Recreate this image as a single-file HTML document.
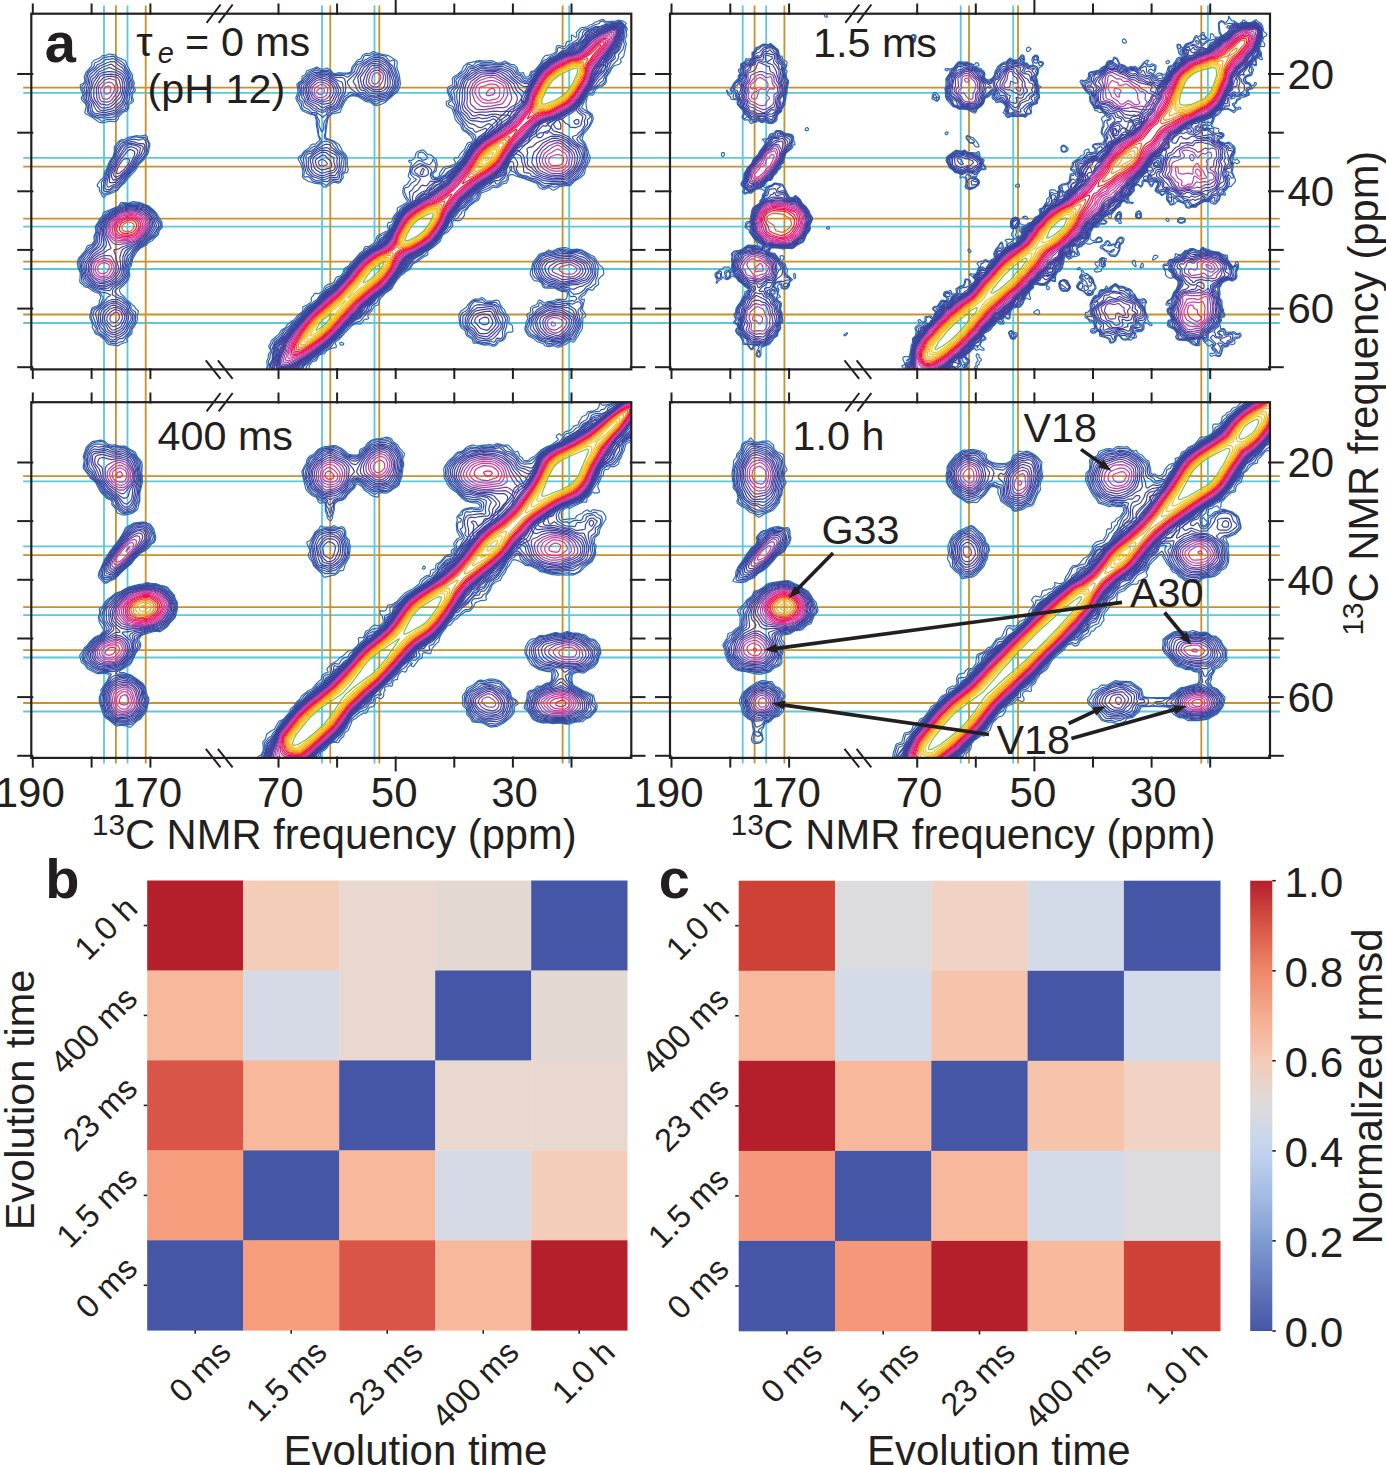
<!DOCTYPE html><html><head><meta charset="utf-8"><style>html,body{margin:0;padding:0;background:#fff}svg{display:block}text{font-family:"Liberation Sans", sans-serif;fill:#231f20}</style></head><body>
<svg width="1386" height="1465" viewBox="0 0 1386 1465">
<rect width="100%" height="100%" fill="#fff"/>
<g fill="none"><path d="M23.2 87.6L1279.8 87.6" stroke="#c8912a" stroke-width="1.8" />
<path d="M23.2 166.6L1279.8 166.6" stroke="#c8912a" stroke-width="1.8" />
<path d="M23.2 218.7L1279.8 218.7" stroke="#c8912a" stroke-width="1.8" />
<path d="M23.2 261.6L1279.8 261.6" stroke="#c8912a" stroke-width="1.8" />
<path d="M23.2 314.5L1279.8 314.5" stroke="#c8912a" stroke-width="1.8" />
<path d="M23.2 92.8L1279.8 92.8" stroke="#5bc8dc" stroke-width="1.8" />
<path d="M23.2 157.8L1279.8 157.8" stroke="#5bc8dc" stroke-width="1.8" />
<path d="M23.2 226.6L1279.8 226.6" stroke="#5bc8dc" stroke-width="1.8" />
<path d="M23.2 269.0L1279.8 269.0" stroke="#5bc8dc" stroke-width="1.8" />
<path d="M23.2 323.0L1279.8 323.0" stroke="#5bc8dc" stroke-width="1.8" />
<path d="M23.2 476.1L1279.8 476.1" stroke="#c8912a" stroke-width="1.8" />
<path d="M23.2 555.1L1279.8 555.1" stroke="#c8912a" stroke-width="1.8" />
<path d="M23.2 607.2L1279.8 607.2" stroke="#c8912a" stroke-width="1.8" />
<path d="M23.2 650.1L1279.8 650.1" stroke="#c8912a" stroke-width="1.8" />
<path d="M23.2 703.0L1279.8 703.0" stroke="#c8912a" stroke-width="1.8" />
<path d="M23.2 481.3L1279.8 481.3" stroke="#5bc8dc" stroke-width="1.8" />
<path d="M23.2 546.3L1279.8 546.3" stroke="#5bc8dc" stroke-width="1.8" />
<path d="M23.2 615.1L1279.8 615.1" stroke="#5bc8dc" stroke-width="1.8" />
<path d="M23.2 657.5L1279.8 657.5" stroke="#5bc8dc" stroke-width="1.8" />
<path d="M23.2 711.5L1279.8 711.5" stroke="#5bc8dc" stroke-width="1.8" />
<path d="M115.9 5.5L115.9 763.5" stroke="#c8912a" stroke-width="1.8" />
<path d="M145.7 5.5L145.7 763.5" stroke="#c8912a" stroke-width="1.8" />
<path d="M330.3 5.5L330.3 763.5" stroke="#c8912a" stroke-width="1.8" />
<path d="M379.3 5.5L379.3 763.5" stroke="#c8912a" stroke-width="1.8" />
<path d="M562.6 5.5L562.6 763.5" stroke="#c8912a" stroke-width="1.8" />
<path d="M104.0 5.5L104.0 763.5" stroke="#5bc8dc" stroke-width="1.8" />
<path d="M127.5 5.5L127.5 763.5" stroke="#5bc8dc" stroke-width="1.8" />
<path d="M322.0 5.5L322.0 763.5" stroke="#5bc8dc" stroke-width="1.8" />
<path d="M374.5 5.5L374.5 763.5" stroke="#5bc8dc" stroke-width="1.8" />
<path d="M569.2 5.5L569.2 763.5" stroke="#5bc8dc" stroke-width="1.8" />
<path d="M754.6 5.5L754.6 763.5" stroke="#c8912a" stroke-width="1.8" />
<path d="M784.4 5.5L784.4 763.5" stroke="#c8912a" stroke-width="1.8" />
<path d="M969.0 5.5L969.0 763.5" stroke="#c8912a" stroke-width="1.8" />
<path d="M1018.0 5.5L1018.0 763.5" stroke="#c8912a" stroke-width="1.8" />
<path d="M1201.3 5.5L1201.3 763.5" stroke="#c8912a" stroke-width="1.8" />
<path d="M742.7 5.5L742.7 763.5" stroke="#5bc8dc" stroke-width="1.8" />
<path d="M766.2 5.5L766.2 763.5" stroke="#5bc8dc" stroke-width="1.8" />
<path d="M960.7 5.5L960.7 763.5" stroke="#5bc8dc" stroke-width="1.8" />
<path d="M1013.2 5.5L1013.2 763.5" stroke="#5bc8dc" stroke-width="1.8" />
<path d="M1207.9 5.5L1207.9 763.5" stroke="#5bc8dc" stroke-width="1.8" /></g>
<defs><clipPath id="cp"><rect x="0" y="0" width="1200" height="711.4"/></clipPath></defs>
<g transform="translate(31.3,13.7) scale(.5)" clip-path="url(#cp)" fill="none" stroke-width="2.4" stroke-linejoin="round">
<path stroke="#2f6db6" d="M683 76l3 0 6 3 8 2 15 3 13 8 4 4-1 12 5 14 2 16 0 4-4 12-3 4-5 3-18 16-8 4-10 3-4-1-8-6-8-1-16-10-10-2-6 1-5 3-7 10-6 12-1 4-1 3-8 2-8 1-6 5-2 3-2 8-4 30 2 3 14 5 12 8 7 14 6 6 2 4 1 6 0 12 2 8-1 2-1 3-2 1-4 1-3 3 1 6-6 9-4 2-8-2-4 1-10 7-4 2-2 0-2-1-4-5-14-2-12-4-10-6-2-3 1-8 0-4-4-14-5-8 0-4 2-2 5-4 5-7 10-7 4-6 2-1 6 0 2-1 2-3 4-3 1-2-3-8-4-22 0-8-2-9-2-2-8-2-16-7-3-4-3-8-4-6-2-4-1-4 4-10 0-8-2-8 1-2 2-2 6-4 1-2 1-7 6-3 3-8 3-1 6-2 8-3 4-1 8 4 4 0 6-2 2 0 6 3 5 6 3 2 2 0 6-2 10 1 8 0 4-1 3-2 1-2 1-6 1-2 5-6 5-7 2-1 4-1 1-1 3-6 2-2 4-2 8 0zM152 82l2-1 2 0 10 1 2 1 5 5 7 2 8 4 1 2 3 8 4 7 2 5 4 6 1 10 3 6-1 8 3 6-1 4-4 4-1 2 0 4 2 6 0 4-2 2-6 3-1 1 0 6-3 6-2 1-6 2-2 2-7 7-2 6-3 3-4 1-8-1-6 1-6 2-4 0-4 0-4-2-11-8-7-4-7-4-1-1-1-1 3-14-2-4-6-6-2-4 1-4 2-4 0-2-4-8-1-8 0-2 6-3 3-3 0-2-1-8 3-8 12-14 0-6 2-2 3-3 12-5 4-4 6 0zM223 244l3-1 2 0 2 1 2 2 1 6 4 8 0 4-3 14-2 4-7 10-11 11-6 11-16 17-5 7-7 6-8 10-14 6-7 2-5 5-2 0-1-1-2-2-1-4-4-6 0-6-4-3 0-3 7-10 5-4 3-12 3-4 6-16 6-8 2-4 2-8 0-8 0-2 4-4 6-8 4-2 6 0 6-4 14-3 4-1 8 1zM179 378l3 0 12 1 8-3 2 0 14 2 16 6 12 10 5 6 10 16 1 10 0 2-6 6-2 8-9 8-3 4-6 3-5 5-13 7-8 9-7 12-3 14-4 6 0 6 1 8-4 10-7 8-7 6-3 4 1 4 2 4 5 4 6 8 6 4 6 6 3 2 4 6 5 4 0 2-2 8 0 8-1 4-5 10-4 5-1 9-7 6-3 4 1 6-14 5-4 3-2 0-16-2-4-2-4-6-4-4-7-6-9-4-1-2-2-6-3-4 0-8-5-12 0-4 2-6 1-6 2-4 2-1 8-3 3-2 1-4 0-4 3-6 0-2-3-6-2-1-6-2-4-2-10-7-8-2-3-4-5-4-1-2 0-2 1-14-1-4-3-6-2-10 1-6 1-4 14-16 3-8 2-2 7-2 2-2 3-4 1-2-1-8 4-10-1-8 1-4 4-6 4-8 5-5 2-7 3-2 27-11 2-2 2-4zM1065 468l5 0 10 4 12-1 10 2 18 10 6 3 10 16 2 2 4 3 2 3 1 10-1 2-6 5-4 5 0 4 1 4-1 2-6 4-4 6-2 1-6-1-2 0-2 2-4 7-2 2-4 2-2 3-1 2 3 2 4-1 0 3-2 8-2 10 6 8 1 4-1 2-4 2-1 2 0 6-1 14-5 8-3 6-3 4-5 8-2 1-6-2-2 1-5 4-15 7-4 0-6-3-10 2-6-1-3-1-3-4-12-4-2-1-5-5-11-6-3-4-3-6-1-4 2-8 0-4 4-8 0-2-2-4 0-2 3-3 3-1 2-2-1-4 1-4 3-3 8-3 2-2 2-6 2-1 4 1 6 5 6-3 10-1 10-4 14 1 2 0 3-4 1-4 0-4 0-2-2-2-8 0-8-3-6-4-12 0-6 0-5-1-2-2-2-6-3-3-4-2-8-1-2-2-6-10 0-6 3-8 2-10 13-17 2-1 10-3 6-4 2 0 6 2 10-5zM896 570l4-2 4 1 2 1 3 4 3 1 10 0 8-2 4 1 2 2 2 6 4 6 4 4 4 9 5 5 1 4-1 8 1 2 4 2 2 2 1 8 0 2-1 2-2 1-6 0-2 1-2 2-2 8-1 2-5 4-8 3-3 5-5 3-4 0-6-3-10 1-14-4-8 0-2-7-2-2-6-4-3-2-2-4-1-6-8-6-2-3-1-3-2-18 1-4 4-6 10-7 3-5 9-9 4-2 8 0zM617 658l3-1 3 1 2 2-1 2-2 1-2 0-2-1-1-2zM470 712l2-8-1-8 0-2 3-6 0-6 4-6 1-2-4-8 0-2 3-4 2-6 2-2 8-7 4-3 2-2 3-6 2-2 7-4 4-6 4-3 4-4 6-3 8-10 8-6 1-2 0-6 0-2 9-4 6-4 2-2 0-2 0-4 0-2 4-4 2-4 2-1 4 1 2 0 2-1 8-5 2-7 2-2 4-3 8-2 6-4 2-6 4-4 6-1 2-2 3-5 3-8 2-2 7-4 4-6 5-4 14-16 6-4 2-6 2-2 6 0 8-5 2-1 3-4 2-4 2-6 3-3 12-6 4-1 3-2 1-2 0-2-2-6 1-4 1-2 6-1 1-1 3-10 8-10 0-6 1-2 17-10 2-2 0-2-5-6-4-10 0-2 1-8 1-2 1-2 6-3 6-9 0-2-4-4 0-2 3-10 1-8 2-6 0-2-4-1-1-1 0-2 1-1 4 1 5-4 2-2 2-8 3-4 2-1 6-2 4 0 2 1 6 7 8 2 6 5 4 4 2 10-2 10 0 2-6 5-1 3 1 3 2 2 4 1 2-1 2-1 2-2 1-6 7-10 4-2 8-1 4-2 6-2 2-1 0-2 0-2-3-4 1-3 2-1 4 0 2-1 4-7 8-8 6-13 2-1 6-1 3-3 0-2-1-2-4-6-4-3-4-4-6-3-2-2-3-8-1-2-6-5-4-5-3-12-3-9-2-2-8-4-2-3 0-2 0-4 2-1 4-2 2-3-6-14 0-4 1-4 3-3 6-3 1-2-1-6 0-4 2-3 2-2 6-3 9-8 3-8 2-2 6-5 10-2 12-3 4 0 8 1 14-1 4 1 6 3 4 1 4 0 8-4 2 0 12 7 6 0 2 2 4 4 2 8 2 2 4 1 4-1 1 2 2 4 1 2 2 1 4-1 2-2 2-6 1-2 7-2 2-2 10-12 4-9 4-5 2-2 6-1 12-4 3-3 1-10 2-2 4 0 8 2 2 0 2-2 2-6 1-2 7-1 2-1 1-2-1-6 0-3 2 0 2 1 4 3 2 0 1-1 0-2-1-4 0-2 8-9 2-1 10-1 3-1 3-3 6-2 6-4 12-5 4 0 6 4 2 0 16-1 8-2 2 1 6 1 2 1 4 4-2 2 0 2 4 6-2 6 0 2 1 4 0 2-3 5-1 3 3 8-5 24-1 2-5 4-1 2 2 4-1 2-3 3-10 3-6 7-3 7-5 6-1 2-1 4 0 6-2 4-6 5-8 3-4 2-2 3-3 7-1 2-2 1-6-1-2 1-2 3-3 14 2 10 1 4 8 6 2 2 1 4 1 4-2 6-5 10-6 8-6 6-3 8 0 4 6 8 5 12 2 8 3 8-2 8-8 14-1 8-2 4-7 6-10 6-10 10-4 0-6 0-12 2-5 4-7 3-3-1-3-3-2-1-4 1-6 2-4 0-6-3-3-6-3-3-24-9-16-5-6-3-6 0-3 2-1 8-4 7-6 1-2 1-4 4-4 2-4 1-6-1-2 1-4 3-8 4-9 3-3 4-1 6-3 5-8 4-10 8-4 6-3 3-2 2-1 8-6 8-4 2-2 0-8 0-2 0-1 2-1 2 1 6-1 2-5 6-3 4-6 3-4 3-2 2-3 8-2 4-13 11-10 7-1 2 0 6-1 1-7 3-13 10-8 4-6 10-2 2-7 4-4 4-5 3-4 5-4 4-8 12-3 6-1 1-12 8-4 5-6 5-1 3-2 8-1 2-8 3-6 10-6 7-1 2 0 2 2 2-1 2-2 1-4 0-2 1-6 8-2 1-8-1-6 2-4 3-4 5-10 10-6 7-6 6-5 3-1 2 0 2 2 4 0 2-1 2-7 1-8 3-3 2-3 4-2 2-8 2-2 1-2 3-4 8-8 2-6 8-1 8"/>
<path stroke="#2e5aab" d="M683 80l25 5 2 1 2 4 4 4 2 1 4-2 2 0 2 1 1 2-1 8 6 18 2 6 1 4 0 8-4 14-7 6-4 4-12 10-10 2-8 5-4-1-8-6-8-1-6-4-10-5-12-2-2 0-10 6-6 8-4 9-5 7-7 4-6 1-6 5-2 2-2 7-2 5-2 14 0 8-2 6 0 4 2 3 12 3 4 2 7 8 4 8 9 8 3 4 2 4 0 4 0 6 0 4-1 10 0 2-2 2-5 4-1 2 0 6-2 5-2 2-2 1-12-2-4 2-6 6-2 1-2 0-3-3-3-1-12-2-5-1-3-2-5-6-3-2-2 0-4 1-2-1-1-2 1-8-2-8-2-10-3-6-1-2 8-12 2-2 9-4 5-5 2-1 8-2 7-8 1-2 0-2-5-8-1-12-2-8 0-10-4-12-2-1-6-1-8-5-8-3-3-4-1-8-7-8-1-4 4-10-1-8-1-6 0-2 1-2 7-6 3-6 5-4 4-7 2-1 12-6 4 0 8 4 14-1 4 2 4 5 4 2 2 0 8-1 16 0 4-1 5-4 3-8 8-10 2-2 6 0 2-2 3-8 2-2 3-1 6 1zM157 86l5-1 4 1 6 5 8 4 7 7 3 8 4 4 5 10 1 8 3 6 0 8 1 6 0 2-4 5-1 3 1 6 1 6-2 2-3 1-3 3 0 2 0 6-3 4-9 4-8 8-5 7-18 1-8 3-3-1-3-3-14-6-9-7-1-4 0-8-1-4-7-12-1-2 3-8-4-8-1-6 1-2 6-6 1-2 0-8 3-10 2-3 11-9 2-8 6-2 5-3 6-5zM201 248l7-2 10 2 8-1 2 1 2 2 4 8 1 4-4 18-10 14-8 8-7 10-6 6-10 12-4 6-6 6-8 10-2 1-6 1-7 4-7 1-4 3-2-1-4-7 0-2 1-6-1-8 1-2 5-6 3-12 3-6 6-16 4-6 3-6 3-8 1-8 5-6 2-4 2-3 2 0 6 0 2 0 6-4zM776 278l4-1 2 0 2 1 8 8 0 2-1 2-3 2-4 1-2 0-4-4-4-1-1-4 1-4zM183 380l11 0 8-1 12 0 18 5 4 3 8 7 6 8 5 10 4 6 1 6-1 4-5 5-2 7-3 4-15 11-4 5-13 8-10 10-6 12-3 12-4 6 0 16-4 10-6 6-8 6-8 7-1 3 1 2 7 6 7 3 6 7 6 4 3 2 2 4 1 6 2 2 6 4 1 4-1 16-2 5-6 9-1 6-2 4-8 8-3 5-2 2-2 1-6 1-6 3-4 0-8-1-3-1-7-8-10-8-8-4-1-2 1-6-4-6-6-15-1-5 3-12 2-2 9-4 3-2 3-4 2-6 3-4 0-2-5-8-3-3-10-4-6-5-12-5-7-7-1-16-4-10-1-14 1-5 8-10 5-5 5-8 8-5 5-7 1-2-1-8 4-10 0-10 0-2 8-12 11-14 16-9 9-3 5-5zM1054 472l10-1 4 0 10 3 14-1 10 2 4 2 14 10 4 2 3 3 7 14 0 2-1 6 0 6-1 6-3 6 0 6 0 2-6 4-3 3-8 3-4 6-8 6-5 6 0 2 1 2 5 4 1 2 0 6-4 10 1 2 4 4 0 2-3 6-1 2 1 8-2 10-12 23-2 2-6-1-4 1-7 5-11 6-3 0-5-3-2 0-8 2-4 0-3-1-5-5-10-3-8-6-12-6-6-8-1-4 7-20 0-6 6-4 1-2 1-2-2-4 1-2 2-2 7-2 2-1 2-6 1-1 2 0 3 4 4 1 8-5 12-1 6-3 4 0 10 2 6-1 4 0 4-1 6 1 2-1 2-2 1-2-1-2-2-2-2-1-6 1-2-1-2-2-2-7-2-2-10 0-6-2-7-4-3-1-10-1-6 1-3-1-7-10-4-3-9-5-4-6-1-8 3-14 7-9 5-7 3-3 14-5 6 1 4-1zM899 572l3 0 4 4 4 2 16-1 4 1 2 2 6 6 3 8 11 14 0 2-1 14-2 6-2 6 0 8-2 4-3 4-2 1-6 0-2 1-3 6-3 2-2 0-2 0-4-3-12 2-19-5-5-8-4-3-5-3-1-2 0-4-2-4-9-8-2-2-1-14 2-6 2-4 6-3 4-3 2-2 2-8 8-8 4-1 6 1zM472 712l2-8 0-4 0-4 3-6 1-8 3-6 0-2-3-6 0-2 4-6 2-6 12-9 4-5 3-6 7-5 8-6 4-6 8-5 4-6 10-10 4-8 14-9 4-4 6-4 6-9 8-6 2-5 2-3 4-2 6-2 8-5 6-9 6-4 4-4 2-4 2-6 2-2 6-4 22-25 7-5 4-6 7-3 10-5 4-4 2-4 2-6 2-3 8-3 10-6 2-4 1-8 5-3 2-3 3-12 8-10 3-6 2-2 14-10 2-2 0-2-5-6-2-6-2-4-1-2 0-4 0-2 2-2 6-1 1-1 5-7 8-5 2-2-1-2-3-1-8-8 0-3 1-8 1-3 2-2 8-8 4-3 2 0 4 1 10 5 6 2 2-1 4-5 1-4 1-1 2 3 3 6 0 4-3 10-5 6 0 4 3 4 4 2 4 0 3-2 4-4 6-8 2-4 1-2 10-3 8-3 3-2 4-6 5-5 4-5 5-10 5-6 3-8 8-4 2-2 1-2 0-4-3-6-3-3-4-2-6-5-5-2-1-2-2-8-2-3-6-6-4-8-6-18-2-2-6-2-1-1-1-2 1-2 5-4 1-4-6-12 0-4 0-2 1-2 10-6 1-2-1-10 1-4 7-4 4-4 6-4 2-2 6-11 2-2 2 0 6 3 2-1 5-5 7-2 10 2 16 0 6 2 4 1 6 0 6-2 4 0 4 1 6 4 8 3 3 3 3 8 2 2 6 2 2 1 3 5 3 2 4 1 5-3 1-2 2-6 1-2 7-3 10-12 6-9 2-1 4-1 8-7 8-3 3-2 3-4 0-6 2-2 4 0 6 2 3 0 7-7 18-11 3-4 0-8 4-6 2-2 3-1 8-1 16-8 6-2 2-1 2-3 4-1 2 0 4 4 2 0 20-2 6-3 2 1 4 3 5 6 2 4 0 2-2 6 0 8-3 8 0 2 2 6 0 2-3 10-9 10 1 4-3 7-8 8-6 9-4 8-5 8-1 8-2 4-5 4-9 4-4 3-3 3-3 6-2 1-4 0-2 0-3 5-8 18-2 4 0 2 1 1 6 4 10 7 2 4 1 4 0 4-5 12-10 11-9 13 0 2 1 2 8 9 3 7 2 6 1 8 2 8-1 4-2 6-5 9-3 9-3 4-6 6-8 5-6 6-4 3-20 1-3 1-5 3-2 0-6-2-4 0-10 3-2 0-2-1-9-9-3-1-32-11-6-3-6-6-6-3 1-4-1-5-2 1-1 2 0 2 1 4-6 10-1 8-2 2-7 3-7 7-5 1-6-2-10 6-12 5-2 1-4 5-3 10-3 2-4 2-10 8-6 8-7 4-2 2-1 4-4 4-2 4-3 2-7 1-3 1-1 4-1 8-5 5-3 5-9 7-7 13-11 11-10 7-4 4-1 4-2 2-7 4-10 8-8 5-6 10-8 5-10 8-8 10-12 18-10 7-6 5-6 4-5 12-7 4-2 2-2 2 0 4-3 4-12 12-5 7-2 2-8 2-13 7-8 10-5 4-5 8-9 6-4 4-3 6-3 4-10 6-6 5-6 3-4 2-4 7-2 2-6 2-2 1-8 10-2 2 0 4-2 2"/>
<path stroke="#3450a6" d="M680 86l4-2 10 1 10 3 4 3 14 13 4 8 6 20 0 10-4 10-8 10-6 5-8 4-10 2-8 3-2 0-8-5-6 0-2-1-6-4-8-3-8-2-6-3-4-1-2 1-3 4-7 4-1 2-6 14-5 6-6 4-9 2-5 5-3 9-5 8-1 4 0 8-1 4-2 4-2-1-4-10-1-3 1-8-4-7-2-7-2-2-6 0-2-1-6-6-6-3-2-1-2-3-1-8-5-3-2-3 0-4 2-4 0-4 0-6-2-8 1-2 7-6 2-4 6-6 4-6 4-3 8-4 2 0 10 3 14 0 2 1 6 5 4 2 4 0 12-1 4 1 4 2 2 1 2-1 12-10 2-6 4-8 2-1 8-3 6-6zM162 90l2 0 4 2 16 12 2 2 2 6 5 6 2 4 5 18 0 10-4 10 0 12-6 8-1 8-1 2-8 3-14 13-4 1-16 2-14-2-8-3-5-4-4-4-1-4 1-6-1-4-7-12 0-2 1-8 0-3-3-7 1-4 5-8 1-12 2-6 2-3 12-9 4-6 9-4 7-6 10-1zM201 252l5-1 10 2 4-2 4-1 3 2 3 6 1 4-1 14-1 4-11 14-6 5-7 11-16 18-5 7-6 5-6 7-2 1-6 1-8 6-4 1-6-1-2-2 0-3 1-14 4-8 1-8 4-8 5-14 6-10 6-16 9-13 8-2 8-4zM585 256l5-1 10 3 2 2 2 4 4 4 4 6 10 8 3 4 1 4-1 6 0 6-2 6 0 4 0 2-5 4-1 2-1 8-2 3-4 1-10-1-2 0-6 5-2 0-20-2-6-3-8-8-5-3-1-2-4-14-1-8-1-6 1-4 3-6 2-2 2-1 8-2 6-5 8-5 8-8zM186 382l10 0 6-1 10 0 20 5 11 10 6 8 4 10 5 6 0 4-1 2-6 8-4 8-13 11-6 6-11 7-12 10-6 14-3 10-4 6-1 4 1 12-6 12-4 4-16 10-3 4-1 8 0 2 10 6 8 2 6 6 7 4 3 4 2 9 7 7 1 4-1 12-7 12-2 8-2 3-12 11-6 0-8 6-6 0-4 0-2-2-6-6-17-12 0-6-4-8-1-5-2-5-3-8 1-6 2-5 4-3 7-4 7-10 5-4 3-5 6-3 0-2-9-4-7 0-14-7-7-5-8-4-7-6-2-4-2-12-3-10-2-14 2-4 7-10 6-6 4-5 6-4 7-9 1-4 0-8 3-10 0-10 2-4 7-10 8-10 4-3 14-9 6-2 8-5zM1056 474l4-1 4 0 12 3 16-1 10 3 6 3 10 8 6 4 2 3 3 12 0 12-1 6-8 12-3 4-7 4-4 6-5 4-7 4-6 1-4 0-9-9-3-1-8 0-4 0-4-1-8-4-12-2-8-3-17-15-4-8-1-6 1-10 11-16 2-2 4-2 8-3 12-1zM884 578l2-2 2 0 6 1 6 0 8 3 14 0 6 2 6 4 1 2 1 6 1 2 7 6 3 6 2 4-2 6-1 8-4 10 1 8-1 3-2 2-2 1-6-1-2 1-2 5-2 2-2 0-4-2-2 0-10 3-6-1-7-1-5-2-8-11-6-5-4-6-8-10-1-2 0-12 1-4 6-5 6-6 1-3 2-6zM1053 578l5 0 8 2 6-1 10 2 10-5 2 0 4 2 1 2 1 4-2 4-4 4-1 4 3 8 0 6 2 8-1 4-4 10-9 16-2 1-6 1-5 2-11 8-4 1-10-3-8 2-4 0-6-4-10-3-8-7-11-6-6-8 0-4 3-6 1-10 2-4 7-8 4-7 10-7 8-2 6-3 14-2zM476 712l1-6-1-4 1-2 4-6 1-4 0-8 2-8-2-6 1-2 4-10 11-8 8-13 6-3 8-8 4-5 7-5 14-16 5-8 6-5 9-5 9-8 6-9 7-5 5-7 10-5 8-6 6-8 6-5 5-5 5-10 7-6 19-22 8-6 6-6 18-10 10-14 4-2 10-8 3-4 4-8 3-3 2-3 3-12 2-4 11-14 16-12 1-2 0-2-2-6 0-4-1-7 1-1 5-4 4-7 6-4 6-9 0-2-4-4-3-2-5-2-5-4 0-4 2-6 11-7 2-1 6 1 6 2 6 3 6 6 1 2-3 8 1 4 2 4 3 2 2 0 4 0 4-1 8-6 6-3 5-6 5-3 4-3 8-5 5-7 5-4 5-6 4-10 7-8 2-6 8-6 2-2 1-6 0-4-2-4-19-14-3-6-3-6-5-6-7-13-2-5-1-8-1-3-3-3 0-10-4-10 0-2 2-4 9-8 1-4-2-6 1-3 10-8 8-5 6-11 2-1 8 1 8-5 6-2 8 1 14 0 12 2 10-1 4 0 18 9 2 3 4 6 2 2 6 2 2 2 4 6 2 1 4 2 2-1 7-4 3-8 6-4 17-20 7-4 8-7 9-3 11-9 8-2 2-1 4-4 10-8 10-4 6-8 2-4 1-6 1-2 2-2 13-4 9-4 8 0 10-4 24-3 8-3 4 3 4 5 0 4-2 8 1 8-3 8-1 8-4 12-4 4-5 4-1 2 1 6-1 2-7 6-8 20-5 8-3 10-6 4-3 4-9 6-6 5-6 3-4 6-8 16-6 8 0 2 4 5 4 3 6 2 4 2 2 2 2 4-1 2-3 2-2 3 1 7-1 2-5 6-7 12-6 6-3 4 1 3 2 3 8 5 4 5 3 8 1 16-1 6-2 6-3 5-4 9-6 8-10 8-6 5-4 2-12 2-22 1-12 3-2 0-16-11-10-3-8-3-8-2-10-4-4-4-4-6-1-4 0-6-1-4-2-2-2 0-2 0-2 3-2 5-2 4-1 2 0 8-3 7-2 4-6 5-4 5-2 2-2 0-3-1-2-4-3 0-6 6-19 10-6 8-2 6-1 2-6 3-4 4-6 4-6 8-8 4-3 3-9 12-6 2-2 2-10 20-8 9-8 13-9 10-14 10-9 9-14 8-9 9-5 8-18 15-20 28-8 5-6 6-8 5-8 11-9 8-1 2-1 6-1 2-6 5-5 3-5 7-8 3-17 12-6 8-5 5-5 7-12 10-8 10-9 6-6 5-8 5-6 7-9 5-5 6-8 6-3 6-1 2"/>
<path stroke="#364ca3" d="M481 712l0-2-3-6 1-4 3-5 1-5 2-14 0-10 2-6 3-4 8-6 10-11 24-24 21-25 21-17 7-9 5-4 6-8 11-6 7-6 6-7 12-11 5-8 11-12 14-17 16-12 16-9 10-12 15-14 11-17 5-13 2-4 11-13 6-6 19-13 6-6 7-6 10-6 9-8 5-7 8-4 8-7 8-6 4-5 16-12 14-15 7-12 5-8 3-6 9-7 6-10 14-10 16-17 6-5 6-7 12-11 8-8 6-4 10-5 3-2 9-16 4-6 4-10 9-14 4-8 9-12 10-11 16-12 8-3 14-10 8-3 6-5 8-6 10-4 10-12 4-8 5-4 15-6 8-1 14-3 9-2 19-5 2 1 2 1 3 5 0 6-6 28-5 14-2 3-5 5-3 8-7 8-5 8-8 10-8 7-6 7-4 6-3 8-3 6-8 9-12 21-6 7-6 8-8 6-10 5-6 5-4 2-6 1-4 2-9 8-3 8-2 3-6 2-6 3-8 1-6 5-7 4-7 8-6 4-12 12-8 6-14 18-6 14-1 8-2 4-3 4-8 7-2 1-6 0-4 1-6 4-8 3-11 8-12 14-8 8-8 6-5 7-12 9-8 10-6 5-9 17-9 11-8 13-9 10-25 21-10 5-4 3-12 14-18 17-20 26-14 12-8 6-11 12-9 8-1 2-3 7-7 7-5 6-11 6-14 12-17 19-12 11-10 10-21 16-7 6-9 6-6 6-5 4-6 7-2 2-4 1"/>
<path stroke="#3949a0" d="M684 88l10 0 6 1 10 7 6 6 4 6 9 22 0 6 0 6-3 8-9 12-3 2-6 3-20 5-2 0-8-3-6-1-8-6-11-2-3-2-11-8-6-10-1-4 1-2 17-16 5-12 2-2 7-4 8-6zM152 98l6-2 8 0 3 2 5 5 8 5 11 16 4 16 0 8-3 8-3 16-6 14-6 4-7 7-8 5-8 1-8 2-14-1-6-1-4-2-3-3-3-4-1-12-5-8-2-4 1-10-1-12 4-10 1-10 3-7 6-5 12-11zM565 118l5-1 10 1 14 1 12 8 4 1 10-1 3 1 3 2 1 2 1 4 1 10-1 10-2 6-5 6-6 14-3 4-4 3-10 2-4 2-2 3-2 6-4 2-2 3-2 0-5-5-5-3-2-4-6-2-8-7-6-3-2-3-2-6-5-6 0-14-1-10 14-16 4-6zM1050 214l-5 6 0 2 0 2 5 6 4 1 2 0 2 0 1-3 0-4-1-5-2-4-2-2-2 0zM192 258l6-2 6 0 4 1 8 3 8 0 2 2 1 4 0 6-1 6-10 13-6 7-4 8-3 4-7 8-23 24-3 2-7 2-7 6-2 0-4 0-2-2-1-2 1-12 3-8 2-8 8-20 5-8 4-11 4-7 6-9 4-4zM586 262l4-1 7 1 4 6 5 3 4 5 8 6 3 4 1 2 0 2-2 8-1 12 0 2-5 6-1 8-3 2-4 0-6-1-2 0-12 5-4 0-4-1-8-3-4-1-4-2-8-9-3-8-1-4 0-8-1-8 1-5 2-2 8-2 8-7zM775 306l3-1 4-1 4 1 4 3 2 2 2 4 0 4 0 2-1 2-5 3-6 1-4-1-10-7-2-3 1-3zM187 384l23-1 18 4 4 1 10 10 5 8 3 9 4 5 1 2-1 4-10 16-12 10-6 6-10 6-12 10-9 16-2 8-4 8 0 4 1 8-1 4-5 10-8 7-12 6-6 8-2 1-18-2-8-3-14-8-8-9-2-4-2-10-3-8-1-8 1-6 2-4 7-10 14-14 8-10 1-4 0-8 2-8 1-12 3-6 7-10 6-7 6-5 12-7zM1059 476l5 0 10 2 16 0 14 4 6 4 12 12 1 2 2 6 1 12 0 4-2 4-9 12-9 4-4 3-6 1-5 2-5 3-4 0-2 0-5-3-3-1-8 2-4-1-4-1-8-4-12-2-10-6-11-9-5-10-1-6 2-8 9-14 4-4 4-1 19-3zM160 572l12 0 4 1 14 9 3 4 2 8 1 2 6 6 1 4-1 8-13 24-9 7-8 3-6 4-4 1-4-2-5-5-15-12-2-6-3-6-1-8-4-14 3-6 7-6 8-9 8-5zM887 584l3-1 6-1 12 1 12-1 4 1 4 2 3 3 3 11 2 2 5 5 2 6 0 12-1 4-2 3-4 5-4 6-8 8-12 4-14-1-4-1-4-3-5-7-9-9-5-7-2-4-1-4 0-10 3-4 13-17zM1035 584l11-2 12 0 10 2 4-2 2 0 12 8 2 2 1 2 6 24-1 4-3 8-9 14-4 3-8 3-10 7-4 1-10-2-10 0-6-2-10-3-13-11-9-10 0-2 2-6 0-8 2-6 10-12 8-6zM482 712l-1-2-2-4 0-2 5-10 2-18 0-8 1-4 4-6 8-6 9-12 6-5 12-14 6-5 6-6 16-20 12-8 8-7 8-11 6-5 4-4 8-5 11-8 6-8 7-6 5-6 5-8 24-28 10-7 10-8 14-7 24-26 6-10 5-6 4-12 3-6 12-14 12-9 4-5 1-2-1-6 2-8 1-2 9-6 6-8 2-1 4 1 4 0 3-2 5-7 6 1 10-2 10-7 8-3 4-5 14-11 16-18 6-12 5-6 3-6 9-8 5-9 2-2 7-3 5-4 2-4 1-4-1-2-2-1-6 3-6 2-6 3-2 0-2-2-3-5-5-1-4-2-14-19-3-6-5-7-1-3 0-8-4-10 0-10-2-6 0-2 0-2 6-6 2-4 1-8 2-4 4-4 11-8 5-9 2-1 8-1 10-5 4-1 32 3 8-1 4 1 16 7 7 9 3 3 6 3 5 6 7 3 4 0 4-1 5-4 4-8 5-5 7-9 9-10 6-3 8-7 8-3 14-9 10-3 14-12 8-3 3-2 9-8 2-4 1-6 4-4 13-5 10-1 14-6 20-3 8-2 2-1 2 2 2 2 0 6-2 8 0 6-3 8-1 6-3 6-2 10-2 2-7 6-4 8-6 6-1 4-2 14-1 4-9 12-5 4-7 10-17 14-12 20-6 8-1 2 0 4 3 4 4 4 7 4 2 2 0 2 0 2-3 6 0 2 1 4 0 2-5 9-2 3-5 4-3 4-2 1-6 2-1 1-1 2 1 2 7 8 12 8 3 4 1 6 1 12 0 6-2 4-7 14-6 9-14 12-6 4-3 1-7 1-10 0-24 1-6-3-10-6-12-2-8-4-8-1-8-4-4-4-2-6 0-2 3-6-1-6-5-8-1-1-2 0-2 1-6 5-2 4-6 12-1 9-2 4-5 3-17 7-5 5-8 3-6 5-6 3-6 7-6 5-6 7-3 5-7 4-5 6-12 10-7 10-8 7-9 19-7 8-8 13-9 11-27 21-12 5-21 24-11 10-20 28-14 11-6 3-14 16-7 6-1 2-1 6-2 2-7 5-6 7-8 4-7 6-9 7-12 13-4 6-13 12-10 10-21 15-6 6-8 5-8 8-7 4-3 6-14 4"/>
<path stroke="#3a48a0" d="M484 712l-2-4 0-2 4-14 2-16 0-8 1-4 3-4 8-7 14-15 8-10 16-16 19-22 17-14 18-20 12-8 8-7 18-19 5-8 23-26 20-16 13-6 14-14 13-15 10-15 6-16 12-14 6-5 18-13 8-7 14-9 11-8 7-6 8-6 5-6 9-6 30-30 6-8 4-8 6-8 3-6 9-8 6-7 15-11 5-6 10-8 12-13 12-8 2-2 3-7 4-4 11-6 9-6 5-8 11-26 7-11 4-9 9-12 9-10 16-12 8-4 16-9 9-3 13-10 11-6 9-8 6-11 6-5 8-3 10-2 12-4 18-5 12-2 2 0 2 1 1 5 0 4-7 24-5 16-9 10-3 6-5 6-8 12-20 23-2 4-3 9-3 6-6 8-13 22-12 14-5 4-14 8-6 4-10 4-15 8-3 2-4 5-6-1-2 1-10 11-6 5-7 5-5 6-8 5-18 18-12 16-2 3-6 14-3 8-3 5-6 4-14 7-6 4-8 4-10 6-12 12-11 12-9 6-14 15-14 17-9 18-7 9-7 11-11 13-26 20-14 7-9 10-12 14-7 7-10 13-7 10-5 6-12 10-11 8-13 14-8 6-5 8-9 11-8 5-4 3-14 13-16 18-22 21-26 20-10 7-8 7-5 3-7 7-6 3-11 2"/>
<path stroke="#3a469f" d="M683 92l7-1 8 2 10 5 6 6 4 6 6 16 3 12-1 4-2 5-5 9-3 4-4 2-4 2-20 4-14-3-4-2-4-4-2-1-6 0-2-1-4-5-2-2-1-6-3-4-2-4 0-2 6-10 6-8 2-6 3-4 13-10zM156 102l4-1 2 1 5 4 15 9 5 5 2 4 5 14 0 6 0 4-3 8-2 12-6 14-7 6-5 6-5 3-4 2-16 3-16-2-5-2-3-4-2-14-5-6-1-4-1-16 3-12 2-12 2-4 6-5 6-7 4-3 6-4zM569 120l19 1 6 1 10 7 10 5 6 2 2 2 1 4 1 10 0 4-1 4-4 6-3 8-4 8-2 2-4 2-8 2-5 2-2 2-3 4-4 1-4 0-6-2-4-4-6-3-4-4-7-4-3-4-6-14 0-14 1-4 3-4 4-6 9-10 5-3zM193 260l5-1 6 1 16 4 2 1 2 3 0 2-4 10-10 14-7 12-9 12-24 22-8 3-8 4-2-1-1-4 1-8 2-6 1-8 8-18 5-8 8-18 6-9 4-4zM590 268l2 0 2 1 4 3 6 2 11 10 2 4-1 8 0 12-1 4-7 11-2 1-8-1-14 5-4 0-14-5-2-1-6-8-3-4-1-4 0-14 1-4 2-2 13-12 8-4zM782 310l2 0 2 2-2 4-1 4-1 2-2 0-2-2 0-2zM187 386l21-1 18 3 5 2 3 3 5 5 6 10 2 8 3 6 0 4-10 16-8 7-7 7-23 16-5 8-5 6-5 22 0 8 0 4-3 6-2 4-8 7-11 5-9 7-14 1-4-1-6-3-12-7-9-11-5-20-1-6 1-4 2-5 5-5 5-8 15-14 3-4 3-8-1-8 3-20 1-4 8-12 8-8 12-8zM1058 480l4-1 12 1 10 0 15 6 5 1 5 3 11 12 1 4 1 8 0 8-9 12-3 2-18 6-8 0-22 4-4-1-10-5-12-2-8-5-7-5-4-6-3-8-1-4 2-8 4-8 5-5 4-3zM160 576l12 0 4 2 10 6 4 4 4 10 5 6 1 4-1 4-3 5-3 7-7 12-9 6-13 5-2 0-12-7-7-8-7-10-2-16 1-8 1-4 6-6 8-7 4-3zM915 586l7 0 3 2 3 4 4 11 7 15 1 4-1 4-1 2-16 16-8 6-4 1-14-3-4-2-10-12-6-5-2-3-2-4-1-4 1-8 2-4 8-11 4-3 4-3 4-1 6 0zM1040 586l6-1 8 1 6 0 8 2 6 0 2 1 5 3 3 3 3 7 4 12 1 4-2 6-3 8-5 8-4 3-10 5-8 6-4 2-18-3-16-4-4-3-4-4-9-12-1-2-1-14 2-4 5-8 4-3 10-7 10-5zM485 712l-3-4 5-12 3-20 0-8 2-5 9-9 7-9 6-5 9-12 17-17 5-7 11-12 10-8 9-8 8-10 11-10 10-6 8-7 8-9 10-10 7-10 23-27 10-7 10-8 13-6 13-12 14-18 3-6 5-7 5-13 4-6 10-12 11-8 9-8 2-2 0-6 5-6 6-5 8-3 2-1 3-5 9-8 4-2 10-2 8-5 6-2 4-3 16-15 16-18 4-5 4-8 9-14 7-6 8-9 14-9 4-8 6-6 1-2-1-2-3-2-3-2-4 1-12 7-2 0-4-1-8-5-8-2-10-8-12-16-2-5 0-7-3-14 0-14 2-4 4-8 3-10 3-4 10-8 7-8 8-2 10-5 4-1 10 2 28 1 14 5 4 2 6 8 16 13 8 3 6 0 4-2 4-4 5-8 9-12 10-11 6-4 8-6 10-4 14-9 9-2 4-2 11-10 10-4 10-9 2-4 3-7 3-3 12-4 8-2 14-6 28-6 2 1 1 4 0 4-6 26-3 6-3 8-8 8-5 8-6 8-1 6-1 10-1 4-3 4-10 10-12 16-11 10-12 20-6 8-3 4 0 4 1 4 3 4 8 6 1 2 0 2-2 6-1 7-2 3-2 1-8 3-10-1-1-1-2-4-7-3-4-5-6-4-4-1-4 1-6 3-11 5-2 2 2 2 7 6 4 6 2 1 14 4 14 7 8 8 6 6 9 6 4 4 2 4 1 6 0 12-1 4-7 14-6 8-14 12-6 4-4 2-4 0-22 0-14-2-4-1-8-5-12-3-2-1-2-4-2-1-10-1-1-2-1-12-3-8-1-9-2-3-8-4-2 1-6 3-4 3-4 5-8 16-2 8-2 2-4 3-16 9-6 4-8 4-6 5-6 3-6 6-6 5-10 11-7 4-3 2-28 34-8 18-6 7-8 13-10 12-4 4-22 15-14 7-10 10-12 16-8 7-21 29-13 11-8 5-16 16-7 6-4 8-5 4-4 6-10 6-8 8-8 6-17 20-25 23-22 17-12 8-6 6-8 4-6 6-6 3-12 3"/>
<path stroke="#3b459e" d="M486 712l-1-2 0-2 3-10 5-30 1-4 22-25 8-9 12-13 22-25 18-16 18-19 10-6 10-9 16-17 8-11 22-26 18-13 16-9 14-12 12-16 8-14 8-16 10-14 6-5 19-13 9-7 14-8 15-11 13-10 10-9 30-32 6-7 7-12 10-14 15-15 14-9 6-7 10-7 8-9 15-9 3-4 6-9 8-6 11-9 3-4 4-7 8-23 13-22 8-12 7-8 18-13 6-3 16-9 12-3 14-10 8-3 10-10 6-11 4-3 10-4 10-3 10-5 6-2 20-4 4 0 1 1 1 6-3 12-4 14-5 12-9 10-13 20-20 24-3 6-4 12-3 6-6 8-12 20-12 14-6 5-20 12-16 6-20 7-6 4-6 8-6 6-23 20-15 15-14 19-11 22-3 4-12 9-12 8-10 5-10 7-13 11-9 9-9 7-3 3-24 29-4 7-7 15-14 20-10 12-9 7-18 12-13 7-9 8-12 16-8 9-20 27-14 12-9 6-15 14-9 8-12 16-11 8-16 16-15 16-23 22-24 19-26 18-8 6-4 2-10 3-5 2"/>
<path stroke="#3c449e" d="M683 96l7-1 8 2 4 2 5 3 6 6 2 4 5 14 3 10 0 4-1 4-7 12-2 2-3 2-16 4-4 1-4 0-12-3-2-2-4-5-2-1-6-1-3-3-3-14-1-8 1-3 6-7 5-10 11-9zM154 108l4 0 4 2 8 3 12 7 3 4 2 4 4 12 0 6-2 6-3 16-4 10-2 2-6 5-6 7-4 2-16 4-10-1-4-1-3-2-5-8-3-8-5-6-1-6-1-8 0-4 3-8 2-12 2-4 5-4 6-8 2-2zM567 124l5-1 6-1 10 1 6 2 16 11 3 4 6 12 0 6-4 6-1 6-5 10-5 4-13 4-5 4-2 1-4 0-4-2-6-5-8-5-6-3-2-2-6-16-1-10 3-8 6-8 8-8zM1089 212l3 0 2 0 1 2 0 4-1 2-2 1-4 0-2-3-1-2 1-2zM191 264l5-2 4 0 10 2 6 3 2 1 0 2-1 6-1 4-9 14-6 12-9 11-24 20-4 1-7 0-1-2 1-14 8-18 7-12 4-8 9-14 3-4zM577 274l7-1 8 1 14 7 4 3 1 2 1 4-1 6 1 8 0 4-2 4-4 5-2 1-10 2-10 4-4 0-4-1-8-4-7-7-1-4 0-6-2-6 0-4 1-2 2-4 4-4 7-5zM187 388l5-1 16 0 18 4 4 1 6 6 6 10 4 14 0 4-8 14-8 7-6 7-12 9-13 7-9 10-3 6 0 10-3 12 0 10-2 6-3 4-7 7-18 9-4 2-8 1-6-1-6-2-10-7-7-9-2-4-2-4-2-14 0-6 2-4 5-6 6-10 6-6 10-8 3-4 1-4 1-4-2-14 1-10 2-6 7-12 7-7 12-9 6-3zM1055 484l9-1 18 0 24 10 9 9 2 4 2 6 0 6-7 12-4 3-8 2-8 4-10 0-20 4-4-1-10-5-10-2-12-7-5-6-4-10 0-6 4-8 3-4 6-4 12-4zM159 580l5-1 6 0 4 2 10 6 3 3 7 14 1 4-4 14-7 10-2 2-8 5-8 3-2 0-4-1-9-5-2-2-3-7-5-5-2-4-1-14 1-6 2-4 3-4 10-8zM918 590l4 1 4 5 2 8 7 16 0 4-9 10-8 7-6 5-4 0-12-2-5-4-7-10-6-4-1-2-2-6 0-6 8-12 5-5 8-2zM1036 590l10-2 12 1 4 1 18 9 4 4 2 5 2 6 0 6-3 8-4 8-5 5-8 4-10 7-4 1-10-1-12-3-6-2-5-3-5-5-6-11-3-12 1-4 3-6 3-4 10-6zM486 712l0-4 3-8 7-36 13-16 7-7 9-11 15-16 17-20 20-18 17-18 8-4 8-7 22-23 7-10 21-25 20-15 14-6 14-12 12-17 10-17 7-14 10-14 25-18 4-8 8-7 2-1 4 2 2 0 2-2 4-9 6-3 4-5 8-2 2-1 4-4 8-2 2-1 16-16 18-21 4-5 6-11 10-14 14-14 14-9 6-7 6-4 4-4 2-6 0-4-2-4-4-3-2-1-2 1-6 3-14 3-10-2-12-1-6-3-6-8-8-7-1-4-3-14 1-24 6-18 4-6 15-12 18-9 4 0 8 2 20 0 10 2 10 4 3 3 5 6 12 10 8 7 6 3 2 0 4 0 6-4 4-4 13-20 11-13 16-11 9-4 13-8 10-2 5-2 11-7 8-4 11-11 3-4 3-6 3-3 10-5 9-2 9-5 6-2 16-4 8 0 2 1 0 4-2 12-4 12-5 12-9 11-10 15-3 6-1 6-5 12-15 18-5 10-9 9-11 19-10 12-5 8-4 3-14 7-4 3-10 2-10 4-22 8-4 3-6 12-1 4 1 4 1 4 2 2 5 0 3-2 2-2 2-6 1-1 2 1 2 1 2 0 2-3 2 0 3 2 7 4 12 1 14 6 12 11 10 7 3 5 3 6 2 6 0 6-3 8-6 12-3 4-16 14-8 4-24 1-16-3-8-4-10-4-6-6-10-6-3-4-2-8-2-12-2-4-5-5-4-3-4 0-2 1-10 9-4 5-14 25-14 11-12 8-7 3-12 8-13 11-8 9-12 8-9 12-17 21-10 21-6 8-6 10-12 14-12 9-14 9-12 6-12 9-12 17-6 7-22 30-12 10-10 7-15 14-9 7-12 16-8 6-4 3-5 6-9 8-22 24-20 18-40 30-8 4-7 6-5 3-10 3-5 2"/>
<path stroke="#3d429e" d="M496 712l-4-1-2-1 0-4 5-28 4-12 1-4 5-6 21-26 34-38 16-14 18-18 10-6 6-6 22-23 8-11 20-23 20-16 15-7 14-12 11-15 10-17 8-16 10-13 10-8 14-9 8-7 14-7 18-12 18-14 34-38 6-8 13-20 4-6 15-14 13-8 7-7 8-5 10-9 11-7 7-6 8-10 18-18 4-6 4-8 3-12 4-10 14-24 5-6 6-7 18-14 22-11 14-4 20-11 10-9 4-6 4-6 4-4 36-15 12-3 8 0 1 4-2 12-4 12-5 10-21 30-12 14-9 12-3 6-2 10-4 8-7 10-10 18-12 13-8 6-20 12-14 6-22 7-6 4-15 16-22 20-9 10-16 21-11 21-5 6-14 11-10 7-9 4-11 8-22 20-8 5-4 4-24 31-4 7-6 13-13 20-11 13-14 10-16 10-10 5-10 7-40 54-12 11-11 8-15 14-8 6-13 16-10 8-31 33-24 23-26 19-26 17-7 6-24 8"/>
<path stroke="#3e419d" d="M1163 28l9-1 3 1 0 2-1 12-4 12-3 6-4 6-18 26-5 10-4 6-3 8-10 14-6 12-9 11-11 19-13 15-6 5-18 10-14 5-26 9-6 4-9 12-3 8-5 6-1 8-2 3-8 6-14 5-6 4-12 14-11 20-5 6-14 12-10 6-8 4-14 10-20 18-9 6-3 3-9 13-15 18-4 7-7 15-11 18-12 14-12 9-16 10-14 7-9 6-3 4-21 30-17 22-12 10-11 8-13 13-10 7-12 16-10 7-7 9-7 6-16 18-24 23-26 19-16 11-9 5-11 8-20 7-10-1-2 0-2-2 0-6 2-14 3-12 6-14 2-4 5-8 8-8 9-12 15-16 17-20 18-16 17-17 11-7 5-4 22-24 9-12 19-22 20-16 16-8 14-11 10-14 17-33 11-14 25-18 7-7 8-3 7-4 5-7 20-13 6-5 6-2 2-2 32-36 4-5 8-14 9-12 15-15 12-7 8-7 9-7 3-3 5-7 2-4 0-2-3-4-9-6-7-1-10 4-10 1-6-2-2 0-8 2-5 0-4-2-5-8-7-6-2-4-2-10 1-10 0-14 3-16 2-4 3-4 19-14 11-5 4 0 8 1 16 0 6 0 8 3 6 3 23 20 5 10 10 7 2 1 2 0 2-2 4-8 10-12 6-10 7-10 7-8 14-11 24-13 16-4 14-6 6-4 8-8 5-6 5-8 2-2 28-13zM682 100l6 0 8 1 4 1 4 3 9 9 4 12 1 14-1 4-4 8-3 4-2 1-10 3-6 1-14-2-2-1-6-6-6-3-2-3-3-10-1-8 1-2 16-22 3-3zM153 116l5 0 10 1 6 3 4 2 4 4 2 4 3 12 0 4-4 20-3 7-2 3-16 14-16 4-4 0-4-1-2-2-7-9-7-10-2-6-1-10 5-18 12-17 4-2zM571 126l5-1 8 0 6 2 4 2 13 9 3 4 4 10 0 6-9 20-3 3-12 4-6 3-4-1-6-5-16-7-3-3-4-14-1-8 1-4 2-4 5-6 6-6 4-3zM1037 246l5-1 14 1 14 6 12 11 8 5 2 2 5 12 1 4-1 6-4 10-4 8-3 4-14 11-6 4-14 1-10 0-16-4-14-6-12-12-6-4-1-2-1-4 1-6-2-6 1-4 1-4-2-6 1-2 2-2 8-2 9-8zM192 268l4-1 4-1 6 2 4 2 3 4 0 2-1 4-13 24-7 10-16 14-8 4-4 1-2-3-2-6 1-4 5-12 12-22 12-16zM578 278l6-1 6 1 6 5 9 5 0 2 0 6 3 10-1 4-3 3-3 1-9 2-10 3-4-1-10-7-2-3-3-10 0-6 1-3 2-3zM187 390l7-1 14 0 14 3 6 2 6 5 6 9 3 14-1 4-6 12-14 15-10 7-12 6-12 8-5 12 0 10-2 20-2 6-3 4-8 8-16 8-10 2-4 0-4-1-5-3-7-5-4-4-3-5-3-6-1-6-1-10 1-4 13-19 4-3 12-9 4-6 1-7-3-16 0-8 3-8 6-12 5-5 14-10 8-4zM1069 486l9-1 4 1 14 6 6 3 7 5 2 4 4 10-1 4-6 10-16 7-10 1-16 4-4 0-4-1-9-5-11-3-6-4-4-3-4-6-3-8 1-6 6-8 4-3 16-5zM160 584l4-1 6 1 8 3 4 3 2 2 5 8 1 4 1 4-1 4-4 10-4 7-6 4-8 4-4 1-4-1-6-4-4-8-7-7-1-4 1-12 2-6 11-10zM1047 592l11 1 6 2 16 10 3 3 1 4 1 4-2 8-3 6-4 6-2 2-6 4-8 6-4 2-4 0-8-1-12-3-4-2-11-10-3-6-3-10 0-4 2-4 2-4 2-2 9-6 8-4 6-1zM906 596l12-1 2 1 2 3 6 13 2 8-2 4-5 6-9 8-4 2-12 0-4-3-6-9-8-8 0-2 0-4 4-8 4-4 3-2 7-2z"/>
<path stroke="#3e3f9c" d="M1159 30l5-1 6-1 2 0 2 2-1 10-6 18-5 8-12 16-20 24-6 9-4 8-2 11-5 10-17 28-10 11-8 6-20 12-14 6-22 7-4 2-5 4-16 16-21 20-6 7-16 21-11 20-5 7-14 12-10 6-9 5-12 8-33 28-24 31-4 6-5 13-2 4-12 18-11 13-14 10-16 10-14 7-8 6-8 10-14 22-17 22-13 11-12 9-23 20-11 13-10 9-9 10-22 24-23 21-28 22-28 17-6 5-20 6-6 0-5-1-1-1-1-3 2-14 3-12 4-8 3-10 6-8 16-20 23-26 12-13 14-13 18-17 12-9 4-3 22-24 9-13 20-22 19-15 18-9 14-12 8-11 17-33 7-10 5-6 9-7 24-16 13-7 15-10 22-16 34-39 19-29 5-6 14-13 12-7 8-7 8-5 8-7 13-9 7-6 28-32 4-7 5-17 4-10 12-20 5-8 6-7 6-5 12-9 18-10 6-2 12-3 6-2 12-6 8-6 8-9 6-9 4-3 10-6 20-8z"/>
<path stroke="#3f3e9c" d="M1162 30l8-1 2 1 1 2-1 8-6 16-4 8-11 16-10 12-4 8-5 6-4 10-7 10-2 8-4 8-7 8-13 22-11 12-6 5-18 10-14 6-26 9-6 4-12 12-4 8-4 4-5 8-6 6-3 3-8 5-4 3-14 16-4 6-8 15-5 6-15 13-10 6-9 5-12 8-20 18-12 10-9 12-14 17-6 11-5 12-13 20-10 12-4 4-10 7-20 11-8 4-10 6-8 10-15 24-17 22-12 11-13 9-13 12-10 8-12 14-8 7-32 35-22 20-30 23-25 15-9 6-18 6-6 0-4-2-1-6 1-10 4-12 4-8 1-6 3-6 4-6 16-20 32-36 36-34 9-6 5-4 22-24 10-14 20-22 20-15 14-7 16-12 8-11 17-33 8-12 5-6 30-21 16-9 8-8 31-20 31-36 14-22 9-12 15-14 13-8 7-6 10-7 6-6 9-7 7-8 2-4 0-2-2-2-4-1-14 0-10-2-6 0-12 3-6-1-6-1-4 0-8 3-4-1-5-6-8-8-4-8 0-2 2-10 0-14 0-8 3-8 4-7 10-6 8-7 8-3 28-1 7 2 5 2 14 11 11 9 2 4 3 9 2 2 7 7 2 4 0 4-1 6 2 1 2-1 4-3 2-2 9-23 9-12 5-10 8-10 9-9 14-10 18-10 6-2 13-3 14-6 8-6 19-21 10-6 20-9zM682 104l8 0 8 1 10 9 3 4 2 10 0 14-1 4-3 4-2 2-3 2-6 2-4 0-6 0-6-1-4-2-4-3-6-4-3-4-1-8 5-14 8-12 3-3zM147 122l13-1 10 2 4 1 4 4 3 4 2 10 0 4-1 10-3 10-13 14-8 6-6 2-8 1-4-1-6-6-3-4-4-6-2-6 0-14 1-6 3-6 9-15 4-2zM570 130l4-1 4-1 10 2 10 5 7 7 4 8 1 6-1 4-6 12-3 5-4 2-10 2-4 0-7-3-13-5-2-1-2-2-4-12 0-6 0-4 2-4 2-4 6-6zM1040 250l6-1 8 1 12 4 8 6 8 8 6 4 3 8 2 6-1 4-1 8-4 10-3 4-12 9-4 3-4 2-12 1-12-1-8-2-16-6-5-4-10-16 2-14 3-8 6-5 12-13zM196 272l2 0 4 1 4 2 1 3-1 6-9 18-7 10-12 11-6 3-4 1-1-1-2-2 0-4 3-10 3-6 9-14 7-8 5-7zM579 284l3-1 4 0 2 1 4 5 6 5 2 4 1 4-1 4-1 2-3 1-14 4-4-2-5-3-2-4-2-4-1-6 3-4zM188 392l6-1 12 0 16 3 6 4 6 5 4 7 2 12-2 6-2 6-3 4-15 15-8 6-24 10-4 3-2 4-3 12 2 18-1 6-3 8-6 8-3 3-4 3-14 5-8 1-6-1-6-3-6-5-6-9-1-4-1-6 0-8 1-4 6-10 5-6 6-4 10-6 4-4 3-4 1-4 0-6-5-14-1-8 2-8 7-12 5-6 12-9 8-4zM1067 490l9-1 4 0 20 9 3 2 3 4 3 10-1 4-4 6-2 2-11 6-27 5-4-1-10-5-10-3-7-6-4-6-2-6 1-6 4-5 2-2 8-2 8-4zM164 588l8 0 4 2 4 2 2 3 3 5 2 4 0 4-1 4-4 8-3 6-5 3-10 4-3-1-3-2-6-8-4-4-1-4-1-4 1-6 3-6 8-8zM1036 598l8-2 14 1 6 2 12 7 4 5 1 3-1 4-1 6-5 8-3 4-13 10-4 1-6 0-16-5-3-2-5-6-5-6-2-10 0-4 1-4 2-3 4-3zM899 602l7-1 8 1 4 3 4 7 1 6-1 4-6 8-4 3-2 0-4-1-8-3-8-9-3-4 0-4 3-5 4-3z"/>
<path stroke="#4c3e9e" d="M1159 32l7-2 4 1 1 1 1 4-1 4-6 16-6 10-10 14-19 22-6 8-4 8-2 6-1 8-5 10-17 28-9 10-8 7-20 12-14 6-10 3-16 6-6 4-10 9-28 29-6 6-16 23-11 19-5 6-16 13-18 11-12 8-32 28-22 28-6 10-5 12-2 4-12 18-9 11-4 4-12 8-18 11-10 4-9 6-9 11-13 21-17 23-12 11-14 10-23 20-10 12-11 10-9 10-20 22-23 21-28 22-20 12-9 5-7 5-16 5-6 0-4-1-1-1-1-4 1-8 4-12 4-8 3-12 5-8 14-18 21-24 15-16 31-29 13-9 4-4 22-24 10-14 19-21 18-14 6-4 12-5 15-12 5-6 4-7 3-7 14-26 7-10 4-5 8-6 24-16 17-9 15-10 18-13 36-42 15-23 7-10 16-14 10-6 8-7 11-7 7-6 17-12 6-6 13-16 8-8 4-6 4-8 3-12 6-14 14-24 9-10 6-6 10-7 18-10 10-4 14-3 13-6 8-6 15-17 4-4 10-6z"/>
<path stroke="#5a3e9f" d="M1162 32l6 0 2 2 0 6-5 14-6 10-10 14-10 12-11 16-9 18-3 10-2 6-8 11-12 19-10 11-8 7-20 11-12 6-24 7-4 2-14 12-20 25-4 5-8 6-6 6-12 15-11 19-5 7-14 12-10 6-9 5-13 9-34 29-7 10-15 19-4 7-7 16-11 18-10 12-4 4-10 7-22 13-10 4-9 6-9 12-13 22-15 20-12 11-13 9-25 21-10 13-10 9-8 9-22 24-18 17-10 8-10 7-14 11-16 10-12 6-6 4-14 5-6 1-4-1-2-2 0-2 0-8 3-10 5-10 2-6 1-6 6-8 13-18 23-26 13-14 32-30 14-10 24-26 10-14 18-20 20-16 17-8 9-6 6-6 8-11 5-11 5-9 5-11 8-12 5-6 6-5 26-17 15-8 7-6 32-22 32-38 16-24 8-10 14-13 11-7 9-7 8-5 24-20 6-8 3-8 5-8 5-4 7-4 6-7 4-8 3-11 6-12 14-22 9-11 14-12 22-12 8-3 10-2 7-2 9-4 8-6 18-20 4-3 10-6 18-8zM682 110l6-2 4 0 4 1 8 6 3 5 2 8-2 14-1 3-2 3-4 3-4 1-4 0-6 0-4-1-9-7-3-4 0-6 3-12 5-8zM913 120l13-1 6 2 20 13 7 8 5 12 7 10 1 4 0 4-4 10-3 10-1 2-4 2-10-1-10 1-14-1-8 1-8 1-12 0-10 1-4-2-6-4-4-4-2-4-1-4 1-10 0-16 1-6 5-10 2-3 18-13 4-1zM150 126l10-1 8 2 4 1 2 2 2 4 3 12-1 10-4 8-12 14-6 3-4 2-12-2-4-3-2-2-3-8-1-16 1-6 4-8 9-10zM570 134l6-2 6 1 6 1 8 4 6 6 3 8 0 6-5 10-4 5-10 3-4 1-6-2-10-4-4-3-4-10-1-4 1-6 2-4 2-3zM1047 254l5 0 4 0 8 4 18 16 3 4 2 6 0 4 0 8-2 8-2 4-3 3-12 9-6 3-10 1-12-1-6-2-16-7-2-2-3-4-2-10-1-6 1-8 2-4 7-10 8-8 4-3 4-2zM188 290l6 0 2 2 0 4-2 5-9 11-9 7-2 1-2 0-1-2 0-4 4-10 7-10 2-2zM579 292l3-1 2 1 2 1 5 5 1 2-1 2-9 3-4-1-2-1-1-3-1-4 2-2zM188 394l8-1 10 0 14 4 8 4 5 5 3 6 1 10-2 8-4 6-10 12-11 8-18 7-10 3-8 5-8 1-1 2 3 8 2 10 5 16-1 4-1 4-9 12-5 4-7 3-8 2-6 0-4-2-10-7-6-8-1-4 0-4 0-6 2-6 5-9 6-5 6-4 8-3 8-6 7-3 0-2-11-28-1-6 2-8 5-10 3-4 5-4 12-9 6-3zM1067 494l7-1 6 0 8 3 10 6 3 4 2 6 0 4-2 4-5 5-8 4-22 3-4 0-12-6-8-3-5-3-2-4-1-4 1-4 3-4 14-9 4 0zM162 594l4-2 4 0 6 2 4 4 2 6 0 6-4 9-4 4-6 2-4 1-4-2-6-6-3-4 0-6 2-4 4-6zM1037 602l7-2 14 1 6 2 8 6 4 3 0 2 0 4-1 4-3 6-5 6-11 9-4 1-4-1-12-4-5-3-6-8-2-8 0-4 1-4 1-2 3-3zM903 608l5-1 4 1 2 2 1 2 0 4-1 3-2 2-4 1-4 0-4-2-3-2-1-4 0-2 3-2z"/>
<path stroke="#7a429f" d="M1163 34l4 0 1 2-1 8-4 10-6 10-10 14-10 12-12 16-5 10-5 16-2 6-19 30-10 11-4 4-6 4-26 14-6 3-10 2-16 6-6 4-10 9-19 23-17 17-14 19-11 18-5 6-14 12-32 20-32 28-22 28-6 11-5 13-12 18-11 14-14 10-22 13-11 5-8 6-9 12-11 20-17 22-12 10-13 10-24 20-10 12-9 8-30 34-20 19-8 6-12 9-12 9-16 10-14 6-6 4-4 2-10 3-6-1-1-3 0-6 3-10 4-8 2-10 2-4 19-26 20-24 15-16 28-26 18-14 22-24 14-18 16-18 18-14 6-3 14-7 14-11 6-9 5-12 12-22 6-10 7-8 16-11 14-9 12-6 6-4 36-26 8-8 26-32 16-24 6-8 14-13 32-21 22-18 4-4 6-7 8-13 8-7 4-5 4-7 2-5 2-10 7-14 12-20 9-11 14-12 22-12 10-4 15-3 9-4 8-6 20-20 6-5 8-5 16-7zM685 114l5-1 6 1 5 4 2 2 1 4 0 6-1 4-6 10-3 2-6 1-5-1-5-4-3-4 0-6 3-10 2-4zM910 124l12-1 7 1 19 12 6 6 1 4 4 14 2 8-1 4-5 10-4 4-7 2-12 0-26 4-10 0-6-1-10-9-2-4 0-2 0-8-1-12 2-6 4-10 5-5 10-8 4-1zM148 132l6-2 4 0 10 3 2 3 3 10 0 4 0 4-2 4-9 13-3 3-3 2-6 1-8-1-2-1-2-2-2-5-2-16 0-4 2-4 10-10zM573 138l3-1 4 0 8 2 6 3 3 4 2 6 0 6-4 8-5 4-6 3-6 0-10-5-4-4-3-8 1-8 4-5zM1045 260l7-2 4 1 4 1 16 14 4 4 2 4 0 8-2 12-1 4-4 4-9 7-4 2-4 1-12 0-6-1-4-2-12-7-4-4-3-8-1-4 1-6 2-6 3-6 4-4 8-7 4-2zM189 396l7-1 8 0 14 4 8 4 4 4 3 5 1 8-1 8-4 8-9 10-6 5-6 4-18 5-16 2-6-1-4-2-4-4-8-11-1-4-1-4 1-8 3-6 3-6 9-9 6-4 6-4zM146 484l10 0 4 1 3 5 6 12 1 4 0 4-3 8-4 6-3 3-8 4-6 2-6 0-4-1-4-2-4-2-4-4-2-4-2-4 0-8 1-6 2-4 5-6 10-6zM1070 498l6-1 4 1 6 2 7 4 3 3 2 3 0 4-2 4-6 5-7 3-5 1-12-1-4-1-18-8-2-2 0-3 2-4 7-6 5-2zM166 598l4-1 3 1 2 2 1 4 0 6-3 4-3 3-4 1-6-2-2-2-1-4 1-4 2-3zM1044 604l10 0 6 2 4 2 5 4 2 4-1 6-4 6-8 7-6 3-4 1-4-1-8-4-6-6-2-6-1-6 2-4 1-2 6-4z"/>
<path stroke="#a548a5" d="M1157 38l5-1 2 0 1 1 0 6-4 10-6 10-9 12-12 14-12 16-4 8-4 16-3 8-18 28-10 12-9 7-30 16-22 7-6 2-6 4-9 8-21 24-16 16-14 19-11 19-5 6-16 14-30 18-28 24-6 6-20 25-6 11-7 16-11 18-12 14-6 5-10 6-18 11-11 4-9 6-8 10-6 10-6 12-16 22-12 10-15 12-23 19-10 12-10 9-30 34-24 22-28 21-14 8-26 12-6 1-4 0-2-2 1-6 2-8 3-6 2-10 3-6 17-26 19-22 19-20 26-23 14-11 4-4 22-24 14-18 14-16 20-15 6-4 12-5 8-6 7-6 7-10 5-12 10-20 5-8 8-9 12-10 18-11 19-10 20-14 17-13 8-8 16-20 10-13 15-24 7-8 14-13 30-19 23-18 7-6 6-8 7-10 9-10 6-11 3-13 7-14 13-22 8-10 13-11 24-14 8-3 16-3 11-5 8-6 17-18 6-5 8-5zM686 120l4-2 4 1 4 3 1 4 0 4-3 4-4 5-4 2-4-1-2-2-1-4 1-8 2-4zM913 128l7-1 6 1 20 11 3 3 2 6 1 8 1 6-2 4-3 6-4 6-4 3-20 4-14 1-4 0-4-2-8-6-3-4-5-14 0-6 4-10 4-6 8-5zM151 138l5-1 4 1 2 1 4 5 1 6-3 8-6 9-6 4-6 0-3-1-1-2-3-12 0-6 4-6 5-5zM574 144l4-2 6 0 4 2 4 4 1 4-1 6-2 5-4 3-4 2-6 0-5-2-4-4-1-4 0-6 2-4zM1049 264l5-1 4 2 16 12 2 3 1 4 0 6-2 10-1 4-6 6-4 3-4 2-14 0-8-2-5-3-5-4-3-4-3-6 0-4 1-4 2-6 3-4 16-12zM191 398l7-1 6 0 12 4 8 4 4 4 3 5 1 6-2 8-3 6-7 9-6 5-6 4-8 3-10 2-14 0-4 0-4-2-6-4-6-7-2-4-1-4 0-4 2-6 2-6 3-4 10-9 10-6zM140 490l6-1 10 2 2 1 3 4 4 8 1 6-3 8-5 7-6 3-10 1-6-1-8-5-4-7 0-8 2-8 4-5zM1067 504l9-2 4 0 4 2 6 4 1 2 0 4-5 5-6 2-10 0-6-2-6-4-2-3-1-2 1-2 3-2zM1037 610l5-2 4 0 8 1 4 2 2 1 3 4 0 2-1 4-3 4-9 6-4 1-6-1-5-4-3-6 0-4 1-4z"/>
<path stroke="#c443a2" d="M1154 42l6-2 2 2-2 8-5 10-10 14-13 16-12 15-4 9-3 16-4 8-18 28-9 11-8 6-28 16-6 2-18 5-9 4-13 10-36 40-16 22-11 18-5 6-16 13-31 19-23 20-10 9-20 27-6 11-5 13-12 18-11 14-8 6-10 7-18 10-12 5-8 5-8 11-12 22-14 20-12 10-17 14-22 18-11 12-10 10-30 34-20 18-30 23-14 8-8 4-10 3-6 3-4 1-4 0-2-2 1-4 3-10 3-12 2-6 16-24 20-24 19-20 24-21 18-15 22-24 15-20 15-16 20-15 18-9 6-4 8-7 6-8 2-4 3-9 12-22 7-10 6-7 16-12 14-9 13-6 10-6 15-10 16-12 8-8 18-22 10-14 15-24 7-8 12-11 33-21 23-18 7-6 21-27 6-13 3-12 6-14 14-22 7-9 14-11 22-13 10-4 10-1 6-2 8-4 12-8 20-20 10-6zM916 134l6 0 6 1 8 3 6 4 3 4 1 4-1 10-1 6-3 4-3 4-3 2-7 2-10 1-12 0-6-3-6-6-6-10-1-4 1-4 3-8 5-4 4-2zM149 146l3-1 2-1 4 2 1 2 0 4-1 4-2 3-4 2-2 0-2-1-2-3-1-3 1-4zM576 150l6-1 3 1 1 2 0 4-1 2-3 3-4 1-4-1-3-3 0-2 1-3zM1049 272l3-1 4 1 12 7 3 5 1 8-2 8-4 5-4 3-4 1-4 1-10 0-6-2-6-5-2-3-2-4 0-6 3-6 3-3 6-3zM192 400l8-1 8 2 8 2 7 5 4 4 2 6 0 6-2 6-4 6-7 8-4 3-8 4-10 3-6 0-12 0-6-2-8-5-3-3-2-4-1-4 0-4 2-8 3-4 4-6 9-7 8-4zM142 494l6-1 6 2 4 3 3 6 0 6-5 10-4 4-4 1-6 1-6-2-5-4-3-6 0-6 2-6 4-4zM1040 618l2-2 2 1 2 1 2 2 0 2-1 2-3 1-3-1-1-2z"/>
<path stroke="#d93a99" d="M1150 46l6-2 2 1-1 5-4 10-10 14-13 15-12 16-3 7-3 16-3 6-18 30-11 12-8 6-30 17-6 2-12 3-11 4-3 2-12 9-12 13-23 26-15 21-11 19-5 5-16 14-31 19-17 14-17 16-17 22-4 6-5 10-5 12-10 16-5 8-9 10-6 5-10 6-18 11-10 3-6 3-5 4-5 6-4 6-10 20-16 21-12 11-18 14-20 17-20 21-32 36-18 16-30 23-14 8-12 5-12 3-4 0-1-1 0-2 3-18 5-10 14-22 16-20 21-22 22-20 22-18 22-24 15-20 13-14 12-10 8-5 6-4 10-4 5-3 13-10 6-9 5-13 10-20 5-8 7-8 5-4 12-9 16-10 11-5 14-8 13-9 16-12 8-9 16-19 12-18 14-21 6-8 12-11 33-21 26-20 7-6 18-24 8-16 3-12 6-14 12-20 9-10 12-10 22-13 10-4 16-3 12-6 8-6 18-18 4-4 8-4zM912 142l6-1 6 0 6 1 5 4 2 4 0 10-1 4-2 4-6 3-14 3-8-2-4-2-2-2-3-4-1-6-1-4 1-4 1-2 3-2 6-1zM1049 282l7 0 5 2 2 2 2 4-1 6-2 4-6 3-6 1-8 0-3-2-3-3-1-3 0-4 2-4 2-2zM195 402l7 0 8 2 8 4 5 4 2 4 1 6-1 6-4 6-5 7-6 5-6 2-8 3-8 1-8-1-8-2-6-3-4-4-3-6 0-6 4-8 6-8 7-6 6-3zM139 500l5-2 6 1 4 2 2 3 0 4-2 4-2 4-4 3-4 1-4 0-4-2-3-4 0-4 0-4 3-4z"/>
<path stroke="#e5238a" d="M1144 50l8-1 2 1-2 8-9 14-15 17-12 15-2 5-2 7-1 10-4 8-16 26-11 14-8 6-30 17-6 3-18 4-8 4-13 10-12 12-23 26-9 14-7 10-10 16-5 6-17 14-32 20-17 14-15 14-20 27-6 11-4 12-9 14-7 10-8 10-8 6-10 7-18 10-13 5-9 6-8 12-8 18-16 21-14 13-16 12-21 18-21 22-30 34-20 18-30 22-12 7-8 4-6 1-6 1-3-1-1-1-1-5 1-8 5-12 14-22 16-20 19-20 46-40 20-22 17-22 13-14 12-9 8-6 4-2 15-7 6-4 7-6 6-8 2-4 3-10 12-22 4-6 7-9 16-12 16-11 12-5 14-7 12-8 18-14 8-9 16-20 24-37 9-10 13-12 33-20 25-19 6-6 18-24 7-15 2-12 6-12 14-24 7-8 12-11 22-12 12-5 10-2 6-1 13-7 8-6 19-19 6-4zM918 150l2-1 2 0 3 1 2 4 0 4-1 2-3 2-7 2-4 0-2-2 0-2 2-4zM188 406l10-2 8 1 10 5 3 2 2 4 2 6-1 4-1 4-7 9-4 4-4 2-6 2-8 2-6 0-6-1-6-1-6-3-2-2-3-4-1-4 1-6 2-4 4-6 3-4 6-4z"/>
<path stroke="#ec0f6c" d="M1147 52l1 0 2 2-3 8-5 8-16 18-12 16-3 8-2 14-4 8-16 26-11 14-8 6-24 13-10 5-10 2-13 4-7 4-10 8-13 12-23 28-7 12-7 9-10 17-6 7-16 13-35 22-17 14-14 13-18 24-7 15-4 10-8 14-8 12-9 10-12 9-20 12-4 1-11 4-10 6-7 10-10 22-9 12-6 8-13 12-16 12-23 20-21 22-30 34-18 16-32 23-10 6-12 5-6 0-2-1-1-1-1-4 1-6 4-12 14-22 14-18 21-22 44-38 22-24 19-24 11-11 10-9 10-7 20-9 6-4 6-5 6-10 4-13 11-20 6-8 7-8 14-12 18-11 13-5 15-8 12-8 15-12 9-9 14-18 25-39 4-6 8-8 11-9 31-19 27-20 4-4 20-26 6-15 3-13 6-12 12-20 4-6 5-6 8-7 6-4 22-12 10-4 8-1 8-2 8-4 11-8 21-20 8-5zM190 408l6-1 6 0 6 2 6 3 3 4 2 4 0 4-2 6-4 6-3 4-4 2-6 2-8 2-6 0-6-1-6-2-5-3-2-4-1-6 2-6 4-6 6-5 6-3z"/>
<path stroke="#ee1250" d="M1138 58l6-2 2 2-2 4-4 6-16 18-11 16-3 8-2 14-3 8-16 26-12 14-9 7-30 17-4 1-15 3-13 5-9 7-12 10-5 5-21 27-24 38-5 7-18 15-31 18-15 11-9 7-9 9-16 22-4 6-6 13-4 12-9 14-8 12-7 8-12 9-22 13-13 4-11 6-4 5-4 7-9 20-15 20-10 10-20 16-22 19-20 20-31 35-19 18-18 13-18 12-8 4-6 2-4 0-4-1-1-4 0-4 2-6 3-6 13-22 14-18 19-20 20-17 18-15 10-10 20-22 19-24 9-9 10-9 12-8 18-8 6-4 7-6 5-7 2-5 3-10 10-18 6-10 7-8 10-9 12-8 14-8 9-3 13-6 12-8 19-14 9-9 14-19 25-40 11-13 10-8 34-21 26-18 4-4 18-24 6-14 3-14 4-8 6-12 8-14 4-6 6-6 13-11 22-12 10-5 10-1 6-1 4-2 11-6 8-6 15-16zM194 410l6 0 4 0 4 2 5 4 2 4 0 4 0 4-2 4-4 4-3 3-4 2-6 2-10 0-5-1-5-2-4-4-1-4 0-4 2-6 4-4 5-4 6-3z"/>
<path stroke="#ee1c25" d="M1135 64l3-2 1 2-3 5-12 13-14 21-2 9-1 10-4 10-16 26-11 13-6 5-6 4-28 15-6 1-11 2-13 4-14 8 7-14 6-16 2-12 4-8 6-12 8-14 8-10 13-11 22-12 12-6 10-1 8-2 12-6 10-7zM968 232l2-1 1 1-7 12-7 8-6 12-7 10-9 16-7 8-10 9-8 6-14 8-16 9-12 7-6 3 2-4 8-13 7-13 12-20 5-8 9-10 9-7 22-14 14-7zM837 362l3-1 1 1-15 24-6 14-2 6-2 6-11 18-12 14-13 11-22 12-10 3-10 4-4 3-3 3-3 6-5 10-4 12-13 18-12 12-21 16-23 20-18 19-34 38-20 18-28 19-8 5-6 2-4 1-4 0-1-2-1-4 1-4 2-6 13-22 14-18 19-20 39-34 10-10 20-22 21-26 7-7 10-8 12-9 12-4 7-4 7-4 5-4 5-9 2-5 2-8 2-4 11-20 9-12 14-12 20-12 25-10 11-6zM190 414l6-1 6 0 4 2 3 3 2 4-1 6-2 4-4 4-8 3-8 1-7-2-4-4-1-2 0-4 2-6 4-4z"/>
<path stroke="#f15a22" d="M1110 90l2-1 1 1-6 14-1 8 0 8-3 6-4 8-12 20-11 14-6 6-6 4-30 16-6 1-8 1-12 3-4 0-1-1 0-4 3-14 1-6 4-10 8-16 6-10 5-8 6-6 8-7 6-5 26-13 6-3 10 0 6-1zM954 246l2-1 1 1-7 16-7 10-10 18-5 6-16 13-16 10-8 4-12 5-2-2 1-2 6-14 15-24 10-12 8-7 22-13zM822 376l4-1 1 1-8 22-4 12-11 18-11 14-13 11-22 13-4 1-12 3-10 5-3 3-3 6-4 10-3 10-2 4-10 14-9 10-27 22-21 18-18 18-33 38-19 17-18 13-16 10-10 4-5 0-1-1 0-3 1-6 12-22 13-18 18-19 38-33 10-10 24-26 19-24 9-9 8-6 12-9 20-8 8-4 5-4 3-5 2-6 4-15 13-22 9-11 14-12 20-13zM190 418l4-1 4 0 3 1 3 2 1 2 1 4-2 4-2 2-4 3-6 1-6-1-4-3-1-4 1-4 4-4z"/>
<path stroke="#f6861f" d="M1083 98l21-1 1 1-1 12 1 6-2 6-6 12-10 18-5 6-8 9-6 6-10 6-18 10-10 4-10 1-8 1-4 0-1-1 0-4 3-20 11-22 10-16 9-10 10-7 20-11zM941 254l7-2 2 2-1 4-3 6-4 6-9 16-5 7-12 11-8 5-16 9-6 3-4 0-1-1 0-2 3-8 11-20 10-12 9-9zM814 382l4-1 3 1-1 4-5 20-10 18-12 16-13 11-24 14-20 4-2 0-1-1 4-22 13-22 8-11 14-12 20-13 4-1zM716 480l6-2 2 2-6 22-3 6-9 12-8 9-8 7-22 18-21 18-17 18-32 37-18 16-22 16-16 8-4 1-4 0 0-4 1-4 10-20 14-18 15-17 48-42 24-26 22-27 8-8 8-7 12-8 4-2z"/>
<path stroke="#faa21b" d="M1082 100l6-1 12 1 2 2 1 12 0 4-6 12-10 18-6 8-7 9-6 5-10 7-12 6-16 8-6 1-12 0-2-2 0-2 0-10 1-6 12-24 9-14 8-9 10-8 14-8zM941 258l3 0 0 4-11 20-7 10-8 7-10 8-16 8-4 1-2 0 0-2 1-4 9-16 5-8 6-8 5-4 6-5zM810 386l4 0 2 0 0 2-1 12-2 6-10 18-11 14-12 11-24 14-6 2-12 0-1-1-1-2 1-10 1-4 11-20 9-12 14-13 20-12 8-4zM712 484l4-1 3 1 0 4-3 14-2 4-7 10-11 12-8 7-21 17-23 20-16 17-30 35-12 11-10 8-16 12-14 7-6 1-1-1 0-4 8-16 12-18 17-18 35-30 13-12 24-26 19-24 9-10 10-8 12-8 6-2z"/>
<path stroke="#fdb515" d="M1083 102l3-1 4 0 8 2 2 5 1 6-1 4-5 12-10 18-6 8-7 8-8 7-10 6-12 6-14 6-8 1-6-2-1-2-1-4 0-6 1-4 12-24 9-14 8-8 8-7 14-8zM933 266l2 0 1 1-1 5-4 10-6 8-7 6-10 8-8 3-6 2-1-1 1-4 3-8 5-8 6-8 5-4 5-4 8-4zM798 390l8-1 6 1 1 8-2 8-8 14-8 12-7 8-8 6-10 7-14 8-4 2-4 0-4 0-4-1-1-2 0-4 0-4 1-4 11-20 6-8 7-8 10-8 18-11zM703 488l5-1 6 1 1 2 0 6-2 8-16 20-7 7-24 19-27 24-13 14-29 34-9 9-12 10-16 11-8 4-4 1-2-1-1-2 1-4 5-10 10-14 15-18 36-30 13-12 25-28 18-22 7-8 13-11 10-7z"/>
<path stroke="#ffc20e" d="M1084 104l6-1 6 2 2 3 1 6-3 10-5 10-9 14-5 8-7 7-6 5-8 6-10 5-18 8-6 0-5-1-2-4-1-4 3-8 10-22 10-14 8-8 9-7 14-8zM925 272l5-1 1 1 0 2-2 6-5 7-6 6-8 6-6 3-4 0 0-2 1-4 7-12 8-7zM799 392l5-1 4 1 2 2 0 2 0 6-1 4-8 14-10 14-6 6-7 6-18 11-10 4-4 0-4-1-1-4 0-6 10-18 9-12 7-8 9-7 14-8zM704 490l4-1 4 2 1 3-1 6-2 4-4 6-12 14-8 8-24 18-25 22-11 12-30 36-6 6-14 12-12 8-6 4-6 2-1-2 0-2 4-10 9-12 13-16 36-30 14-12 25-28 17-22 9-10 14-11 8-6z"/>
<path stroke="#ffc20e" d="M1086 106l4-1 4 1 2 2 1 2 0 4-4 10-4 8-8 14-7 10-10 10-14 9-22 9-4 1-5-1-1-2-1-4 4-12 10-20 9-12 8-8 10-7 16-8zM921 278l3 0-1 4-3 4-6 6-6 2 0-2 4-7 4-4zM797 396l5-2 4 1 1 1 1 2-1 4-8 16-9 14-10 9-14 10-16 8-4 0-2-1-1-4 2-6 10-18 7-10 6-6 8-6 8-5zM701 494l3-1 4-1 2 2 0 4-2 4-3 4-11 15-10 9-22 16-28 23-1-1 23-28 13-18 6-8 11-10zM627 574l1-1 1 1-37 47-8 7-12 9-8 5-4 2-2 0 1-4 5-10 16-19z"/>
<path stroke="#7ac143" d="M1084 110l6-1 2 0 1 1 0 2-1 6-3 8-6 12-6 10-6 8-9 8-12 8-18 7-6 2-4 0-1-1 0-4 1-6 4-8 6-14 9-12 7-7 8-6 16-8zM802 398l2 2-3 10-7 12-8 11-8 7-10 7-12 6-8 2-1-1 0-2 4-10 8-14 7-9 8-7 8-5 12-6zM702 498l2-1 1 1-1 4-7 10-7 8-6 6-6 5-8 5-6 2 0-2 5-8 9-12 11-10zM598 602l2-1 1 1-6 10-5 7-6 5-8 6-6 3-1-1 6-10 7-9 6-5z"/>
</g>
<g transform="translate(670.0,13.7) scale(.5)" clip-path="url(#cp)" fill="none" stroke-width="2.4" stroke-linejoin="round">
<path stroke="#2f6db6" d="M313 0l0 2 2 4-1 1-2 0-2-1-2-6M483 44l1-1 4-1 2 1 2 3-2 10-4 2-2 0-3-4 0-6 0-2zM908 50l3 2 2 4-1 2-2 1-4-1-1-2 0-4zM184 62l4-1 8 1 4-2 2 0 14 12 1 2 1 7 2 4 2 0 2 0 1 5 1 2 5 2 3 3 0 1-1 8-2 4 0 2 3 2 0 2-1 2-1 2 1 6 0 2 4 6 0 4-3 14 0 8-2 4 0 4-2 8 0 6-1 2-5 6-1 6-5 3-2 3-2 4 0 6-1 2-7 5-4 1-6-1-6-3-6 2-8-4-4 3-6 1-4 2-2-2-4-6-6 1-4-3-2-2 0-2 3-6 0-4-1-2-11-12-1-4 1-4-2-2-5 0-6-1-1-5-5-4-2-6-1-2 1-1 1 1 2 4 3 3 2 0 2-1 0-2-4-6 1-2 3-4 3-6 3-4 6-6 1-6 3-4-1-2-2-2 0-4 5-4-1-6 1-2 7-4 2-2 1-4 6 1 4-1 2-2 0-10 5-4 1-4 2-2 4-1zM714 68l2-1 2 0 4 3-1 2-3 3-2 1-2-1-1-3 0-2zM702 84l0-1 2-1 4 2 1 8-1 4 2 2 4 1 4 4 2 1 6-2 0-2-2-6 0-4 2-4 4-3 4 0 3 3 0 6 1 3 2 1 4 0 3 2 0 2-2 4-2 2-5 2-2 12-3 6 0 2 2 6 1 8 2 2 4 2-4 4 0 2 0 8 1 6 0 2-3 4-1 2 0 4-1 2-7 2-3 2-2 6 1 6-1 4-6 2-4 4-2 1-6-2-10 1-10-1-8 3-2-1-3-3-1-4-4-2 2-2 1-4 2-4 0-2-3-6-6-3-2-1-6 2-2-1-2-4-4-2-2-3 1-8-1 0-6 6-6 2-2 2-3 10-5 5-7 5-1 2-2 5-2 2-3-1-12-6-9-1-6 0-4-1-4-3-6-1-12-13-3-7 0-8-1-8 2-6 0-14 7-10 1-4 0-4 1-2 6-2 9-11 4-1 8 1 8 0 12 5 1 0 3-4 4 1 2 3-1 2-3 1-2 0-1 1 3 2 8 2 6 6 2 4-1 6 1 3 4 3 4 1 6-4 3-3 2-4 1-6 5-10 9-7 4-2 4 0 4-5 4-3 2 0 4 4 2 0 7-1 5-5zM995 94l3 0 1 2-1 2-2 2-2 0-2-2 0-2zM551 110l3 0 4 0-1 2-3 2-2 0-2-2zM527 158l5 0 6 6 1 4 0 2-3 4-2 1-2 0-1-1-1-2-4 0-2-2 1-6zM1068 223l-2 3 1 2 3 1 3-1 1-2-1-2-3-1zM273 228l2 0 2 2 0 2-3 2-2 0-2-2 1-2zM212 234l4 0 6 0 10 6 8 1 4 1 2 2 1 2 1 10 2 4 0 2-4 1-1 5-2 2-9 7-3 3-3 10-1 8-5 4-1 2 1 4-2 2-4 3-4 7-4 3-4 8-2 2-6 1-3 2-2 2-4 8 1 1 2 1 2 0 6-4 6-2 4-3 2 0 14 2 2 2 2 3 6 12 6 10 4 0 4-2 2-2 2 0 8 7 5 9 7 6 7 10 1 4 5 8 0 2-1 4-4 8 0 4 1 2 0 2-3 6-5 6-5 12-2 3-12 6-8 6-4 1-8-1-8 2-6-2-16-1-2 1-3 5 0 2 2 2 9 2 10 13 1-1-1-6 2-2 3 0 3 2 0 2-2 4-2 2 0 2 2 2 4 2 1 2 1 6 3 4 0 2-1 2 0 6 11 10-6 6 0 6-3 4-4 3-4 0-4-1-2-2 0-4-1-2-1-1-3 1-2 2 0 2 3 6-2 6 0 2 5 6-5 2-2 2 1 2 2 2 3 2 2 2 1 2-2 12 3 6 0 6 2 12-1 2-3 2-1 2-1 2 2 4-1 2-5 8-1 6-6 4-4 6-7 8-8 2-7 4-1 2 0 8 0 4-2 4-2 1-4-1-2-4 3-10 3-4 0-2-3-2-5 0-2 2-1 4-3 2-2 0-2-2-4-6-2-2-2 0-6-1-1-7-1-2-5-8-5-4-3-6 1-3 3-3 0-2 0-2-3-3-5-3 1-2 3-4 0-2-3-8 0-2 3-2 1-8 2-4 6-8 5-10 3-4 1-2 1-6 5-2 2-2-1-2-4-3-4-3-6-6-6-4-4-6-6-3-2 0-5 5-5 2-5-2-2-2-1-2-1 2-1 2-7 4-3 5-2-1 2-4 0-2-4-8 0-4 2-2 8-6 4 0 3-4 1-1 8 0 2 0 3 3 3 8 1-2-2-10 1-8-1-6 1-6-1-4 0-2 3-3 2-2 8-1 10-4 6-5 4-2 4 0 12 1 2-1 2-1-5-8-3-4-7-10-2-2-1-6-6-3-1-1-1-2 2-9 2-1 4 0 2-1 0-1 2-12 2-10 2-4 2-2 10-6 2-2 0-4 4-4 1-8 4-4 0-2-1-3-4-2-8-1-5 2-9 7-2 0-4-1-2 1-4 2-2-1-3-4 3-4 0-2-2-3-3-3-1-2 0-2 1-2 4-6 1-12 4-6 3-6 8-8 4-10 9-8 3-6 6-8 5-8 0-2-1-2-4-4 1-1 8-1 2-1 3-7 3-2 6-1zM554 236l2 1 0 3-2 2-2 0-2-2 1-2zM592 246l2-2 2 0 10 4 9 10 3 6 0 2-4 1-4-2-3-5-8-2-6-8-1-2zM784 264l4-1 2 1 6 5 0 4-4 3-4 1-4-1-2-3 0-3 0-3zM570 274l2-1 8 2 4 0 4-2 2 0 6 5 2 0 8 0 4 1 4-2 4-1 1 2 1 8 1 2 7 4 0 2-2 6 4 4 1 2 1 4-2 2-2 0-4 0-2 0-8 10 0 3-2 2-1-1-3-1-2 0-2 1 4 2 4 0 5 4 2 4 0 2-2 4-9 7-8 3-4-1-4-2-2-3 2-6 0-6-1-4-3-3-2-1-2 1-2 1-2 0 0-2 1-2-1-2-1-2-3-1-6-1-4-5-7-5-1-2-2-5-2-3-2-4 1-6 1-2zM104 278l4 0 1 2-1 4-2 2-2-1-1-1 0-4zM692 342l2-1 4 0 1 3 0 2-3 1-5-1 0-2zM934 396l4-2 2 1 2 3 1 4 0 4-1 2-4 2-4-1-3-3 0-4 1-4zM895 398l3-2 2 0 2 2 1 2 0 6-2 8 1 2 1 2-3 2-2-1 0-3-6-2-2-4 0-4zM706 406l6-1 2 1 2 4-2 1-4-2-5-1zM992 410l2-1 2 1 2 2 0 2-2 2-2-1-1-1-1-2zM1016 410l4-2 8 1 3 3-1 4 0 1-6 2-4 0-5-3 0-2zM698 424l-5 6-1 2 1 4-2 8 1 1 2 1 6-2 2-1 1-1 0-2-1-2-3-4 1-5-1-3zM316 426l2 0 1 2-1 3-2 0-3-1 0-2zM898 448l4-1 4 1 2 2 0 2-2 6-4 3-2 3 0 6-1 4-5 9-4 3-8-1-2-1-4-4 0-2-2-2-5-2-3-3-4-1-2-2 2-4 6-3 3-5 3-2 4 1 4 7 4-1 4 0 4-8zM1064 468l2-1 6 4 6 1 6 3 8 2 6 0 4 3 6 2 2 1 4 0 1 1 0 6 5 9 4 5 2 1 3-1 1-2 2-6 2 0 2 2 1 4 0 4-1 4-3 6 1 10-2 4-6 4-2 1-6-3-6 2-8 5-2 5-3 4 0 2 1 10-1 8 1 2 4 4 0 6 0 6 3 6 0 4 3 6-2 5-4 0-2 1 1 6-3 4-1 2 2 6 0 4 7 0 2 2 3 6 5-1 6 0 4-1 2 1 2 2 2 1 6-1 2 3 0 2-1 2-2 2-7 2-2 1-1 3 1 4-1 2-5 2-4-2-2 2-1 2-3 2-6 1-2 1-3 12-2 4-3 2-10-3-4 2-2 0-1-1-1-2 0-2 2-1 4 1 2-1 1-1 0-2-6-6 0-2 3-6-2-1-2 1-2 3-4-1-8-8-2-4-2-2-2 0-2 2-1 2 1 8-2 2-6 0-6-2-3-2-5-4-4-2-14-1-5-1-2-2-2-4 3-5-1-3-5-7-2-1-5-2-4-2-2-2 0-2 1-8 2-1 4-1 1-2-1-3-2-3-4-4-2-6 1-4 5-4 0-2 0-1-2 0-4 0-2-1 0-2 3-6 7-4 2-3 3-9 5-6 4-10 0-4-1-4-4-4-3-2-2 0-4 1-2 0-2-1-4-2-3-4 0-6-4-6-1-4 0-3 2-2 6 0 1-1 2-6 2-2 7-1 2-1 2-4 1-6 1 0 6 2 4 0 8-8 6-1 4-3 2 0 6 0 8 4 2 0 2-1zM596 472l2-2 2 2 2 2 0 2-2 2-2-1-1-1-1-2zM968 484l4-1 3 1 1 2-2 2-6 4-2 1-1-1 1-4zM863 488l7 1 3 1-3 8 1 6-3 3-3 1-2 2 0 4-1 1-8 2-4-1-1-2 0-2 3-3 4-1 0-2-5-4-1-2 0-2 2-1 4 0 4-7zM925 494l3-1 2 1 1 2 0 4 1 4 0 2-2 0-5-6-1-4zM943 500l1-1 2 1 1 4-1 3-6 1zM817 508l3 0 1 2-3 2-4 0 1-2zM822 514l2-1 2 1 2 4 2 2 4 0 4 3 6 5 3 6 2 6 3 6 0 4-4 4-2 6-1 2-3 1-4 1-4-1-8-8-8-3-4-4-1-2 1-3 4-6 2-2 3-1-1-2-2-2-1-2 0-2 4-6 1-2zM248 520l2 0 1 2 0 6-1 2-1 0-1-2-1-6zM781 534l3-1 4-1 4 1 3 1 5 10 1 4-3 5-4 2-4 0-6 0-3-3-3-6 0-4 1-6zM890 540l2 0 5 4 3 1 8 1 6 3 4 1 2 1 4 3 2 5 4 3 3 6 3 3 4 1 8-2 3 2 2 4 0 2-3 4 0 10 3 10 3 4 0 2-1 4 4 6 5 3 0 1 0 1-2 1-2-1-6-4-4-1-2 2 0 10-2 3-2 2-4 1-6 0-2 1-1 3 2 6-1 2-7 2-3 3-4-1-8 1-4-1-3-2-3-4-2-2-2 0-3 2-1 6-1 2-5 4-4 1-2-1-2-6-2-2-4-2-12-3-1-3 0-4-1-2-2-1-2 0-4 4-2 0-4 0-2-2-1-1 1-5 2-1 4 0 1-2-1-7-2-4-2-1-4 1-4-6-5-3-1-2 1-6 0-2 5-1 4-5 1-2-1-8 1-4 7-13 2-1 4-1 2-1 3-8 3-2 6 0 2-2 2-5 2 0 1 3 3 1 3-3zM753 546l1-2 2 1 3 3 0 2-3 2-2-1-1-3zM731 594l3-2 2 0 2 2 1 2 0 4-1 1-2 1-9-4 1-2zM681 634l3 0 4 3 2 1 2 0 2 2 1 2-1 2-4 6-2 1-2 0-4-1-2-4-3-8 1-2zM351 640l3-2 1 2-4 4-3 0 0-2zM473 712l-1-2-2-2-2 1-2-1-2-2 0-2 4-1 1-1 0-4-3-6 0-4 2-2 10 0 0 2 0 2-2 2-2 0-1 2 1 0 4-1 2-2 1-1-2-6 2-10 1-6 0-4 3-6 0-6 0-2 6-6 1-6 0-2-2-6 0-2 4-4 6-4 1-2-3-1-2-3 2-2 2 0 4 5 2 0 4-3 0-8 4 0 6-2 6 4 5-12-5-4-1-2 1-2 2-2 6-1 2-2 6-9 2-1 6 1 4-2 0-2-1-2-6-4 0-4 1-2 2-2 8-1 2-2 2 1 2 6 2 1 5-1 2-2 0-2-1-4 0-2 8-5 6-1 2-3 1-5 1-4 2-2 6 2 2 1 2 6 2 1 4-3 2-3 0-2-6-7-5-3 1-2 4 1 4 0 3-1 3-2 1-6 3-6-1-2-3-4 2-2 3-2 7-1 4-3 2 0 4 2 2 1 2-1 4-3 4-2 1-3-2-6 1-2 4-8 4-4 4-7 2-2 2 0 1 1 2 10 1 1 2-1 3-2 1-8 0-2-4-2 2-2 6-1 6 1 2-2 1-2 0-2-3-2-1-2 1-4 3-4 0-2-5-4-1-2 0-10 2-4 3-3 4-2 2 0 4 2 2 1 0 2 2 8 8 3 4 0 4-4 4-1 4-2 3-4 3-5 6-3 3-2 1-4-2-6 2-2 4-1 2-2 6-9 1-2 0-4 1-2 4-3 1-1 0-8 1-5 2-1 8 1 2 2 2 1 3-2 1-2-1-4 0-2 2-2 5-3 8-1 6-4 1-4 1-10 2-2 4 0 2-2-1-2-6-4 0-2 3-6 1-6 2-2 9-6 6-6 5-2 2-2-1-4 1-2 3-2 4-1 2 0 0 3 0 2 2 1 2 1 6-1 2-1 0-4 0-2-5-4 0-2 1-2 4-2 14-1 2-1 1-2 2-4-1-4-6-10 2-10 2-4 0-8-3-4 0-2 1-2 5-4 1-2-1-2-3-2-2-1-4 1-4-2-2-2-4 0-3-8-7-10-1-10 1-4-4-2-7-8-8-14-1-2 1-2 1-1 6 1 5-2 3-4 1-2 0-6 1-2 4-2 4 0 12-3 6-6 6-3 2-2 1-4 3-3 2-1 6 0 2-2 1-4 1-1 4 1 3 2 2 4 2 6 9 3 2 1 4 4 2 0 6-3 4 2 4-2 2 1 2 2 2 2 6-6 7-8 5-3 2 0 2 1-4 4 0 2 2 2 4 1 4-3 6 2 2 2 0 4-1 6-4 6 1 2 2 1 2-1 4-3 2 0 6 1 4 3 2-2 3-3 3-10 2-3 6-2 2-1 6-8 1-4 3-2 6-1 2-1 0-2-4-2-3-4 0-4-3-8 0-4 2-1 4 1 4 6 2 0 2-2 2-4 2-2 6-2 6-2 2-2 4-9 2-1 2 0 4 2 2-2 4-6 2-1 2 1 1 6 5 4-1 2-3 2-8-1-2 1 1 4 3 4 2 0 2-1 4-4 8-5 1-2 0-6 1-2 2 0 3 2 1 4 2 1 8 0 2-1 1-2 0-2-3-4 0-2-1-12 0-4 0-2 3-3 2-1 2 0 2 1 4 3 2 0 3-4 2-4 0-4 1-1 1 3 5 7 2-1 2 0 8 6 2 0 6-4 2-3 2 0 8 5 4 0 5-2 3-2 4-2 4 4 6 3 3 5 2 10 1 2 4 3 2 3-2 3-4 1-3 8 1 2 2 2 2 4-1 2-1 2-6-1-3 3 1 6 3 4 0 8 2 4-1 2-2 0-4-3-2-1-3 2-1 2 1 10-1 2-2 0-4-2-2 1-1 1 1 2 2 3 1 3-3 10-3 2-7 2-2 2-1 2 1 4 1 2 5 2 6 6 2 0 2-2 1-4 1 0 2 0 1 2-1 2-7 8-7 2-2 2 3 6-1 3-10 4-4 0-2 1-2 3-6 3-1 4-5 4 2 4 4 3 4-2 2 0 1 1 1 2-2 1-4 0-2 1-6 6-8-5-2-1-8-1-6 2-1 1-2 4-3 3-8 5-1 2-2 6-4 10 0 2 3 0 6 3 5 1 1 2-1 4 3 2 4 0 2 1 2 3 0 2-2 3-2 2-4 1-2 2 1 2 1 1 2 1 8 3 6-2 4 1 9 8 1 4 0 8-4 8 0 2 2 4 2 1 2-1 2-1 5 5-1 2-4 2-6-3-2 7 0 6-2 6 3 6 2 6 2 4 0 2-2 4-4 4-3 4-4 0-2 2-3 4-3 2-1 2 2 6-1 1-6-1-2 1-1 1-2 8-7 8-2 1-2 0-6-2-3-3-9 0-2 0-11 6-5 5-2 0-6 0-6 2-2 0-4-2-2-5-2-2-12-5-3 1-3 4-4 2-4 1-2-1-2-4-5-6 0-4 1-4-2-6-2 1-4 4-2 1-2-1-2-3-6-2-4-4 1-4 5-10-2-2-2-1-2 0-2 1-4 8-2 0-2-2-3-6-3-2-4-1-3 1-2 8-2 2-1 1-2-1-4-4-5 2-2 2-1 2 1 6-3 3-4 5-5 4 0 2 1 7 2 3 4-1 3 1-1 1-2 1-4-2-4 1-2 0-4-3-2-1-2 0-3 3-3 7-6 4-10 11-1 2 0 4-1 2-2 1-2-1-2-4-2 0-7 4 0 2 1 2 4 2 2 2-1 2-2 2-3 1-6 0-2 0-1 1-3 5-8 0-2 2-4 7-2 10 0 4 2 2 6 3 6-6 2-2 4 0 2 1 2 4 1 2-1 2-4 1-8 1-4-1-8 4-4 0-4-2-2 0-8 7-6 2-1 2 0 2 4 8 0 2-3 2-6 2-3 0 3-6-1-2-1-1-2 0-2 1-1 2 1 5 1 1-1 2-3 2-3 1-2-1-4-4-2 0-2 4 0 6-2 6-1 6-5 7-4 2-3 3-2 6 0 8-1 2-2 0-4-2-2 0-2 1-6 7-2 1-12 0-8-2-4 1-1 2 0 4-7 6-1 2 0 8 2 4 0 2-1 2-2-1-4-2-2 0-4 5-2 6-6 7-4 0-10 2-2 2-2 3-2 8 0 6-1 2-3 1-2-1-4-2-2 0-2 2 0 2 2 4 0 4-2 1-6 0-2-1 0-2-2-2-2 1-2 1-2 4-5 4-2 4-7 6-6 2-2 2-1 2 1 2 3 4 1 2-1 2-7 3-3 5 0 4 1 2 6 4 0 3-2 0-2 0-4-2-2 0-4 2-2 0-2-3-2 0-4 2-4 5-6 4-2 3 0 3 6 4 1 3 0 2-5 8-5 0 0 2 5 0 2 2 2 2 0 2M608 712l1-4 3-4 0-5 4-5-1-4-3-6 1-2 1-2 4 2 0 4 1 2 3 2 1 2-1 2-3 2-1 5-3 3-1 2 2 6"/>
<path stroke="#2e5aab" d="M483 44l3-1 2 0 2 0 2 3-3 6 0 4-3 1-2 0-2-3-1-2 1-6zM1063 44l1-2 2 0 5 6-1 2-2 1-4-1-2-2 0-2zM200 62l2 0 13 10 1 2 2 10 3 4 3 6 3 2 5 8 0 2-3 4 0 2 2 12 0 4 4 6 0 4-2 16 0 4-3 6 1 6-4 14-4 6-2 6-5 4-3 6-1 6-3 4-5 2-4 1-4-2-4-3-2 0-6 3-2-1-6-4-2 1-4 3-6-1-3-1-3-6-2-1-2-1-4 4-2 0-2-2 0-2 3-6-1-4-2-4-4-3-6-8 0-3 1-4-1-2-2-1-6-2-1-1-1-2 2-6 0-2-4-4-1-2 4-10 11-12 1-6 3-4 0-2-2-4 2-3 1-3 0-6 1-2 6-3 4-3 4 0 6-4 2-4-1-6 1-2 4-2 3-6 13-8 4 0 6 1zM1016 62l2 0 3 2 0 4-1 2-2 0-2-2-1-4zM731 84l1 0 3 2 1 2-1 6 1 3 1 1-7 1-2-2-1-3-1-4 1-2 1-2zM703 86l1-1 2 0 1 1 0 6-1 4 1 2 1 1 6 2 4 5 10-2 2 0 4 2 1 2 0 2 0 10-4 6-1 2 3 4 1 8 3 6-1 10 2 10 0 2-4 4-1 6-3 2-6 2-2 2-3 4-1 2 1 2 2 2 0 2 0 2-1 1-4 1-4 4-2 2-6-2-8 1-10-1-10 2-2-2-3-8 0-4 2-4-1-5-4-5-8-3-6 0-2-3-5-4-1-2 2-8-2-2-2 1-7 7-6 4-2 2-2 8-1 2-4 4-8 6-4 6-2 0-15-6-7-1-4 1-4 0-6-4-4 0-2-2-6-9-6-5-2-6 0-6-1-6 0-2 3-6 0-8-1-4 0-2 9-12 1-6 6-4 2-4 5-5 2-1 10 1 8-1 10 5 5 5 11 5 6 5 1 2-1 6 1 4 3 3 6 2 2 0 2-3 6-6 2-4 2-6 3-4 2-4 1-2 6-5 4-2 4 0 4-5 4-3 6 3 10 0 2-1 1-3zM739 98l3-1 2 1 1 2-1 2-2 2-3 0-1-2-1-2zM529 162l1-1 1 1 3 6 4-2 0 4-2 3-2 1-2-6-4 1-1-1 0-4zM1126 165l-4 3-1 2 1 1 8-3 0-2-2-2zM211 236l3-1 6 0 12 6 8 1 4 2 1 2 1 8-4 14-11 12-5 16-6 7 0 5-4 3-4 7-4 4-2 2-2 6-2 2-2 1-5 1-3 2-4 7-6 5-10 2-10 7-8 0-4 2-1-1-1-2 2-4-1-2-5-8 0-2 0-2 4-6 1-10 1-4 6-10 8-8 4-9 8-8 4-7 8-10 4-8 0-2-1-2 5-3 6-8 8-3zM594 246l2-1 3 1 2 4 3 1 3 3 2 2-1 2-8 0-2-2-4-6-1-2zM784 266l2-1 2 0 2 1 2 2 1 2 0 2-4 4-3 0-2-2-1-4zM588 274l2 0 6 4 8 1 6 2 6-1 2 2 1 6 6 4 1 2-1 6 0 2 4 4 1 2 0 2-2 1-6-1-2 2-4 6-4 4-2 0-3-2-9-2-8 1-6 3-2-1-5-3-5-1-2-1-4-4-7-6-5-10 0-4 0-4 4-4 12-8 2-1 10 1zM972 298l-3 2 0 2 3 2 2 0 2-2-1-4-1-1zM596 322l4 1 2 1-1 2 1 2 10 2 4 3 2 3 0 2-2 5-6 4-4 2-8 1-5-2-1-2 1-10 1-6-2-2-1-2 1-2 2-2zM209 340l3-1 9 3 4 2 3 4 3 8 6 10 3 3 4 0 6-3 2 0 6 4 3 4 3 6 7 6 6 10 3 6 4 6 0 4-5 10 0 8-1 4-2 3-4 4-2 7-3 6-2 2-7 3-6 4-5 5-3 1-8-1-12 1-20-2-2 1-5 6 0 2 2 2 10 4 6 6 3 5 6 6 4 3 2 8 0 6 1 6 2 2 6 4 2 2 1 2-5 6 0 4 0 2-3 4-2 1-4 0-3-1-1-2-1-6-1-1-2-1-8 1-2 3-1 2 1 3 4 3 2 2 0 2-2 6 1 4-2 4 0 4 1 2 6 4 1 2 0 6-1 6 3 8 1 14 0 2-4 6 0 8-5 8-2 6-7 4-6 10-3 2-13 5-2 0-4-2-2 0-8 0-2 1-1 4-1 2-2 0-2-2-2-4-2-2-8-4-1-6-3-2-3-6-5-4-3-6 0-2 3-3 1-3-1-2-2-4-3-2-1-2 4-4 0-2-4-4 0-2 0-2 2-2 1-2 0-6 3-6 6-8 4-10 5-4 2-6 3-3 2-3 0-2-2-2-8-5-5-5-5-4-6-8-4-2-2-2 1-6-2-12 0-12 1-4-1-6 0-2 3-3 6-1 12-5 6-5 4-2 4 0 14 1 4 0 2 0 3 3 2 0 0-2-1-3-3-3-5-3-2-3-6-5-2-3-5-8-1-11-2-2-4 2-1-1 1-6 6-3 2-3 1-10 3-14 4-4 9-6 3-6 3-4 1-6 0-2 4-4 1-2-1-4 7-6 7-2zM935 396l3-1 1 1 2 2 1 4 0 4-2 3-4 0-3-1-1-2 2-8zM897 398l1 0 2 0 1 2 1 6-2 5-2 1-2 1-2-1-2-2-1-2 2-4zM689 408l3 0 4 2 2 2 1 6-2 6-5 5-2 1-4-1-3-3-2-8 2-6 3-3zM1017 412l1-1 6 0 4 0 1 1 1 2-8 4-2-1-2-1-1-2zM855 450l3-2 2 1 2 1 1 2 0 2-3 2-4 1-4-1 0-2zM899 450l3-1 3 1-1 6-1 2-4 6 0 6-5 10-2 2-2 1-6 0-4-1-1-2 1-2 2-1 2 0 2-1 3-4-1-1-3 1-5 4-10-4-6-5 0-1 8-4 0-4 2-2 3 0 2 2-1 3-3 3 1 0 6 0 4-2 4 0 4-7 2-1zM1064 470l2-1 2 1 6 3 10 3 14 2 14 8 2 6 2 2 4 6 4 6 2 0 2 0 6-5 1 3 0 6-3 6 0 10-1 4-5 3-2 0-6-1-3 0-6 2-6 4-3 6-2 4 0 20 3 6 1 6 3 12 0 4 3 6 0 2-2 1-4 0-1 1-1 2 1 6-3 4 0 7-8 6-2 5 1 2 2 2 0 4 1 1 4 2 4-1 0-2-4-4-1-2 1-2 4-3 6-1 2 0 2 2 1 6 1 1 2 0 4-2 8 0 2 0 4 3 6 0 2 2-1 2-3 1-6 0-2 2-3 7-1 1-4 1-2 1-4 6-4 0-6-1-2 0 2 4 0 4-3 10-3 2-3 0-3-2 0-6-2-3-5-3 0-2 3-6 0-2-10-8-2 0-2 1-1 1-1 2-2-1-4-6-2 0-2 0-4 3-1 8-1 2-2 0-3 0-4-2-8-6-3-1-4-1-14 0-3-2-1-2 0-2 2-4-1-4-7-8-8-4-3-4-1-2 1-4 1-1 4-1 1-2 0-2-1-5-2-3-4-4-1-4 1-3 5-3 1-2 1-2-1-3-2-2-4 1-1-2 1-2 6-5 3-3 3-10 4-4 2-3 3-9 1-4-1-4-2-2-11-8 0-4-6-6-2-2-4 0-3-2-1-2 0-4 2-1 6 1 1-2 1-6 1-2 1-1 8-2 8-7 6-1 2-1 6-6 7-2 3-2 4-1 4 1 8 3 2 0 2 0zM861 490l3-1 2 0 2 1 1 2 0 12-3 2-4-1-3-1-1-2 2-4 0-6zM115 514l3-1 2 2 2 7-3 6-3 2-2 0-2-1-1-1-2-10 1-3zM99 516l1-1 3 1 0 2 0 6-1 4-2 2-4 1-3-3-1-4 1-4 2-2zM824 522l2 0 6 2 2-2 2 1 6 4 5 7 0 6 3 5 0 3 0 2-4 2-1 6-1 2-2 2-2 0-4 0-4-3-4-4-4-2-6-2-3-3 0-2 0-2 4-6 3-1 4-1 0-2-1-2-4-4 0-2 1-2zM782 534l6-1 5 1 7 11 0 3-2 4-4 3-2 0-7-1-3-2-2-4-2-8 1-4zM888 542l2-1 2 0 8 6 6-1 2 1 4 4 2 1 4-1 2 1 2 2 0 2-1 4 1 1 6 2 2 2 3 5 5 3 4 2 2 0 0-1 2-1 2-1 2 1 1 3-1 2-6 0 0 4 1 2 3 1 1 3 1 6 1 4 2 8-2 8-4 4-1 2 0 8 0 3-2 2-4 2-8-2-2 1-1 6 0 6-3 2-4-2-5 4-9 1-3-1-5-6-4-2-2 1-2 2-1 1 0 4-1 3-4 3-2 1-2 0-1-1 0-4-1-2-6-3-12-4-1-1-1-4-2-3-2-1-4 0-4 3-2 0-2-1 0-2 2-1 3-1 1-2 0-4-2-9-2-3-2-1-2 0-2 0-7-7 1-1 9 1 0-2-3-8 3-6-1-6 0-4 2-6 4-6 2-2 4-1 3-1 1-2 2-6 2-2 6-1 4-3 2 0 4 1 5-5zM830 543l-2 3 0 4 2 3 2 1 2-1 3-3 0-2-5-4zM202 556l0 2 4 3 2 0 2-1 0-2-1-2-3-2-2 0zM679 636l3-1 2 1 6 5 2 1 0 2-4 6-4 0-2-2-4-10zM177 674l1-1 1 1 0 2 1 6 0 2-2 1-2 0-1-1-1-2 0-2 3-4zM474 712l-3-6 0-6 1-2 2-1 6-2 2-4 0-3-1-6 1-6 2-8 0-4 3-6-1-6 1-2 5-6 3-8-3-6 1-2 3-2 8-4 4-4 3-2 2-2-1-4 1-2 5-2 2 1 4 3 2 0 2-1 1-3 0-4 4-6-1-2-4-2-1-2 1-2 8-3 8-10 8-1 5-2 0-2-8-6 0-2 1-4 2-1 2 0 6 1 4 5 4 0 5-3 2-2 0-2-1-4 1-2 5-3 8-2 1-1 3-12 3 0 3 2 1 2-1 4 2 2 4 0 3-2 3-4 1-4-4-6 0-2 5-3 3-3 3-8 4-8 0-2 4-1 4-4 2-1 4 3 2 0 6-4 4-1 2-2 1-4-2-6 1-2 2-6 4-4 4-7 2-2 2 1 0 2 0 6 1 2 1 1 2 0 6-4 1-1 0-4 1-2 4-2 2-2 4-2 4-5 6-2 6-1 2-3 0-3-2-6 2-8 10-2 4-4 6-3 6-8 10-7 1-4 0-6 5-3 6-9 7-4-1-4 2-2 1-2 0-8 1-3 8 3 2 0 2-1 4-5 1-2 0-4 1-3 4-2 8-1 6-4 1-2 2-4 1-9 2 0 2 1 2-2 2-4 0-5-6-1-1-2 4-6 0-4 1-2 8-6 8-3 8-6 2-5 2-1 6 2 8 1 2-4 0-4-1-2-4-4 0-2 1-2 4 0 4 1 4-2 2 0 4 2 1-1 3-10 0-4-1-4-5-6 0-2 2-7 2-3 0-8 2-4 9-4 0-2-6-2-2-6-2-2-6-4-4-4-3 0-4 0-2-1-8-13-1-2 0-8 2-4 0-2-7-2-6-6-3-6-3-8 0-2 8-2 5-2 2-6-1-6 2-2 2 0 4 0 6-3 8-1 5-6 7-4 3-6 1-1 4-2 4 1 2-1 2-4 2-1 2 0 2 2 2 4 1 4 1 2 10 2 6 6 2 0 6-3 4 1 4 0 2 1 4 3 2-1 2-3 5-4 3-4 2-2 4 6 2 2 6 0 4-3 2 1 2 2 0 2-2 6-2 0-2-2-2-1-2 0-3 3 1 2 6 3 2 4 2 2 6 0 8-3 2 1 1 5 3 0 2-2 2-4 5-6-1-6 2-3 2-1 4 0 2-1 2-5 5-4 3-5 8-3 3-4-1-2-4-1-2-2 0-3 2-4 6-4 4-5 2-2 6-3 6-1 6-10 2 0 2 1 5 10 1 5 2 1 2-1 8-7 4-2 8-2 6-3 6 0 2-1 3-4 0-2-3-6-2-14 2-4 2-2 2 0 2 1 4 4 2 0 6-2 4 1 6-2 4 1 4 3 2 0 6-4 8-1 6 2 6-1 6-3 4 3 6 3 2 1 0 4 3 4-1 6 1 6 0 6-3 8 0 4-4 8 0 5 3 7 0 4-1 3-6 0-3 3 0 4 1 6-1 2-1 0-4-2-4 2-1 2 0 2 3 6-2 10-2 1-6 2-2 1-2 4 0 4 1 2 1 1 7 3 4 6 0 2-8 4-1 2 3 6-1 2-8 3-4-2-2 1-2 2-2 4-4 1-1 1-1 4-2 2-5 2 0 2 6 8-1 2-2 2-2 0-6-3-8-3-4 2-6 3-7 7-7 5-3 11-3 5-2 2-2 1-2-1-2-2-2 0-4 0-2 1-1 2-1 2 1 2 3 2 2 0 6-1 4 1 6-1 1 1 1 2-1 4 1 2 2 1 14 1 2 2 1 2-3 3-6 2-1 3 0 2 5 3 8 3 8 0 3 4 5 2 2 2 1 2 0 8-5 8 0 2 1 12-1 8-2 8 0 2 4 5 1 3-1 2-2 1-2-1-2-4-2-1-2 1-1 2 4 4-1 6 1 6-7 8-5 4 0 4-1 2-4 1-2 1-2 8-2 4-4 4-2 1-2 0-4-4-2 0-14 0-4 1-14 10-8 0-6 1-2-1-3-6-3-2-6-1-4-3-4-1-4-4-2 1-1 0-1 2 2 4 0 2-3 2-3 1-2-1-6-8 0-2 0-2 3-4-4-8-1-1-4 5-2 2-2 0-3-4-7-2-2-2 0-4 5-10-1-2-2-2-4-1-2 0-4 8-2 0-3-5-3-3-4-1-6-1-1 1-1 2 0 7-2 2-6-4-6 2-2 3-1 6-5 8-6 6-1 2 1 8-2 1-4-3-4 1-4 3-3 6-5 3-4 5-10 10-6 0-6 4-2 2-1 2 1 2 6 4 0 2-2 2-2 0-6-1-2 0-3 1-2 4-1 1-6 1-2 1-6 9-2 12-2 5-2 2-4 2-8 7-9 4 0 2 3 10-1 2-2 0-1-4-4-3-2 0-4 3-1 2 1 6-2 3-2 0-2-1-4-4-2 0-2 1-1 9-4 14-5 6-4 2-2 3-3 7 1 6-1 2-1 1-4-2-2 0-3 1-5 6-2 1-8 2-4-1-6-2-6 0-2 2-1 6-6 6-3 6-2 2-8 12-2 6-2 3-2 2-14 2-2 2-3 5-2 6-1 2 1 4 0 2-1 1-2 0-2-1-2-2-2-1-6 5-1 2 2 4-1 2-2 0-1-2-3-1-4 0-2 1-4 6-3 2-5 6-13 10-1 2 0 2 3 4 0 2-5 3-6 10-2 1 0 3-2 1 0-2 0-1 1-1-3-1-4 5-4 2-5 6-7 5-2 3 0 2 1 2 5 4 2 2 0 2-4 5-2 1-4-1-2 1-1 4 3 2 6 1 2 1 0 2M571 712l-3-3-4-1-10 4"/>
<path stroke="#3450a6" d="M484 44l4-1 2 1 0 2-3 6-1 3-2 0-2-3 0-4zM1052 54l2 0 2 1 2 3 0 2-2 1-2-1-3-4zM186 64l10 1 6-1 7 4 6 6 2 12 3 4 2 5 3 3 4 6-1 2-1 4 2 14 0 4 1 2 2 4 1 4 0 6-2 14-3 6 1 6-3 12-4 8-1 4-5 4-2 4-2 4-2 6-4 4-4 1-4-1-6-4-2 0-6 3-2 0-6-5-2 1-4 2-4 0-4-2-4-5-6-3-4-10-5-5-5-8 0-6-1-2-6-6 1-8-1-2-3-2-1-2 1-8 10-12 3-8 3-4 0-6 1-12 3-2 4-1 4-1 2-1 9-9 0-8 5-4 2-4 5-2 3-4zM730 86l2 0 2 2 0 2-2 3-2 0-2-3 0-2zM702 90l2-2 1 2-1 4-1 2 4 4 5 2 4 6 2 0 6-2 4 0 4 2 1 2-2 6 2 2 0 2-1 2-4 4-1 2 4 4 1 2 1 8 3 6-1 10 1 6 0 3-4 5 0 4-2 2-9 4-6 8-2 4 1 4-1 2-1 2-2 2-6-1-6 0-10-1-10 1-2-1-3-6 0-2 2-6-3-7-4-5-6-3-6-1-6-5-1-1 0-10-1-2-2-1-2 1-8 8-6 5-2 3-2 8-2 3-10 7-4 4-2 1-6-1-6-2-7-2-3 0-6 1-2 0-6-4-4-1-3-4-3-6-5-4-2-2-3-16 1-2 3-6 0-8-1-6 1-3 6-7 2-6 2-2 4-3 3-5 3-3 2-1 10 0 6-1 3 1 12 8 11 6 5 4 2 2 0 6 2 6 3 2 8 4 2-2 2-4 7-8 3-8 4-4 3-6 4-4 3-1 4 0 6-7 2 0 8 2 10 1 3-1 0-4zM1054 227l-2 3 0 2 2 2 3-2 3-4-2-2zM214 236l4 0 14 7 6 0 4 2 2 3 0 6-3 12-11 14-5 14-6 8-2 6-3 4-2 4-6 6-4 9-2 1-7 2-2 2-5 7-6 5-10 2-8 5-4 1-4-2-6-8-2-6 0-2 3-6 2-12 4-10 2-2 7-8 4-8 10-10 3-6 7-8 8-12 4-8 4-3 7-3 1-4zM586 276l2-1 2 1 6 4 8 0 6 3 5 1 3 4 6 6-1 8 1 4-6 5-4 6-2 1-2 1-16-3-10 4-2-1-6-2-4-1-12-10-5-10 0-2 0-4 2-4 7-5 8-4 8 0zM974 294l-6 4-1 2 0 2 0 2 3 2 6 0 2-2 0-8-1-2-1-1zM956 307l-1 3 1 4 4 1 2-1 2-1 1-3-3-3-4-1zM597 332l3-2 2 0 10 2 4 2 1 4 0 2-3 3-6 4-6 1-4 0-3-2 0-2 1-4-1-4 0-2zM208 342l2-1 2 0 8 3 1 2-6 4 1 5 2 1 8-2 2 1 4 5 3 6 3 4 4 1 8-3 2 0 6 4 2 2 4 7 6 5 1 2 11 20 1 4-5 10-1 12-5 6-2 6-2 3-4 5-6 3-12 10-2 1-8-1-12 1-14-1-6-1-4 2-4 6 0 2 2 3 8 3 8 6 4 7 8 9 2 6 0 6 1 8 1 2 2 1 4 1 2 1 1 1 0 2-3 1-4 0-6 3-4-1-10 2-2 1-2 4-1 4 1 2 2 2 3 2 1 2-2 2-4-4-4 0-4 2-1 2 0 2 10 8 1 2 1 6 1 1 5 3 1 2 1 6-1 6 4 8 0 14-4 8 0 8-6 12-2 2-7 4-6 10-7 3-6 2-6-2-18 1-2-1-4-3 0-2 0-2-2-4-8-4-7-8-1-4 2-6-2-10 0-2 1-4 0-2-3-4-1-2 2-4-1-6 1-4 4-6 5-6 2-8 2-2 4-2 2-2 1-4 5-8 0-2-6-5-6-4-10-8-4-7-5-4-1-8-2-6 0-6 1-8 2-6-1-6 2-2 17-8 5-4 4-3 4 0 18 2 4 3 2 0 2 0 1-2 0-2-2-4-11-10-6-5-5-7-1-4 0-8-2-6 0-2 2-3 2-11 4-16 3-4 7-4 2-2 2-4 5-6 0-6 1-2 2-2 2 0 2-2 0-4 4-6 2-2 4 0zM997 368l1-1 2 0 3 1 0 8-1 1-6-5 0-2zM936 400l2-1 2 4 1 3-1 2-4 0-2-2 0-2zM896 402l2-1 2 1 0 2 0 4-2 2-2 0-2-1-1-1 0-2zM686 410l4-2 4 1 3 3 1 2-1 8-3 5-4 2-4-1-3-4-1-2 0-4 1-4zM894 458l4-2 2 2-3 6 1 4-2 1-6-3-1-2 3-2zM1065 472l1-1 2 1 6 3 24 5 12 8 2 4 4 4 3 4 5 7 2 1 6-3 1 3 0 2-3 6 1 10-1 2-2 2-4 2-6-1-8 1-2 1-6 4-4 7-3 4 1 6 2 14 2 6 0 6 4 20-1 2-3 2-1 2 0 2 0 6-3 4-1 6-8 6-3 6-4 1-3 3-1 2 0 6-2 2-2 1-2 0-4-3-4 0-7 4 0 2 0 4-1 2-2 0-4-5-4 0-6-3-6-1-14-1-1-2 1-4 0-2-2-5-8-8-4-3-4-4-1-2 1-2 4-3 1-3-3-9-5-7 0-2 1-2 4-3 2-3 0-4-1-8 4-8 2-8 5-6 5-10 1-4-1-4-2-2-10-8-2-6-5-4-3-6 3-4 0-8 2-2 6-1 10-6 6-3 6-6 2-1 10-4 4 1 10 3 2 0 3-1zM863 492l1-1 2 3 1 6-1 3-2 0-1-1 0-4-1-4zM116 516l2 0 1 2 1 4-2 4-2 2-2-1-1-1-1-8zM95 520l3-1 2 0 1 1 0 6-1 2-2 1-2 0-2-3 0-4zM826 524l2 1 4 5 2 1 4-4 2 0 2 1 3 4 1 4-1 2-2 2-1 4-2 1-2 0-2-1-1-2-3-6-2-2-6-6-1-2zM783 534l5-1 4 1 3 6 3 3 1 3 0 2-1 3-2 2-4 1-4-4-4 1-3-7-2-4 0-2 1-2zM228 540l2-1 4 0 1 3 0 2-3 2-4 0-2-2 1-2zM820 540l2-1 2 0 2 1 0 2-1 4-1 4-2 1-2 0-2-2-2-3zM887 544l3-2 2 1 8 6 2 0 4-1 2 1 4 5 6 0 1 2-1 4 1 2 3 2 4 1 2 0 4 6 9 7 2 6 5 4 0 1 2 13 0 6-2 4-4 2-4-1-2 1-1 2 1 3 4 2 2 3 0 6-2 2-4 0-5-2-5 0-2 2 1 6-2 4-9 5-2-1-4-3-6 1-6-3-2-1-2 0-4 4-1 2 0 4-1 1-2 1-4-8-12-1-6-1-2-2-2-4-1-2-5-2-2-2-2-8 0-6-2-4-2-6-3-6-1-4 2-4 2-4 0-2-2-4-1-4 2-4 3-4 2-2 6-2 2-1 4-5 1-4 9-3 6 0 2-1 3-4zM838 554l2-1 2 1 1 2 0 2-2 2-3 0-3-2 1-2zM551 560l3-1 4 1 2 4-1 2-3 0-4-2-1-2zM1099 636l3-1 4 0 2 3 0 4 2 1 2 0 6-2 2 0 5 1 1 2-2 9-2 2-4 1-2 2-2 4-2 1-4 0-4-3-6-2-3 2 5 6 1 4-3 10-2-1-1-3-2-4-5-4 0-2 4-6-10-10-1-2 5-5 2 1 2 3 2 1 6 1 4-1 2-2 1-2-6-4-1-2zM682 640l0-1 2 0 3 3 1 4-2 2-2 0-1-2zM476 712l-3-8-1-2 2-3 6-1 3-6 0-16 2-6 0-6 3-6-1-6 1-2 5-4 4-8 0-2 0-6 1-1 2-1 7-4 4-4 1-1 4 1 2 0 2-2 2-5 6-2 2-3 1-6 4-6 0-2-1-3-2-1 4-2 5-6 3-5 1-1 7 0 6-1 2-1 1-2 1-4 1-2 10-4 6-4 1-2-2-4 2-2 6-2 6 0 2-2 8-2 6-3 4-7 0-3-3-5 1-2 4-3 3-3 1-2 2-6 2-3 2 0 2 0 4 3 2-1 6-9 4-4 8-4 2-4 0-10 2-5 2-2 4-3 4 5 2 0 2 0 7-5 3-4 6-5 6 0 2-1 1-2-1-4 1-2 5-2 4 0 2-1 2-7-2-6 0-2 2-3 2-2 6-1 2-2 10-8 6-6 8-6 3-4 0-6 1-2 8-10 2-1 4 0 2 0 2-2 1-3 0-12 1-2 2 0 5 2 0 2-2 4 0 2 1 0 2 0 4-12 5-8 1-4 2-2 1 6 3 5 2 0 8-6 0-3-2-2 0-2 0-2 4-4 3-6 1-1 2 0 4 2 2 0 3-5 0-2-3-2-1-2 2-8-2-14 3-4 4-3 6 0 5-5 5-3 2-3 2-1 6 1 4 2 4-2 2-4 0-9 4-1 2-3 2 0 2 4 2 0 2-1 2-4 0-8 3-8 0-2-4-8 3-6 3-4 1-2 0-4-2-3 0-3 1-2 6-2 1-1 0-3-1-2-6-2-3-6-6-4-6-5-2-1-6 0-2-1-3-5-3-6 0-8 1-6 0-2-3-3-4-1-4-3-4-3-1-2-1-6 0-3 1-1 3-1 6-2 2-1 0-4 1-8 1-1 4 0 6-4 8-1 3-2 5-6 6-4 2-4 1-2 3-1 2 0 6 1 9 6 7 1 4 1 4 4 2 1 2 0 6-2 8 1 8 5 2-1 2-5 2-1 6-3 2 2 1 3 0 4 1 4 6 2 2 1 4 6 6 0 8 3 6 1 5-3 3-6 5-4 0-2 0-6 1-1 4 0 3-1 1-2 1-4 1-2 6-4 4-4 9-6 1-2 0-2-6-4 0-4 2-2 4-4 3-4 3-2 4-2 4 1 8 2 4 4 10 0 5 3 3 0 2-1 4-9 2-2 6-2 4-5 6 0 2-2 6-6 10-7 4-6 0-2 0-1-2 2-2 0-2-1 0-2 2-2 2 0 2 2 4-4 4-2 2 0 6 3 2 1 6-4 8-1 6 1 12-3 2 1 6 5 5 5 1 2-1 18-3 12-4 8 1 6 2 8 0 2-8 4-3 7-8 7-1 2 0 6-2 4 3 4 0 2-2 2-4 1-2 1-2 2-3 4 0 4 2 4 3 2 4 0 3 2 1 2 0 2-2 1-4 2-2 3 0 2 2 6-2 2-2 0-2 0-2-2-2 0-8 6-2 0-6-4-2 1-4 3-4 1-1 1 1 6 0 4 1 6-1 1-8-1-2 4-8 4-7 4-2 4-6 6-1 8-2 3-2 1-6-1-2 0-8 1-1 2-2 6 1 2 4 3 2 1 6-1 4 0 4 3 6 6 6 3 2 1 5-2 3 0 1 2-1 1-2 1-3 0-3-2-2 4 0 4 1 2 6 4 9 4 6 2 2 4 2 2 4-2 2 1 1 3 0 6-4 6-2 4 0 4 2 6 0 2-1 6-2 3-4 1-2 0-2 4 2 2 4 1 0 1 0 2-4 4-1 2 3 6-1 10-3 6-2 2-4 2-2 2 0 2-2 2-2 1-1 1-3 5-2 3 0 4-1 2-1 1-2 0-1-1 1-6-2-1-2 1-4 4-2 1-6 1-8-1-16 11-4 0-4 0-3-2-2-4-1-1-4 0-10-3-10-7-8 0-2-5-4-1-2-3-2-5-2 0-4 3-10-1-4-1-1-2 1-2 4-10 0-2-2-2-6-3-2 0-4 3-2 0-6-3-6-1-2-1-1-1 0-2 1-2 2-1 4 0 2-1 1-2-1-4-2-1-3 1-3 2-2 4-6 6-3 6-9 8-7 16-7 6-1 6-1 1-4 0-4 2-3 3-3 4-4 4-4 5-6 6-4 2-6 2-8 5-2 2 0 6-8 4-4 5-4 1-3 2-3 5-3 3-2 6 0 6-1 3-2 2-6 4-10 9-4 1-6 0-3 1 0 2 1 4-6 6 0 6-1 2-1 0-2 0-4-4-2 0-2 0-2 3-1 9-4 12-3 5-6 5-6 14-6 2-6 6-6 3-6 1-6-3-4 0-4 0-2 1-3 8-5 4-2 5-4 3-5 10-5 6-1 4-1 2-15 4-2 2-7 12-6 3-10 9-7 2-2 2-3 4-6 4-5 6-11 9-2 9-4 8-2 1-4 1-3 2-4 6-5 4-3 4-9 8-1 4 1 3 4 5 1 2-1 2-2 1-4-1-2-2-1-4-1-2-2-1-2 0-1 3 4 8-2 4-5 4-2 2-2 0-4-3-4-1-10 4-3 2"/>
<path stroke="#364ca3" d="M959 324l1-2 2 0 2 4 0 2-2 2-2 1-3-1-1-2zM477 712l-3-8 2-3 4-2 2-4 3-29 3-8 1-6 3-4 7-12 3-6 2-3 14-7 5-6 6-4 1-2 0-6 1-2 4-4 4-8 9-10 10-2 2-2 4-6 6-3 14-5 4-2 2-3 4-2 4-5 10-7 2-3 2-4 0-4-1-4 1-2 12-11 4 1 2 0 14-17 6-4 2-3 1-10 1-3 2-2 8 0 4-2 10-7 14-8 2-2 2-4 7-4 1-2 2-5 0-7 2-4 6-4 4-4 6-4 16-14 6-8 6-10 2-1 5-1 3-3 2-3 1-4 1-2 4 1 2-1 4-7 3-7 3-4 2 0 4 4 2 0 4-2 5-4 2-4 0-4 1-2 5-4 7-3 6-7-1-8 1-10 2-4 6-5 10-10 14-7 2-2 4-6 4-3 6-4 8-9 12-8 1-2 0-2-2-6-1-4 1-4 1-1 2-1 2 0 6 5 2-1 3-6 3-1 4 0 4 4 2 1 2-1 2-1 1-4 4-4 1-4 1-2-1-2-4-4-1-2 1-2 4-2 6-1 8-5 10-16 3-4 6-6 3-7 2-3 7-6 2-8 7-10 12-12 3-6 7-8 8-8 2-5 8-4 2-5 7-6 1-2 0-2-4-4-1-2 2-4 7-5 2 0 2 0 4 9 2 2 2 0 4-1 16-6 8-1 4-4 4-8 6-2 5-4 5-2 14-10 6-6 2-3 1-5 2-2 5-2 2-1 6 3 2 0 6-3 4-1 22-1 4 1 4 3 4 5 1 2 0 18-1 6-6 12-1 14-1 2-6 4-3 6-11 15-6 5-7 4-8 10-4 8-2 8-3 4-2 6-10 14-1 8-5 8-2 6-12 7-8 11-4 3-5 1-7 4-9 2-5 3-7 1-2 2-3 4-16 7-6 6-6 4-7 5-5 6-2 2-2 2 0 4 0 4-1 2-3 3-6 1-2 2-6 9-12 7-2 3-4 9-7 6 0 2 0 4 0 2-5 3-8 9-6 4-4 6-11 12-1 2-1 6-2 2-5 4-4 6-5 4-5 5-6 3-4 6-16 9-8 9-1 6-1 2-6 4-4 5-4 1-3 2-6 8-2 4-1 8-2 4-12 7-6 5-10 1-2 1-2 2-1 2 1 6-4 8-2 1-4-1-2 0-2 1-2 3-6 18-3 4-5 4-6 11-2 2-12-2-8 2-2 1-6 8-8 4-2 2-4 8-4 4-12 17-5 5-3 6-2 2-10 4-2 1-8 11-7 4-11 9-8 5-4 5-19 17-1 2-2 6-4 6-12 9-6 7-4 6-6 6-6 8-4 0-3 2-1 2 2 6-1 2-5 6-2 1-8-1-5 2-6 4"/>
<path stroke="#3949a0" d="M188 68l6-1 8-1 4 2 7 6 1 4 2 9 2 5 1 4 5 4 2 4-1 6 2 14 0 6 3 6 2 6-2 16-3 6 0 10-3 8-5 12-5 5-4 7-2 6-2 2-4 1-3-1-5-4-4 0-6 3-2 0-4-4-2 0-2 0-6 2-2 0-2-1-5-6-5-3-2-2-3-7-6-6-4-14-4-4-2-4 2-8 0-2-5-2-1-2 1-5 2-1 2 0 2-2 0-4 1-2 3-4 2-6 4-5 0-3 0-6 1-8 3-2 8-2 9-10 1-2 1-6 1-1 10-5 6-7zM677 98l3-2 22 3 9 5 3 5 2 1 6 1 4-2 3 1-3 2-2 2 1 2 4 4 0 2-4 4 0 2 0 2 5 4 2 8 2 6-1 10 1 6-1 2-4 2 1 6-1 2-3 2-5 2-3 2-10 10 0 2 3 4 0 2-1 1-2 1-4-1-4 0-6-2-6 0-6 2-4 0-2-2-1-3 0-2 1-6-4-10-8-7-8-2-3-3-1-2-1-10-3-3-2-1-3 2-13 12-4 6-1 6-2 4-15 11-6 0-6-3-8-1-8 1-2-1-4-3-6-2-2-4-1-4-7-6-2-4-2-12 4-8 0-8-1-6 2-4 5-6 3-6 4-4 3-5 2-2 10-1 8-1 2 0 4 5 4 1 4 2 12 7 4 4 1 8 4 6 9 5 4 1 1-2 2-4 2-4 3-3 4-1 1-2 0-4 1-2 8-10 2-2 4 0 2-2zM215 240l1-1 4 0 6 2 6 3 7 2 2 2 2 4 0 2-3 8-11 18-2 8-3 6-6 8-7 14-5 4-5 10-9 4-6 8-6 4-2 1-8 2-8 4-2 1-4-1-6-7-3-6 0-2 3-6 2-12 4-10 8-9 6-9 8-8 4-8 16-19 5-9 3-3 2 0 6 0 1-1zM584 278l4-1 2 0 6 4 8 0 6 4 4 1 3 4 5 4 1 4-2 8-5 4-4 5-2 1-6 0-10-2-8 3-4 1-10-4-10-8-6-12 1-4 1-2 6-5 6-3 4-1 6 0zM602 336l2-2 2 0 4 2 4 0 2 2-2 3-2 1-8 1zM207 350l3 0 2 2 2 6 2 1 8-1 4 0 2 2 4 8 4 3 4 1 8-2 4 1 4 3 5 8 7 6 11 20 0 4-4 10-2 12-5 6-2 7-4 4-6 4-12 11-4 1-6-1-10 1-24-1-8 6-1 2 3 4 2 2 8 4 7 6 3 5 8 11 2 4-2 12-4 4-4 2-2 2-1 2-6 8-3 9-8 4-1 1-1 2 1 2 1 1 6 4 5 5 1 2 1 6 5 4 1 2 1 10 4 7 1 3-1 12-3 8-1 8-1 4-6 8-7 4-5 8-3 4-4 2-4 1-8-2-16 0-4-1-4-8-11-8-3-4-2-20 1-8-1-4 0-6-2-6 0-2 3-6 7-8 2-7 2-2 5-3 4-10 4-4 0-2-5-3-5-5-5-3-8-6-2-2-2-5-4-4-2-2-1-6-2-8 0-8 1-4 3-4 1-2-1-4 1-2 9-6 8-4 5-4 4-1 18 2 8 3 5-2 1-2-2-4-12-12-8-6-3-6-1-4-1-14 1-14 4-14 1-4 4-4 7-4 4-6 4-4 1-2 0-6 1-1 4 1 2-2 2-8 2-3 4 0zM688 410l4-1 2 0 3 3 0 2-1 8-2 4-4 2-2 0-3-2-2-4 0-2 1-6zM1067 474l17 5 12 1 6 4 12 12 8 11 5 5-1 2 0 4 2 8 0 2-4 2-6 0-8 1-6 3-4 4-4 6-5 4-1 2 0 3 4 3 2 6 2 18 4 16-1 4-4 6 0 8-3 4-1 4-2 2-5 4-5 6-7 6-1 6-1 2-2 0-4-2-2 0-8 4-8 2-4 0-10-2-9-2-3-3-4-9-13-12 0-4 1-4 0-4-5-14-1-4 4-6 2-4 0-12 4-12 6-8 5-10 1-4-1-4-3-4-9-6-3-6-5-6-1-4 2-10 2-2 20-9 8-8 2-1 8-2 4 2 12 1 3-1 5-4zM839 530l1 0 2 0 2 4-1 2-3 2-2-2 0-4zM781 536l5-2 4 2 2 4 6 6 0 2-2 3-2 0-4-4-4-3-5-4-1-2zM887 546l3-2 2 1 3 3 5 6 6 0 8 5 4 5 4 3 4 0 2 2 10 9 4 8 5 4 2 10-1 4-2 3-2 2-6 1-2 2 0 2 0 5 4 5 1 2-1 1-2 1-4 0-8 0-2 2 1 6-1 3-2 2-4 2-2 0-6-3-6 0-6-3-2 0-2 0-6 4-2 1-4-2-8-2-6 2-2 0-2-1-4-6-5-3-1-2-2-6 1-6-1-2-8-16 0-2 6-12-1-2-3-2-1-2 1-4 4-4 8-3 5-5 3-4 6-3 6 0 4-2 1-1 2-4zM1117 644l3 1 1 1 1 4-2 2-5 2-3 6-2 0-4-3-5-3-1-2 3-2zM479 712l-5-8 2-2 4-1 2-2 2-7 0-16 2-6 1-6 2-6 0-6 5-5 5-9 2-6 1-2 8-4 4-3 6-3 4-5 7-5 1-2 1-6 5-6 1-6 1-2 5-4 3-5 8-1 4-1 3-3 2-6 3-2 10-4 11-2 7-4 4-8 8-6 4-5 2-5-2-6 1-2 8-8 1-5 2-1 4 3 2 1 2-2 6-7 3-3 3-4 6-4 2-2 1-4 1-8 2-5 2-1 2 0 4 2 4-1 8-6 18-11 2-6 2-1 4-1 2-1 2-3 2-6-2-6 1-2 1-2 2-1 6-2 4-5 21-18 5-6 4-11 2-3 2-1 4 2 2 0 4-3 4-6 4-1 7-9 0-6 1-2 2-2 2 1 1 5 1 1 8-5 8-8 1-2 0-2-1-2 1-2 3-3 6-1 2-2 1-4 3-4 0-2-4-6 2-6-2-6 0-6 2-4 2-1 8-1 2-2 2-4 8-4 2-1 8 1 4-1 3-3 4-6 5-3 6-1 3-10-1-6 4-8-3-8 0-2 5-8 3-8 9-8 0-2-3-4-2-4-8-2-3-5-6-3-6-6-4-2-6 0-2-2-2-2 0-2 0-10-2-11-2-3-4-4-4-1-3-1-2-2 0-2 0-4 1-2 2-1 6-1 2-2 1-2 0-6 2-4 7-5 8-1 2-1 2-2 6-7 5-4 3-4 2-1 2 0 4 1 10 6 10 2 6 4 4 1 6-2 8 1 8 7 2 0 2-1 2-4 2-1 2 2 4 8 8 1 6 7 6-1 8 4 6 0 8-6 3-6 3-3 3-7 7-5 2-6 2-1 4 0 3-2 3-6 8-6 1-2 0-2-2-2-3-2-1-2 0-2 1-2 8-6 6-2 6 0 2 1 4 4 2 0 8-1 7 4 4 0 3-2 3-6 3-3 6-3 4-4 4-1 10-8 4-2 8-7 3-4 1-6 1-2 3-2 2 0 6 3 2 0 6-3 6-1 8 1 12-2 4 1 4 3 2 2 2 4 0 12-1 10-6 16 2 14-7 5-4 7-9 8-2 6-8 10 0 2 2 2-1 1-2 0-2-2-2 1-3 4 0 2 4 4 1 6 4 4 1 2 0 6-1 4-2 2-4 2-6 5-2 0-6-3-2 0-4 3-6 1-2 2 0 2 2 4-2 8-6 0-4 8-12 6-6 8-6 6-6 2-6 4-6 1-3 1-1 2 0 4-4 2-2 1-2 1 0 10 2 2 4-2 6-4 6 2 6-1 2 0 4 4 4 3 5 4 1 2-1 6 1 2 6 2 18 10 4 8 2 0 4 0 1 2-1 2-3 6-2 6 2 8 0 2-3 5-6 4-2 5 0 2 3 4-2 4 0 2 3 6 0 4-2 8-2 3-2 2-8 3-2 2-2 6-2 3-8 1-6 7-6 2-4-1-4-1-2 0-5 5-9 5-2 1-4 0-2-2-2-4-2-1-2-1-6 0-2-1-6-6-14-3-4-4-4-2-2-1-1-3-3-3-2 0-2 2-6-1-4 1-2 0-1-1-1-2 2-4 2-2 1-4 0-2-1-1-10-7-8 3-7-3-1-2 2-1 2-3 3-6 5-2 2-6 4-2 6 0 1-2 2-12 0-2-2-2-3-1-8 4-2 2-3 7-1 1-6 2-2 2-1 7-13 12-5 4-2 6-7 8-4 8-2 6-2 2-5 4-3 6-6 3-3 3-13 15-6 5-4 2-4 1-4 3-4 2-2 2-4 7-6 5-4 4-4 1-2 2-2 3-4 4-2 2-1 6 0 6-1 2-2 2-2 1-6-1-2 1-4 9-2 3-8 0-4 1-2 2-1 2 1 4-6 9-6-1-2 0-2 2-1 2-2 10-3 9-3 5-6 4-2 8-4 8-7 4-6 5-6 3-2 0-10-3-4 0-4 1-2 3-2 5-6 6-1 4-5 4-4 8-4 4-6 4-2 4-2 2-8 3-9 13-7 4-8 7-9 5-5 6-6 3-4 5-11 10-1 2-1 6-3 5-2 2-4 0-2 2-4 5-2 4-4 4-4 5-8 7-4 7-6 0-2 1-2 4 2 6 0 2-2 1-4-4-6 1-1 2 0 2-1 2-6 3-6 2-3 3"/>
<path stroke="#3a48a0" d="M1032 72l3 0 2 2 0 2-1 2-2 1-4-1-2-2 1-2zM481 712l-5-6 6-6 1-2 1-6 1-18 1-8 6-14 5-10 9-12 14-10 4-4 7-6 1-2 1-6 5-6 4-7 8-8 8-1 2-1 3-3 3-6 2-1 13-5 8-4 7-5 6-7 7-6 3-4 2-4 1-8 1-2 6-5 8-2 2-2 6-8 14-14 4-12 10-5 10-7 10-5 9-6 3-4 6-4 2-4 2-6 1-6 1-3 6-4 5-5 10-8 11-10 7-8 5-6 9-6 9-7 4-6 4-4 2-2 4 0 6-3 11-10 8-10 5-5 7-7 1-2-2-8 1-8 1-2 6-6 2-4 4-4 10-6 9-4 3-2 4-6 2-2 6-3 4-8 6-4 4-4 6-3 14-15 4-2 10 0 6-3 2-4 4-10 2-2 4 0 2-2 1-8 2-4 5-7 6-5 1-6 9-10 2-8 2-2 6-3 2-3 1-2 0-6 5-8 5-6 9-9 4-7 6-8 7-6 5-6 6-4 4-7 10-9 6 2 3 0 9-5 10-3 6-2 6-2 2-2 6-8 20-14 10-5 8-9 3-8 3-2 2 0 6 2 2 0 12-4 16-1 6 1 6 3 2 3 1 4 1 10-1 8-1 4-4 8-4 14-6 8-3 6-11 15-4 4-8 4-6 8-8 8-1 9-5 14-8 11-3 9-6 12-3 4-9 6-7 9-4 3-6 2-6 3-21 7-4 2-5 5-8 4-4 1-8 7-12 8-4 5-4 3-2 3-2 10-2 2-4 2-3 2-5 7-3 3-5 3-4 1-2 2-6 12-6 7-3 7-5 5-13 11-5 8-4 6-6 6-2 6-1 2-5 4-5 6-5 5-10 5-4 5-15 11-3 4-5 6-4 8-8 8-7 4-3 4-4 4-2 4-1 10-1 2-3 1-8 1-3 2-5 6-8 3-4 2-2 3-1 2 0 4-1 4-2 3-8 1-2 2-3 8-5 12-2 2-10 8-2 4-8 3-6 1-8 3-7 9-10 6-1 2-3 6-5 5-3 5-7 10-4 3-6 3-3 8-9 5-4 6-5 5-7 4-12 10-6 4-4 4-18 16-3 4-2 6-3 4-7 4-7 7-6 7-3 6-5 5-6 7-2 1-4 1-3 2-5 5-7 5-2 6-11 6-3 2"/>
<path stroke="#3a469f" d="M192 70l8-2 4 1 2 3 1 2 5 4 1 2 3 16 2 3 4 3 1 2 0 6 2 6-1 4 1 6-1 4 5 14-1 14-4 8-4 5 0 3 2 4-4 14-11 14-3 6-2 0-6-4-6 0-6 2-8-3-8 0-4-1-8-6-2-2-3-6-6-6-1-6-3-8-3-4-2-4 1-4 3-4 2-6 0-4-3-6 0-2 9-16-1-10 2-6 2-2 7-2 5-4 9-13 2-1 4 1 3-1 5-10 2-2zM678 100l2-1 2 0 20 2 4 2 3 3 2 4-1 2-2 2 0 2 2 1 6-2 2 0 4 3 1 2 1 2-1 4 0 4 1 2 4 2 2 2 1 6 2 6 0 4-3 10-6 4-1 2-1 2 3 4-1 2-10 4-5 4-3 4-4 2-1 2 1 4-2 1-4-1-10 1-6 2-2-1-1-2 0-2 1-4 1-2-5-9-6-10-8-2-2-1-2-2-3-10-4-6-2-4-1-6 2-6 2-2 6-2 2-3 1-5 2-4 5-5 6-3zM589 104l5-1 4 5 2 1 4 0 4 2 8 5 5 6 5 11 2 3 10 6 4 4-1 2-1 1-4-3-2 1-1 1-1 2-1 6-6 12-1 8-2 3-14 10-2 1-4-1-12-3-10-1-2 0-3-3-2-6-2-2-11-7-2-5-2-6 0-4 3-8 1-8-1-6 1-2 6-7 2-5 4-4 4-6 2 0 4 0zM918 217l-1 1-1 2 0 4-2 4-1 2 2 4 3 1 4-1 2-2 1-2 3-4 0-2 0-4-2-2-4-1zM1036 230l-2 2 0 2 6 3 2 0 1-1-1-4-2-2zM218 244l2-2 2 0 4 1 11 7 2 2 1 2-1 6-5 8-6 12-2 8-5 8-8 12-2 6-7 7-4 8-8 4-6 7-8 5-8 2-10 5-4-1-5-5-2-6 5-20 3-10 7-8 6-9 10-9 4-8 15-18 5-9 4-2 6 1 2-1zM583 280l5-1 8 3 8 1 9 5 7 6 1 2 0 4-1 4-2 2-5 4-3 3-4 2-4 0-6-3-2 0-8 4-4 1-10-5-8-6-2-2-3-10 0-4 3-4 8-5 4-1zM208 358l2 0 1 4 3 2 2 0 6-3 4 0 2 2 1 3 1 2 8 5 4 0 8-2 6 3 2 2 6 8 4 3 2 2 10 19 0 4-4 10-3 12-3 4-3 8-3 3-6 3-8 9-6 4-18 1-16-1-6-1-4 1-4 2-2 0-2-1-14-14-8-7-3-3-1-4-1-6 0-20 4-16 1-4 3-4 7-5 4-5 8-8 6-3 4-5 4-1zM691 410l3 0 2 2 1 4-1 4-2 4-2 2-2 1-2 0-2-1-2-4 0-6 0-1 4-2zM164 470l10 0 8 3 8 0 6 7 8 5 8 6 4 8 6 9 0 2-1 2-3 1-2 3-5 14-2 4-5 6-3 6-1 1-2 1-6 0-3 2 0 2 4 8 3 2 4 2 6 6 1 6 0 2 5 5 2 10 4 7 1 4-1 12-3 8-1 8-8 10-4 2-2 2-6 9-2 2-4 2-10-2-14 0-3-1-7-8-10-8-2-2-1-8 0-14 0-14-2-6 0-4 3-6 6-7 2-7 1-2 5-2 2-2 2-8 2-3 4-2 1-3-1-2-6-2-6-6-6-2-8-7-3-7-4-4-1-2-3-12-1-6 2-6 4-4 0-6 4-4 4-3 7-3 5-3zM1065 478l3-1 2 0 14 3 10 1 4 2 16 15 5 8 4 6 0 6 2 8-2 2-13 2-4 1-6 5-5 6-6 4-1 2-1 2 1 4 6 8 0 2 2 8 1 8 3 16-1 4-3 6-2 6-4 10-12 12-5 4-3 6-6 1-8 3-10 2-4 0-12-3-4-3-4-3-4-7-6-6-3-4-2-12-4-12-1-6 5-8 5-26 10-16 2-6-1-4-3-4-8-5-2-3-3-6-4-4-1-4 2-8 2-3 8-4 10-4 10-9 6-1 6 3 12-1zM881 556l7-1 18 4 10 7 12 6 7 6 3 3 2 5 4 4 1 2 1 8-2 4-4 2-6 2-1 2 1 12 0 2-2 1-6 0-2 1-2 4 0 8-3 2-3 0-8-4-10-2-4 1-6 3-2 0-8-3-6 1-4 1-2 0-2-1-4-6 0-2 2-2 1-2-1-2-4-2-4-8-8-12 0-2 0-2 4-8 6-10 0-2-2-1-1 1-3 2-2-1 0-1 2-2 4-1 6-4 8-9 2-1zM481 712l-3-4 0-2 4-3 2-4 2-17 0-6 2-12 5-12 9-15 6-7 8-6 6-4 10-10 4-8 4-4 3-8 7-7 2-1 4 0 4-2 4-4 3-6 2-2 3-1 8-1 10-4 8-6 5-8 7-6 3-4 2-4 0-8 1-2 4-4 4-2 6 0 2-2 6-9 4-3 10-10 2-3 2-7 2-3 10-5 8-5 8-4 10-7 2-2 2-4 2-1 4-2 3-3 2-6 0-8 1-3 8-3 4-6 11-8 9-9 10-11 2-5 4-1 4-2 12-9 4-5 6-1 6-6 6-4 3-5 7-6 5-6 5-6 2-6 2-3 0-3-3-6 1-6-1-6 1-7 2-1 4 0 4-2 5-6 3-2 6-2 14-2 2-2 4-6 2-1 6-1 2-2 2-2 1-6 1-4 0-4 1-2 5-2 2-2-4-8-4-4 0-2 6-12 3-4 5-4 4-2 7 0 2-2 0-2-1-2-2-1-8-2-1-1-1-4-1-2-9 0-2-2-2-4-2-1-6-2-8-6-6-1-3-2 0-2-1-10-3-16 0-4-1-2-2-2-8 1-2-1 1-2 1-1 6 0 5-11 1-6 3-4 3-1 4 0 4-2 4-4 4-5 5-4 5-4 2-1 12 6 10 3 10 4 4 1 6-1 4 0 4 2 6 6 2 1 4-1 2 0 6 4 6 1 2 1 4 6 2 1 6-2 2 1 4 3 2 0 4-1 4-1 7-5 1-2 8-14 8-6 4-5 6-4 2-1 2-6 6-4 2-2 2-6 0-2-4-2 0-2 4-1 4 0 2-1 4-4 2 0 1 4 1 0 4 1 8-2 2 1 5 2 7 0 4-4 4-6 6-3 4-4 10-7 10-5 2-1 2-3 7-7 1-2 1-6 1-1 2-1 4 2 4 1 12-4 8 0 6-1 8 1 4 2 2 1 1 2 1 4 1 8-2 12-5 14 0 14-1 2-5 4-3 6-9 9-4 7-6 6-5 4-5 8 0 2 4 6 0 2-3 12 0 2 2 4-2 4-3 1-6-3-2 1-6 4-4 1-2 1-2 3-1 2 1 4-2 2-2 1-2 2-4 8-6 5-6 4-5 6-3 3-14 8-8 2-15 5-2 2-1 2 2 6 2 2 1 2-1 4 1 2 2 2 5 2 2-1 6-5 2 0 1 2 0 4 1 2 2 0 12-2 2 0 3 2 1 2 0 6 2 3 2 1 6 2 7 4 10 8 2 10 1 2 1 2-1 8 2 6-1 2-7 8-2 6 0 10 3 8 0 4-3 7-3 3-5 2-4 3-2 3 0 4-2 2-6 1-2 2-4 5-4 3-4 0-3-1-3-4-2 0-4 4-7 2-3 2-2-2-2-1-4 2-2 0-12-4-6-4-8-3-4-4-2-2-6-1-6-5-4 0-2 1-3-1-2-2-1-6 1-2-1-2-6-6-8-4-2 0-4 2-2 0-2-2 0-2 2-2 6-3 2-2 2-6 2-1 4 0 2-1 1-3 3-16 0-2-4-4-12 0-2 0-2 3-1 5-2 4-1 2-7 6-4 8-15 13-3 3-3 8-5 8-3 4-2 8-8 6-4 6-12 10-6 9-8 5-6 2-2 1-4 4-4 3-4 6-10 9-8 5-7 8-2 6 0 6-1 3-2 1-6-1-3 1-3 3-4 7-2 2-8 2-5 4-1 2 1 4-3 4-2 1-6 1-2 2-2 3-2 9-6 9-4 3-4 6 0 8-2 6-2 3-2 1-6 2-4 2-2 0-3-4-3 0-2 1-2 4-2 1-10 2-4 2-4 8-5 4-3 6-4 4-4 7-4 3-4 0-3 2-2 2-2 6-7 5-6 7-2 4-6 4-6 5-12 8-5 5-6 4-15 15-4 10-2 2-4 1-3 2-7 11-5 5-3 4-6 5-4 6-2 1-7 2-2 2-3 5-8 3-1 2-3 6-2 1-8 3-2 2-1 2"/>
<path stroke="#3b459e" d="M482 712l-2-2 0-2 4-8 1-12 1-6 0-8 1-6 2-4 10-20 3-4 4-4 4-6 23-20 3-7 4-4 3-7 1-2 6-5 10-3 4-4 4-6 2-1 12-5 16-10 6-8 8-8 2-3 3-9 1-2 4-3 6-2 4-3 6-9 6-5 8-9 6-11 18-13 10-5 9-6 5-5 4-3 2-2 2-4 3-10 1-3 6-4 5-7 11-8 16-16 7-8 16-10 3-2 4-5 14-9 6-6 7-6 6-8 13-12 1-4-2-6 0-4 2-4 6-8 3-7 6-3 6-5 4-1 6-1 2-1 6-8 4-2 2-1 2-4 2-5 1-2 9-8 7-4 11-10 10-4 8-2 4-2 3-4 3-8 2-2 4-1 2-2 3-7 1-6 2-4 2-2 8-5 2-3 6-10 3-8 5-5 4-6 2-5 0-6 4-6 8-10 6-6 4-8 4-6 9-8 4-4 7-6 4-6 8-5 6 0 4 0 10-6 10-3 12-5 8-9 12-8 6-5 10-5 10-10 2-4 2-4 2-1 8 1 14-4 12-1 6 0 6 3 3 4 2 10-2 12-5 10-3 10-15 20-5 10-3 2-4 2-8 6-3 6-9 10-1 10-5 12-6 10-9 20-4 6-3 3-6 4-6 7-4 4-14 6-8 2-15 6-11 7-8 4-10 8-10 6-9 9-1 2-2 8-1 2-8 6-7 9-11 7-5 10-8 10-4 8-14 12-4 4-6 9-8 8-4 9-6 6-5 6-3 3-10 5-12 11-6 3-5 8-4 4-9 14-2 2-8 4-3 2-5 8-3 12-1 2-10 2-8 7-6 3-4 3-5 5-1 2 0 6-2 2-6 1-2 2-2 3-3 8-9 12-8 6-8 4-4 3-12 7-6 8-10 8-4 7-6 5-3 6-5 6-4 3-8 5-2 2-3 6-7 6-4 6-7 6-6 4-16 12-23 21-2 3-4 8-16 13-9 13-9 11-13 7-10 8-3 6-1 2-9 4-4 4"/>
<path stroke="#3c449e" d="M200 72l4 5 6 3 2 2 0 14 5 6 1 6 4 6-1 6 1 4 0 6 2 10 2 6 0 10-2 6-6 8 0 4 1 6-3 12-8 10-4 3-2 1-6-2-8 2-16-1-14-6-3-3-2-4-1-2-5-4 0-6-8-14 0-2 0-2 3-2 2-4 0-8-2-10 0-2 6-8 1-4 1-4 0-8 1-4 1-1 6-3 8-6 3-6 3-4 2-1 6 1 2-1 6-11 2-1 6 1zM678 104l2-1 4-1 18 2 4 2 1 2 0 2-3 4-1 2 1 1 4 3 8 1 2 1 2 4 1 6 1 2 4 1 2 2 1 7 2 4-1 4-2 8-8 6-2 6-2 1-12 5-2 1-3 7-2 4-2 2-3 1-4 0-4-2-10-15-1-4-1-4-2-3-2-1-6 0-2-1-2-5-7-12-2-4 0-4 1-4 2-2 4-1 2-2 4-9 3-4 7-6zM587 108l3-1 2-1 2 1 4 3 8 2 4 2 6 6 7 10 3 6 5 6-4 16-4 10-1 8-1 2-3 3-12 7-4-1-6-1-14-3-2-1-5-8-5-4-8-5-3-5-1-8 3-8 2-16 9-12 2-2 4-2 4 0zM220 246l2-1 2 0 5 3 6 8 1 2 0 2-4 8-2 6-3 6-3 8-12 20-3 6-5 5-4 7-2 2-7 4-7 8-2 1-6 3-8 1-8 4-4-1-4-4-1-6 4-18 4-10 6-8 5-7 10-9 5-10 17-18 4-8 2-1 6 1 2 0zM582 282l6-1 6 3 8 1 4 1 8 6 4 4 1 4-1 4-3 2-5 2-4 5-4 0-6-3-2 0-6 3-4 2-4-1-14-8-2-2-2-4 0-8 1-4 3-3 4-2zM202 368l4-1 14 0 8 2 10 5 4 0 8-1 2 1 4 2 6 8 6 5 7 11 3 10-6 24-4 6-2 6-3 2-7 4-6 7-6 4-18 2-22-2-10 2-8-6-6-8-9-7-3-4-1-6 0-10-1-10 1-6 4-14 4-6 5-4 6-7 6-4zM693 412l1 0 1 2 0 2-1 2-4 6-2 1-2-1-1-4 0-2zM165 472l9 0 14 3 2 1 6 5 14 11 1 2 3 12-3 20-4 8-3 3-2 1-7 0-3 4-7 4-7 8 2 2 6-1 2 2 2 5 2 2 6 2 4 4 2 2 0 6 1 2 5 4 2 10 5 10-1 12-3 8-1 6-1 2-5 4-3 4-3 3-7 11-5 3-2 0-14-2-6 0-4-2-16-14-2-3-2-8 1-8 0-10 1-8-1-6 0-4 3-6 4-6 2-7 1-1 5-3 3-3 3-8 5-4 2-4 0-2-1-2-2-1-6 0-2-1-6-6-6-3-6-5-3-6-4-6-4-10-1-4 0-4 1-4 5-6 1-6 5-5 4-2 6-2zM1066 480l4-1 4 0 10 3 10 1 4 2 13 13 5 6 4 8 0 6 1 6-1 2-2 1-10 2-3 1-5 4-6 7-6 3-2 4 0 6 2 5 4 6 2 5 1 10 1 6 0 6 1 4 0 4-7 12-2 8-10 12-6 4-5 6-11 5-10 1-6 0-10-4-6-5-11-15-2-4-2-8-5-12 0-6 4-7 2-7 2-6 1-8 1-6 2-4 8-10 2-4 0-4-1-4-4-6-7-4-2-2-3-6-4-6-1-2 3-8 1-2 8-4 8-3 10-8 4-1 2 1 2 3 2 0 2 0 4-2 8-2zM880 560l2-1 2-1 10 1 6 1 3 2 3 3 14 6 8 5 7 6 3 6 4 4 0 2-1 6-2 2-7 3-2 3 0 2 1 6 0 4-1 2-6 1-2 1-2 8-2 3-2 0-6-3-12 0-4 0-6 3-2 0-8-5-4 1-6 2-2-1 1-6 0-4-1-2-6-4-2-2-9-14 0-2 2-8 5-8 11-10 1-7 2-2 6 0 2-1zM484 712l-2-2 0-2 3-6 1-6 1-22 3-10 4-10 7-12 5-4 4-6 6-6 6-5 12-11 3-6 4-4 3-8 2-2 4-3 6-2 4-2 5-5 5-7 10-3 12-6 8-6 5-8 5-4 4-5 2-5 2-8 2-2 2-1 6-1 4-3 6-9 7-6 7-8 3-4 3-7 16-12 10-5 9-6 3-2 4-5 6-4 2-3 2-4 2-10 7-4 5-8 11-8 4-4 13-12 6-8 18-10 4-4 6-4 4-4 6-4 6-7 6-5 4-6 6-6 3-6 2-4 0-2-3-8 0-10 2-4 6-5 6-6 4-3 10-3 4 0 6 1 2-1 2-1 3-6 5-2 4-4 3-8 6-10 7-4 2-2 0-3-4-1-2-2-5-10 1-6 4-6 4-3 4-2 4 0 6 7 4 2 2 2 2 6 2 2 4 0 6-1 3-1 3-4 2-10 2-1 2 0 2 0 1-3 0-2-3-3-2 0-4 2-2 0-10-1-6 2-2-1-6-8-2-1-6-2-3-6-3-1-8-1-8-8-8-2-10-5-2-1-4-24 0-2 4-4 0-2-4-4-3-4 1-4 4-8 4-2 10-8 6-8 8-4 2-1 6 2 20 7 7 2 9 4 2 1 4-1 2 0 6 6 2 1 4-1 2 0 6 4 4 0 2 1 3 5 3 1 8 1 6 3 6-2 4-2 8-6 2-2 3-7 5-8 6-4 6-6 6-4 2-2 2-5 6-4 4-4 2-1 2 1 2-1 6-5 4-2 4-1 8 1 8-1 4-2 8-8 4-2 14-12 12-5 4-5 8-8 2-5 8-1 14-4 12 0 8 1 4 2 3 5 1 8-2 12-6 13-1 11-1 2-4 4-3 8-9 9-4 7-10 8-7 12 0 4 2 4-1 4 0 6-2 2-4 0-2 1-1 5-7 5-4 2-8 13-5 10-5 6-8 5-6 8-14 8-13 3-14 6-9 8-2 2-6 2-2 2-2 4 1 2 3 1 2 1 6-3 8 4 6 0 10 5 4-1 8 3 12-1 2 0 3 7 3 3 2 1 6 2 7 4 1 2 2 4 4 4 0 2-1 6 2 6-3 6 0 2 2 2 1 2-3 8-3 12 3 14-1 2-3 1-4 3-3 6-5 7-2 2-6 3-5 8-2 2-3 1-3-1-3-4-4-2-4 1-10 4-6-2-2 0-2 2-2 1-4-2-6 0-4-3-6-2-2-1-6-6-2-1-12-5-4-1-2 1-2-1-1-3 1-4-1-2-6-8-7-4-1-2 0-2 1-4 2-2 4-1 3-3 5-24-2-3-2-2-2 0-12 0-4 1-3 4-4 8-8 10-3 6-4 4-6 4-9 10-5 11-2 3-4 4-2 8-1 2-7 5-8 9-8 4-2 2-4 6-4 2-6 6-4 2-4 5-6 4-14 15-4 2-6 2-2 2-4 8-1 4-1 6-1 2-1 1-6 0-2 1-8 9-8 5-7 6-2 2-1 4-6 3-2 2-2 3-4 11-7 5-6 8-2 6 1 8-2 6-2 2-2 1-10-3-8 1-7 7-10 4-3 2-3 6-5 5-3 5-7 9-4 3-6 2-2 2-2 2-4 7-12 11-5 6-9 8-12 8-4 4-14 12-6 6-4 9-2 3-6 3-7 7-4 6-16 18-1 1-6 3-4 2-6 6-6 4-4 6-2 2-6 2-3 2-3 4"/>
<path stroke="#3d429e" d="M486 712l-1-2-1-4 2-10 0-8 2-6 0-12 2-6 11-20 6-6 4-6 5-5 6-5 13-12 7-10 4-8 4-4 7-2 3-1 12-12 14-7 15-10 6-8 7-8 4-9 2-3 8-5 4-3 8-10 10-11 9-13 17-13 9-5 9-6 10-8 4-4 2-4 3-10 2-2 5-3 6-9 10-8 16-15 6-8 19-11 11-9 8-5 6-7 7-5 5-6 7-6 9-10 1-4-2-6 0-2 9-15 2-2 4-1 2-4 2-3 4-2 6 0 4-3 5-6 7-6 5-10 7-8 7-4 5-4 8-5 8-4 10-4 4-3 6-8 6-4 2-3 7-11 0-4 1-2 10-8 3-4 7-14 8-12 3-10 3-8 4-5 3-5 7-8 4-8 4-6 7-6 6-6 6-4 5-6 2-2 6-2 8-1 10-6 10-3 13-6 7-6 12-9 6-6 8-3 3-2 15-16 2-2 22-5 10-1 6 1 4 2 2 1 1 2 2 4 0 6-2 12-3 6-4 12-8 10-6 6-7 12-15 12-4 8-6 6-2 4-1 10-4 10-5 8-11 24-3 5-9 7-7 8-4 3-12 5-14 4-12 6-18 10-10 8-10 5-9 11-2 4-1 4-8 8-6 8-12 9-5 9-8 10-5 8-8 7-11 11-17 20-3 6-3 3-4 6-4 3-12 8-8 8-6 2-2 2-5 8-9 10-4 8-1 2-3 2-8 2-3 2-4 10-3 10-2 1-6 2-10 8-8 5-12 14-4 3-2 3-4 10-2 3-4 3-4 5-6 3-4 4-6 4-4 4-11 6-7 10-10 8-4 6-6 6-6 9-13 9-7 10-8 8-6 5-4 4-14 10-14 13-15 14-7 11-16 13-18 23-14 9-8 7-5 7-11 6-3 4"/>
<path stroke="#3e419d" d="M190 80l2-1 14 3 2 0 1 2 0 4-2 8 2 4 4 4 5 10 0 8 2 12 4 12 1 8-3 6-4 6-2 4 0 8-1 12-1 2-2 2-7 6-3 1-6 0-6 2-8 0-6 0-4-1-4-3-8-1-2-2-3-6-5-5-1-7-4-8-2-4 3-10-1-16 1-3 4-5 0-2 2-16 5-4 4-6 7-5 2-5 2-2 2-2 2 0 8 3 2-1 1-8 1-2zM681 106l5-1 4 0 11 3 0 2-1 4 0 2 0 2 10 10 4 2 2 2 2 4 1 2 6 2 1 5 0 3-3 4 2 4-1 2-4 2-6 5-3 5-9 4-2 2-4 9-4 3-2 0-6-4-6-6-2-4-2-8-6-7-10-7-5-10 1-4 6-7 8-15 10-9zM590 110l2-1 2 1 6 3 6 1 2 1 14 17 5 10-2 14-1 4-3 6-2 10-3 4-10 5-4 0-10-2-8-1-2-1-6-9-12-8-2-3-1-3 0-6 2-6 3-18 8-10 10-4zM893 224l3-1 2 1 2 4 0 2-3 4 0 6-1 2-2 2-4 0-2 0-3-4-1-4 0-4 2-4 2-2zM221 250l3-1 4 3 3 6 1 4-3 6-1 6-3 6-2 8-15 25-5 5-5 8-8 6-8 7-6 3-8 1-8 4-2 0-2-2-2-3-1-6 4-18 3-8 6-7 5-7 10-10 6-10 10-10 11-11 2-1 6-1zM583 284l4 0 5 2 12 3 8 5 2 2 2 4-1 2-1 1-6 2-4 5-2 0-4-2-4-1-10 5-4-1-13-7-2-2 0-2 0-4 0-6 1-2 2-2 4-2 8 1zM212 370l6 0 8 1 14 5 8-1 4 1 4 2 6 8 6 5 5 9 3 8 0 6-5 18-6 12-3 3-6 4-8 8-6 3-16 2-22-2-10 1-4-2-4-4-5-7-9-8-3-6-1-4 0-8-1-6 0-4 4-16 2-4 5-6 4-4 4-5 6-4 12-4zM158 476l6-2 10 1 10 2 6 2 7 5 5 5 6 5 3 10 0 4-2 16-4 8-3 2-6 0-4 2-4 4-10 8-2-1-2-5-2-2-2-1-2 0-6 3-2-1-6-6-6-3-3-2-13-24 0-4 1-4 5-7 3-7 1-2 2-2 4-2zM1068 482l4-1 4 1 8 2 8 1 4 2 2 1 10 9 4 5 1 4 0 2-2 4-1 2 2 3 4 2 2 3-1 2-3 2-6 1-4 2-10 9-7 4-3 4 0 6 2 9 2 3 3 4 2 4 0 6 1 8-1 6 1 6-1 4-5 8-2 8-1 2-7 9-8 5-4 6-2 1-8 4-10 0-6 0-6-1-3-2-9-9-9-15-3-8-3-6-1-4 0-4 3-8 2-6 3-7 1-9 3-8 2-2 4-3 8-2 2-1 4-4-2-3-4-2-1-1-3-6-5-8-7-4-2-2-2-6-4-4 0-2 3-8 2-2 5-3 6-2 8-6 4-1 4 3 4 1 2-1 6-4zM171 558l1 0 6 2 6 0 4 6 6 2 4 3 2 3 2 6 6 6 1 10 4 8 1 12-5 12-1 2-7 6-8 14-3 4-2 1-4 0-8-3-8 0-8-4-12-11-2-3-2-4 0-4 1-6-1-10 2-8 0-6 0-4 2-4 5-6 3-8 7-6 7-9zM875 568l5-2 2 1 4 2 4 1 2 0 6-4 2 0 14 7 6 1 9 6 2 4-1 6 5 4 0 4-1 2-6 6-1 4 1 6-2 2-9 2-2 2 1 4-6 1-6 3-8 0-8 1-4-1-7-4-2-2-3-4-10-5-2-2-7-15 0-4 1-4 4-7 12-9zM488 712l-2-4 0-2 1-10 0-8 1-6 1-8 2-10 12-20 5-5 3-5 5-6 8-7 12-11 6-8 5-10 3-3 8-2 4-3 8-9 2-2 16-7 14-10 6-8 7-8 5-11 2-2 6-3 5-4 6-8 11-11 10-15 15-12 11-6 10-6 10-8 5-8 3-10 2-2 4-2 2-1 3-7 2-2 9-6 10-11 8-7 6-7 10-6 6-3 14-11 8-6 6-7 6-4 4-6 6-4 1-2 5-8 1-4-4-8 0-10 2-4 4-4 5-6 4-3 4-1 6-3 4 0 6 2 2 0 2-1 5-6 7-7 3-5 8-14 2-2 7-4 10-12 6 0 4-1 9-1 3-1 4-3 4-6 7-6 2-4 0-6-1-2-4-2-4-1-6 3-2 1-3-1-7-3-4 0-4-3-9-10-13-3-2-1-8-8-6-2-8-1-3-1-2-2-2-4-2-18 1-2 4-3 1-1 0-2-1-2-6-4-1-2 0-2 3-6 12-12 6-7 4-3 4-1 10 1 6 2 8 4 8 1 10 7 2 0 6 0 2 0 6 6 2 1 4-1 2 1 8 5 14 4 6 4 2 0 10-2 2 0 3-4 7-6 2-3 3-7 4-6 7-6 6-6 6-4 5-6 7-5 7-1 9-7 4-1 7 0 13-4 20-15 7-7 7-3 4-2 12-13 6-4 10-4 10-2 12 0 6 1 3 1 3 4 0 6-2 12-5 14-2 8-5 6-4 7-4 4-6 11-2 2-4 1-9 9-2 6-2 2-3 3-4 3-1 4 2 6 0 4-3 4-4 8-6 5-13 25-5 5-6 4-6 8-4 3-12 6-11 2-5 2-12 6-8 6-8 4-6 9-8 8-4 9 0 2 1 2 3 1 2 0 2 0 2-3 4-8 2-2 2-1 4 4 4 1 2 1 4-1 4-3 4-2 4 0 8 5 6-1 6 2 6-1 4 0 4 3 6 7 10 4 3 2 5 10-2 6 1 6 0 2-3 4-1 2 3 8-2 14 0 8-3 10-6 12-3 3-10 5-3 2-3 5-6-3-6 0-14 2-4-1-4-3-4-1-4 1-4 3-10-2-8-7-11-6-2-2-3-4-6-6-4-6-5-4-1-2 0-2 6-5 1-3 3-18 3-6 0-6 2-6-1-2-4-1-2 0-6 5-14 4-4 4-3 6-9 12-4 6-9 8-9 10-6 10-7 8-2 4-2 6-5 4-6 8-2 2-5 2-3 2-5 4-9 10-6 2-2 2-4 6-6 6-6 4-4 6-2 2-2 1-6 2-3 1-3 4-4 10-1 6-1 1-6 3-8 8-8 5-18 15-3 4-4 12-11 9-6 4-1 1 0 6-1 1-4 3-1 4 1 1 2 0 4 0 1 3-1 2-6-1-4-3-10 3-3 1-3 6-2 2-3 2-9 4-4 7-6 5-8 11-12 9-8 10-8 8-6 4-3 4-7 6-8 3-3 5-6 6-19 18-2 2-4 8-16 14-6 8-6 6-6 8-13 8-9 8-6 7-12 7-2 4"/>
<path stroke="#3e3f9c" d="M489 712l-2-4 0-4 1-16 1-6 0-8 1-6 2-4 9-16 7-8 8-11 8-7 6-6 7-6 5-6 5-10 3-3 8-3 2-1 12-11 17-10 14-10 6-8 5-6 7-12 9-6 4-4 6-8 10-10 10-14 16-14 21-12 9-7 6-9 2-8 2-2 6-4 4-8 4-4 7-4 15-16 7-8 9-5 10-5 10-9 8-4 8-9 6-4 6-7 13-11 6-8 1-2-1-6 0-2 3-2 5 0 3-2 2-4 4-10 2-2 8-6 6-8 6-5 4-5 3-6 6-8 7-4 6-5 6-3 8-5 12-5 14-13 8-11 4-4 3-8 7-6 4-5 4-9 10-16 3-10 2-6 5-7 3-7 7-8 5-10 3-4 26-22 4-2 9-2 9-5 10-3 14-7 8-6 8-5 10-10 7-2 3-2 12-13 4-3 12-5 12-2 12-1 6 3 3 3 1 6-3 12-6 18-3 4-4 4-8 8-6 12-16 13-3 7-7 8-1 4-1 8-5 12-5 8-10 22-4 6-8 7-6 7-4 3-12 5-12 4-6 2-22 12-16 11-7 3-3 2-10 12-1 2-1 4-5 6-8 10-13 10-4 7-13 19-27 26-6 8-6 6-2 4-4 5-10 10-9 5-5 6-8 4-8 12-10 10-3 6-1 2-10 4-3 2-1 2-8 18-20 14-20 18-2 4-2 8-2 4-5 4-5 4-8 4-3 4-8 8-11 7-9 11-8 6-3 6-9 8-5 7-12 10-7 9-8 8-7 4-4 5-8 6-6 2-2 2-3 5-7 8-10 8-8 8-5 10-15 12-6 8-6 6-8 10-13 8-9 8-6 8-9 4-6 6"/>
<path stroke="#3f3e9c" d="M191 84l1-1 2 0 10 3 1 2-1 2-9 6 0 2 3 2 4 1 3 1 5 8 2 4 2 8 2 6 1 6 5 12 0 8-1 4-6 10-3 22-2 2-2 1-4-1-2 1-4 4-8 3-10 0-4 0-2-1-6-4-6 0-2-1-3-6-4-4-1-7-5-7-1-4 3-10-1-8-1-6 2-4 3-4 2-16 2-3 5-3 1-6 2-2 6-3 2-5 2-2 4 0 8 3 6-1 0-2-2-6zM685 108l3 0 3 2 2 2 1 4 6 6 7 10 3 6 0 8 4 6 1 2-1 2-4 3-2 3-2 5-2 2-4 0-6-2-2 1 2 6-1 4-1 1-4 0-8-3-2-4 3-8-5-2-2-1-6-7-7-4-1-4 0-6 1-4 7-12 3-8 7-6 4-2zM588 114l4-2 2 0 10 4 2 2 5 6 5 4 4 6 2 4 0 18 0 2-4 6-1 10-3 4-8 5-12-1-10-3-6-9-12-10-2-2 0-4 2-14 3-12 3-4 4-4 6-2zM888 230l2-1 2 1 1 8-1 3-2 0-2-1-2-4 0-4zM1049 254l3-1 4 1 6-1 8 1 6 0 6 3 8 7 6 2 3 2 3 8-1 6 1 6-1 2-3 4-1 2 2 8-3 8 2 10-2 12-3 10-3 4-14 6-6 0-6 3-16 2-8-5-4-1-12 4-4 0-2-1-14-11-7-13-9-6-3-4 0-2 3-6 2-8 1-12 3-6 1-6 1-2 2-1 4-1 2-2 3-4 3-3 2-2 6-2 4-6 6 0 8-1 6 1 2 0zM219 256l3-1 2 0 1 1 1 4-1 6 1 8-3 6-1 8-15 24-5 5-4 7-8 6-8 7-4 2-12 3-4 1-2 1-2-1-2-3-1-6 4-18 2-6 6-6 5-7 10-10 5-9 3-4 9-6 3-4 4-3 6-4zM570 288l4-2 10 1 6 3 8 1 7 3 1 2 1 2-5 5-2 2-6-1-8 3-4 1-5-2-6-4-1-2-1-10zM202 374l10-1 12 0 14 4 10 0 4 1 4 3 2 2 4 5 5 4 4 6 2 6 1 8-1 8-3 12-6 11-2 3-7 4-7 7-4 3-4 1-14 2-32-2-6-4-6-8-7-7-3-4-2-6 0-8-2-6 0-4 5-16 5-8 10-11 6-3zM159 478l7-2 12 2 14 4 4 4 4 6 6 6 2 6 0 10-2 10-1 4-2 2-3 1-8 2-8 6-4 2-2-1-6-4-2 0-2 0-6 2-2-1-4-3-9-6-12-22 0-4 1-4 5-6 3-8 2-2 4-2zM1070 484l6 0 18 5 4 2 8 7 3 4 1 2 0 2-2 4-1 4 1 4 2 4-1 2-5 3-10 8-8 4-5 5 0 4 3 12 1 4 5 6 0 2 0 6 2 8-1 6 0 8-5 8-3 8-3 4-4 7-6 4-6 7-4 2-6 2-6 1-6 0-10-3-10-10-4-8-4-6-2-7-3-5-1-4 0-3 4-7 0-6 4-9 2-11 2-4 2-2 6-3 6 0 8-3 8-1 2-2 2-5 2 0 2 1 6 4 3 1 1-2 0-6-2-3-2-1-4-1-4 1-4 4-6 1-4-1-8-6-8-10-6-6 0-2 1-4-1-2-5-4-1-2 0-2 2-4 1-2 3-2 6-1 6-5 4 0 8 2 2 0 8-5 10-2zM169 566l3-2 2 0 16 8 4 3 10 13 1 10 4 8 2 10-4 10-3 4-4 4-8 14-4 4-2 0-8-3-8 0-10-5-6-4-6-7-1-3 0-4 2-4 0-2-2-6-1-4 2-8 1-10 1-2 6-6 4-9zM880 572l10 1 8-2 4 0 10 5 8 2 4 2 2 2 0 2-2 8 1 2 5 3 1 1-1 2-5 4-3 8-2 1-6 1-8-3-2 1 0 2 1 4 1 4-1 2-2 2-3 1-10 1-4 0-3-2-4-6-2-2-13-6-2-2-1-2 0-6-4-10 0-2 1-4 2-2 8-6zM490 712l-2-6 0-18 2-6 0-10 3-8 9-16 7-8 7-10 2-3 6-4 6-6 6-5 6-6 3-4 3-8 2-2 10-4 12-12 19-10 13-10 6-8 6-7 6-11 7-4 5-5 5-7 11-11 11-15 15-13 20-12 11-9 5-6 3-10 3-2 4-2 2-2 2-6 2-3 10-7 9-10 7-6 6-8 10-6 9-4 11-9 6-3 9-10 6-4 5-7 6-3 7-8 2-6 1-2-1-2-4-6-1-4 2-6 5-6 3-6 2-1 6-2 4-3 2 0 2 0 6 3 4-1 6-8 8-8 6-10 4-8 1-2 7-3 6-6 8-3 6-4 10-2 4-2 14-14 7-14-1-2-4-1-6-5-6 0-4-2-4 2-12-2-4-2-6-6-4-2-6-1-6-2-8-7-6-2-10-1-4-3-1-4-1-14 1-2 5-4 1-4-1-5-4-5-1-2 4-6 11-14 4-3 4-1 6 0 6 0 4 2 6 4 8 1 6 5 6 3 2 1 6 0 2 1 6 5 8 1 8 4 11 3 3 2 4 4 2 1 8-3 6 0 2-1 3-5 7-8 4-10 4-5 28-24 4-2 6-1 10-7 9-1 12-4 4-2 7-6 10-6 8-9 6-2 4-2 14-14 8-5 6-2 12-2 8 0 4 0 4 0 2 2 3 4 0 4-3 12-5 14-1 6-8 10-6 6-6 11-6 4-5 5-5 4-4 8-6 7-1 3 0 10-6 12-5 6-10 22-3 4-9 8-8 8-4 3-12 5-12 3-17 9-13 8-8 9-4 3-6 2-2 1-2 8-4 5 1 6 1 6 0 2-4 1-6 0-4 1-8 6-10 5-4 3-18 25-18 19-14 17-4 4-2 5-8 11-3 3-13 8-6 8-2 1-4 1-2 1-6 9-6 6-7 4-5 7-8 3-2 2-3 4-8 16-1 2-12 11-6 4-6 5-11 8-4 4-2 4-3 10-1 2-11 7-6 3-2 1-2 7-6 7-12 6-8 11-8 4-2 2-4 7-6 5-9 10-9 7-8 10-8 8-6 3-12 12-8 2-5 8-5 6-10 9-8 8-6 11-16 13-5 7-7 6-6 9-12 8-10 8-7 7-10 6-6 6"/>
<path stroke="#4c3e9e" d="M491 712l-2-4-1-6 3-32 2-6 10-16 7-7 7-11 7-6 6-7 11-9 3-4 6-10 2-2 8-3 14-13 14-8 16-11 12-15 6-10 12-10 6-8 10-10 12-15 8-8 8-6 19-11 9-7 7-9 4-10 7-5 4-9 11-8 15-16 6-7 10-6 10-5 10-8 6-3 10-10 6-4 5-5 5-4 4-4 6-5 6-8 3-7 7-6 21-30 8-8 7-12 4-4 12-8 8-4 8-5 10-5 14-13 9-11 5-5 4-8 6-5 4-5 3-7 11-20 3-10 2-4 5-8 3-6 5-7 5-11 4-4 13-12 14-11 11-3 9-5 8-3 18-8 6-5 9-5 9-9 10-5 13-14 3-2 12-5 12-2 12-1 5 2 3 4 0 4-5 18-4 12-5 6-9 8-7 12-16 15-4 7-4 6-2 4-1 10-5 10-6 11-9 21-3 4-9 8-7 7-4 3-10 4-8 2-8 3-21 11-19 13-11 5-12 14-1 3-4 7-6 8-14 12-20 28-14 14-12 10-6 8-6 6-4 7-7 5-5 7-4 2-8 3-8 7-2 2-5 9-5 7-8 7-5 6-7 5-4 3-7 12-4 8-2 2-5 5-12 9-6 6-10 7-4 5-3 4-1 7-2 3-10 8-8 4-5 6-6 6-10 8-9 11-8 6-4 7-9 8-7 8-8 6-10 12-8 7-6 3-5 6-5 4-9 4-10 14-9 8-8 8-5 8-3 4-14 12-6 8-6 5-8 10-13 9-7 6-7 8-12 6-7 6"/>
<path stroke="#5a3e9f" d="M176 98l2-1 2 1 9 4 5 3 5 1 0 2 1 6 2 2 4 2 2 2 4 8 1 6 4 6 2 6-1 10-1 4-5 6-1 12-3 9-2 1-4 1-9 7-5 2-2 0-6-3-6-2-8-5-6-2-3-2-1-2-1-6-5-6-1-4 3-12-2-8 0-4 6-8 0-14 2-2 8-3 4-3 2-2 0-2zM680 112l4-1 2 1 4 7 7 5 3 6 5 6-1 8 4 10-4 7-2 2-2 0-4-3-8-3-6-4-2-1-4 1-8-3-3-2-1-2 0-4 6-13 3-11 3-4zM590 116l4-1 8 3 7 8 5 4 4 5 1 3 0 16-1 3-4 5 0 8-1 4-3 4-4 2-12 0-8-3-2-2-4-6-11-13-1-4 3-8 0-12 1-4 4-4zM1056 258l8-1 6 2 10 2 16 9 1 4 1 14-5 6 0 2 0 6-3 10 0 2 4 6 0 2 0 8-1 4-5 10-10 4-8 0-4 2-4 4-2 1-12 0-6-3-4-1-16 3-2 0-4-2-6-6-5-6-4-8-8-6-3-4 0-2 2-4 2-8-1-10 1-4 5-10 8-4 8-8 11-7 8-3 10 2 2 0 4-5 2-1zM209 262l5-1 3 1 6 10 0 2-2 6 0 6-5 8-10 16-9 12-13 11-4 3-8 2-8 2-4-1-2-3-1-4 3-14 2-6 21-24 4-8 3-4 9-6 6-6zM574 292l2-2 2 0 5 2 2 6 2 2-1 1-2 1-6-3-2-3zM202 376l8-1 16 0 14 4 12 2 4 2 13 15 2 6 1 12-1 6-4 12-5 10-8 5-6 6-4 3-10 3-8 1-32-3-5-3-5-7-9-9-2-4-2-4 1-8-2-6 0-4 5-16 4-6 9-11 6-4zM161 480l5-1 4 0 8 2 8 3 4 1 3 1 3 6 8 8 1 4 0 12-2 8-1 2-3 2-9 2-10 6-2 0-8-3-9 1-11-7-2-1-10-18-1-4 1-2 10-17 4-2zM1061 488l9-2 6 1 18 5 10 8 2 3 0 3-2 6-1 10-4 6-7 5-8 2-2 0-4-2-6 1-8-2-4 0-8 2-4 3-2 1-2-4-4-2-4-5-2-1-4-1-4-3-2-4 0-7-5-7 1-3 2-1 4 1 2-1 4-5 2-1 4 0 6 1 2 0 8-5zM1075 550l1-1 2 2 4 11 5 8 1 2-1 6 1 8-1 12-5 14-8 11-12 13-2 1-6 0-6 3-2 0-12-2-3-2-7-8-4-8-4-6-1-6-3-6 0-2 2-4 1-10 3-8 2-10 1-4 3-4 4-2 14-2 8-1 4-1 4-3 6 4 4 0 3-1zM168 574l4-1 8 1 4 3 6 1 4 3 3 3 2 4 2 10 3 8 2 12-2 8-6 7-6 9-6 5-6-1-8 0-2-1-5-3-9-5-3-3-1-4 2-4 1-2-1-4-4-6-1-4 1-8 1-8 1-3 6-5 2-2 3-6 1-2zM879 576l9 1 12-3 2 1 6 4 9 3 2 2 1 2 0 2-5 6 0 2 2 8-1 3-2 1-2 0-8-1-6-2-1 5 3 8 0 2-2 2-4 1-4 0-2-2-2-3-2-2-8-2-3-2-4-10-5-6-2-8 1-2 9-7zM492 712l-2-4-1-6 2-28 2-8 10-16 7-8 8-12 8-6 4-6 12-10 4-5 5-9 10-4 13-13 19-11 11-8 6-8 7-8 6-10 11-9 6-8 10-10 5-7 7-8 8-8 7-6 21-12 8-7 8-9 4-9 7-5 5-10 10-8 20-22 4-3 18-9 8-6 6-3 10-11 6-4 5-6 5-3 4-5 5-4 5-8 1-4-1-2-5-4 0-2 3-8 4-5 2 0 1 1 1 2 1 6 1 2 2-1 2-2 4-7 12-11 6-9 6-6 6-8 7-12 5-3 6-4 8-3 8-5 8-3 6-4 12-12 10-14 2-4-1-2-1-1-6-2-3-5-3-3-2 0-6-1-6-1-6 1-12-2-8-4-10-2-4-3-5-5-3-2-6-1-8-1-2-1-1-3 0-12 0-2 5-8 1-4-1-6-2-6 0-2 8-13 4-2 8-3 4 1 6 1 6 4 8 2 14 9 2 1 6 1 8 5 25 6 1 2 0 2-3 4 0 2 3 2 4 1 6 4 2 0 2-1 2-4 12-10 4-6 6-9 4-8 4-5 12-11 7-5 7-6 4-3 6-1 10-7 8-1 17-6 7-6 10-6 8-8 2-2 8-3 4-3 10-11 8-4 8-3 10-2 8 0 6 0 4 2 1 2 0 4-2 6-2 10-5 16-6 6-6 6-8 13-16 14-3 7-5 6-2 3-1 11-4 10-7 10-3 8-6 12-4 6-19 17-10 4-10 3-6 2-22 12-9 6-5 5-6 4-8 3-1 2-2 6-4 6-1 8-1 2-10 6-7 6-10 6-3 2-18 26-17 17-8 7-7 10-6 6-3 6-8 8-3 4-5 4-8 3-1 1-1 4-2 2-6 1-2 3-8 12-4 4-7 4-5 5-6 4-4 4-8 11-5 10-4 6-5 4-8 6-6 6-10 6-6 6-2 4-2 8-2 2-4 2-5 4-7 4-2 1-4 9-4 5-11 7-9 11-8 5-5 8-12 10-5 6-6 5-10 12-8 6-6 3-10 10-2 2-6 2-2 2-10 14-8 7-9 9-6 10-15 13-6 8-6 5-8 10-11 8-19 16-11 6-5 5-4 1"/>
<path stroke="#7a429f" d="M178 116l4 0 4 0 8 4 8 1 2 1 2 2 2 4 0 8 1 2 4 4 2 4 0 10-1 2-6 4 0 14-2 5-2 2-8 6-8 3-2 0-12-5-8-5-6-2-6-10-2-4 3-12-1-4-2-6 1-2 5-6 1-2 3-11 10-5zM679 116l3-1 2 1 3 8 6 4 3 8-1 2-3 1-2 0-6-3-2-1-1 1-1 8-1 2-3 2-4 0-3-2-1-2 0-2 2-4 4-6 2-12 1-2zM589 120l5-1 6 2 6 6 6 5 3 6 1 14-5 10 0 8-1 3-2 3-2 1-10 0-4-1-4-2-2-2-3-6-9-8-1-2-1-2 0-2 5-6 0-2-1-12 0-2 0-2 6-4zM692 148l4-1 4 1 1 2 1 2-1 2-1 1-2 0-3-1-3-4zM207 266l5-2 3 2 4 8 0 10-2 6-12 18-11 14-12 10-12 5-4 0-4-1-2-2 0-2 1-12 3-8 6-6 4-5 6-6 5-7 5-9 4-4 6-3zM1032 268l4-1 4 1 10 4 4 4 2 1 4-1 8-6 2-1 8 2 4-2 4 0 3 1 3 2 1 8 0 6-5 8-1 10-1 2-5 2-1 2 1 2 5 3 4 5 1 10-1 4-6 4-4 3-4 1-6 0-10 6-6-1-6 2-10-1-14 3-4 0-3-1-4-4-5-8-5-8-7-6-1-2 4-6 1-4 0-4-2-6 0-4 4-9 4-3 4 0 4 1 4-1 3-2-2-8 0-2 2-2 5-3zM201 378l7-1 10 0 8 0 6 1 10 4 10 1 4 3 2 2 10 11 1 3 1 8 0 8-3 12-1 4-4 7-2 3-16 12-10 3-8 1-32-3-5-3-4-6-8-8-2-4-2-4 1-8-2-10 5-16 5-8 8-8 4-3zM162 482l4-1 4 1 19 6 5 6 6 6 2 2 1 4-1 12-3 6-3 2-6 1-8 5-4 1-18-4-6-2-4-3-8-14-2-4 1-2 3-6 8-10 6-4zM1064 490l10-1 15 5 5 2 8 8 0 2-1 8-3 4-4 4-1 4-1 2-2 1-4 1-8-1-4 0-2 0-8-3-8 2-12 0-2-1-2-1-4-4-6-3-1-3 0-6 3-5 2-5 1-2 3-1 8 2 2 0 5-5 3-2zM1058 558l10 1 8-2 2 2 6 13 1 16-1 12-5 12-9 10-5 8-3 2-2 1-8 1-6 2-10 0-3-2-7-8-8-14-1-12 0-10 1-4 3-6 1-12 3-6 5-3 18 0zM877 580l3 0 8 2 6-2 4 0 6 6 4 2 0 6 3 6 0 2-3 2-2 0-2-1-6-4-4 0-2 1-1 8-1 2-8 1-4-1-4-8-5-6 0-2 1-4 2-6 2-2zM166 582l2-1 6-1 8 3 6-1 2 1 3 3 2 4 2 8 3 8 0 4-1 8 1 6-8 13-4 3-2 1-6-1-6 1-2 0-12-5-2-2-1-2 2-6 0-4-2-4-5-8 0-2 2-6 0-8 2-2 5-4zM495 712l-3-4-1-4 0-14 1-16 1-4 11-18 16-22 6-4 6-8 12-10 8-12 10-5 14-13 16-10 14-10 12-15 6-9 12-12 16-17 5-7 13-14 12-9 16-9 10-9 6-7 6-10 4-3 2-2 4-9 10-8 22-24 19-10 9-6 6-3 12-12 6-4 5-5 5-3 4-5 7-6 5-9 3-7 5-4 10-12 8-10 5-8 6-6 8-10 5-9 12-8 28-15 12-11 13-17 1-2 2-8 6-6 1-2 1-2-1-2-1-1-2 0-10 1-10 0-20-5-6 2-10 1-14-5-4-2-4-5-4-2-10-3-3-1-1-4 0-10 3-10 1-10 0-6 2-8 2-3 4-2 6-1 2 0 12 6 6 2 6 3 6 2 8 5 12 7 2 1 4 6 8 3 6 5 10 4 3 2 5 6 2 0 4-2 2-2 1-6 2-4 11-10 13-24 13-13 14-11 4-3 8-2 8-5 8-2 16-6 4-2 6-5 9-5 9-10 7-2 3-2 8-8 4-4 4-4 12-5 10-1 12 0 2 0 2 2 0 2-2 8 0 10-6 14-2 4-10 9-8 13-8 8-7 6-4 8-5 6-2 4-1 10-4 10-5 7-5 13-6 10-3 4-18 17-4 2-20 7-10 5-10 5-22 15-12 6-2 3-7 12-1 6-14 13-14 9-20 28-14 14-12 10-6 10-5 4-5 7-7 5-5 8-4 1-8 2-2 1-8 10-3 8-5 7-20 14-4 4-10 14-6 11-4 6-11 8-5 5-12 9-6 6-7 8-5 4-4 6-6 3-2 3-8 13-12 9-8 10-6 4-8 10-10 8-20 22-10 7-6 3-10 11-6 3-3 2-10 14-9 8-8 9-7 11-13 12-7 8-7 6-6 7-6 5-18 14-8 8-9 4-7 5-12 2-6 1"/>
<path stroke="#a548a5" d="M1151 34l9 0 7 2 1 2 0 14-1 4-4 10-3 5-8 7-11 16-7 7-6 5-4 8-5 6-2 4-1 10-5 12-5 8-5 12-6 10-3 4-12 11-6 5-17 6-17 9-10 4-18 12-16 9-8 10-4 6-4 4-2 6-3 4-3 3-14 10-22 31-12 11-13 11-7 9-6 5-5 6-7 6-4 4-11 4-3 2-8 12-1 6-3 4-24 19-12 17-7 12-3 4-16 14-22 18-8 7-4 5-6 5-4 5-4 8-3 4-14 12-4 6-7 6-6 8-12 10-10 10-6 7-18 13-10 11-6 3-4 3-11 15-11 10-14 18-12 12-6 7-6 5-14 14-16 12-8 8-10 4-8 6-14 2-6 2-12-1-1-1-3-4 0-6-1-14 1-14 11-20 16-20 7-6 6-8 10-8 10-13 9-5 15-13 17-11 11-9 12-14 6-9 22-23 6-6 6-9 13-12 12-10 17-10 9-8 7-8 4-7 6-6 6-11 10-9 20-22 35-19 11-11 9-5 9-7 5-7 5-4 1-2 9-14 8-8 6-8 13-20 6-6 13-17 12-8 16-9 10-6 11-10 9-12 8-8 3-6 8-8 1-4 2-10 7-10 5-6 1-8 2-4 3-4 8-7 10-21 9-10 21-18 10-4 8-4 28-10 7-6 9-5 9-9 7-3 4-3 14-13 12-6zM177 122l3 0 4 0 3 2 5 4 2 0 6-2 2 0 2 4 0 6 1 4 4 6 0 2-1 3-8-1-2 1-4 7-1 2 0 2 6 6 0 2-5 5-3 7-5 2-4 0-6-2-6-4-8-3-4-5-2-4 2-10-2-12 1-2 10-12 6-6zM590 124l6 0 4 1 4 6 4 3 3 6 1 4-1 4-1 4-4 8 0 8-2 3-4 0-3-1-4-4-5-7-2 0-4 0-2-1-3-2 0-2 1-2 4-2 2-2-2-6 2-6 0-6 0-2 2-2zM878 124l2-1 4 1 10 7 6-1 2 1 4 4 2 1 6-1 4 1 10 9 6 3 4 5 2 2 6 1 3 2 2 4-1 9 2 3 2 3 2 1 4 0 2-2 0-8 2-1 1 1 1 2 1 10-7 2-5 4-3 1-8-2-10 1-4 0-10-5-4-1-2 0-6 5-4 1-8-2-11-10-5-2-6-2-2-2-1-14 2-10 2-8 1-9zM207 270l3-1 2 1 3 6 1 8-2 6-11 18-12 14-9 8-4 2-8 2-4 0-2-1-1-3 0-6 1-6 2-4 6-6 4-5 6-5 10-18zM1026 274l4-1 6 0 9 3 3 2 5 8 3 1 2-1 3-4 3-2 2-1 4 2 2-1 2-2 2-1 4 0 2 1 1 4 0 4-1 2-2 2-4 1-3 3 0 2 2 4-2 8 1 4 2 5 2 1 6 1 2 2 2 5 0 4-2 2-6 1-4 4-8-1-8 2-6-2-2 1-4 6-2 2-8 0-14 4-4-1-2-2-1-2 0-6-5-2-4-6-6-6-1-2 3-10-1-10 2-4 3-2 18-7 2-2 1-3-1-2-3-4-1-2zM1042 282l-2 1-1 3 1 4 2 3 2 1 2 0 2-4 0-4-2-3-2-2zM201 380l7-1 22 1 4 1 8 3 10 2 6 4 8 10 1 4 1 10 0 6-3 10-3 8-3 4-15 11-10 4-6 1-6 0-28-4-4-3-12-13-2-4-1-4 1-8-2-6 0-4 4-12 6-10 8-8zM161 486l3-1 4 0 16 5 3 2 11 9 2 3 0 4-2 10-2 4-8 2-6 4-4 2-10-2-6-3-9-3-1-2-1-4-1-2-4-4-1-4 9-14zM1065 494l5-2 4 0 14 6 3 2 5 8 1 4-1 2-6 4-3 2-3 4-2 1-8 0-4-5-2-1-2 0-10 3-12 2-2-1-4-5-1-2 1-4 2-2 2 0 8 3 2-1 2-3 1-3-1-6 1-2 3-2zM1068 562l6 0 2 0 2 4 1 4 2 12 0 14-4 14-4 6-7 6-4 6-2 1-9 1-7 2-8 0-9-10-4-8-2-4-1-12 0-6 5-12 1-6-1-6 1-2 2-2 4-2 8 2 10 0 8 0zM170 588l4-2 2 0 9 4 3 4 4 12 2 3 0 13-1 4-3 6-2 2-2 1-10-1-8 1-4-1-2-2 1-10-5-14 3-12z"/>
<path stroke="#c443a2" d="M1149 36l5 0 4 1 4 1 2 2 3 10-1 6-5 10-2 4-7 6-14 18-12 12-8 13-2 5-1 8-6 14-4 6-6 14-4 8-3 4-12 11-6 4-4 2-10 3-18 10-12 6-18 11-14 8-7 5-13 16-7 12-13 10-2 2-3 6-19 26-24 20-10 10-6 4-5 6-7 4-3 4-3 2-9 4-3 2-8 12-1 6-1 3-12 11-12 9-6 11-6 7-8 14-10 9-20 17-14 11-14 13-4 6-3 7-3 4-14 12-6 8-6 5-6 9-10 8-11 10-7 8-18 13-10 11-8 5-8 9-4 6-10 9-14 19-12 12-7 8-15 13-7 7-15 12-8 7-8 3-8 6-20 3-4 0-5-3-4-8-2-10 0-12 1-4 11-20 23-26 5-6 11-10 10-12 8-5 16-14 17-11 10-8 19-24 20-21 13-15 13-13 12-10 15-9 12-10 5-6 5-8 6-6 5-10 10-9 10-11 10-11 6-4 29-15 3-2 5-6 3-3 10-5 10-8 5-6 6-6 9-16 7-6 5-6 14-22 21-24 9-7 17-9 15-10 7-8 9-11 7-7 4-6 6-6 3-5 5-13 10-16 1-8 2-4 10-10 9-20 9-11 22-18 8-3 10-5 8-3 10-4 8-2 8-7 10-5 8-8 10-6 7-6 7-7 4-3zM178 128l2 0 4 1 10 7 2 4 0 4-2 4-4 4-2 0-4-2-2 0-3 2-1 2-3 10-1 4-2 2-2 1-2 0-2-1-3-2 0-2 0-2 3-5 2-2 5-1 2-2-1-2-1-2-3-1-6 2-3-3 0-4 0-2 2-2 7-4 4-6zM590 130l2-1 2 0 3 1 1 2 0 2-1 2-1 1-2 0-3-1-1-2-1-2zM884 134l2 0 6 3 4 1 1 4 3 2 4-1 8-3 2 1 17 11 1 2 3 6 1 12 4 6-1 2-5 2-4 0-10-7-4-1-2 1-8 6-4 0-2-1-5-6-10-6-2-2-1-4-6-12 0-2 1-4 1-3 4-5zM203 276l5-2 2 1 2 4 1 5-1 6-10 16-20 21-4 2-4 1-4 1-3-1-1-2-1-4 1-4 2-4 6-6 4-5 8-6 3-9 5-8 2-2zM1053 300l1-1 2 1 4 8 7 8 3 7 3 3 0 2-1 1-12 2-10-6-2 0-2 9-2 6-2 1-6 0-8 4-4-1-1-2 1-6-1-2-2-2-5-3-4-7 0-4-1-6 0-4 1-1 2-1 2 2 1 10 3 2 6 1 10-2 8 2 2-1 0-8 1-4 3-5zM202 382l4-1 4 0 10 1 12 0 10 5 10 2 5 3 7 10 2 14-1 4-2 10-5 10-10 8-6 4-10 3-8 2-16-2-12-3-4-2-6-6-7-8-1-4 0-8-2-12 2-8 1-4 3-4 8-9 4-3zM160 492l2-1 4-1 6 3 2 1 6-1 4 2 11 9 2 2 0 2-4 10-7 3-6 1-6 3-4 0-2-1-10-14-3-4-1-2 0-4 2-4zM1067 498l3-2 4 0 10 4 2 2 3 4 1 4 0 2-4 4-4 1-16-7-2-2-1-4 2-4zM1069 566l3 0 2 1 1 5 0 18 1 8-2 10-2 4-3 4-5 4-3 4-3 2-14 0-8-2-6-5-4-5-3-16 1-6 3-6 3-8 2-4 2-3 8-1 6 0 8 2 2-1 6-3zM172 602l10 3 3 3 0 4 0 2-5 7-2-1-4-4-2-2-4 0-2-1-1-3 1-4 2-2 2-2z"/>
<path stroke="#d93a99" d="M1149 38l3 0 4 0 5 4 3 4 1 4-1 6-6 12-8 8-14 18-10 10-10 14-3 14-9 20-5 12-8 12-11 11-6 4-4 2-10 4-18 10-14 6-18 11-12 7-10 7-4 4-4 6-4 4-7 12-14 12-5 8-16 24-36 29-6 4-5 5-7 4-6 8-9 4-5 4-6 8-3 10-9 10-14 12-6 10-14 22-10 10-18 15-13 9-9 8-10 10-8 15-14 13-5 6-8 8-6 8-19 16-7 8-18 14-9 10-9 6-7 8-6 8-10 9-12 16-20 22-16 13-6 7-8 7-7 4-7 7-10 4-6 5-4 1-14 2-4 0-4-3-3-4-4-10-1-4 1-10 1-4 7-14 5-8 27-30 9-8 11-12 9-7 16-13 18-12 8-7 18-23 18-19 15-17 14-14 13-11 12-7 13-10 5-6 6-9 6-6 6-11 10-9 9-11 9-9 4-3 12-7 22-11 8-9 14-7 9-8 9-10 10-17 8-7 4-6 14-22 11-12 12-12 7-6 16-8 16-11 6-7 9-12 7-6 12-14 7-16 11-16 1-4 0-6 0-2 11-12 2-4 6-14 9-12 11-9 10-9 8-2 8-4 11-4 7-3 12-4 6-6 10-5 8-8 13-8 13-12zM889 150l3-1 6 2 3 1 1 2 0 2-4 6 1 4-1 1-4-1-5-8-1-4zM203 282l3 0 2 2 0 3-4 9-4 8-6 5-5 7-9 8-4 3-4 0-2-1-1-2 1-4 6-6 4-6 2-2 6-2 2-2 3-10 1-2 4-2 2-4zM1052 312l2-1 2 0 4 4 2 5 0 2-1 2-3 1-2-1-4-4-1-4zM202 384l8-1 12 1 10 0 10 5 8 2 4 1 5 6 3 6 1 8 0 8-2 8-2 6-3 4-10 9-8 4-12 4-4 0-14-2-10-4-6-3-5-4-6-8-1-4 0-6-1-12 0-6 2-6 5-6 6-6 4-2zM179 500l3 0 3 4 1 6 0 4-2 1-6 0-4 1-2 0-1-4 1-6zM1072 502l4 0 5 2 3 4-1 2-1 1-2-1-6-4-2-2zM1063 576l3 0 4 10 0 4-1 10 0 10-2 4-6 4-3 4-2 1-4 0-4-2-6-4-9-5-5-12 0-6 3-6 3-7 2-2 6-2 8 0 8 1z"/>
<path stroke="#e5238a" d="M1151 40l3 0 4 2 3 2 2 4 0 4-4 10-3 6-8 8-12 15-11 11-9 12-2 5-3 13-3 7-10 23-5 10-3 3-10 9-6 5-6 3-10 4-18 11-13 5-19 11-10 5-14 10-16 23-14 12-7 13-15 21-14 12-28 19-6 5-7 5-5 7-8 3-12 10-2 4 0 6-2 4-9 10-13 12-6 12-13 20-11 11-18 16-14 9-8 6-10 12-8 14-12 11-7 9-8 8-6 8-19 16-6 6-19 16-9 9-8 6-9 9-4 6-9 8-12 17-22 23-16 14-8 8-22 17-7 3-5 4-4 1-10 2-4 0-4-1-2-2-5-6-3-6 0-4 0-8 1-4 4-8 3-6 6-10 12-12 15-18 9-8 11-12 9-6 16-14 18-12 6-5 20-25 16-17 14-16 16-16 13-11 13-8 13-10 5-6 5-8 5-6 6-10 10-9 9-11 9-9 6-4 10-6 22-11 8-8 14-8 15-12 10-14 5-10 10-10 16-24 10-12 9-8 7-8 18-10 16-10 9-10 7-10 9-8 7-8 12-20 4-6 6-11 1-3 1-8 1-2 9-12 2-4 5-12 9-13 10-8 8-7 4-3 8-3 8-4 8-2 10-4 8-2 4-2 6-6 10-5 6-6 14-10 12-11 6-3zM203 386l7-1 22 2 10 5 10 2 2 2 3 4 2 4 1 10 1 4-2 6-2 6-4 6-5 6-6 5-4 2-12 3-6 1-14-3-6-2-8-5-5-5-3-6-1-4-2-16 1-10 3-4 5-6 6-3zM1038 584l2-1 4 0 2 1 2 5 2 1 4 2 1 2 0 4 1 3 6 5 1 2 0 2-1 1-8 5-10-5-4-3-3-4-2-8 1-8z"/>
<path stroke="#ec0f6c" d="M1145 44l5-1 4 0 3 1 2 2 1 2 0 4-3 10-4 6-29 32-8 11-3 5-2 14-9 19-3 9-6 10-4 6-11 10-8 5-12 5-18 11-14 5-20 12-10 5-14 10-15 21-3 3-8 6-5 5-4 8-4 8-8 12-5 6-14 11-26 17-12 9-14 10-6 6-8 5-3 4-3 10-7 10-13 15-9 17-7 11-11 13-19 17-20 13-4 4-9 10-6 10-4 6-9 8-10 12-8 8-6 8-10 9-8 6-26 23-7 8-8 6-9 9-5 7-9 8-11 16-25 26-12 10-12 12-9 6-9 7-8 4-8 5-12 2-4-1-2-1-3-4-4-6-2-6 0-6 2-6 3-6 3-8 7-10 10-10 17-20 9-8 10-10 10-8 16-13 16-11 6-5 20-25 16-17 14-16 16-16 14-11 20-14 7-6 15-20 6-10 9-8 8-10 5-5 8-7 14-9 20-9 10-9 12-6 16-13 12-16 4-8 11-12 14-22 10-12 9-8 8-8 34-21 8-9 9-12 13-12 10-17 8-11 7-14 2-10 10-16 6-14 8-12 11-8 10-9 34-14 10-2 4-2 6-5 10-6 6-6 10-7 16-14zM205 388l5 0 22 2 10 4 7 2 3 2 1 2 3 6 1 6 1 4-1 4-2 6-2 4-7 10-6 5-14 5-6 0-20-5-7-5-3-3-3-7-4-14 0-6 1-6 2-4 4-5 9-5z"/>
<path stroke="#ee1250" d="M1147 46l7 0 3 2 0 2 0 4-3 8-4 6-6 6-8 10-8 7-12 16-4 7-3 16-7 15-5 13-5 8-4 6-10 10-8 5-12 6-18 10-15 5-21 12-9 4-15 11-3 3-3 6-8 11-4 4-8 5-6 6-7 16-7 12-5 6-15 12-18 10-20 15-14 8-6 7-8 4-2 2-2 4-3 8-8 14-11 14-9 18-6 10-11 12-9 8-9 9-20 13-5 4-9 10-6 10-4 6-10 10-10 12-8 8-5 6-11 11-7 5-33 30-8 6-8 8-7 10-7 6-12 16-8 8-6 8-12 12-24 21-18 13-8 4-4 3-6 2-8 1-4-1-2-2-3-3-3-6-1-4 0-6 1-4 4-7 3-9 5-8 12-12 18-20 9-8 9-10 16-12 8-8 16-10 6-5 12-14 8-11 18-19 12-14 12-12 12-10 28-21 6-5 14-18 7-11 9-9 7-9 5-5 10-8 12-8 10-6 12-5 10-8 12-6 8-7 8-4 3-3 9-14 4-8 12-13 5-7 6-12 11-14 10-8 8-8 24-16 10-5 9-9 10-14 11-10 8-15 10-13 7-16 3-8 9-18 4-10 4-8 5-7 10-7 12-10 32-13 12-3 5-2 5-4 10-6 6-6 8-6 16-14 4-2zM201 392l3-1 4-1 10 2 12 0 6 2 12 7 5 9 1 6-2 8-2 4-7 10-3 3-5 3-9 3-4 1-20-6-4-3-4-3-2-4-2-8-4-8-1-4 1-4 2-6 2-3 4-3z"/>
<path stroke="#ee1c25" d="M1143 50l5-1 4 1 2 4-1 4-1 4-3 4-5 5-8 10-10 8-10 13-6 12-3 16-7 15-5 13-5 8-4 6-8 7-6 5-16 8-18 10-14 4-8 5-12 6-13 5-7 4-10 10-3 6-9 12-10 6-6 7-2 4-3 9-3 8-6 9-6 7-10 6-6 5-16 9-10 8-16 10-12 4 1-8 2-4 14-16 3-5 4-11 10-12 20-19 14-9 10-6 10-4 2-2 18-22 4-4 6-4 2-2 2-8 3-6 9-11 4-7 6-14 2-6 9-20 4-10 4-8 5-6 22-17 22-9 8-3 6-2 6-1 6-2 16-10 5-6 11-8 8-8zM833 364l5-1 1 1 0 4-4 8-6 12-9 12-9 20-7 10-10 12-8 6-10 10-24 16-9 10-6 10-6 8-19 22-7 6-6 8-9 9-10 7-32 29-6 5-8 8-8 10-8 8-10 14-9 8-6 8-16 16-21 18-18 13-12 6-6 2-6 1-4-2-2-1-4-7-1-6 0-4 1-4 4-6 3-10 5-7 23-25 5-6 9-8 11-11 14-11 9-8 17-12 5-4 11-13 10-13 16-16 13-16 12-12 11-9 35-27 14-18 7-11 9-9 11-13 10-8 14-10 8-4 12-5 12-8 10-6zM205 394l3 0 10 1 8 0 6 1 4 2 10 8 3 6-1 12-2 4-8 9-9 5-7 2-17-6-6-4-1-2-2-8-7-10 0-6 1-4 3-4z"/>
<path stroke="#f15a22" d="M1141 54l3-1 4 0 2 3-1 4-3 4-4 4-8 11-10 7-2 2-9 14-4 10-2 12-2 6-12 28-5 8-4 5-8 7-6 5-26 13-6 4-4 1-13 3-17 9-16 6-4 1-2-1-1-5 3-8 8-11 6-11 6-18 3-6 10-24 4-8 5-6 18-14 4-3 21-7 11-5 10-1 4-2 16-9 4-3 4-4 10-8zM936 260l4-1 2 0 1 1 0 2-2 6-2 10-6 12-5 8-6 5-8 4-8 7-12 6-12 9-10 5-4 2-3 0 0-2 3-4 10-13 6-15 8-10 20-19 12-8zM828 372l3 0 0 2-1 4-5 10-7 11-6 17-9 12-10 12-7 6-10 10-22 14-5 4-7 8-8 13-23 27-9 8-5 6-9 10-9 6-42 38-7 7-5 7-7 8-11 14-9 9-6 8-16 15-22 20-16 11-12 6-6 2-6 0-4-2-3-3-1-4-1-8 1-4 4-6 2-8 5-8 23-24 6-8 10-8 10-10 12-10 10-9 16-11 6-5 10-11 10-14 16-16 14-17 12-12 10-8 36-28 14-17 8-12 8-8 7-10 4-4 11-9 18-11 4-2 11-4 13-8zM204 400l4-1 16 2 4 1 4 3 6 3 2 2 2 6 1 4-1 4-4 5-8 6-4 2-4 0-10-3-2-3-2-7-2-2-8-5-3-3-1-2 0-4 2-4 3-2z"/>
<path stroke="#f6861f" d="M1130 70l2-1 2 0 0 1 0 2-2 4-3 2-11 6-1 0 3-6zM1111 86l5-2 1 2-2 6-6 12-4 18-2 8-12 28-8 12-9 8-6 4-18 9-7 3-7 4-18 4-16 8-10 3-2 0-2-1-1-2 1-4 6-8 7-12 4-18 4-8 10-24 3-6 5-6 13-11 10-7 32-11 12-2 10-5zM926 268l4-1 4 1 2 4 0 4-3 8-5 9-6 5-10 6-8 6-20 10-1-2 1-4 2-8 2-4 14-16 10-9zM818 382l2-1 2 1 0 2-8 16-4 14-2 4-16 21-8 6-8 8-14 10-11 7-9 8-3 4-7 12-23 28-8 6-14 16-9 7-44 39-42 50-20 20-18 15-10 8-6 4-14 6-4 1-6 0-3-2-3-5-1-7 4-8 3-10 4-6 30-33 18-17 22-18 18-13 5-5 11-12 10-13 16-17 12-15 12-11 12-11 36-27 15-18 5-9 20-23 12-10 18-12 14-4z"/>
<path stroke="#faa21b" d="M1104 94l2 0 0 2-1 6-1 16-3 12-10 24-4 8-5 6-8 7-8 6-25 11-7 4-20 3-4 1-8 4-3 0-1-2 1-4 5-10 1-8 2-10 5-10 9-24 3-6 5-6 11-9 12-7 32-12 10 0zM920 276l6-2 2 0 1 2 1 2 0 4-2 4-2 3-4 4-14 7-6 5-4 1-2 0-1-2 1-2 6-7 3-7 9-9zM799 392l11-2 2 2 0 4-4 18-16 22-16 15-14 10-13 7-9 8-3 4-5 10-5 6-11 14-9 10-7 6-14 17-10 7-22 20-8 6-13 12-43 51-21 21-17 14-12 9-8 4-10 4-4 0-4-1-3-4-1-6 7-18 11-14 20-22 20-19 22-18 17-13 7-6 8-9 11-15 16-16 11-14 14-14 10-8 35-26 5-4 12-16 6-9 18-23 14-11 14-9 6-3z"/>
<path stroke="#fdb515" d="M1081 100l3-1 4-1 6 1 4 2 2 1 1 2 2 8-1 7-4 13-9 22-6 10-6 6-11 9-34 15-14 1-6-1-2-2-2-6 0-6 1-8 13-34 5-8 5-6 4-4 14-9zM919 282l1-1 3 1 0 2-1 2-4 2-4 0 2-4zM792 396l6-2 4 1 4 1 1 2 0 6 0 6-2 4-15 21-16 14-14 10-13 7-9 8-4 5-5 11-13 17-18 18-12 14-10 8-24 21-8 6-13 12-14 18-29 34-22 22-14 12-12 9-14 5-6 1-4-1-1-2-1-4 5-16 11-14 18-20 22-21 47-39 5-5 13-17 15-16 10-13 14-14 10-9 16-12 26-18 3-4 15-22 4-5 10-13 4-5 14-11z"/>
<path stroke="#ffc20e" d="M1083 102l3-1 4 0 4 1 3 2 2 4 1 8-3 14-4 10-6 14-7 10-6 6-10 7-18 8-18 7-10-1-4-1-2-2-1-4 0-4 0-6 8-22 6-14 6-10 9-8 10-7 6-2zM794 398l4-1 4 2 2 3 0 6-2 6-14 19-14 13-12 9-6 4-10 4-12 7-2 3-4 11-3 6-14 18-13 14-14 16-33 28-9 6-14 13-14 19-27 32-22 22-15 12-12 9-12 3-4 0-2-1-1-3 0-4 1-6 2-4 26-31 22-21 30-26 10-7 10-8 18-23 14-15 10-12 14-15 10-8 26-19 19-11 13-24 16-22 16-13 14-10z"/>
<path stroke="#ffc20e" d="M1086 104l4 0 4 2 2 4 1 6-3 14-5 14-6 12-6 8-5 5-8 6-20 8-18 5-6 0-3-2-2-2-1-4 0-4 1-4 6-18 5-14 3-6 5-6 8-7 10-6 8-3zM792 402l4-1 3 1 1 2 1 4-3 6-10 16-16 14-12 9-10 4-4 1-2-1 0-5 3-6 10-16 5-6 6-6 10-8zM716 480l6-2 2 2-1 6-3 6-11 14-11 12-16 18-18 15-16 13-13 8-11 12-6 10-8 10-24 29-10 10-14 14-14 11-10 7-8 3-4-1-2-1-1-2 1-4 2-6 24-30 20-19 28-23 25-18 5-6 6-10 7-8 23-28 12-12 10-9 16-12z"/>
<path stroke="#7ac143" d="M1084 108l5 0 3 2 1 6 0 8-3 10-5 14-3 6-6 8-6 6-8 5-14 6-8 3-8 1-6 0-5-1-2-4 0-6 4-16 7-18 7-10 7-6 10-6 10-3zM786 410l6-1 1 1 0 2-3 8-5 8-5 5-14 11-8 4-4 1-1-1 1-2 3-8 3-6 5-6 4-4 9-8zM708 490l4-1 2 1-1 4-3 4-7 10-9 8-6 8-7 8-21 18-13 8-3 1-2-1 2-4 2-4 23-28 17-16 11-8 7-6zM612 588l2 0 0 2-1 4-5 8-10 10-12 16-12 13-14 13-14 10-12 7-2 1-2-1 0-3 4-5 3-7 9-10 7-10 21-20 16-12 12-11 6-3z"/>
</g>
<g transform="translate(31.3,402.2) scale(.5)" clip-path="url(#cp)" fill="none" stroke-width="2.4" stroke-linejoin="round">
<path stroke="#2f6db6" d="M703 72l5-2 8 1 3 1 2 2 3 5 8 6 6 9 6 6 2 2 0 4-3 6 0 4 2 8-2 10-2 16-3 7-3 9-3 3-8 4-6 5-8 4-2 0-8-1-3 1-2 2-1 5-2 1-8-2-4-2-6-5-8-5-4-6-2-2-6-4-2-1-2 1-4 8-6 5-4 5-4 4-4 6-6 4-9 2-5 4-2 4 0 10-3 10-1 6-2 4-2 1-2-1-4-4-1-8-3-6 0-12-1-4-1-1-2 0-6 1-2-1-2-2-2-5-2-3-2-2-6-2-1-1-9-8-3-4-8-34 3-8 6-10 1-6 2-4 5-5 8-4 6-7 2-2 6-3 6-2 6 0 12-2 6 0 10 5 8 6 6 6 8 2 10 0 3-2 1-2 1-6 1-2 2-1 7-3 5-8 8-6 6-2 12-1zM127 78l11-2 6 1 3 1 4 4 2 2 7 2 4 0 4-1 8 3 10 0 4 1 7 5 8 4 3 2 4 9 9 11 1 6-1 16 1 6 0 14-5 20 0 16-2 6-1 6-3 6-9 6-2 1-14 3-4-1-9-3-2-2-2-6-7-8-1-2 0-6-2-2-9-4-11-12-5-8-4-9-6-7-6-4-5-8-8-10-1-2 0-4 2-12-2-6 0-2 6-18 2-2 8-8 2-1zM1200 79l-9 3-2 2-3 12-4 8-2 6-4 6-1 6-1 2-8 5-6 0-2 0-4 5-6 1-3 3-1 8-5 6-3 8-3 6 0 4 3 6 0 4-2 1-4 1-3 0-3-2-2 0-4 6-6 6-1 2 0 4-1 2-6 0-4 1-15 7-7 4-2 0-4-1-4 1-5 4-3 4 0 4 1 8 1 2 2 1 8-1 14-1 2-1 4-6 10-4 4-4 4-2 4 0 2 3 2 0 2-1 1-2 3-1 16 3 2 1 2 2 5 7 0 2 0 4-12 20-1 8-1 2-7 6-1 2-1 10 4 6-2 8 1 6-2 6-5 10-13 10-11 11-12 6-4 1-6-1-6 1-8-1-6 1-14-1-18-5-6-1-2-1-4-4-8-4-4-2-4-1-6 0-2-1-6-5-8-4-8-2-4 1-7 12-5 6-2 6-6 8-4 8-10 4-7 6-2 8-10 14 0 2 1 4 0 1-1 1-11 1-10 4-4 9-5 6-3 2-8 1-4 3-8 6-3 4-7 4-8 10-4 0-2 2-12 16-3 6-2 8-1 2-2 1-2 2-8 9-3 10-1 1-2 0-8-2-5 1-1 2 0 6-1 2-5 2-2 2-2 3-4 5-2 3-2 2-3-1-1-2 2-4-2-1-2 1 0 4-6 6-2 6-2 2-6-2-2 1-2 2-4 5-1 4-1 5-4 0-4 2-1 3-1 7-2 1-6-1-2 1-5 2-1 2 2 4-2 2-1 2 0 6-1 3-2 2-2 2-2 0-6-3-2 1-2 4-1 9-3 5-6 1-2 1-2 3-2 5-2 3-6 0-2 1-8 5-4 4-8 4-1 2-2 6-5 12-2 2-4 2-2 2-1 6-7 6-3 6-3 1-6-1-2 0-8 4-2 3-3 5-3 3-9 5-1 2 0 6-2 2-7 2M221 240l7 0 8 3 2 1 7 10 1 4 3 12-1 6-2 4-6 4-4 6-7 6-11 6-6 7-5 5-6 8-14 12-18 18-3 2-9 4-7 4-4 0-10-10-1-2-1-4 2-8 3-6 8-18 3-4 6-10 5-6 4-6 5-6 8-11 6-11 4-8 2-2 14-8zM578 248l2 0 4 2 14 0 2 0 4-3 2 0 8 4 8-2 2 1 2 2 2 4 1 4 0 8 1 2 6 6 0 6 2 6-1 12-1 4 0 6-1 2-7 12-2 7-2 5-2 1-4 0-2 1-3 4-7 4-6 1-12 3-2 0-2-2-6-8-6-5-7-7-3-8-6-8-2-6 0-2 3-6 0-2-6-14 1-3 6-3 5-8 4-8 8-6zM783 330l1-2 2 0 2 2 0 2-2 2-2 0-2-2zM227 362l5-1 8 2 10 0 10 4 10 2 2 1 14 16 2 8 4 6 0 16-3 10-1 4-5 6-6 6-4 6-2 2-13 9-2 0-9-1-23 7-5 3-4 6 0 2 3 5 1 3-1 6-2 4-7 8-9 20-4 4-6 3-14 9 0 2 2 1 8 0 7 3 7 2 23 16 5 8 2 11 2 5 3 6 0 4-1 6-2 6-1 8-2 4-11 14-6 3-12 12-2 1-2 0-4-2-12-2-10 2-14-12-8-5-2-3-2-4-8-24 0-10 4-10-1-4 13-19 3-7 1-4-2-2-10-2-8 1-4 0-6-3-6-3-8-4-2-3-4-6-4-2-2-2-3-12 0-2 5-7 4-8 6-5 6-8 10-9 8-3 2-1 6-7 1-2-1-2-8-14-1-6-1-4 3-8-1-8 1-2 1-1 4-2 5-9 7-7 6-4 6-5 4-3 10-3 6-4 8-4 8-2 12-3 7-1zM1067 460l3-1 4 0 10 3 8 0 7 2 9 2 8 6 4 2 4 0 4 2 2 2 6 8 3 12 0 4-3 6-3 12-3 4-6 7-8 3-10 7-4 1-6-2-4 0-8 3-2 3-1 8 1 6 1 4 2 2 19 11 8 3 12 6 2 6 1 6 5 8-1 8-2 4-11 12-10 4-6 5-15 1-11 4-6 0-10-2-8 0-8 1-12-2-8 1-12-3-6-3-4-3-9-15-7-6 0-4 5-14 1-12 3-4 7-2 4-2 6-6 8 0 8-5 8-2 2-1 2-4 1-14-1-3-8 0-16-4-15-9-2-2-5-8-3-8-3-4-1-4 1-10 5-10 3-3 4-3 8-1 8-6 10 0 20-6 4 0 8 2 4-1zM914 554l10 0 12 3 4 2 16 17 2 4 2 8 1 2 9 6 3 4 1 2-1 2-6 4-1 2 0 8-1 4-7 9-14 11-14 7-4 0-6 1-4-1-12-7-4-1-14-1-4-1-4-7-6-6-1-2 0-6-1-4-6-6-2-4 1-8-1-8 6-8 4-9 4-2 8-4 10-8 4-1 8 1zM453 712l1-4 4-2 2-1 4-9 0-6-1-8 0-2 5-6 2-7 1-3 9-7 6-3 9-16 9-4 10-11 3-3 1-6 2-2 5-4 7-10 5-4 3-6 14-11 8-4 10-12 8-7 1-6 3-4 4-2 4-1 2-1-3-6 3-4 8-8 10-5 6-7 6-3 9-9 3-1 4 0 2-1 10-9 2-3 1-4-1-8 2-1 6 0 2-1 2-3 2-7 1-2 7-3 4-5 2-2 4-2 2 0 4 1 4 0 4-3 4-4 0-2-2-10-4-4-1-6 1-1 6 1 4-1 2-2 2-7 1-2 7-1 4-2 8-5 4-5 12-12 17-9 7-6 4-3 2-7 2-2 8-6 8-2 2-2 0-6 1-2 3-1 4-1 2-1 1-3 0-4 1-2 8-5 5-5 4-6 5-3 6 0 2-1 0-8 6-4 1-2-2-6 0-2 7-9 6-3-1-2-5-8-1-4-1-12 2-8-1-6 1-2 6-6 4-6 4-2 12-3 16 1 3-2 1-2-2-3-4-3-10-1-12-3-9-6-11-12-12-8-6-8-2-6-4-6-1-18 1-4 8-12 9-8 7-8 3-2 9-2 10-9 3-1 7-2 4 0 6 2 12-2 6 0 6-1 8 1 4-2 4-1 12 3 6 0 4 0 6 6 6 7 2 1 4-2 2 2 3 8 5 3 1 3 2 2 3 1 4 0 4-2 4-4 8-4 12-12 10-6 9-3 14-10 1-2-4-4 0-2 2-3 2-1 2-1 4 3 2 0 6-7 8-2 4-3 5-6 7-2 2-2 2-6 5-8 2-2 6-2 3-5 2-2 8-1 10-4 3-4 1-5 2-3 4 4 2 0 2 0 12-2 4-2 3-2"/>
<path stroke="#2e5aab" d="M707 74l7-1 4 2 3 5 8 6 7 11 6 7 0 2-1 8 2 8 0 4-2 6-2 16-5 16-5 4-15 10-6 1-6 0-4 0-3 1-5 3-2 1-4-1-8-5-8-4-6-7-6-6-2-1-4 0-2 2-3 8-7 6-3 4-4 4-4 6-5 4-10 3-5 3-1 2-3 16-1 4-2 5-2 3-2 0-2-2-2-8-2-4-2-16-4-2-6-1-2-1-6-8-8-4-9-10-2-8-3-6-3-10-1-12 2-5 6-9 2-8 2-4 4-3 6-3 2-2 6-7 4-3 6-2 10-1 10-3 6 2 8 3 15 13 11 2 8 0 4-3 5-9 7-4 8-10 5-4 5-2zM1200 75l-10 4-4 4-4 15-10 20-4 5-2 2-8 1-10 4-6 5-1 3-2 8-3 5-3 9-18 26-7 6-3 4-3 2-24 10-8 1-3 1-9 6-3 8-1 2 1 4 1 4 2 2 6 4 2 0 6-1 2 3 2 0 6-4 8-2 6 1 4-1 2-2 2-6 2-2 6-3 6 0 8-3 4 1 4 4 6 3 1 2 1 6-1 6-3 6-5 6 0 8-2 2-7 6-1 2 0 8 3 8 0 6 1 8-2 6-3 6-3 4-15 10-8 10-10 5-4 0-6-2-8 1-6 0-6 1-12 0-24-6-2-1-5-4-7-3-6-3-10-2-12-10-1-6-1-2-2-1-2 0-2 1-4 4-5 2-7 8-2 6-6 10-12 17-8 4-6 7-7 14-3 4-6 3-4 6-8 2-6 0-2 1-2 2-2 4 2 6-2 4-1 2-5 3-6 0-4 2-6 6-6 3-3 4-6 4-11 10-2 3-4 7-6 6-6 11-6 6-4 7-2 1-4 1-3 2 2 6-1 3-2 0-10 1-6-2-3 2-1 2 3 4 0 2 0 2-2 2-7 6-6 0-6 3-6 9-5 4-5 3-13 15-5 5-3 7-1 1-6 1-4 2-4 4-6 8-1 2 3 4-1 2-3 0-2-1-2 0-4 2-2 3-3 10-7 4-6 10-2 1-10 4-16 13-8 12-3 8-7 8-3 6-7 6-2 4-2 2-6 1-8 4-3 3-5 6-10 6-1 2-3 7-9 5M129 80l9-1 4 0 3 1 5 5 12 4 8-1 6 1 8 1 4 1 14 8 4 4 12 17 1 4 0 6 1 4-1 8 1 6 0 12-4 20 0 16-4 7-2 7-1 4-5 5-4 1-14 3-4-1-6-4-12-14-1-6-1-2-2-2-9-4-10-10-9-17-13-13-2-4-5-6-5-8-1-4 2-12-2-8 6-16 2-3 8-7zM210 242l16-1 7 3 5 4 4 6 4 12 1 4-1 6-2 3-7 5-10 12-11 6-4 6-7 6-6 8-14 12-17 17-4 2-8 3-6 3-2 1-2-2-6-6-3-6 0-4 0-4 3-5 7-17 5-7 5-9 15-18 19-30 13-8zM591 252l9 0 6-1 8 2 8 0 2 2 2 3 1 12 5 6 1 2 0 4 2 6 0 10-2 12-2 4-9 14-8 8-4 5-4 2-6-1-8 1-4 0-16-10-6-7-2-6-4-8-2-6 1-8-2-8 0-6 2-4 6-12 3-6 2-2 8-5zM226 364l6-1 8 1 10 1 18 5 3 2 13 14 1 2 2 8 3 4 1 4 0 8-3 12-1 4-2 4-9 9-5 7-3 2-12 7-8 0-6 1-6 1-14 5-3 2-6 6-1 2 1 4 3 5 0 5-8 13-3 7-6 12-3 3-6 3-6 5-9 5-5 4-1 2 3 2 2 0 14 0 12 3 10 7 10 8 4 4 3 6 2 12 1 4 3 4 1 4-5 20-12 16-5 3-6 6-8 4-28-1-8-5-14-11-2-4-1-6-3-6-4-12 0-10 4-10 1-6 3-6 8-11 5-11 1-2-3-2-3-1-12-1-8 1-8-4-6-3-7-4-5-8-5-4-2-10 6-14 7-7 5-7 9-9 11-5 8-8 0-4-2-8-1-2-5-6-2-4 0-4 2-8 0-6 1-2 4-3 4-9 20-18 4-2 8-3 10-6 6-2 18-4 6-1zM1067 462l3-1 4-1 10 3 8 1 14 4 12 8 6 0 3 2 9 15 2 7-4 8-2 9-3 5-7 6-16 10-4 1-10 0-10 3-2 2-1 10 3 12 2 2 14 7 6 4 15 7 3 2 1 4-1 8 1 2 5 4 1 2 0 6-4 6-5 4-3 4-3 2-9 2-5 4-2 1-14 2-10 3-4 1-10-2-18 0-10-1-8 0-12-3-8-5-10-16-5-6 0-4 4-12 1-10 2-4 10-4 8-5 6-1 8-6 8-1 2-1 3-4 2-4 0-8 1-6 0-2-4-2-10 0-14-3-11-7-2-2-3-6-4-4-6-12 1-6 1-6 4-8 8-5 4-2 8-6 10-1 20-5 4 0 8 1 4 0zM911 558l3-1 8 0 14 2 2 1 4 4 5 6 5 4 3 4 2 4 1 6 2 4 2 2 5 2 2 2 0 2 0 2-5 4-1 2 0 4 0 8-6 8-7 7-6 5-16 7-10 0-14-7-6-2-4 0-6 0-4 0-1-2-3-6-6-6-2-10-5-8-1-2 0-14 1-4 8-12 13-8 6-7 4-1 8 2zM458 712l4-6 4-10 0-14 5-6 3-5 6-3 3-6 5-5 10-17 8-6 10-11 17-23 8-6 4-6 6-6 12-6 9-11 10-6 2-3 0-6 2-3 2-1 6-1 3-1 1-2 2-6 0-6 2-5 4-2 2 0 6 1 2-1 4-7 2-2 4-3 6-1 2-2 3-6 5-3 12-11 6-9 4-3 6-13 2-2 10-7 6-1 10-4 8-7 1-4-1-6 1-4 2-2 5-2 3-2 1-2-1-6 0-4 7-4 9-6 6-6 11-10 8-5 6-3 14-10 2-2 2-6 8-7 2-1 8-2 2-2 2-5 4-3 2-2 2-2 1-6 1-2 8-8 8-9 2-1 6 1 2-1 3-2 1-8 6-6 1-2-2-6 1-2 4-6 6-2 2-2 0-2-2-5-6-8-1-3-1-10 1-2 1-2 4 0 2-4 0-2-2-2-2 0-2-2 1-2 3-2 2 0 2-1 1-7 3-2 14-3 12 2 4 0 2-1 2-2 1-4-1-4-1-2-5-3-4-1-6 1-6-1-6-2-8-5-6-5-5-6-13-11-4-5-3-8-3-4-2-4 1-16 1-4 10-12 14-14 8-2 6-5 10-5 4 0 8 1 14-3 12 0 8 1 6-3 4-1 10 3 6 1 2 1 2 3 6 4 4 4 6 4 6 8 6 6 4 1 10-1 14-10 6-7 6-6 10-6 11-4 13-7 4-4 8-10 2-2 6-1 8-4 5-6 5-2 2-2 2-4 2-3 6-4 3-1 2-2 3-6 1-4 1-2 12-3 6 0 3-1 3-3 6-1 3-4 2-2 11-4 6-4"/>
<path stroke="#3450a6" d="M1200 70l-8 5-6 4-2 2-2 5-2 10-1 4-8 14-5 6-4 3-16 5-6 4-2 4-4 14-3 6-17 28-14 13-22 8-11 3-8 4-5 4-4 8 0 4 0 4 2 4 1 2 13 8 6 2 8 0 6 1 2-1 2-5 2-2 6 0 9-3 2-2 1-6 3-2 3-1 8-2 2 1 4 4 6 2 2 2 1 4-1 5-2 3-6 4-2 2 0 2 0 6-1 2-7 5-1 3 1 10 2 6 0 8 2 8-1 6-5 7-6 5-8 4-12 9-8 4-2 0-8 0-12 1-6 2-12 1-20-5-10-6-22-9-8-7-6-10-4-2-4 0-10 7-8 8-5 11-6 8-5 8-4 5-15 11-3 8-6 8-2 2-6 0-2 2-2 5-2 1-4 0-4 2-6 5-6 9-12 9-6 7-2 2-6 1-2 3-3 6-13 14-5 8-7 8-7 10-9 9-10 5-6 8-2 1-6 0-6 3-2 2 0 2 1 6-1 2-14 8-14 12-4 5-5 7-12 12-5 6-4 2-6 5-21 21-3 4-2 7-7 5-3 6-2 2-12 5-14 12-10 15-3 8-11 15-6 4-4 5-13 8-9 9-10 7-6 8-8 6M696 78l18-1 13 11 12 18 2 18-4 22-5 16-7 6-14 8-3 1-10 0-8 2-4 0-4-1-12-7-11-11-3-2-4-1-4 1-2 2-2 8-2 2-4 3-4 5-5 4-5 8-4 3-10 2-4 3-1 2-1 6-4 6 0 6-2 4-2-2-1-6-5-7 0-9-2-2-10-3-8-8-6-3-4-4-5-6-2-8-4-10-2-6 2-12 5-12 4-10 2-2 8-5 8-9 4-2 6-3 8 0 10-2 4 1 10 5 14 11 14 2 6 0 4-2 2-2 5-8 8-6 5-6 4-3 4-2zM126 84l14 0 8 3 8 2 8 3 16-1 6 1 20 14 9 14 1 4 0 6 1 6 2 14-1 12-3 12-2 20-3 8-3 10-3 4-2 1-12 3-4 1-4-3-6-4-3-4-6-12-3-4-10-5-10-9-9-16-13-14-2-6-6-6-3-4-2-6 2-10-2-8 0-4 6-14 3-3zM208 244l8-1 8 0 4 1 6 4 5 6 4 10 1 6-2 6-8 8-8 10-11 8-5 6-6 5-9 11-9 8-20 18-4 2-12 3-4-1-5-4-1-4-1-4 4-14 5-11 4-5 7-12 13-16 14-21 10-11zM606 254l2 0 10 3 2 1 2 2 4 12 3 6 1 6 2 6 1 8-3 14-6 9-4 5-12 10-12 3-4 0-16-6-4-3-3-4-7-18 0-10-2-10 4-14 5-10 3-3 6-3 12-4 10 1zM226 366l6-1 20 2 14 5 10 8 7 8 6 14 0 10-2 12-2 4-15 18-5 4-9 4-22 4-12 4-11 8-1 2-1 4 4 10-3 8-4 6-3 8-7 11-12 10-16 9-6 1-26-1-14-6-8-6-9-10-1-4 0-4 6-14 11-14 7-7 12-6 8-7 3-4 0-4-3-6-2-4-4-6-1-6 2-12 7-14 18-18 4-2 8-3 8-6 6-2 12-3zM1067 464l3-1 4-1 8 2 8 1 12 4 16 9 6 2 5 8 3 4 3 4 0 4-3 6-2 10-3 4-4 4-13 9-6 3-14 1-10 3-2 2-1 4-3 6 1 4 3 4 3 8 17 9 20 12 1 3 1 12 2 3 4 3 0 4-3 4-5 4-4 4-2 1-8 3-8 5-22 5-4 1-10-1-22-1-14-1-10-3-6-3-4-3-11-19-1-4 2-6 3-14 0-2 2-2 13-7 10-4 8-5 8-2 7-8 2-6 1-4-1-8-3-3-6-2-8 0-12-2-3-1-7-6-6-10-4-4-1-2-1-6 1-12 2-4 4-4 13-10 10-2 20-6 12 2 6-1zM178 546l8 0 12 3 12 7 10 8 3 4 2 4 2 14 4 8 1 2-1 4-4 16-9 12-12 10-10 4-12 0-14-1-4-1-4-3-12-9-2-2-1-2-1-8-3-6-2-8 0-4 1-10 2-8 1-6 3-6 7-8 5-9 2-2 4-2zM910 562l4-1 6-1 8 2 6 0 4 2 6 9 8 5 2 4 2 8 8 10-4 10-1 8-6 10-5 6-4 3-4 2-12 5-6-1-6 0-20-8-8 1-2-1-4-6-5-5-1-2-2-10-4-8-2-10 1-4 2-6 5-6 8-6 7-4 5-5 2-1 8 1zM462 712l3-6 3-8 1-4 0-8 1-4 6-7 6-5 4-6 14-22 8-8 13-14 13-18 9-6 10-12 11-6 8-9 12-8 2-3 2-6 2-2 6-2 3-2 5-10 1-6 1-3 2 0 4 2 4-1 5-4 5-6 8-5 14-17 7-6 5-7 6-5 2-3 3-7 3-5 6-3 2-1 4 1 2-1 18-14 2-3 1-2 0-8 2-2 7-5 3-3 1-2 2-8 3-4 9-7 16-15 12-8 15-10 7-7 8-7 9-4 10-12 3-8 2-2 6-7 8-7 10-3 4-3 1-8 1-2 6-6 4-5 3-7 5-8-1-4-7-14 4-3 1-3 0-8 1-6 3-10 1-4 2-1 8 1 6-2 10 1 6-1 3-2 2-8 0-4-1-4-6-4-4-1-10 0-6-1-6-1-6-3-8-7-12-13-7-6-2-4-1-4-4-8-1-4 1-12 1-2 10-14 15-12 4-1 8-6 8-4 4 0 8 1 12-3 22 0 8-3 4 0 6 2 8 8 8 2 8 6 4 4 6 9 4 3 6 2 14-1 4-3 14-18 4-3 12-8 24-11 3-2 7-8 8-3 4-3 8-4 8-6 8-11 10-5 2-2 4-9 2-2 6-2 12 0 8-3 3-2 2-6 2-2 9-4 8-6"/>
<path stroke="#364ca3" d="M1200 68l-8 5-9 7-9 10-6 7-3 5-2 8-3 4-6 6-10 6-4 5-4 7-7 18-12 22-4 6-9 9-6 4-6 2-22 7-13 6-5 4-8 8-11 6-9 8-8 4-2 2-4 4-6 10-2 6-6 12-3 2-7 3-4 3-7 8-5 4-12 12-6 8-17 26-3 4-17 12-3 4-3 6-3 4-8 3-6 6-4 3-14 15-13 9-7 7-6 5-10 14-9 10-6 10-15 17-22 17-10 5-5 3-3 4-1 6-4 4-21 16-12 14-15 16-19 18-12 12-7 10-5 4-6 7-14 9-8 7-4 5-13 22-9 12-7 6-5 6-12 8-8 8-10 7-7 9-7 6M465 712l7-28 12-14 7-12 11-16 30-35 4-4 8-7 8-8 12-9 8-7 12-9 8-11 8-6 8-12 10-6 16-13 14-18 8-7 5-6 7-7 6-9 4-2 8-4 20-15 3-5 3-9 10-11 6-12 10-9 14-14 14-9 30-21 7-5 11-12 4-8 8-10 4-4 12-5 4-3 1-2 3-8 1-2 32-40 27-23 8-5 14-12 6-5 6-8 11-11 4-6 3-5 4-11 8-6 9-4 3-2 11-18 6-8 8-20 4-6 5-6 4-3 12-8 24-11 10-8 26-16 4-4 6-8 9-6 7-8 4-2 12-2 6-3 8-5 6-5 8-5 9-8"/>
<path stroke="#3949a0" d="M1200 66l-8 5-10 8-5 11-1 8-4 6-4 8-4 5-4 3-16 6-4 3-2 2-9 23-14 26-3 4-10 9-4 2-20 8-11 3-11 6-5 4-4 4-3 7-2 1-7 2-2 2 0 2 2 8 1 1 2 1 2-1 4-3 2-1 2 1 6 5 6 2 6 3 6 2 8 0 8 4 4 1 4-1 8-1 3-1 1-2 0-6 1-2 7-11 4-1 4 0 8 6-1 2-9 14-6 5-2 3 0 8 4 16 0 8 2 8-1 6-4 6-7 6-16 7-6 4-4 2-16 2-12 2-12 1-14-3-9-5-11-4-11-6-8-6-8-10-7-6-2 0-2 0-10 6-4 4-6 7-5 9-7 10-4 8-4 3-7 3-4 4-9 8-4 8-2 2-6 0-6 9-6 2-2 2-8 7-4 6-3 4-9 6-6 8-8 5-6 11-12 14-5 8-6 6-7 10-6 5-13 9-7 6-9 4-6 4-3 4-1 4-2 4-21 16-12 16-16 16-34 32-3 6-7 6-4 6-11 6-13 11-12 19-4 8-10 13-6 5-6 6-11 8-7 7-10 7-7 8-9 8M694 82l4-1 12 0 6 2 6 5 6 6 7 10 2 4 2 14-4 24-6 14-3 4-4 4-14 5-22 3-4-1-12-8-10-9-2-1-4-2-6 0-2 1-2 2-3 8-5 5-4 5-7 6-5 7-4 2-8 3-4 2-2 6-6 4-2-2-2-8-2-2-8-2-4-2-8-9-6-4-6-6-1-3-1-6-5-8-1-4 0-4 3-14 9-17 9-7 5-6 5-4 5-2 18-2 16 8 10 7 14 4 4 1 4-1 6-4 9-11 13-12 4-1zM123 90l5-2 6 2 6-1 4 0 12 2 6 4 6 1 4 0 6-2 4 0 4 2 18 11 4 5 5 10 4 30-2 12-2 8-1 12-2 8-5 16-2 4-3 2-6 2-6 2-4-2-6-4-3-4-5-10-3-4-9-6-12-10-7-12-14-16-3-9-6-5-1-2-2-4-1-4 1-8-1-8 0-4 6-12zM210 246l6-1 8 1 6 3 4 3 3 4 3 8 0 4-2 8-6 7-8 11-11 8-11 12-8 10-28 24-6 2-10 1-4 0-3-3-1-4 2-14 5-10 5-9 5-9 15-18 6-10 9-12 10-10zM589 258l5-1 14 0 8 3 2 2 3 6 5 10 3 12 0 10-1 8-1 4-4 6-3 4-10 8-14 6-2 0-6-3-12-3-5-4-6-18 0-8-2-10 0-4 3-10 6-11 4-3zM224 368l4-1 6 0 10 0 8 1 12 5 10 8 8 10 5 13 0 8-3 14-14 17-8 6-8 4-12 2-8 1-12 4-14 7-2 3 2 14 0 6-1 4-3 6-2 6-7 10-13 12-10 5-6 2-18 2-12-2-12-5-16-14-1-2 0-4 6-16 11-14 4-4 10-6 12-9 3-3 2-4 1-2-1-2-9-14-1-4 1-14 4-10 2-3 6-4 12-13 11-6 7-5 4-2 14-4zM1068 466l4-1 4 0 14 2 10 4 10 5 12 8 9 12 1 4-3 6-3 10-3 4-5 5-10 6-6 3-20 2-4 2-4 5-5 3-1 2 3 8 5 6 2 6 2 2 17 8 11 8 7 6 2 4 0 10 3 8-1 2-9 8-15 8-7 3-8 1-8 2-4 1-32-1-14-2-8-3-7-5-5-6-5-10-1-4 0-2 3-16 4-6 5-4 14-7 8-5 6-1 4-2 7-7 6-10 1-2 0-2-4-8-3-2-8-4-9 0-10-2-3-2-9-8-5-8-2-6-1-8 1-6 2-4 3-3 10-7 4-2 26-8 12 2 6-1zM180 548l4 0 4 0 12 4 8 4 11 10 5 8 1 14 4 8 0 4-4 14-9 13-12 9-10 4-10 0-12-1-6-1-4-3-10-8-2-3-2-8-3-8-1-6 0-14 3-14 2-4 11-13 4-4 4-2zM913 564l7 0 16 5 6 6 8 6 9 19 0 4-3 12-6 11-4 5-6 4-10 3-20-1-14-6-6 0-2-1-9-9-3-12-4-8-1-8 1-6 3-4 5-6 4-2 8-4 8-6zM465 712l5-14 2-11 1-3 11-12 8-14 11-16 21-24 11-14 9-6 6-7 6-5 8-5 8-8 8-6 6-5 6-9 9-5 7-11 13-9 13-12 14-18 8-6 6-8 7-6 5-9 4-2 6-2 4-2 18-15 4-6 2-8 12-12 7-12 21-22 25-16 17-13 10-6 10-11 4-3 1-1 2-6 3-3 4-6 20-11 2-4 2-8 12-16 6-6 3-6-1-2-4-4-1-4 2-4 0-2-3-14 0-4 2-6 2-3 2-2 2-1 10-1 16-2 6 1 2-1 1-1-1-8 2-14 0-2-1-2-11-4-12-1-18-3-10-8-17-18-6-16 0-12 2-4 10-14 23-15 8-4 12 0 12-4 20 1 14-3 2 1 10 8 4 2 6 2 6 4 6 6 4 8 4 4 4 2 18 4 2-1 4-5 5-10 8-12 5-4 12-8 14-7 9-3 11-9 7-3 5-4 8-4 8-6 11-12 9-5 5-7 3-1 4 1 6-4 4 0 4-2 9-6 5-6 8-4 11-10"/>
<path stroke="#3a48a0" d="M1200 64l-8 5-15 11-12 14-11 20-14 13-4 6-7 19-8 16-6 10-4 6-7 6-6 5-6 2-27 9-8 4-6 4-11 9-8 5-10 8-8 4-5 4-9 12-7 14-3 3-8 5-14 15-18 21-6 9-13 17-3 2-8 5-16 15-8 6-4 6-8 5-5 7-9 10-12 9-6 7-6 6-7 12-11 13-6 9-14 16-22 16-10 6-8 6-8 12-18 15-14 17-22 22-25 24-9 10-30 26-16 26-10 13-6 5-7 8-17 14-12 8-6 8-9 8M468 712l2-10 4-14 12-17 6-13 13-16 27-33 4-4 8-6 8-8 12-9 10-9 10-7 8-10 10-8 8-10 24-20 8-10 8-10 26-26 12-8 18-14 5-6 4-10 9-10 9-14 19-21 4-3 10-6 38-26 16-14 4-8 6-8 18-10 2-3 5-9 7-12 10-10 14-19 8-6 12-12 14-10 22-18 5-7 16-18 5-11 4-5 4-4 9-4 5-5 4-6 6-11 6-10 7-20 8-10 3-3 12-8 12-6 12-5 10-7 25-15 6-4 9-10 8-6 4-3 4-2 6-1 11-6 23-16 14-12"/>
<path stroke="#3a469f" d="M1200 63l-6 2-8 6-8 7-10 22-3 10-3 4-2 2-6 3-12 5-4 4-4 7-5 15-4 8-11 20-7 8-5 5-4 2-35 13-7 4-6 4-10 9-10 6-3 5-3 8 1 2 3 2 10 1 8 0 2 0 10 3 8 3 12 2 12 6 4 1 10 0 2 1 6 17 3 10-1 10-2 10-2 4-4 3-10 6-8 3-8 4-14 2-14 3-8 0-12-1-4-1-8-5-12-5-9-5-7-6-4-7-7-7-3-6-4-1-2 0-4 2-8 7-8 9-10 13-5 6-7 9-12 7-5 8-17 13-6 8-6 1-2 1-6 8-6 5-5 8-7 7-5 7-8 8-9 14-8 10-7 10-6 6-7 9-24 18-10 5-8 6-8 12-16 13-14 17-15 16-27 26-7 6-7 8-8 8-22 18-4 6-13 22-10 12-7 7-5 5-17 15-13 9-6 8-9 8M700 84l10 1 8 3 10 10 5 8 2 4 1 10-3 24-7 16-4 4-2 2-18 5-10 1-6 0-4-1-11-7-9-8-8-3-4 0-4 0-4 3-4 8-4 4-4 6-9 8-5 5-4 2-9 3-5 3-5-3-9-2-4-2-9-10-7-4-4-4-1-2-1-8-5-10 3-18 2-5 7-11 8-6 5-6 6-4 4-2 4 0 8-1 4 0 8 5 10 4 6 4 8 3 6 4 6 1 4-1 4-3 14-16 10-8 6-3zM125 94l3 0 6 1 10-2 10 2 6 3 4 1 6 1 8-2 4 0 18 9 4 3 2 4 5 10 3 22 1 6-2 10-3 10-1 12-3 12-2 6-2 4-3 4-3 2-4 2-4 0-4-2-4-3-3-3-6-12-23-17-7-11-13-16-3-10-7-8-2-4-1-4 1-8-1-8 1-4 4-7zM1117 238l3-2 2 1 2 1 1 2-1 4-2 3-2 1-2-1-2-3 0-4zM212 248l4 0 8 1 4 2 4 3 2 4 3 6 0 8-2 4-12 16-12 10-9 10-10 12-24 20-4 2-4 2-8 0-4-1-2-2 0-3 0-12 4-10 10-18 16-18 6-10 8-10 11-10zM596 260l10 1 4 0 4 3 4 5 3 5 4 12 1 16 0 4-2 4-2 4-3 4-9 7-10 6-4 1-2 0-6-3-10-2-4-2-1-3-4-12-1-10-2-10 1-4 3-10 2-4 4-6 4-2zM221 370l11-2 10 1 8 1 12 4 10 8 8 10 5 12 1 4-1 6-1 6-2 5-7 9-5 6-6 5-6 4-6 2-10 2-8 1-16 6-10 2-3 2-3 4 3 12 0 10-1 4-3 10-2 4-5 6-12 11-12 6-8 2-14 2-10-1-10-4-3-2-12-12-2-4 0-4 4-12 11-16 4-3 10-6 13-9 7-8 0-2 0-2-8-10-2-8 0-16 2-6 2-2 6-5 11-13 17-11 4-2 14-4zM1070 468l6-1 14 3 10 4 6 3 11 7 3 3 6 7 1 4-3 16-2 4-4 4-6 4-10 5-24 3-5 2-3 3-4 1-2-2-3-4-2-2-11-1-8-4-8 0-8-2-4-2-10-7-3-6-3-12 1-8 2-4 3-2 11-8 11-3 14-4 12 1 6-1zM183 550l7 1 16 6 12 11 2 4 2 4 1 12 4 8 0 2-4 14-9 14-6 5-8 4-6 2-4 1-12 0-10-2-4-2-9-8-3-4-5-16-1-8 0-10 1-6 3-8 3-6 7-8 8-5 8-4zM1056 554l4-1 2 0 2 1 4 5 9 11 3 2 16 8 12 10 4 4 2 4 0 14-2 4-3 4-3 3-16 9-4 1-7 1-9 3-14 0-22-1-10-2-10-4-4-2-5-6-4-8-2-6 1-10 4-10 3-4 5-4 9-4 9-5 10-3 8-6 5-6zM907 568l7-1 4 0 4 1 12 4 12 10 4 4 2 5 2 5 1 4 0 6-2 6-3 10-3 4-4 4-5 3-10 2-14 1-6-1-10-5-8-3-6-5-3-4-6-18 0-6 1-6 4-5 4-4 18-9zM469 712l2-8 4-14 11-17 7-15 12-16 21-24 8-10 4-4 6-4 8-8 13-10 9-8 6-4 7-6 5-7 10-7 8-10 17-14 8-8 15-19 8-7 5-6 7-6 6-7 12-7 19-16 5-6 3-8 11-13 8-13 20-21 23-15 19-14 8-4 10-9 8-6 2-3 3-6 5-7 14-8 4-3 6-10 5-10 5-6 7-6 6-10-1-3-4-5 1-6-3-16 1-6 1-4 4-2 10 1 6-2 6 0 4-1 8 0 2-1 2-2 1-3-2-6 0-2 2-8 3-6-1-2-4-4-3-3-4-1-8-2-10 0-10-3-8 0-4-1-10-8-14-16-5-14-1-10 3-6 8-12 19-13 10-5 12-1 10-3 28 0 14 4 16 9 9 7 5 10 4 4 4 2 8 2 8 4 4 0 2 0 2-1 2-3 8-20 6-8 4-4 14-9 12-6 8-3 4-2 10-7 10-5 16-10 14-13 8-5 4-4 2-1 4 0 4-1 4-3 8-5 14-11 8-5 13-12"/>
<path stroke="#3b459e" d="M1200 59l-8 5-17 12-12 14-9 14-5 10-7 7-4 5-4 7-7 19-8 16-6 10-7 8-6 5-4 2-29 11-13 6-14 10-27 18-5 4-10 11-8 13-10 9-12 13-24 29-14 15-14 12-7 8-11 8-10 10-7 4-11 12-7 10-7 7-12 15-7 12-9 11-6 9-14 15-6 5-18 13-12 7-7 6-9 12-14 12-17 20-21 22-26 24-9 10-27 23-4 6-13 21-11 14-16 16-14 11-10 8-8 9-9 8M471 712l1-8 3-10 13-22 5-12 14-18 25-30 13-12 7-7 12-9 10-8 12-9 8-9 9-8 9-10 16-14 8-8 14-18 14-14 12-10 13-10 19-16 4-5 7-11 15-22 10-12 10-10 51-34 17-14 2-2 5-8 3-5 4-3 12-6 4-4 8-11 4-9 20-23 7-9 17-15 26-19 10-9 10-11 8-11 4-5 6-10 7-8 9-7 6-7 14-26 7-20 7-9 4-3 14-9 23-11 37-22 22-17 14-7 30-22 17-14"/>
<path stroke="#3c449e" d="M1200 53l-4 5-12 9-8 8-19 37-5 4-12 7-4 5-4 8-7 18-6 12-7 12-7 8-5 4-4 2-31 12-12 6-25 18-11 10-3 4 0 2 0 2 2 2 2 1 10 1 8 0 10 1 10 2 10 3 12 2 8 4 14 5 2 2 3 3 5 12 1 8 0 6-4 12-1 2-8 6-10 4-10 5-26 5-20-1-26-11-5-4-6-8-5-8-1-4-1-6-2-3-4-2-4 0-6 1-4 2-6 6-20 24-14 14-12 9-7 9-9 5-12 12-10 7-10 10-7 12-17 20-8 14-10 12-5 8-13 14-6 5-20 15-11 6-7 6-8 10-16 15-19 23-18 18-19 18-8 6-10 11-24 21-4 5-14 23-11 14-27 25-14 10-6 8-11 9M692 88l6-1 6 0 6 1 6 2 8 8 8 12 1 4 0 6-1 12-2 12-8 15-4 4-18 5-6 1-6 0-4-1-10-6-7-6-4-2-11-4-4-1-2 0-6 5-6 10-6 9-3 3-15 10-4 1-10 2-8-1-6-2-4-3-4-5-8-6-4-4-6-18 2-18 10-15 7-5 6-6 5-3 8-3 4-1 4 1 10 6 20 8 3 2 5 6 4 2 4 1 2-1 2-1 22-26 10-6zM136 98l6-1 4-1 6 2 10 4 20 0 16 7 4 3 3 4 4 12 3 14 0 10-1 10-4 10-1 10-2 12-4 9-4 5-2 1-2 1-4 0-6-4-6-10-4-5-8-5-15-12-5-8-8-10-5-8-3-9-8-15-1-16 1-5 4-4zM210 252l4-2 4 1 6 1 5 4 3 4 2 6 0 6-2 4-10 14-13 12-16 18-5 5-14 12-10 7-6 1-6-2-2-1-1-4 0-8 2-8 10-18 15-18 7-10 9-11 10-8zM594 264l4-1 8 2 4 2 4 3 5 6 4 14-1 15-2 5-2 4-4 4-6 5-8 4-4 1-14-3-4-3-4-10-4-20 1-8 3-6 4-6 5-4zM219 372l9-2 16 0 12 3 4 2 4 2 10 9 5 8 2 4 2 6 1 4-1 8-2 6-11 16-6 5-8 4-12 4-10 2-16 4-12 2-2 1-6 4-1 2-1 2 5 8 1 4 1 6-1 8-4 10-3 6-4 4-9 9-12 6-20 3-10 0-10-4-11-10-3-4-1-6 0-6 4-8 10-14 5-3 20-12 10-9 1-2-1-4-6-8-2-4-1-10 0-12 1-4 17-20 15-11 4-2 14-5zM1071 470l5-1 10 2 12 4 6 4 12 9 6 8 1 2 0 4-1 6-2 6-2 4-4 4-8 4-6 3-22 3-10 0-12-3-8-1-8-3-10-1-8-4-11-8-1-4-2-10 0-6 3-4 11-9 8-3 16-4 18-1zM179 554l5-1 6 1 10 3 8 5 8 8 3 4 1 4 1 10 2 8 1 4-3 10-8 14-5 4-6 3-8 4-4 1-8 0-8-1-6-1-4-3-7-7-3-4-5-20 0-16 1-6 5-8 3-4 4-4 10-6zM1059 560l3 1 14 11 18 9 12 11 3 4 2 4-1 12-1 4-5 5-16 9-20 5-12 0-22-1-12-2-8-4-4-4-4-5-3-5-2-6 0-4 1-6 5-10 5-5 16-9 14-4 11-6 5-4zM910 570l6-1 6 1 12 6 12 10 4 7 2 5 0 4-1 6-3 8-4 8-2 3-4 2-8 2-12 2-8 0-18-9-6-5-3-5-4-12-1-8 2-6 4-4 4-3 16-9zM473 712l0-8 3-8 12-22 6-14 12-16 27-32 5-5 8-7 6-6 14-10 10-9 7-5 11-11 9-7 9-10 24-23 15-19 9-8 5-6 11-9 17-13 15-13 4-5 25-36 17-19 26-17 16-12 8-4 12-10 6-4 4-4 5-8 3-4 14-8 4-4 9-12 3-8 2-2 8-9 11-13 0-2-2-6 0-2 2-14-1-4-4-4 2-2 2 0 4 1 2 2 2 5 2 1 4-2 4-3 4-8 2-1 6 0 4-3 4-8 1-8 1-2 5-6 1-2-1-4-7-7-6-4-12-3-14-1-10-3-10-1-8-5-4-4-10-12-4-10-2-6 0-6 1-4 4-8 4-6 17-12 8-3 24-7 26 1 16 4 4 2 8 7 9 6 2 2 7 12 4 3 16 8 4 0 4 0 4-3 4-4 7-20 5-8 6-6 12-7 10-6 13-5 11-7 11-5 16-10 11-9 8-4 6-6 11-5 11-8 21-16 17-14"/>
<path stroke="#3d429e" d="M1200 48l-11 12-17 14-12 15-14 23-10 14-4 8-9 22-6 12-6 10-5 6-6 5-4 2-33 13-8 4-19 13-23 15-8 6-7 8-11 14-19 20-15 20-11 12-14 14-20 18-10 7-26 23-6 8-5 8-17 21-9 15-9 11-6 9-12 13-10 8-14 10-12 7-9 8-8 10-15 14-17 20-19 20-29 26-9 10-24 21-4 5-13 22-11 14-19 18-11 10-11 8-9 10-10 8M474 712l1-8 2-8 11-20 6-16 24-30 16-18 20-18 33-26 7-7 10-9 9-10 23-22 16-20 14-14 42-33 6-8 24-35 9-10 7-8 4-3 47-31 18-14 11-14 14-9 4-3 10-13 5-9 13-16 6-6 7-10 17-15 26-19 10-8 13-14 22-30 13-14 14-26 8-22 2-4 5-6 7-5 12-8 21-9 38-22 15-10 10-8 11-6 49-38"/>
<path stroke="#3e419d" d="M1200 44l-6 6-6 8-16 16-8 14-4 10-9 14-11 8-4 5-4 7-9 22-5 12-7 10-6 8-5 4-4 2-20 9-15 5-11 6-33 24-7 6-3 4 0 4 0 2 3 4 2 1 24-2 18 2 10 3 14 3 20 11 3 2 2 4 3 8 1 6-1 8-2 8-3 4-5 4-16 7-14 3-8 3-10 1-16-2-16-6-10-6-3-2-4-6-2-4-3-8-2-8-2-3-5-5-3-1-2 0-12 6-6 6-7 9-9 10-12 12-20 18-6 6-11 8-11 10-8 6-8 8-4 5-7 11-17 23-8 13-8 10-7 10-11 12-8 7-20 14-9 5-10 8-8 10-13 13-19 23-19 19-26 23-10 11-26 23-4 6-12 20-12 14-27 26-13 10-8 9-11 9M695 90l7-1 8 2 4 1 5 4 10 16 1 4-1 14-2 14-9 14-2 2-4 2-12 3-8 1-6-1-8-4-10-8-11-5-4-4-2-4 0-2 1-4 6-12 5-8 11-13 8-6 8-3zM131 102l13-2 4 1 14 5 16-1 4 1 14 5 3 3 3 4 5 12 2 10 1 14-2 8-5 10-1 14-1 6-3 6-4 4-4 2-4-2-2-1-10-12-8-5-14-12-6-8-7-8-7-18-4-8-4-6-1-4-1-10 1-4 3-3zM591 104l5-2 4 1 4 2 8 5 16 6 4 3 4 5 5 6 3 4 2 4 0 2-6 7-8 15-6 9-3 3-5 3-12 6-14 3-6-1-4-2-7-7-9-8-2-4-5-16 2-14 7-12 4-4 6-4 6-6zM213 254l3 0 6 1 4 2 2 3 2 4 1 6-1 4-2 4-9 12-15 15-11 13-6 6-13 10-10 7-6 1-4-2-2-2-1-4 1-8 2-6 9-16 15-18 6-9 10-11 10-7zM594 268l4 0 6 1 4 1 4 3 4 5 3 12-1 12-4 10-6 6-6 4-4 2-8-2-6-2-8-14-3-12 0-4 2-4 7-11 6-5zM225 372l17 0 14 3 4 2 4 2 5 5 4 4 6 10 2 6 0 4-1 10-9 14-3 5-4 3-10 6-6 2-30 7-12 1-10 3-13 1-1 2 15 14 2 4 1 4 0 6-2 6-3 8-5 8-10 10-6 3-6 2-22 3-8-1-8-4-9-9-2-4-1-6 2-8 8-13 4-4 4-3 12-7 8-3 8-5 4-2 9-1 0-2-2-2-11-11-3-5-3-14 1-10 2-4 7-10 9-10 13-10 18-7zM1058 474l16-2 6 0 6 1 16 7 10 8 7 10 1 4-1 4-1 4-4 6-6 6-8 4-10 2-16 1-12-1-22-6-6-1-8-3-5-4-5-6-2-12 0-4 8-9 4-3 4-1 18-4zM179 558l7-1 6 0 8 3 7 4 7 8 2 4 4 20 0 6-1 6-5 10-3 4-3 3-6 3-6 3-6 2-10 0-6 0-6-2-4-3-5-6-3-4-5-18 0-16 2-6 4-8 3-3 4-3 10-5zM1055 568l3-1 4 1 20 9 10 6 6 5 6 6 2 4 1 14-2 4-3 3-16 8-20 6-32-1-12-3-6-3-4-3-4-6-3-5-1-4 1-8 4-10 5-5 16-9 15-4zM907 574l5-1 4-1 4 1 4 1 12 8 4 4 5 6 2 6 0 10-3 10-2 4-4 3-6 2-12 2-6 1-4-1-15-7-5-4-3-4-4-8-2-4 0-6 1-4 3-4 3-3 10-6zM476 712l0-8 2-6 5-10 7-14 5-14 24-30 15-17 12-11 8-7 14-11 8-7 12-9 8-8 8-7 11-11 21-21 8-9 8-10 14-15 42-34 12-15 19-28 15-17 42-29 11-6 16-12 4-4 10-12 13-9 12-14 7-11 19-23 2-3 2-6 1-2 13-11 8-6 7-9 2-4 6-16 7-8 1-6-2-4-5-5-4-5-4-2-4-1-14-2-12 0-10-3-8-2-4-1-10-7-10-12-3-8-1-6 0-6 3-8 5-8 18-13 26-7 6-1 24 2 16 5 6 6 9 6 3 4 6 9 5 5 5 6 2 2 8 4 4 6 2 0 2-1 12-16 4-9 5-14 4-6 5-5 18-12 20-9 12-7 10-5 17-10 15-10 8-7 12-7 40-31 9-7"/>
<path stroke="#3e3f9c" d="M1200 42l-8 8-8 10-14 13-12 15-13 22-11 16-6 13-7 17-5 12-7 10-5 5-4 4-6 4-35 13-7 4-16 11-23 15-10 8-19 22-18 20-10 14-10 11-20 19-47 40-9 9-28 39-9 14-15 20-10 11-10 8-28 19-8 7-22 23-17 20-19 20-29 26-9 10-26 24-6 8-11 18-12 14-17 17-12 10-10 8-10 11-10 8M477 712l1-8 1-6 11-22 6-16 24-30 14-16 20-18 36-28 42-42 12-13 9-11 13-14 43-34 11-14 20-30 7-8 7-8 6-5 48-31 18-14 12-13 10-7 6-6 10-12 5-8 27-34 14-12 30-22 8-7 14-15 19-26 15-18 14-27 7-19 3-6 4-4 6-5 12-8 8-4 15-7 19-10 30-18 14-11 11-7 37-29 13-9"/>
<path stroke="#3f3e9c" d="M1200 39l-30 34-8 12-6 13-9 12-9 10-4 5-4 8-9 23-4 8-8 12-7 8-4 3-4 3-18 7-13 5-12 6-38 26-7 6-4 7-1 5 0 4 2 4 3 2 4 1 10-4 14-2 16 0 26 7 12 6 10 8 2 4 3 6 0 6 0 4-3 8-2 4-4 3-14 7-12 2-12 4-8 1-16-3-14-4-9-6-3-3-5-7-5-17-4-9-2-3-2-1-4-1-4 0-4 3-11 8-15 20-18 18-26 22-10 8-18 15-8 8-4 5-24 35-10 15-8 10-7 10-11 12-6 5-29 19-9 8-24 26-18 21-18 18-28 25-8 9-26 23-4 6-12 20-14 16-18 18-10 9-10 7-9 10-12 10M692 94l6-2 4 0 6 1 6 3 4 4 7 12 1 4 1 4-1 12-2 10-2 4-6 9-2 2-4 2-8 3-8 1-4 0-8-4-12-9-8-4-3-4-1-6 3-12 5-9 12-13 6-4zM133 106l7-1 4 0 18 5 14-1 6 1 10 3 6 5 3 6 5 14 1 6 0 12-2 6-8 14-3 12-2 2-4 2-4 0-16-11-14-11-11-14-2-4-3-12-2-6-8-10-1-4 0-6 1-4 1-2zM591 108l5-2 4 1 12 6 12 5 4 3 6 7 2 6-2 18-3 8-8 10-5 4-14 6-14 3-4-1-4-2-14-14-3-6-2-10-1-4 1-8 1-4 8-12 4-4zM211 258l3-1 4 0 4 2 3 3 2 4 0 4 0 4-3 4-10 14-27 30-17 13-8 3-4 0-2-2-1-2 0-8 2-8 8-14 15-18 6-8 8-9 8-6zM590 274l6-1 8 1 4 2 4 4 3 8 0 4 0 4-6 14-2 4-3 2-6 3-4 0-3-1-5-4-6-8-2-8-1-6 2-6 7-9zM223 374l9-1 14 1 12 4 6 4 4 4 7 8 3 6 1 8 0 6-2 4-8 14-3 4-8 5-10 5-32 7-10 0-14 2-8-2-4-1-11-8-5-6-2-8 0-6 1-8 2-4 3-6 10-12 12-10 6-3 10-3zM163 468l7-2 10 2 6 4 7 6 3 6 0 6-1 6-3 10-5 6-7 7-6 4-6 2-8 1-12 1-6-1-8-2-4-3-3-3-4-6-2-8 3-8 6-10 6-6 10-5zM1064 476l12-1 6 0 16 6 4 3 5 4 5 6 2 4 1 4 0 4-2 4-5 7-6 5-8 3-18 1-10 0-8-2-22-6-3-2-8-6-3-6-2-8 2-6 4-5 4-2 6-1 12-4zM177 562l11-2 6 1 4 1 4 3 4 3 5 6 3 6 3 18 0 6-1 4-4 8-4 5-8 6-8 3-14 1-6-1-4-2-4-4-6-8-4-16-1-4 1-12 1-4 4-8 5-5zM1054 572l4-1 4 1 18 6 7 4 7 6 6 6 2 6 1 12-2 4-17 9-10 4-8 2-30-1-12-3-6-3-8-9-3-7 0-8 4-8 5-6 14-7 6-2zM911 576l7-1 4 1 4 2 9 8 7 10 2 6 0 8-4 8-2 2-4 3-6 2-8 1-6 0-4-1-14-7-4-4-6-8-1-4-1-4 1-4 2-4 11-8zM478 712l2-12 5-10 7-17 4-11 25-32 14-16 19-17 14-11 8-7 15-11 15-14 26-26 14-16 8-10 13-14 26-20 16-14 13-15 5-9 16-22 6-8 7-7 42-28 8-5 17-12 17-17 10-8 12-13 19-26 9-10 6-10 10-9 9-7 15-14 3-6 0-6 1-3 8-7 2-4 5-6 2-4 2-6-1-4-4-4-4-1-14 0-10-2-28-1-18-5-10-6-4-4-6-7-3-6-1-4 0-6 4-12 4-7 16-12 22-6 8-1 24 2 14 5 14 11 3 4 5 10 14 16 6 11 2 2 4 0 4-2 4-5 12-20 9-22 4-6 4-4 9-7 10-6 17-7 23-12 30-18 12-10 12-8 40-31 10-7"/>
<path stroke="#4c3e9e" d="M1200 37l-17 21-15 15-12 15-24 39-13 31-4 8-5 8-7 8-4 4-5 3-14 6-19 7-12 6-39 26-8 7-38 43-9 12-10 12-23 21-42 35-10 10-26 37-11 17-15 20-10 11-10 8-28 19-9 8-23 25-16 19-20 20-29 26-33 32-6 8-11 18-13 15-18 18-21 17-11 12-11 8M479 712l2-12 5-10 6-14 4-14 26-32 12-14 20-18 36-28 42-42 12-13 10-13 12-12 44-36 12-14 20-30 12-14 12-9 41-27 19-14 14-13 10-9 6-6 8-10 17-22 18-22 13-12 26-18 12-10 14-15 21-29 13-17 14-27 7-18 3-6 4-4 8-7 10-6 20-9 20-10 30-18 24-18 40-31 13-9"/>
<path stroke="#5a3e9f" d="M1200 35l-17 21-13 14-4 5-6 9-8 14-18 25-6 11-9 22-4 8-6 10-7 8-4 3-6 4-14 6-19 7-11 6-30 20-12 10-4 4-4 6-5 12-3 4-14 8-12 11-11 15-9 10-20 19-46 38-8 8-6 7-33 50-14 18-11 12-6 5-31 21-9 8-22 24-17 20-20 20-29 26-32 31-6 7-12 20-13 16-25 23-14 11-9 10-13 10M696 96l6-1 4 1 6 3 3 3 4 6 4 8 1 4 0 8-1 6-4 8-4 8-3 3-4 3-5 2-9 1-4 0-6-3-17-12-2-4-1-10 2-6 3-6 9-12 6-5zM137 112l3-1 4 0 12 3 4 1 14-2 6 0 10 3 4 3 2 3 5 10 3 6 0 8 0 12-2 4-2 4-12 14-2 2-2 1-4 0-9-5-15-11-9-11-3-6-2-18-2-3-6-5-1-2 0-2 1-4zM592 112l4-1 4 0 22 10 3 3 5 6 1 4 0 4 0 12-2 6-3 6-6 7-4 3-14 5-12 3-4-1-2-1-13-14-2-4-1-4-2-8 0-4 1-6 1-4 6-10 6-5zM212 262l4 0 4 1 2 3 1 4-2 6-8 14-21 24-10 10-8 6-6 3-4 1-4 0-2-4 0-6 3-10 6-10 23-28 8-6 8-5zM1031 262l9-2 14 1 20 5 12 8 8 8 4 8 1 8-1 4-2 4-5 4-9 5-16 4-8 4-6 1-6 0-8-1-16-5-4-2-7-6-6-8-5-18 0-6 2-4 2-1 8-3 8-5zM592 280l4-1 6 2 4 3 2 4 0 6-4 14-2 3-2 1-2 1-4-2-6-3-3-4-1-6-1-6 1-4 4-5zM221 376l9-1 12 0 14 4 6 3 10 12 4 6 1 4 0 6-3 8-7 12-5 6-8 5-8 4-26 6-6 1-20-1-8-2-6-2-6-5-4-4-2-3-2-5-1-4 0-4 2-6 2-6 11-14 12-11 6-3 8-2zM162 472l8-2 6 1 6 2 5 5 4 6 2 6-1 8-3 8-5 6-7 6-5 3-6 2-8 1-10 0-8-1-6-3-4-3-2-3-3-8 0-6 4-8 5-7 6-5 8-3zM1071 478l9 0 8 3 11 5 6 6 4 8 0 4 0 4-4 6-6 6-5 2-6 1-16 0-12-1-12-4-8-4-8-6-4-4-1-4 0-6 3-4 2-2 16-6zM182 564l8 0 6 1 6 3 4 4 3 4 1 4 4 16 0 6-1 4-3 8-3 4-3 3-6 4-6 2-14 1-6-2-4-2-4-5-3-5-5-14 0-12 2-8 2-4 3-4 3-2 6-3zM1051 576l5-1 6 1 16 4 7 4 9 8 3 6 1 4 0 6 0 4-2 2-6 5-12 6-6 2-6 1-28 0-12-3-6-3-5-6-4-8-1-4 1-4 2-6 5-6 14-7 6-2zM910 580l4-1 4 0 6 2 8 7 6 8 2 6 0 6-2 6-6 5-4 2-6 1-6 0-6-1-12-7-4-3-4-5-2-4 0-4 1-4 2-2 7-6zM481 712l1-8 1-4 4-10 10-28 24-30 14-16 21-19 12-9 10-9 14-10 14-13 26-27 14-15 9-12 13-13 42-34 12-14 7-11 16-22 11-13 14-10 38-25 14-10 28-25 12-13 21-28 9-10 7-10 41-34 12-15 8-7 2-4 2-8 2-4-2-4-4-4-9-6-5-1-16 1-8-1-16 1-10-1-16-4-10-5-6-4-7-8-2-6-1-4 1-4 4-12 3-5 10-8 4-3 18-5 12-2 18 1 6 2 10 5 12 9 3 4 5 11 11 17 6 6 5 7 2 2 4 0 6-4 4-5 14-24 8-20 3-6 5-5 8-6 10-6 20-9 19-10 30-18 61-47 8-6 9-5"/>
<path stroke="#7a429f" d="M1200 32l-6 8-13 16-13 14-10 14-9 14-17 25-6 12-11 27-5 8-8 10-4 3-6 4-18 8-13 5-12 6-30 20-16 12-5 6-9 14-13 11-12 12-13 17-7 8-20 19-46 37-8 8-6 8-10 14-24 36-13 18-11 12-8 7-29 19-11 10-37 42-21 22-27 24-33 31-6 7-14 22-12 15-24 22-14 11-10 11-12 9-4 2M696 100l4-1 4 1 4 1 3 3 4 4 3 6 2 4 1 6-1 6-1 4-7 13-4 4-4 3-4 1-4 1-6-1-4-2-14-11-2-4-1-8 1-4 2-6 6-9 8-7zM895 112l9-1 22 1 10 5 10 7 2 2 3 4 8 20 4 6 5 8 4 3 2 3 1 4 0 2-3 4-2 1-2 0-12-9-6-2-18 3-24 2-8-1-18-4-10-5-4-3-6-6-3-8 0-6 4-10 3-4 10-10 6-2zM594 116l6 0 6 1 14 8 3 3 3 6 1 4 0 6-2 12-3 6-4 5-4 2-12 5-12 2-4-2-10-9-3-5-2-6-1-10 2-10 5-8 5-5zM167 118l7-1 4 0 6 1 6 3 3 3 3 4 5 10 1 6 0 6-1 6-1 4-2 4-4 4-6 5-4 3-4 0-4 0-14-8-4-4-6-6-3-6-1-6 0-12 1-4 3-4 4-3 6-3zM1039 264l11-1 12 3 10 3 11 7 2 2 3 4 5 12 0 6-2 4-5 5-6 3-15 4-13 4-6 1-6-1-16-5-5-3-6-6-5-8-2-10 1-6 3-4 12-8zM208 268l4-1 2 1 2 1 1 3 0 4-2 4-6 12-18 20-9 9-10 7-4 2-4 0-2-2-1-2 1-6 3-8 5-8 20-25 8-6zM220 378l8-2 12 1 12 3 8 3 4 4 6 7 4 6 1 4-1 6-2 8-6 10-5 6-7 5-10 5-22 5-8 0-16-1-14-4-4-2-6-6-3-4-1-4-1-4 0-4 1-6 2-4 10-13 12-10 12-6zM167 474l5 0 6 1 4 3 5 6 2 6 0 6-2 6-3 6-6 6-6 4-4 2-6 1-8 1-8-1-8-3-4-3-4-5-2-6 0-4 2-4 4-7 5-5 5-3zM1066 482l10-1 6 1 8 3 8 6 3 5 2 10-1 4-4 6-4 2-4 1-18 1-10-1-13-5-8-6-5-4-1-2 0-4 1-4 2-2 10-6zM179 568l5-1 6 0 6 2 5 3 4 4 2 4 4 16 0 4 0 4-5 10-6 6-6 3-4 1-12 1-6-2-4-4-4-5-3-6-1-6-1-6 0-6 1-6 2-5 2-3 4-3zM1044 580l10-2 6 0 14 3 7 3 8 8 4 6 1 4 0 4-2 6-4 4-8 5-8 3-6 2-26 0-6-2-9-4-4-4-6-10-1-6 2-4 2-4 4-3 14-7zM911 584l5-1 6 2 8 7 4 6 1 4 0 6-3 5-4 3-4 1-4 0-10-2-9-5-5-6-2-2 0-4 3-6 5-4zM484 712l1-10 3-8 9-28 2-4 24-30 12-14 21-19 37-29 13-12 28-29 12-13 9-12 13-13 43-35 13-15 7-11 14-20 11-13 16-12 36-23 14-10 14-12 16-15 12-13 21-28 15-18 10-9 34-27 11-12 9-8 10-14 6-12 14-14 6-8 12-21 9-23 7-9 10-8 10-6 17-7 19-10 31-18 63-49 8-6 9-5"/>
<path stroke="#a548a5" d="M1200 30l-6 8-14 18-14 15-12 16-24 37-4 8-13 30-7 10-6 7-4 4-8 4-12 6-18 7-11 6-28 18-11 8-7 6-5 6-9 12-13 12-12 13-11 15-9 10-20 19-44 35-8 8-8 10-8 11-25 39-14 18-9 10-8 7-28 19-12 10-37 42-21 22-51 46-11 11-8 11-12 18-11 14-23 21-15 13-11 11-12 9-8 2M696 104l4-1 3 1 3 1 4 3 5 8 2 4 0 6-2 8-3 6-4 5-7 5-3 1-4 0-6-2-9-7-3-4-2-8 1-8 5-8 8-6zM894 116l8-2 20 1 8 3 10 6 6 6 3 8 2 8 1 10 0 2-1 2-9 6-4 1-32 4-12-2-8-2-6-3-7-4-5-5-3-5-1-6 2-6 2-4 10-12 6-3zM595 120l5 0 4 0 4 2 6 4 4 4 3 6 1 4 1 4-3 12-1 4-4 4-3 2-8 3-10 1-4 0-4-2-8-7-3-5-1-10 1-10 5-8 2-3 4-2zM171 122l5-1 4 0 4 2 4 2 6 6 4 9 0 12 0 4-2 4-2 3-4 4-4 3-4 1-6 0-8-4-5-3-8-8-3-6 0-4 0-6 3-6 11-10zM1039 268l9-1 10 1 10 3 8 5 5 4 3 6 3 10-1 4-1 2-4 4-5 3-20 6-6 1-10 0-14-5-4-2-5-5-4-6-1-6 1-6 2-4 9-8zM200 276l4-1 4 0 2 2 0 5-1 4-4 8-16 18-9 8-8 5-4 0-2-1-1-4 1-4 5-10 19-23 4-4zM218 380l10-2 10 0 12 3 8 4 8 7 5 8 1 4 0 4-1 4-2 6-6 10-5 5-8 6-10 4-18 4-8 0-16-1-12-5-4-3-4-4-3-4-2-4 0-8 2-8 7-10 12-11 8-4zM163 478l5-1 6 0 4 2 4 4 3 5 1 6-1 6-3 5-5 5-5 4-4 3-6 2-6 0-6 0-6-2-6-3-4-4-2-6 0-6 3-6 5-5 4-3zM1067 486l7-1 8 1 6 2 5 4 3 4 1 6-1 6-2 4-3 2-5 1-20 0-10-3-7-4-5-6 0-4 1-2 2-2 3-2 12-5zM185 570l5 0 4 1 4 3 2 2 3 6 4 14 1 4-2 8-2 4-4 4-4 3-4 2-8 1-4 0-4-1-4-3-4-4-4-8-1-4-1-6 2-11 2-4 2-3 4-3 6-3zM1048 582l8-1 6 1 12 2 6 3 7 7 3 6-1 6-3 6-4 4-6 4-6 2-6 1-22 0-6-2-5-3-7-6-4-6-1-4 1-5 4-4 10-7 6-2zM910 590l6 0 8 5 3 3 1 2 1 4-3 5-4 1-6 0-6-2-6-5-2-3-1-2 1-3 3-3zM487 712l1-10 11-38 24-30 13-15 20-18 39-31 39-39 10-11 13-16 11-11 29-23 15-13 12-14 21-31 11-13 18-14 45-29 20-16 13-13 12-13 23-30 15-18 8-7 35-27 19-19 12-15 10-16 14-17 14-25 8-20 2-4 5-6 9-7 10-6 20-9 19-10 27-16 9-6 33-27 20-16 12-8 11-5"/>
<path stroke="#c443a2" d="M1200 27l-7 11-15 18-14 15-14 19-22 35-17 37-5 8-7 8-5 4-8 5-14 6-13 5-11 6-28 18-12 8-7 6-6 6-11 14-22 23-11 15-9 11-22 19-44 36-6 6-8 10-10 14-5 8-18 28-14 18-11 12-8 7-29 19-11 10-37 42-21 22-49 44-11 12-8 10-13 20-8 10-6 6-19 18-15 12-11 11-12 9-2 1-11 3M693 110l3-1 4-1 6 3 3 3 2 4 2 8-1 4-1 4-4 6-7 5-6 2-6-2-6-5-2-4-2-6 1-6 3-5 5-5zM894 120l8-2 20 1 6 2 10 7 2 2 3 4 2 6 1 4 0 6-4 8-4 4-4 1-28 4-14-2-8-4-6-4-5-5-3-4 0-4 1-4 6-10 4-4 5-3zM176 126l6 1 6 4 4 5 3 6 0 10-2 6-5 5-6 3-6 0-10-5-4-3-3-4-2-6 0-4 0-4 3-5 8-6zM589 126l9-2 6 2 5 4 7 9 2 5-1 8-2 6-4 4-9 3-8 0-8-3-4-3-2-3-2-4 0-4 1-10 2-4 2-4 3-2zM1039 272l7-1 6 0 10 2 7 3 6 6 4 6 1 6 0 4-1 2-3 3-4 2-12 4-8 2-6 1-6-1-6-2-7-3-4-4-3-4-1-4 1-6 3-6 4-4zM196 282l4-1 2 0 2 2 1 3-2 6-20 22-7 5-4 1-2-2 0-2 1-4 2-4 17-21zM230 380l10 1 14 4 6 4 7 9 3 6-1 6-2 6-5 10-6 6-10 7-8 2-16 4-8 0-12-1-10-3-5-3-7-8-2-4-2-4 1-8 2-4 3-6 9-10 9-6 16-6 8-1zM161 482l7-1 4 0 4 1 2 2 3 4 1 4 0 4-2 4-2 4-4 4-4 4-5 2-9 2-6-1-4-1-6-4-3-4-1-4 1-6 5-6 4-3zM1074 490l8 1 3 1 3 2 2 3 1 3-1 4-2 3-2 1-4 2-8 0-10-1-4-1-3-2-2-4 0-2 3-4 6-4zM184 574l6 0 4 2 3 2 2 4 2 4 3 12-1 6-4 8-5 4-4 2-4 1-4 0-4-2-6-4-4-7-2-8 1-8 1-4 3-4 5-4zM1044 586l10-2 6 0 10 2 6 2 5 4 4 6 0 6-2 6-3 4-4 3-4 2-6 1-8 1-12-1-4 0-4-2-5-4-6-6-2-4-1-4 3-4 5-4 6-4zM492 712l-1-8 2-10 7-29 24-31 12-13 22-20 14-11 10-8 14-11 22-22 18-18 21-25 11-11 44-37 14-16 21-30 10-12 19-15 42-27 23-18 11-11 12-13 25-32 15-18 8-7 26-19 9-8 19-18 12-16 24-33 12-22 9-21 3-6 4-4 8-7 12-8 16-7 20-10 27-16 9-6 36-30 20-15 12-8 10-4"/>
<path stroke="#d93a99" d="M1200 25l-7 11-14 18-17 18-18 24-20 34-13 30-6 8-7 9-6 4-6 4-12 6-18 7-11 6-36 24-10 8-37 41-13 17-8 10-21 19-44 35-8 8-16 21-6 11-18 26-13 18-9 10-10 9-28 19-12 11-37 41-23 24-48 44-10 10-8 10-15 22-10 12-47 43-12 10-4 2-12 2-8 0-20 1-4-1-2-5-1-10 6-30 28-36 11-11 16-15 41-32 22-22 17-18 23-26 9-9 30-25 16-14 12-14 21-30 11-13 12-10 12-8 39-25 20-16 11-11 14-15 25-32 15-18 8-7 24-17 9-8 19-18 12-15 24-34 12-21 11-24 3-6 4-4 8-7 10-6 35-17 27-16 12-8 32-27 18-14 16-10 4-2 6-2M696 116l4 0 4 3 2 3 1 6-1 5-4 4-6 4-4 0-4-2-2-3-2-4 0-4 2-4 2-3 4-3zM896 124l8-2 14 1 6 1 4 2 8 7 3 5 2 4 0 4-1 4-2 3-2 3-4 2-18 4-6 0-12-1-6-3-4-2-5-4-3-4-1-2 0-4 3-6 4-6 4-3zM174 132l4-1 6 3 4 3 2 4 1 7-2 6-3 4-4 2-6 0-6-2-5-4-3-4 0-6 2-6 4-3zM590 132l4-1 4 0 2 1 6 4 5 6 2 4 0 4-1 4-4 4-6 2-6 0-7-2-5-4-2-6 1-6 2-6zM1042 276l4-1 6 1 8 2 5 2 4 4 2 4 1 4-1 4-11 8-8 3-6 0-6-1-4-1-4-2-3-3-2-4 0-2 0-4 2-4 4-4 5-4zM195 290l1 0 1 0-1 2-6 6-1 0 3-5zM228 382l12 1 12 4 6 4 6 7 2 4 1 6-3 8-4 8-6 7-8 5-8 3-10 2-10 2-8 0-10-3-11-4-3-3-3-5-3-8 1-8 5-8 8-9 8-6 14-5zM159 486l9-1 4 1 2 1 2 5 0 6-4 6-4 4-4 2-8 2-4 0-4-1-4-3-2-2-1-4 1-4 2-4 4-4 4-2zM181 580l5-1 4 0 2 1 5 6 3 8 0 6-2 5-4 6-6 3-6 0-4-2-6-6-2-6 0-6 3-6 3-4zM1052 588l8-1 6 1 8 3 4 3 2 4 1 4-2 6-3 4-4 3-4 2-10 1-14-2-4-1-4-4-3-3-2-4 0-4 1-2 4-4 4-3 4-1z"/>
<path stroke="#e5238a" d="M1200 22l-8 14-15 18-15 16-20 26-18 31-15 33-6 8-7 8-6 5-8 4-24 11-12 6-39 26-10 8-37 41-11 15-9 11-20 18-44 35-8 8-16 20-9 16-16 24-12 16-9 10-10 9-30 21-11 10-37 42-22 23-27 23-12 12-11 10-8 8-8 10-17 24-9 11-46 42-14 11-4 2-12 1-16 0-6-1-4-3-3-5-1-6 4-26 1-2 27-34 11-12 15-14 43-34 23-23 46-51 8-7 24-19 14-12 14-16 21-30 10-12 19-15 24-16 20-12 21-17 11-11 14-15 24-32 14-16 10-9 24-17 7-6 21-20 12-15 22-31 14-25 9-21 4-6 5-6 8-6 10-7 16-7 20-10 27-16 11-8 32-27 18-14 16-10 4-1 4-1M901 128l5-1 12 1 6 2 6 5 3 3 1 4 0 4 0 2-4 3-18 6-10-1-8-3-4-3-3-4-1-2 0-4 2-4 4-4zM174 140l4-1 2 1 1 2 1 2 0 3-3 3-5 1-2-1-2-2-1-2 1-2zM590 140l2-1 4-1 4 2 2 2 2 2 1 4-1 4-4 2-2 0-4 0-4-2-2-3-1-3 1-3zM1046 282l4 0 6 2 2 2 1 2-1 4-2 4-1 2-3 2-4 0-6-1-4-1-2-2-1-2 1-4 6-6zM228 384l10 1 10 3 7 4 5 6 3 6 1 4-3 10-4 6-5 5-8 6-8 3-12 2-8 1-8-1-10-3-6-3-5-6-3-6 0-4 1-8 4-6 7-8 8-5 14-5zM155 492l7-2 4 1 2 2 1 3-2 4-3 3-6 3-4 0-4-1-2-2 0-3 2-4zM183 586l3-1 4 1 3 4 2 4 0 4-2 4-3 2-4 2-4-1-3-1-2-2-1-4 0-2 2-5 2-3zM1053 592l7-1 4 0 6 2 4 3 1 2 1 4-1 4-2 4-3 2-4 2-10 0-10-2-6-4-2-2-1-4 2-4 6-4z"/>
<path stroke="#ec0f6c" d="M1200 19l-7 13-14 18-19 21-18 23-20 34-14 30-5 8-7 8-6 5-10 6-25 11-12 6-37 25-11 9-35 38-12 18-9 10-21 19-44 35-8 8-16 20-9 16-15 22-13 18-7 8-10 9-30 21-12 11-29 33-30 32-25 22-30 28-10 12-23 32-25 23-26 24-14 11-4 1-8 0-14 0-8-2-4-3-2-4-1-6 2-24 28-36 12-12 15-14 19-14 28-24 18-18 23-25 15-17 9-10 32-26 14-12 12-14 21-30 11-13 20-16 24-16 19-11 21-17 10-10 16-18 26-33 12-14 10-8 27-20 24-22 13-17 22-31 12-22 11-24 4-6 5-6 6-5 10-6 35-17 27-16 14-10 32-28 20-15 12-6 4-1 4 0M909 138l9 0 3 2 1 2-1 2-2 2-5 2-2 0-4-2-3-4 0-2zM218 388l6-1 6-1 10 2 10 4 5 4 3 4 2 4 0 4-1 8-2 4-3 4-8 7-6 3-8 2-10 2-6 0-8-1-8-2-5-3-4-4-2-4-1-6 0-6 3-6 5-6 6-5 6-4zM1055 598l7-2 4 1 3 3 0 4-1 2-4 2-4 1-6-1-4-2-1-2 0-2 2-2z"/>
<path stroke="#ee1250" d="M1195 10l3 1 1 1 0 4-2 6-4 8-15 20-18 19-20 25-20 34-13 28-5 8-6 7-6 6-10 6-29 13-10 6-37 24-11 10-35 38-11 16-9 11-20 18-44 35-8 7-16 20-11 19-14 22-12 16-7 8-12 11-28 19-13 12-30 34-29 31-27 23-29 28-8 9-25 35-23 21-26 23-16 13-12 1-10-1-6-2-5-3-3-4-1-4 1-22 2-3 27-35 11-11 14-13 21-16 26-22 19-19 37-41 9-10 8-7 24-19 14-12 14-16 20-28 11-14 11-9 14-10 18-12 20-11 22-18 8-8 18-21 26-33 10-12 14-12 23-16 25-23 12-15 22-32 14-24 9-20 5-8 5-6 5-5 10-6 34-17 30-18 11-8 31-27 16-12 12-8 6-2zM218 390l12-2 8 1 10 5 6 6 2 4 1 4-2 8-3 6-8 7-6 3-8 3-8 1-6 0-6-1-6-2-6-3-4-4-2-4-1-6 2-6 2-4 5-6 4-4 6-3z"/>
<path stroke="#ee1c25" d="M1188 14l6-1 2 1 1 2-2 6-4 8-15 20-18 20-20 24-20 35-6 13-6 14-6 8-5 6-7 6-8 5-32 15-10 6-34 22-14 12-32 36-13 18-8 10-19 17-47 37-6 6-15 18-4 6-7 14-12 18-15 20-7 8-11 11-28 19-14 13-8 8-21 25-30 32-28 24-29 28-8 10-24 32-22 21-24 22-18 14-4 1-14-1-8-2-4-3-3-4-1-6-1-14 1-4 21-28 9-10 10-11 14-12 21-17 26-22 19-18 35-40 9-10 8-7 26-21 14-12 12-14 21-30 13-14 10-9 12-8 20-13 20-12 20-16 10-9 18-21 26-34 10-11 12-11 24-16 26-24 12-16 22-32 12-21 11-23 3-6 6-7 6-5 10-6 35-18 27-16 13-10 33-29 16-12zM220 392l6-1 6 0 6 1 6 3 4 3 4 4 1 4 0 4 0 4-3 6-4 4-4 3-6 3-8 3-6 0-6 0-8-2-8-4-4-5-1-6 3-8 5-8 7-4z"/>
<path stroke="#f15a22" d="M1184 18l6-2 2 0 1 2 0 4-4 8-14 20-17 18-20 23-9 17-11 17-13 29-6 8-5 6-6 5-8 6-31 15-11 6-36 24-14 12-20 21-11 13-12 18-10 12-17 15-48 37-6 5-16 20-11 21-12 18-12 16-9 11-12 12-28 19-13 12-43 48-16 17-29 25-27 26-8 9-24 33-6 6-16 15-24 21-20 16-4 1-12-2-6-2-4-3-3-4-1-4-1-12 0-4 1-2 20-26 8-10 10-10 14-13 24-19 26-22 16-16 35-40 11-11 8-8 27-21 13-12 12-13 20-29 12-14 10-9 14-10 22-14 17-9 23-18 6-6 20-24 24-32 10-11 12-10 25-17 25-24 13-16 21-31 12-20 13-27 4-6 5-6 6-5 8-6 35-17 27-16 14-11 32-28 14-11zM224 394l10 0 6 2 4 3 3 3 2 4 1 4-1 4-2 4-3 4-4 3-6 3-12 3-6 0-6-2-5-3-4-4-2-6 1-6 4-6 4-4 8-4z"/>
<path stroke="#f6861f" d="M1185 20l3 0 2 2-1 4-2 4-13 19-30 31-8 10-9 18-11 18-7 16-6 12-4 6-6 6-6 6-7 5-35 17-13 8-31 20-17 14-18 20-10 12-13 20-9 10-16 14-36 28-15 10-5 5-16 21-11 22-12 18-12 16-8 10-13 12-27 18-13 12-8 9-36 41-14 15-32 27-26 25-6 7-27 36-19 19-24 21-20 16-4 1-10-2-6-2-4-3-3-4-1-4-2-10 1-4 23-30 14-16 18-16 20-16 26-22 18-17 33-39 11-11 8-7 27-22 15-14 12-13 20-29 13-14 15-12 26-18 20-10 26-20 4-4 9-12 13-15 23-31 9-10 12-11 24-15 28-26 32-47 10-17 14-28 5-8 5-6 6-5 10-6 31-15 27-16 16-12 30-28 16-11zM219 398l7-1 6 0 6 3 4 2 3 4 0 4-1 6-3 4-5 4-4 1-10 3-8-1-4-2-4-3-1-2-1-4 0-4 1-4 5-6 4-2z"/>
<path stroke="#faa21b" d="M1178 26l4-2 2 0 1 2-1 4-7 12-5 7-30 31-8 9-8 17-12 19-7 17-6 10-3 6-6 7-6 5-6 4-42 22-38 24-16 11-23 25-9 12-10 18-6 7-6 6-14 12-18 13-18 13-8 5-4 1-2-1 1-4 3-6 12-15 22-31 7-8 7-7 8-6 16-9 8-6 28-25 30-46 12-21 13-26 5-8 5-6 5-4 10-7 31-15 31-18 12-10 30-28zM851 356l2 0 0 2-10 16-6 16-6 10-15 22-12 16-14 14-27 18-15 14-8 8-24 28-16 18-14 14-29 24-25 25-6 7-24 32-6 7-38 35-22 17-4 0-4-1-8-3-4-3-3-4-2-6-1-4 0-4 23-30 16-18 17-16 26-20 21-18 17-17 40-46 12-11 28-22 15-14 11-13 20-29 14-15 16-12 24-16 21-9zM218 402l4-1 6 0 5 1 4 2 2 2 1 4-2 6-4 4-8 4-6 0-6-2-4-4-1-2 0-4 1-4 2-2z"/>
<path stroke="#fdb515" d="M1173 32l4 0 0 2-1 4-2 4-6 8-28 28-7 8-3 5-7 15-11 19-11 23-4 8-7 8-6 5-8 5-35 18-37 22-12 6-2 1-2-1 1-4 5-10 24-40 17-34 4-6 5-6 6-5 10-6 29-15 33-18 12-10 16-16 13-12 5-4zM942 260l6-1 2 0 1 1-4 10-3 8-5 8-5 6-12 11-10 8-26 15-2 1-2-1 12-22 10-14 6-8 8-8 8-6 8-5zM823 374l9-2 4 1 1 5-2 10-5 10-10 16-14 18-7 8-11 11-28 19-14 12-8 9-22 27-16 18-14 13-32 27-22 21-6 7-28 38-22 21-20 17-16 13-6 4-4 0-4-1-8-6-3-4-2-4-1-4 0-4 23-30 15-16 16-15 32-25 16-14 18-18 38-44 14-13 29-23 15-14 10-12 19-28 13-14 14-11 26-17zM219 408l5-2 6 2 1 2 1 2-1 2-2 2-3 2-4 1-3-1-2-2-1-2 1-4z"/>
<path stroke="#ffc20e" d="M1168 38l3 0 0 2-3 6-12 12-21 18-5 6-8 20-10 18-11 24-6 10-7 8-8 7-10 6-31 15-29 16-6 3-2 0-2-1 0-2 2-6 20-36 11-24 6-10 7-9 8-6 10-6 26-13 16-9 21-9 7-6 20-22 10-9zM933 268l5-1 3 1 1 2-1 4-1 4-7 10-9 9-12 9-8 4-4 1-1-1 0-4 2-6 9-13 11-11 7-5zM820 378l8-1 2 1 2 2 0 4-2 8-3 6-13 20-10 14-8 8-12 11-28 19-10 9-10 10-25 31-13 15-14 13-31 26-23 22-6 7-28 37-22 22-20 17-20 15-2 1-4 0-4-2-4-3-3-4-3-4 0-4 0-2 21-28 17-19 18-17 29-22 17-14 18-18 30-36 8-9 14-13 28-22 16-14 10-12 19-28 12-14 11-9 14-9 16-11z"/>
<path stroke="#ffc20e" d="M1114 88l4 0 2 1 1 1 0 4-1 6-10 19-13 27-5 8-4 5-10 9-12 7-46 21-4 2-4 0-1-2 0-2 5-13 8-15 12-26 6-10 5-6 7-6 10-7 43-21zM926 278l4-1 2 0 1 1-1 2-2 5-4 4-6 5-6 4-2 0-1-2 1-2 2-4 6-7zM820 382l4 0 2 2 1 4-1 6-15 24-9 12-8 9-12 10-28 18-10 9-10 11-24 31-14 16-14 13-34 27-18 17-8 10-26 36-6 6-16 15-22 19-18 13-4 2-2 0-4-1-3-3-4-6 0-2 0-2 15-22 22-26 18-16 37-28 10-8 17-18 27-34 11-12 14-12 31-24 15-14 8-9 18-29 7-8 6-6 11-9 16-11 14-8z"/>
<path stroke="#7ac143" d="M1105 96l5-2 2 0 2 2 0 4-17 40-5 10-5 6-5 5-6 5-14 8-28 11-8 3-4 0-1-2 0-2 1-4 11-28 8-16 7-10 7-6 9-6 18-8zM812 390l6-1 2 1 0 2-1 4-8 16-10 14-5 7-9 9-9 6-22 12-8 4-2 0-1-2 1-4 9-18 6-10 8-10 9-9 10-7 16-10zM733 474l3-1 0 1-27 40-10 12-17 17-36 26-17 15-8 10-21 32-12 15-20 19-20 16-14 8-6 2-4 0-2-2 1-4 2-6 4-8 14-18 15-18 18-16 26-18 14-9 10-8 14-16 27-37 7-8 8-8 16-12z"/>
</g>
<g transform="translate(670.0,402.2) scale(.5)" clip-path="url(#cp)" fill="none" stroke-width="2.4" stroke-linejoin="round">
<path stroke="#2f6db6" d="M159 74l1-2 2 0 5 6 5 2 6 0 8-2 12 0 4 4 4 2 1 2 1 6 2 4 4 3 10 4 3 3 1 2 0 6 1 10 1 3 4 7 0 2-4 4-2 6 1 8 3 6 0 2-7 12-1 10-4 8-1 8-9 12-4 4-18 8-6 4-4 2-4-2-6-5-8-3-9-8-7-3-9-7-1-2 0-2 2-6 0-2-2-8-2-4-4-4-2-4 1-6-2-8-1-14 3-18 0-6 1-2 4-4 2-9 6-6 2-5 2-8 6-5 6-2zM586 96l8 0 8-1 6 0 13 3 11 6 1 2 0 6 1 2 2 2 10 5 10 2 14 0 11-5 2-2 2-8 10-6 3-4 8 2 8-2 2 0 12 6 7 6 9 10-1 8 1 12 2 10-4 8-2 10 1 6-1 3-5 7-8 20-3 3-4 1-8 2-4 3-4 2-12 3-4 0-3-2-3-5-6-3-14-10-1-2-2-8-3-6 0-8-1-2-3-2-4-1-4 0-3 1-11 15-10 9-3 4-3 2-2 1-8-1-6 2-4-1-10-7-7-4-5-4-6-4-3-6-6-8-4-8 0-6-1-8 2-8 0-8 3-6 14-18 1-1 4-2 8-6zM1200 96l-2 1-4 0-4 2-8 10-6 5-1 6-1 2-8 2-6 5-5 7-7 5-6 19-6 4-2 2-2 4-1 6 0 2-3 2-6 1-8 7-5 6-6 6-1 2 0 6-2 4-2 0-4-5-2 1-5 2-5 3-5 1 0 4-2 6 0 2 1 1 2 0 4-1 6-6 8-2 4-3 8-1 16 5 12 9 2 4 4 16 0 4-1 2-9 9-4 2-12 5-4 2 0 2 5 10 0 4-1 6 2 12-1 14-5 11-2 2-7 3-2 2-2 4-9 6-8 2-10 1-4 1-4 2-4 4-2 1-8 2-18-3-4-2-4-4-6-3-4-5-2-2-6-2-2-2-4-8-7-8-3-6-3-4-2-6-1-1-2-1-4 2-4 5-6 5-9 10-3 8-4 6 1 2 2 4-1 3-10 6-6 2-1 1-1 4-2 2-6 0-8 2-12 11-8 3-4 2-2 6 0 6-2 8-2 2-6 1-2 1-4 5-5 7-4 4-1 2-1 4 1 8-4 5-3 5-3 2-6 3-4 6-2 1-2-1-2 2-2 5-2 3-6 2-12 9-4 8-2 1-4 1-6-4-2 0-4 0-3 2-8 10-17 14-7 8-9 16-14 10-3 6-3 3-4 9-5 4-3 4 1 6-1 2-2 1-4-2-4 1-4 1-2 2-1 3 0 2 3 6 0 2 0 2-2 2-2 1-8-4-4 1-3 4-3 3-12 5-2 4-1 6-5 8-2 2-6 1-13 13-3 8-2 6-2 2-6 2-1 2-1 4-2 2-4-1-2 0-13 9-2 2-4 6-1 8-2 4-6 5-2 3 0 2 2 6M1066 231l-1 1-1 2 0 10 0 2 2 1 2 0 2-1 3-2 1-2 1-2-1-2-5-4-1-3zM598 248l4-1 4 1 5 4 6 6 8 6 5 8 2 9 4 3 1 2 2 10-3 6-1 10-4 8-3 8-3 4-11 12-2 2-8 4-10 1-8 2-2 0-2-2-4-8-8-5-9-10-2-8-3-4-1-4 2-10-1-6 0-10 2-4 3-8 5-8 2-2 6-3 4-4zM206 250l10-1 12 3 8-1 3 3 1 6 0 6 2 6-1 4-3 8-4 4-5 10-15 10-6 8-12 13-10 8-9 5-9 9-12 5-4 3-4 1-6 1-10-1-6-2 0-2 5-8 1-10 4-8 10-14 7-12 5-6 4-6 2-2 6-4 3-4 1-4-1-8 3-4 6-7 4-2 7-1 7-4zM225 358l9-1 6 1 8 4 12 5 6 5 10 6 7 10 5 8 4 4 4 16-1 4-7 8-6 15-8 3-8 8-4 2-12 1-10 6-6 2-6 0-3 1-1 1-1 3 0 4 1 2 4 4 1 2-3 8 0 10-3 8 1 12-2 4-4 4-10 4-6 6-4 2-16 4-8 0-14-3-8-2-10-1-10-3-8-6-4-6-5-5-2-8-3-6 0-8-3-6-1-4 0-2 9-14 1-7 2-1 6-2 8-7 6-4 2-3 0-18-5-10 0-2 5-4 4-5 4-3 4-6 1-2 9-7 3-3 2-6 2-2 9-3 9-5 5-5 4-2 8-2zM1019 458l5 0 12 2 8-3 2 0 14 4 10-1 4 1 4 2 6 5 2 0 6 0 2 2 8 7 4 9 7 8 1 4-1 8 1 8 0 2-7 6-4 6-3 2-8 3-2 2-3 7-4 6 0 6-3 6 0 2 4 6 2 2 6 2 3 2 13 14 2 2 0 2-2 10-1 4-3 6-5 6-3 4-4 3-6 3-10 6-18 3-22 0-8-5-10-1-11-7-2-2-6-10-3-2-10-1-8 0-12-1-8 1-12 0-4 1-4 9-10 9-4 3-7 1-3 1-4 5-8 4-4 1-8-1-8-2-6 0-8-2-5-2-6-8-3-6-2-3-6-5-4-6-4-3-2-4-1-5 1-4 5-6 3-8 2-3 10-3 4-4 2-2 12 0 16-9 8 1 22 1 2 0 21 15 1 4 2 8 1 2 3 2 8 1 14 0 22 0 5-1 4-6 9-5 7-7 3-1 8-1 14-4 10-3 2-1 2-4 0-4 0-10-2-4-8-1-6-4-10 0-10-5-6-1-4-2-2-1-7-8-6-8-8-8-4-8 0-4 1-6 0-8 0-2 10-8 10-6 4-1zM180 558l4-1 4 0 8 2 8 0 1 1 3 5 2 3 8 3 3 3 7 9 2 3 0 2 0 2-4 4 0 2 2 10-1 6 0 4-1 3-8 9-8 2-2 1-8 8-4 2-6 1-4 11-3 3 1 8 2 8 0 4-4 4-4 2-8 1-3-1-2-2-2-4 0-4 4-14-2-10-1-9-2-3-6-3-8-7-3-4-1-4-1-8-3-6-1-8 5-12 3-4 13-11 14-9zM445 712l2-12 5-15 2-2 9-3 1-2 4-14 1-2 9-2 4-3 2-3 2-6 3-4 3-2 4-1 4-7 2-1 6-3 8-10 6-11 10-6 3-3 6-10 5-4 5-2 2-2 0-6 3-4 8-4 6 0 2-2 2-4-1-10 3-6 2-2 10-2 4-6 4-3 2 0 6 0 1-1 6-8 1-2 0-6 1-4 1-6 1-2 15-6 2-2 2-4 2-1 4-1 3-2 9-13 2-2 8-3 2-1 5-13 3-5 2-3 4-1 10 1 4 0 4-4 4-6 10-4 2-6 6-5 0-5 1-2 3-3 5-9 0-2-1-2-2-2-1-2 1-2 4-5 2-1 2 0 8 2 2-2 2-8 2-3 2-1 4 0 6-3 4 1 2-1 5-5 1-2-1-4 1-1 2 0 6 2 2 0 5-1 3-2 3-10 5-7 4-9 4-5 2-2 6 0 4-2 4-3 8-10 8-4 8-13 1-7 1-2 6-6 14-4 6-10 2-12 2-1 4 1 2-1 1-3 0-6 0-2 2-2 5-2 4-6 6-3 2-3 5-8 0-6-1-2-2-1-10 0-8-2-8 2-10-4-8-2-3-1-1-2-4-7-5-5-7-12-9-20 0-2 1-8 0-4 6-6 1-2 1-10-1-8 1-2 4-2 10-5 2-3 1-4 1-2 12-4 8-1 6 1 2 0 6-4 4-1 4 0 8 1 6-1 2 1 8 7 4 1 4-2 4 6 8 4 2 2 5 6 7 4 1 8 2 6 1 10 2 2 6 0 6 3 4 0 2-1 4-3 4-9 8-9 2-1 6-1 2-1 2-2 1-2-1-5 2-1 4-1 2-1 2-2 3-8 9-4 5-6 13-6 10-13 2-1 6 0 4-1 9-5 3-2 2-4 0-4-1-6 1-2 2-2 8 0 4-2 3-4 1-7 2-3 4-2 4-5 7-3 4-6 9-3 6-6 3-3"/>
<path stroke="#2e5aab" d="M159 78l3 0 4 2 6 2 6 0 8-1 8 1 2 1 7 5 6 10 11 8 4 4 1 6 1 10 2 8-2 18 2 10-5 12-1 10-4 8-2 8-10 12-4 4-24 9-2 0-8-5-10-6-5-4-7-3-8-7-1-2 1-8-4-12-4-6-1-2 0-6-2-8 0-8-1-8 1-4 4-14 5-8 0-6 0-3 1-1 5-4 4-14 1-2 3-2zM1200 89l-8 5-10 11-8 5-4 9-12 6-2 2-3 7-7 6-3 8-4 8-7 6-4 8 0 6-8 3-7 5-2 2-3 6-10 8-6 2-6 5-9 3-3 2-1 2-1 6-1 2-7 6-3 4-1 4 2 10 2 3 4 1 4-2 4-4 1-2 0-4-1-4 0-2 3-2 5-2 7-6 13-5 6-1 12 4 12 8 2 2 5 18-1 4-1 2-5 5-4 3-14 6-7 2-2 2-1 2 1 2 5 5 2 3 0 2-1 8 2 10 0 14-5 10-2 2-9 6-5 6-8 5-6 2-12 1-5 2-5 4-4 2-8 0-13-2-12-8-5-6-10-7-10-15-3-6-3-5-2-5-4-6-6 4-3 2-3 4-8 6-7 10-3 9-6 6-10 5-3 2-6 8-4 6-9 5-8 7-12 6-3 4-3 6-1 2-9 6-6 11-4 9-6 6-2 8-3 6-2 6-1 1-8 3-7 4-2 2-3 9-8 5-5 6-5 4-4 6-2 1-2 0-4-2-4 0-6 2-4 3-7 8-10 8-13 13-9 15-13 12-8 9-4 8-10 9-2 4-3 2-8 2-3 2-1 4 0 8-1 1-6 0-4 2-6 6-8 5-5 4-2 4-2 4-6 4-5 4-2 3-4 7-8 8-7 12-5 4-4 4-6 4-6 6-8 5-4 5-4 10-9 10-3 6-4 1-3 3M598 98l4-1 8 1 8 2 8 4 3 2 2 8 3 3 20 9 16-1 4-1 10-6 4-7 2-3 10-5 6 0 8-3 8 3 5 3 7 6 6 8 2 22 1 8-4 8-1 6-2 6 0 6-11 26-2 2-3 1-8 1-8 6-12 4-2 0-2-1-4-5-20-14-3-14 0-8-1-2-6-3-6-2-4 0-4 1-12 16-6 5-12 7-6 1-6 2-2 0-4-2-15-9-9-8-2-6-7-6-3-6-2-16 2-8 0-8 1-4 3-4 7-8 7-7 8-6 4-2 4-1 4 1zM599 250l3-1 4 1 10 10 6 5 6 9 2 8 5 6 2 6-3 6-2 12-5 10-2 6-3 4-10 10-8 5-2 1-6 0-10 2-2-2-4-7-8-5-4-4-3-4 0-4 0-8-1-3-3-3-1-2 0-6-1-8 2-10 1-8 2-3 6-6 10-8 12-5zM208 252l10-1 10 2 6 1 3 2 1 4 0 6 2 8-4 8-4 6-3 8-3 3-14 9-6 8-12 13-9 7-10 6-8 8-19 8-8 0-7-2-1-2 2-12 3-12 9-12 9-14 9-12 6-5 3-3 2-4 0-8 1-4 5-6 3-2 8-1 8-5zM219 360l13-2 6 1 10 5 10 4 16 11 7 9 8 14 4 14 0 4-6 6-6 14-8 4-9 8-4 2-10 2-12 6-12 1-2 1-3 2-1 4-1 4 1 3 4 5 0 6 1 8-4 10-1 16-3 4-9 3-10 9-4 1-8 1-6 1-6 0-10-2-18-2-12-3-8-6-9-12-2-8-3-6 0-8-3-6-1-2 1-2 5-8 4-4 2-6 4-2 16-14 2-2 1-4-1-6 2-6 0-4-4-8 0-2 5-8 7-4 1-6 1-2 10-8 6-10 10-4 16-11zM1011 460l13 0 10 2 16-1 12 2 8-1 4 1 4 2 6 4 8 2 2 1 6 6 5 10 5 6 1 4 0 16-1 2-6 4-6 8-8 3-2 2-2 8-4 5-2 7-4 5 0 2 2 4 5 6 11 5 8 9 4 6 1 4-2 12-3 6-8 10-16 9-6 2-16 3-18-2-8-3-10-2-3-1-7-6-7-10-3-2-14-3-8 1-5 0-7-3-8 3-12-1-5 1-2 2-4 8-9 9-4 2-6 1-6 2-10 5-4 0-6 2-6-3-8 1-7-1-4-2-5-7-6-10-15-17-1-2 0-2 4-4 4-6 10-10 4-2 4-3 10-2 14-8 4-1 12 0 18 2 6 4 12 9 2 3 1 8 2 4 5 1 19 1 5 1 24-1 3-2 3-4 2-2 8-4 4-4 4-3 22-5 13-4 3-6 1-8-1-8-3-4-3-1-4 1-8-5-10 0-9-5-9-2-9-10-7-8-8-8-2-4-1-4 2-8-1-8 1-2 7-5 10-7zM183 560l5 0 14 2 6 7 8 4 3 3 7 10 1 2-3 6 1 12-3 12-6 8-9 4-7 7-4 2-6 0-1 1-3 9-8 5-1 2 0 2 5 4 3 10-1 4-4 4-8 0-4-2-2-2 0-2 2-6-1-6 2-6-1-4-2-4-1-10-1-2-8-5-5-5-3-4-2-6 1-6-4-8 0-6 0-4 4-8 3-4 6-6 4-3 10-5 6-4zM448 712l3-14 3-10 2-2 2-1 6-1 3-2 1-2 1-8 2-6 1-1 6-1 6-6 8-10 6-4 4-7 8-6 7-9 9-12 8-6 12-15 9-5 1-2 2-6 2-2 8-2 6-4 3-6-1-6 0-2 2-2 4-1 6 0 3-1 4-4 1-6 1-2 3-2 4 0 3-2 7-8 4-8-1-10 1-2 7-4 9-4 4-4 7-4 3-4 4-7 2-3 4-2 6 0 3-2 5-6 1-2 0-6 2-4 2-2 3-1 2 1 4 4 2-1 23-19 5-6 4-4 4-7 3-9 4-8 1-6 6 0 2-1 2-1 6-7 6-2 4-4 7-3 4-6 3-2 17-8 2-2 1-4 5-6 2-4 3-6 2-6 2-3 2-1 6-1 6-3 8-2 2-1 3-7 7-8 2-4 4-6 2-8 2-2 4-3 6-2 8-3 4-6 3-4 3-8 4-2 4-4 4-8 4-3 2-7 4-4 5-8 5-6 0-10-1-2-1-1-3-1-9 1-12-3-6 2-2-1-8-3-6-1-2-1-2-2-4-7-6-7-6-10-3-8-5-12 2-12 4-6 2-12 0-6 1-2 1-1 4-3 7-2 7-9 6-3 8-2 10 1 10-5 10 1 8 0 18 10 10 7 6 6 7 4 1 3 2 9 1 10 2 4 3 1 6 1 8 4 4 1 2-1 3-4 3-2 2-2 1-6 1-3 2-1 4-1 1-1 2-4 7-5 4-7 7-6 5-8 7-4 7-7 10-5 10-10 10-4 8-4 6-4 4-6 3-8 9-4 7-10 5-5 4-6 6-3 6-6 18-12 3-4"/>
<path stroke="#3450a6" d="M1200 79l-2 5-6 3-2 2-9 13-9 6-4 6-5 4-9 5-2 2-3 7-5 5-3 9-3 7-2 2-6 4-9 15-5 5-7 5-5 8-6 5-8 3-6 5-11 5-4 4-13 19-2 1-7 2-3 2-2 2-1 4 1 2 4 1 2-1 6-5 2 1 2 3 2 5 2 2 2 1 4 1 5-2 5-6 3-6 1-7 4-2 6-7 12-5 6-1 12 3 11 9 1 6 4 10 0 4-1 2-7 7-6 2-8 5-8 1-7 5 0 2 2 2 7 8 0 2 0 8 2 10 0 12-7 12-7 6-6 6-6 4-4 2-12 2-7 2-9 4-10 1-10-2-4-2-7-5-6-6-8-6-5-6-7-12-2-10-5-8 0-4 0-2 3-4-3-2-2 0-4 0-4 2-2 3-2 7-6 6-8 6-2 2-5 8-3 10-2 3-4 3-6 2-8 6-7 8-5 7-9 5-5 4-4 1-8 6-3 3-6 10-9 6-2 4-3 8-3 6-4 4-4 5-3 9-5 9-2 1-8 2-4 6-4 8-8 5-5 9-3 2-6 4-6-1-10 5-4 4-10 10-8 6-13 14-9 13-6 5-4 5-11 11-3 6-4 5-8 6-4 5-6 2-4 2-2 2-5 10-9 6-3 4-14 12-11 10-7 8-4 8-8 8-6 10-12 10-8 8-7 6-6 6-7 12-15 14-3 4M158 82l4 0 12 3 12 0 8 2 4 2 4 3 5 8 7 5 5 5 2 4 2 4 0 8 2 10-1 18 0 6-1 8-3 8 0 8-4 8-3 8-11 12-2 2-14 5-10 1-6-1-10-7-6-5-6-3-5-4-1-2-2-8-3-10-6-12-2-12 1-6-1-10 0-6 4-10 5-8 1-8 1-2 4-4 1-2 4-12 4-4zM602 100l6 0 6 1 4 2 7 5 4 8 3 3 12 5 6 5 6 1 8 0 12-4 9-6 8-10 5-3 16-3 8 1 4 3 7 8 3 6 5 26-4 8-1 8-7 20-8 16-3 2-8 2-8 6-8 2-4 0-4-4-15-10-4-4-3-12 0-9-1-3-9-3-6-2-6 1-4 1-6 8-8 9-4 3-10 4-8 2-4 2-2 0-4-1-14-7-8-9-4-7-4-4-2-3-4-18 2-8 0-8 2-4 8-10 14-12 6-3 8 1zM212 254l6-1 4 0 10 4 2 1 1 2 2 10-1 4-8 20-1 2-15 11-10 11-10 10-8 7-11 7-7 6-16 7-8 0-4-1-2-3-1-5 3-12 1-4 25-36 10-9 2-5 1-8 1-3 6-5 8-3 8-5 4-1zM598 254l4-1 4 1 7 8 5 4 7 10 3 6 5 8 0 4-1 4-1 8-1 6-6 10-3 8-5 5-12 9-4 1-12 1-2-1-6-7-8-5-3-5-1-4 0-8-4-8-1-4 0-14 1-6 0-6 2-4 16-14 12-4zM216 362l6-1 10-1 6 1 20 8 8 6 8 7 7 8 5 12 4 12 0 4-5 8-6 12-7 4-10 8-6 3-8 2-8 4-17 3-4 2-3 4-1 2 0 4 5 10 2 11-6 23 0 4-1 2-9 4-8 8-4 1-8 0-8 2-4 0-10-2-18-2-10-3-10-8-7-10-4-12-1-8-2-6-1-2 1-2 4-6 6-4 2-6 3-4 14-12 4-4 1-4 0-6 2-8-1-8 0-4 1-4 6-6 2-8 2-2 7-6 7-10 11-6 11-8 4-2zM1011 462l11 0 12 3 10-1 8-1 10 2 8-1 4 1 4 2 4 3 8 3 4 3 5 6 3 8 6 6 0 2 0 12-1 4-8 6-2 4-2 2-7 3-2 2-1 7-1 2-5 4-2 8-6 6 0 2 5 7 6 5 8 3 4 3 7 8 3 4 0 4-1 8-1 6-2 4-5 6-3 3-14 8-8 2-16 3-16-2-8-3-8-1-4-2-5-4-9-13-2-1-10-1-3-1-3-3-2 0-8 1-2 0-5-4 3-1 8 0 6-2 5-3 11-2 5-6 7-4 8-7 16-4 20-5 2-2 5-4 0-2-1-4-1-12-1-2-4-4-2-1-6 0-8-4-8 0-9-5-9-2-10-10-15-18-1-4 2-10-1-6 1-1 6-5 8-6zM178 564l4-1 6-1 10 1 2 1 8 8 8 5 3 3 3 8 1 14-1 4-5 14-2 4-9 5-8 7-2 1-6-1-2 1-2 5-2 3-8 4-2 1-2-1-2-3-4-10-1-2-8-4-3-4-3-4-1-4-1-8-3-8 0-6 1-6 2-6 7-8 4-3 11-5zM887 564l5-1 12-1 11 4 7 0 4 2 9 6 3 3 1 5 1 8 1 2 11 0 4 2 1 6 0 2-3 2-4 2-12 0-2 2-3 8-7 9-4 2-6 1-16 5-8 1-4-1-6-1-6 1-4-1-3-2-3-4-6-6-12-14-2-6 0-4 5-10 5-6 10-6 8-2 8-6zM170 660l2-1 2 0 4 2 2 1 1 2 0 2-3 2-4 0-2-1-4-5zM451 712l4-14 3-8 2-1 6-2 2-1 4-6 2-6 6-7 4-5 16-17 4-7 7-6 17-20 8-8 12-13 7-5 7-8 6-3 7-5 5-6 4-6 2-2 6-3 4-3 2-4 2-4 2-2 4-1 2-2 3-5 11-12 3-12 2-4 8-4 15-10 3-4 3-6 2-1 4 0 4-1 7-8 7-6 8-5 24-21 10-12 5-8 4-8 6-8 11-9 6-3 6-6 6-3 6-7 2-2 16-8 2-2 4-5 4-3 2-2 2-5 6-4 4-3 0-2 0-4 3-2 13-4 4-2 4-10 5-4 2-6 3-6 4-9 4-2 6 0 6-4 10-5 3-4 7-13 6-7 5-10 3-8 4-7 7-9 1-4-1-4-1-6-2-3-4-2-10 1-10-3-10 1-6-3-6-2-2-1-4-6-8-7-7-11-5-16-1-4 2-8 3-8 3-16 1-3 2-2 8-2 8-9 6-3 8-2 8 1 12-4 10 1 10 2 10 5 12 8 8 8 4 2 2 4 1 6 0 10 2 4 2 2 8 4 3 4 2 2 10-2 4-1 4-1 4-4 5-10 5-4 3-6 10-14 11-13 6-4 6-5 11-6 9-9 12-6 12-7 4-4 6-8 8-6 4-6 6-6 6-8 6-4 10-9 13-9 6-6"/>
<path stroke="#364ca3" d="M1200 76l-4 6-8 7-8 11-10 7-8 9-9 6-10 14-3 10-3 4-7 8-14 18-8 8-5 8-5 3-8 4-6 5-12 6-9 8-4 6-5 5-12 7-6 5-15 11-12 10-7 8-10 4-4 3-11 11-3 8-3 4-12 12-5 7-4 9-2 3-12 8-18 17-4 1-8 1-4 3-5 9-23 24-5 12-9 10-5 12-3 5-4 3-6 2-3 2-5 12-2 3-8 5-6 8-2 2-11 4-11 7-12 12-9 7-11 12-7 8-25 28-6 8-9 8-5 5-8 5-9 12-31 26-31 40-11 9-16 17-20 24-10 8-3 2M453 712l3-7 8-11 6-7 13-21 4-6 23-25 17-21 22-22 25-20 8-8 5-6 7-6 8-9 6-5 6-8 8-8 9-16 19-14 8-7 8-5 9-10 13-10 18-16 8-8 8-9 16-23 4-4 14-10 4-4 8-6 7-6 17-11 14-13 8-7 7-9 13-6 2-3 3-7 5-5 4-9 6-9 8-4 6-5 10-6 10-12 9-14 3-3 12-9 11-6 9-7 4-7 7-8 13-14 2-2 4-9 9-11 3-3 8-7 12-14 15-26 19-23 12-10 12-7 6-6 15-8 12-8 9-10 8-6 17-20 17-15 12-9 7-6"/>
<path stroke="#3949a0" d="M1200 74l-6 8-6 5-10 13-10 7-8 9-6 3-2 2-10 14-3 9-3 6-7 6-3 6-6 6-5 8-7 6-7 10-3 2-8 4-6 5-11 5-11 8-9 12-13 7-4 5-6 4-5 6 1 2 1 2 3 2 3 0 5-3 6-1 16 6 4 0 8 0 3-2 6-6 7-10 3-8 3-4 4-4 8-2 4-1 10 3 2 1 5 13 5 4 1 2 1 2 0 2-2 2-6 5-10 6-17 1-3 3-2 1-1 2 4 6 9 10 2 4 0 8 1 8 0 10-3 8-5 6-11 10-7 4-5 2-8 2-16 5-10 0-10-2-6-3-15-12-5-6-3-4-5-10-1-10-3-6 0-2 4-4 2-4 0-2-1-2-3-2-8 0-8 1-4 2-4 5-2 6-1 2-11 8-6 8-2 3-2 8-2 3-10 7-8 7-7 6-7 7-2 1-4-1-4 0-4 2-2 1-1 2-1 6-2 2-7 6-9 12-6 4-2 3-2 4-2 8-2 3-6 4-4 8-2 8-1 2-3 2-8 2-4 3-2 3-2 8-2 4-11 8-5 8-10 3-5 3-9 8-10 10-10 8-12 12-6 8-8 8-6 8-10 10-6 9-4 3-6 4-4 5-9 5-3 3-4 7-2 3-7 5-10 10-15 13-11 13-5 8-7 8-7 10-10 8-7 8-11 10-13 16-17 16-6 2M157 86l5-1 4 0 8 3 8 1 14 3 2 2 8 8 10 9 2 3 2 4 0 8 2 10 1 4-2 22-4 14 0 8-4 8-2 6-3 4-10 8-12 6-10 0-4-1-4-3-6-2-15-12-3-4-10-26-2-10 1-8-1-12 1-6 3-7 5-9 2-8 4-6 4-8 4-6zM589 104l7 0 10-2 8 2 4 2 4 4 6 8 2 2 12 6 6 6 4 2 14 2 2-1 4-4 12-7 4-4 5-6 3-2 18-5 6 1 4 1 3 3 6 10 4 18 1 6-1 4-2 6-1 8-7 18-7 14-4 3-6 3-6 4-4 1-8 0-8-4-10-6-5-5-2-8 0-12-1-4-2-2-8-2-4-3-2 0-8 2-4 1-4 4-4 5-6 3-7 8-5 3-18 4-2-1-12-5-8-9-4-6-4-6-5-14-1-6 2-12 3-6 11-13 10-8zM216 256l6 0 6 2 2 2 3 8 0 6-5 16-3 4-15 13-9 11-9 8-9 8-17 12-6 3-10 3-4 0-6-2-1-2-1-4 2-10 1-4 24-34 10-10 2-4 2-8 1-2 4-4 16-10 4-1zM597 258l5-1 2 1 6 6 8 7 5 7 6 12 0 2-1 6 1 8-2 8-8 14-3 4-14 10-4 0-8 0-2 0-6-6-6-4-3-4-2-4-2-10-3-8-1-6 2-20 2-4 15-14zM214 364l10-2 10 0 4 1 18 7 8 5 12 12 5 7 2 6 2 6 2 8-1 4-8 18-18 13-4 2-10 3-6 3-10 1-8 2-5 2-5 4-1 2 0 4 4 12 3 12-1 12-5 12-2 3-6 3-8 7-2 1-14 2-6 0-10-1-14-1-8-2-4-2-10-8-7-10-4-12 0-8-2-6 1-2 2-3 6-5 5-10 9-7 10-11 2-4 0-22 6-11 3-9 1-2 7-6 7-10 2-2 13-8 5-4 4-2zM1013 464l9 0 12 3 18-2 10 2 10 0 4 2 6 4 8 3 4 4 3 6 3 7 4 5 1 6-1 6-2 3-6 5-4 5-8 5-1 2-1 5-6 6-4 7-2 1-2-2-1-3-2-6-7-6-8 0-6-2-8-1-10-5-8-2-2-1-8-7-5-6-6-10-1-4-2-8 1-8 0-2 2-2 7-6 6-3zM180 566l8-1 8 1 4 2 7 6 7 5 3 3 2 6 1 6 1 8-7 18-3 4-7 4-6 5-2 1-8-1-2 1-2 3-12 1-4-2-2-4-8-4-3-4-2-6-1-8-3-8-1-8 1-4 3-6 6-8zM890 566l10-2 6 1 14 5 5 4 7 3 3 3 1 2 1 4 0 6 1 2 2 1 8 0 1 3 0 2-11 3-4 2-2 3-2 6-3 6-3 3-2 1-6 1-14 4-10 1-18-2-2-2-6-6-6-5-8-9-2-6 1-6 4-8 4-4 7-5 8-3 10-6zM1063 566l3-1 2 1 12 8 10 4 9 8 3 6 0 4-1 6-2 6-2 4-5 7-12 7-8 3-16 3-6 0-14-3-16-4-7-7-7-11-2 0-10-1-1-2-1-2 1-2 4-4 9-4 2-4 14-10 16-6 20-3zM454 712l2-4 2-4 12-15 16-27 15-16 5-6 6-6 16-19 21-23 28-22 11-11 9-7 6-8 7-6 4-5 8-9 9-18 21-14 6-5 8-5 9-10 13-10 20-18 6-6 10-12 16-23 16-11 6-5 6-4 8-8 17-11 15-14 6-4 8-10 4-2 8-2 3-2 1-2 2-8 7-6 2-8 5-8 2-2 6-1 2-1 6-6 10-6 5-6 13-18 6-10 3-10 7-6 2-4 2-8-3-10 2-8-3-1-10-1-8 1-10-2-10-1-12-6-11-10-4-6-3-6-3-10-2-8 0-4 4-10 2-10 1-4 2-3 6-4 8-9 4-3 4-1 16-2 8-3 4 0 6 0 14 3 6 3 13 9 10 12 2 4 1 4-1 10 3 6 2 2 5 2 6 6 5 2 4 0 8-3 8-3 4-4 10-15 5-9 9-12 10-12 12-9 9-5 9-8 14-8 12-8 10-10 8-6 6-8 10-12 16-14 14-10 7-6"/>
<path stroke="#3a48a0" d="M1200 72l-23 26-11 8-6 6-8 7-11 15-6 14-20 26-8 8-6 8-3 3-27 15-11 8-10 10-12 8-14 10-10 6-8 9-10 6-10 7-13 16-5 9-8 7-8 10-6 12-16 14-12 10-4 2-9 2-6 4-6 10-9 8-12 14-4 6-2 8-8 7-7 15-3 2-6 3-4 3-3 4-3 8-4 5-8 7-7 8-13 8-18 17-10 8-50 55-14 12-7 6-10 12-32 28-29 38-12 11-22 23-12 14-12 10-8 4M457 712l3-4 5-6 3-8 11-16 6-12 5-6 20-23 18-21 22-23 26-21 20-18 8-9 6-5 14-16 9-14 3-4 16-12 15-12 10-10 31-27 14-16 18-23 4-4 12-9 22-18 16-11 14-12 7-4 10-10 11-6 3-4 3-7 6-6 7-11 15-14 8-6 5-4 11-12 8-12 8-7 24-15 15-20 11-12 5-10 8-10 13-13 12-17 13-22 8-12 10-12 11-8 12-8 8-7 13-7 12-8 19-17 16-19 16-15 22-17"/>
<path stroke="#3a469f" d="M1200 71l-24 27-10 6-7 8-9 8-10 14-6 14-6 6-14 20-8 8-6 8-4 3-7 3-7 6-9 4-13 8-3 2-9 10-12 8-15 12-2 4 0 8-2 4-3 4-1 2 0 2 1 2 4-2 10-6 8-2 6-5 2 0 11 5 19 1 10 4 8 6 11 11 2 4 1 18 0 6-2 8-4 6-10 8-8 5-6 3-18 5-4 1-10 0-8-1-8-4-13-11-6-8-5-12-2-6 0-6 4-12 2-10-2-1-6 1-10 0-8 2-6 3-5 5-3 6-8 6-10 13-2 3-2 7-2 3-6 4-12 11-12 8-13 5-5 4-4 8-7 6-16 18-2 4-2 8-1 2-6 4-2 3-6 15-7 2-3 2-6 7-4 9-6 6-7 6-5 6-14 10-16 16-10 8-26 28-9 10-10 10-5 7-22 18-10 13-8 6-10 10-14 12-12 15-5 7-14 18-7 6-9 10-11 10-7 8-7 8-10 9-14 9M160 90l4-2 4 0 26 8 4 3 12 11 4 4 2 4 1 10 3 8 0 6-2 20-4 14 0 8-7 12-3 4-8 7-10 5-4 0-6-4-2-1-10-1-14-10-4-6-10-24-1-8 1-8-1-12 1-6 2-4 5-10 3-8 8-13zM603 106l7 0 6 3 12 13 8 6 6 3 5 7 1 4-2 6-2 8-6 4-10 10-8 6-6 6-6 3-14 2-12-4-10-11-7-12-4-12 0-6 2-10 1-4 12-13 8-6 4-2 10 0zM711 112l5-1 4 0 4 2 3 5 4 8 1 8 3 8 0 6-3 8-2 10-9 24-3 4-4 3-12 6-6 1-12-4-8-5-3-3-3-6-2-22-4-6-7-6 0-4 1-3 2-2 2-1 4 2 2 1 2-2 2-3 2-6 10-7 12-11 4-2zM1097 234l3-1 14-1 4 1 2 3 3 8 0 2-1 4-4 4-4 2-12 0-2 0-4-2-1-2-1-2 2-8-1-4 0-2zM201 260l5-1 14-1 4 1 3 3 4 6 0 4-1 6-5 12-7 8-10 9-10 12-16 14-16 10-8 4-4 2-4 0-6-2-3-3 1-8 1-4 4-8 20-28 9-9 6-13zM594 262l6 0 4 2 10 8 4 4 5 8 2 4 1 16-1 8-9 16-4 4-10 6-6 1-4 0-4-2-9-7-3-3-3-5-1-8-4-8-1-4 2-8 0-8 3-8 4-5 8-8 4-2zM222 364l10 0 6 1 16 6 10 6 12 13 3 4 2 4 3 14 0 6-5 10-2 4-3 4-18 13-16 6-12 2-10 2-4 2-4 3-1 2-1 4 3 12 4 18 0 4-2 6-7 11-12 9-14 4-6 0-22-2-8-2-12-8-9-12-3-8-1-4 1-10 1-4 5-6 5-10 9-7 4-5 8-6 1-2 1-6-1-14 0-4 5-10 2-8 2-4 8-7 8-11 18-13 14-5zM1010 468l4-1 6 0 16 2 16-2 22 4 13 7 4 4 3 6 3 10 4 6 0 4-1 2-10 10-8 6-4 5-6 2-6 0-2 0-4-4-12-1-12-3-8-3-10-3-8-6-4-5-5-8-2-6-1-10 1-4 5-8zM183 568l7 0 6 1 6 4 10 7 3 4 2 6 1 6 0 6-7 18-3 3-12 7-10 1-4 3-2 0-8 0-2-1-2-3-8-4-3-4-2-4-1-8-3-8 0-4 0-6 4-8 5-6 18-8zM895 568l5-1 6 1 9 4 7 5 8 3 3 4 0 10 2 4-1 2-6 7-2 3-2 7-3 3-7 2-8 3-12 2-4 0-14-3-2-1-4-5-8-5-6-7-2-6 1-6 1-4 3-4 9-7 16-8zM1051 572l13-2 4 0 18 9 10 8 3 7 0 8-3 8-2 4-4 4-12 7-8 3-16 2-14-1-14-4-6-3-6-6-6-11-7-3 2-4 5-4 4-6 10-8 14-5zM458 712l3-4 5-6 3-6 5-10 6-8 7-14 17-18 24-29 22-23 30-24 16-15 9-9 5-5 6-7 6-6 14-21 14-10 16-13 12-12 30-26 16-18 19-24 25-19 10-9 15-10 15-12 7-4 10-10 9-4 4-3 4-5 2-6 6-6 7-12 15-14 10-7 16-17 9-14 3-10 8-7 2-3 1-10 0-12 2-6 3-4 8-2 2-1 2-3 2-4-1-2-1-1-4 0-2 0-6 6-2 1-8 0-6 3-16 0-14-1-4-2-10-5-9-7-4-6-6-12-2-6-1-8 1-4 3-8 3-10 11-14 4-3 6-4 4-1 10-1 12-4 8 1 14 3 17 11 2 2 7 12 2 6-2 8 0 3 5 13 1 10 2 2 2-1 8-5 2-1 8 2 8-2 10-6 6-6 4-5 11-20 7-10 11-12 11-9 11-7 7-6 15-8 11-8 18-15 14-18 12-11 8-7 15-11 7-6"/>
<path stroke="#3b459e" d="M1200 69l-9 11-15 16-12 9-14 13-10 14-7 14-10 14-10 14-7 7-8 9-39 24-13 11-22 16-13 7-7 7-8 5-12 10-20 24-8 9-10 13-4 8-16 15-12 8-11 5-5 3-9 11-15 16-8 10-4 8-6 8-8 14-8 6-4 4-11 16-13 14-12 10-18 16-11 10-23 24-10 12-16 17-22 19-10 12-32 28-31 40-35 36-10 11-4 4-17 11M462 712l5-8 4-10 9-14 5-10 4-6 21-24 18-22 18-18 6-6 25-20 20-18 26-28 15-19 30-25 11-12 30-26 7-8 30-34 34-28 26-19 11-7 11-9 10-7 4-4 4-7 24-29 12-10 15-14 9-12 30-22 26-32 13-20 9-9 4-5 14-21 11-19 17-22 10-8 12-8 8-7 16-9 12-8 16-14 14-18 10-9 14-12 19-15"/>
<path stroke="#3c449e" d="M1200 68l-10 12-16 16-11 8-13 13-12 17-7 14-9 12-10 14-8 7-6 8-10 6-8 6-8 4-15 9-11 10-28 20-5 6-1 8-7 12-5 2-8-1-4 1-14 9-6 5-12 14-11 14-3 8-14 13-16 11-11 6-5 4-8 10-7 6-15 16-2 4-3 6-5 8-8 15-10 8-6 7-5 8-7 8-12 12-10 8-16 16-12 10-22 23-13 15-15 16-20 17-4 4-6 8-9 7-11 11-13 11-31 40-8 8-11 12-15 14-10 12-6 5-16 11M162 94l4-2 4 0 16 5 6 2 6 4 8 7 6 8 5 20 1 10-9 38-5 8-9 8-5 3-4 2-2 0-6-3-12-1-4-2-8-5-3-4-3-4-3-8-4-8-2-6-1-8 0-16 1-10 7-13 3-7 4-8 5-6zM899 104l7 0 12 3 12 8 6 5 6 10 2 4 0 4-2 8 3 22-2 4-3 4-10 5-6 5-8 3-8 4-14 1-8 0-6-2-10-4-10-8-11-20-2-6 0-6 7-18 10-14 4-3 6-3 12-1 8-4zM587 110l5-1 12 1 6 1 4 2 6 5 6 6 5 4 8 12 0 2-3 12-3 6-21 20-4 2-6 1-8 0-10-3-8-7-4-5-5-8-2-8-2-6 0-4 2-8 1-4 3-4 9-9zM712 116l4-1 5 1 4 4 3 6 4 20-3 16-1 4-8 20-4 6-4 3-10 5-6 0-8-2-6-3-5-3-3-4-1-4-1-18-3-10 0-4 8-16 10-8 9-8 6-3zM1108 238l4-1 2 1 3 2 0 2 0 4-1 3-2 1-6 0-3-2-1-2 1-4 1-2zM201 262l7-1 12 0 4 2 2 3 2 4 0 4-1 4-5 12-6 8-10 10-9 10-17 14-14 9-8 4-6 1-5-2-1-2-1-6 2-6 4-8 16-24 11-12 6-10 14-12zM1042 264l4-1 8 2 16 0 4 1 10 5 4 2 8 9 5 6 1 4 2 16-1 6-2 6-3 4-6 5-16 10-12 4-8 2-10 0-8-1-8-4-10-8-3-4-6-10-5-10-1-6 2-6 5-14 4-4 12-9zM590 266l6-1 6 2 13 11 4 6 2 4 2 16 0 4-1 4-10 15-4 3-12 5-4 0-4-2-11-11-2-4-4-16 1-16 2-6 4-5 6-6zM220 366l6-1 10 1 8 3 6 2 8 4 4 3 12 12 3 4 2 4 2 14 0 6-4 10-2 4-4 4-9 7-8 5-16 6-10 1-14 3-4 2-4 3-2 3 0 4 4 12 4 20 0 4-2 4-6 8-10 8-8 4-10 1-24-2-8-3-10-6-9-12-2-8 0-10 1-4 9-16 9-7 6-6 8-4 3-3 0-6-2-18 4-10 2-10 3-4 6-6 9-12 15-11 14-5zM1017 470l19 1 16-1 18 3 4 1 10 6 5 6 2 4 4 16-1 4-6 8-12 9-4 1-4 0-6-2-14 0-28-9-8-5-5-6-3-6-2-8 1-8 3-8 4-4zM179 572l5-1 6 0 8 2 5 3 7 6 3 4 2 6 0 8-1 6-5 12-1 2-12 7-10 1-8 3-4-1-10-5-4-3-3-6-4-14 0-4 1-8 6-9 5-3zM895 572l5-2 6 1 6 3 14 9 2 2 1 3-1 10 0 2-8 13-2 2-13 7-11 2-4 0-10-3-4-1-15-14-2-4 0-4 1-4 3-6 6-6 11-5 10-3zM1051 574l13-1 6 1 14 6 9 8 3 6 0 6-2 8-4 7-10 7-6 3-8 2-12 0-12 0-8-2-10-4-6-4-3-5-5-12 1-4 3-6 8-7 8-4 8-3zM463 712l5-7 5-13 9-14 5-10 2-4 17-18 23-28 23-24 28-22 18-16 25-26 9-12 7-8 27-23 15-15 27-24 8-8 29-34 25-20 10-9 16-11 12-10 8-4 8-6 12-8 6-6 5-8 6-6 15-20 6-6 8-7 18-17 6-8 4-5 4-7 9-10 2-4 1-4-1-14 2-6 3-3 10-5 2-2 6-10 3-8 2-2 5-4 6-3 18-3 4-2 14-15 15-25 8-10 9-11 10-8 8-5 12-9 12-7 15-10 15-13 16-19 12-12 8-7 23-17"/>
<path stroke="#3d429e" d="M1200 66l-12 14-14 15-12 9-12 11-12 17-8 14-9 14-9 12-14 15-4 4-38 23-12 10-22 15-12 7-14 10-13 12-27 30-12 16-5 8-9 9-4 4-14 10-9 5-6 4-25 26-8 10-16 28-14 14-10 14-12 13-43 39-21 22-12 14-16 16-22 20-10 11-30 27-33 42-21 22-13 12-11 12-4 4-18 12M466 712l3-6 4-12 9-15 7-13 21-24 18-22 20-20 8-8 23-18 19-16 26-28 14-17 72-67 39-42 35-29 22-16 12-7 20-15 4-4 16-20 9-13 5-5 10-9 18-16 8-9 30-24 24-30 15-21 11-12 16-25 11-19 12-16 5-6 8-7 20-14 16-9 12-8 12-10 6-6 13-16 9-9 16-14 20-15"/>
<path stroke="#3e419d" d="M1200 65l-11 13-9 9-8 8-16 13-6 6-12 17-9 15-9 14-9 12-15 16-39 24-11 9-28 19-8 8-6 8-2 2-18 11-16 14-12 14-14 17-3 6-9 10-6 5-12 8-16 11-26 26-8 10-15 28-11 10-19 24-35 34-14 12-20 21-13 15-15 15-20 18-12 13-9 8-23 21-32 41-8 8-11 12-15 14-10 11-23 17M163 98l5-2 10 2 14 5 5 3 6 6 4 6 2 4 6 18 0 8-3 11-2 13-4 12-4 6-10 8-4 2-10-1-6 0-4 0-4-1-6-4-5-6-4-10-5-8-1-4-2-14 0-12 1-8 10-20 6-9zM894 108l4-1 6 0 10 2 4 2 12 8 3 3 6 10 1 6-1 6 0 10-4 14-4 6-10 8-13 7-10 2-10 0-4 0-11-5-5-3-5-5-11-20-1-4-1-4 4-12 2-6 10-14 6-3 14-3zM590 112l4 0 12 2 8 3 4 3 10 10 3 12 0 4-1 8-2 6-16 17-6 3-6 0-6 0-6-2-4-2-8-7-3-3-4-8-2-8-1-6 0-4 2-6 1-4 13-13 4-3zM700 122l4-2 4 0 8 2 6 2 2 2 2 4 2 12 0 6-3 18-10 22-1 2-4 2-10 4-4 0-12-3-4-2-3-3-1-6-3-28 3-8 4-8zM203 264l5-1 10 1 4 2 1 2 2 4 0 4-4 10-2 4-6 8-16 18-17 14-18 10-6 2-4-1-2-1-1-2 0-4 1-4 3-8 9-14 8-10 9-10 7-11 13-11zM1043 268l5-1 24 2 10 4 5 3 4 4 5 8 2 6 3 14-1 4-1 6-3 4-6 5-16 10-12 4-6 1-12-1-6-1-6-3-8-7-4-4-6-10-4-10-1-4 1-6 5-12 4-4 7-5zM591 270l5-1 4 1 4 3 10 9 2 4 2 4 2 14 0 4-2 4-9 12-5 3-10 3-4 0-2-1-9-9-2-6-2-12 0-14 2-6 7-8 4-3zM220 368l6-1 6 0 12 3 14 7 4 3 6 6 8 10 2 12 1 8-2 6-2 6-4 6-5 4-8 5-6 4-14 5-26 3-14 5-1 2 1 4 2 6 4 6 1 4 4 18 0 4-1 4-4 6-11 10-7 3-12 1-22-2-8-3-6-3-4-4-6-8-1-4 1-16 4-12 4-5 8-5 6-5 11-5 10-6 1-4-2-4-6-7-2-7 0-4 3-14 3-6 6-6 8-12 8-6 10-6 12-4zM1048 472l4 0 18 3 11 7 5 6 2 4 1 6 1 6-1 4-1 4-3 4-9 7-4 1-10-1-10 0-16-3-16-6-6-5-4-5-3-6 0-8 3-10 3-4 5-2 10-1 10 1zM182 574l4-1 4 1 8 3 4 2 6 6 3 3 1 4 0 8 0 4-4 10-3 4-2 2-5 3-4 2-16 2-12-4-4-3-2-4-4-12-1-6 1-4 2-4 6-8 8-5zM901 574l3 0 4 1 13 11 2 4 0 4 0 4-2 4-3 4-5 4-5 6-4 3-6 1-8 0-4-1-6-2-11-9-4-4-1-2 0-4 3-8 3-4 6-4 6-3 10-2zM1051 576l11-1 8 2 12 5 7 6 4 6 1 6-2 8-5 6-9 7-6 2-8 2-14 1-8-1-8-2-8-4-6-4-3-5-3-10 1-6 2-4 7-6 8-3 6-3zM468 712l2-5 2-9 3-6 7-11 8-15 18-20 21-26 20-20 7-7 24-19 19-16 25-26 14-17 28-26 19-19 23-21 10-10 15-17 17-18 30-25 24-18 15-9 21-15 20-24 10-15 31-28 7-8 5-4 19-22 1-4-1-8 1-4 7-8 8-7 5-9 1-8 2-4 1-2 3-2 4-1 10-3 8 0 4-2 16-21 12-21 9-12 9-11 10-8 10-7 10-7 12-7 15-10 12-10 5-5 14-17 10-10 10-9 26-19"/>
<path stroke="#3e3f9c" d="M1200 63l-12 15-12 12-6 6-16 12-4 5-14 19-7 12-10 16-7 10-14 15-6 5-36 22-18 13-28 19-14 10-14 12-28 32-12 14-7 10-5 6-6 5-12 9-16 11-26 26-10 13-13 24-15 16-11 14-9 10-30 29-15 13-21 22-12 14-14 14-20 18-12 13-32 29-31 40-21 22-15 14-11 12-22 16M469 712l6-18 16-28 21-24 17-20 21-22 12-11 17-13 21-18 26-27 12-15 46-44 26-24 41-44 27-22 24-19 16-9 21-16 21-24 13-18 37-33 29-25 11-12 12-16 17-24 11-13 16-25 9-16 17-22 12-10 18-12 13-8 12-8 16-12 7-8 11-14 9-9 16-14 21-15"/>
<path stroke="#3f3e9c" d="M1200 62l-11 14-9 9-8 8-16 13-6 6-14 19-16 27-11 14-13 14-4 3-38 23-36 26-10 8-6 6-20 16-14 12-14 16-14 17-5 7-7 8-18 15-14 9-28 27-6 8-6 10-9 17-16 18-16 20-33 32-16 14-20 21-13 15-13 13-22 20-10 11-32 29-32 41-20 21-14 13-12 13-23 17M165 102l5-1 6 0 14 5 4 3 6 5 5 6 7 20 0 4 0 4-3 10-2 14-3 8-3 4-3 3-8 5-4 2-6 0-10 1-4-1-4-3-6-8-8-14-4-13 0-14 1-10 11-20 4-6zM893 112l5-1 4-1 8 2 6 2 12 8 4 4 3 6 1 4-1 12 0 6-4 12-2 4-3 3-8 6-4 3-14 5-10 1-14-4-4-2-4-4-5-6-6-12-2-4-1-4 4-16 2-5 7-9 5-3 14-4zM590 116l4-1 8 1 4 1 8 4 4 3 4 6 2 2 1 4 2 10-1 6-1 6-11 13-4 3-6 3-6 1-4-1-6-3-8-5-4-3-2-3-2-5-2-4-1-12 0-4 3-6 3-4 9-9zM701 126l3-1 4 0 9 3 3 2 1 2 2 8 1 8-2 18-1 4-7 14-2 3-4 2-8 2-4 1-12-3-2-1-2-3-1-5-2-10 0-16 1-4 1-4 4-6zM201 268l5-2 4 0 6 1 4 3 2 4-1 4-3 8-3 6-6 8-12 14-5 5-14 10-6 4-10 4-4 1-2 0-2-2-1-2 0-6 4-8 7-12 8-10 9-10 6-8zM1042 272l6-2 10 0 8 1 6 1 8 3 4 2 4 4 5 7 2 6 2 10 0 6-1 4-2 4-4 4-16 12-10 3-8 2-12-1-6-2-4-1-4-4-8-9-6-8-3-8 0-6 1-6 4-8 4-4 4-3zM588 276l6-2 4 1 4 2 9 7 2 4 2 6 1 10 0 4-1 2-9 10-4 3-4 2-6 0-6-4-5-5-2-6-1-12 1-10 3-6zM219 370l11-1 10 2 14 6 7 5 11 12 3 6 1 14-2 10-4 8-8 7-10 6-14 5-18 2-20 1-8 1-4-1-4-2-4-3-4-8-8-9-1-3-1-4 3-14 2-4 13-18 6-6 8-5 4-2 10-3zM162 460l6-2 6 0 4 0 4 2 11 8 7 10 2 4 3 14 1 6-1 4-2 4-4 4-7 7-4 2-18 2-10-1-10-1-6-3-6-4-5-6-3-4 0-4 1-12 5-14 6-5 12-7zM1043 476l7-1 16 2 7 3 7 6 5 8 1 8-2 8-5 6-3 3-4 1-22 0-12-2-6-2-10-5-6-5-3-4-1-6 1-8 3-6 4-3 6-2zM177 578l7-2 6 1 10 5 5 4 3 4 1 4 0 4 0 4-2 6-4 8-7 5-14 3-6 0-10-5-2-2-2-3-4-12 0-4 1-4 3-5 4-5 6-4zM1051 578l9-1 10 2 8 3 7 6 4 6 1 6-1 8-5 6-8 6-8 2-6 1-16 1-6-1-6-2-6-3-6-5-3-5-2-8 0-4 2-4 5-5 8-4 8-3zM897 580l5-1 4 1 10 10 1 4-1 4-2 4-4 5-3 5-3 3-6 1-10 0-8-4-7-6-3-4 0-2 0-4 2-5 2-3 6-4 6-2zM471 712l4-16 15-28 20-22 20-24 21-22 9-8 20-16 19-16 27-28 12-15 28-26 20-20 22-20 26-28 18-18 28-24 24-18 15-9 17-12 7-6 19-23 7-11 5-6 40-36 23-22 2-4 1-8 8-7 14-17 1-4-1-2-3-6 1-2 2-1 8-1 8-4 6-3 4-4 18-25 13-22 14-18 11-9 18-13 11-6 16-10 15-12 18-22 8-8 18-16 21-14"/>
<path stroke="#4c3e9e" d="M1200 61l-12 15-6 6-12 12-16 12-4 4-14 20-19 30-7 10-12 12-6 6-36 22-18 13-42 29-16 14-14 15-14 16-12 15-7 10-5 5-18 15-10 6-5 4-25 24-8 10-6 9-10 19-16 18-11 14-7 8-30 29-19 17-17 18-12 14-14 14-18 16-14 15-32 29-33 42-19 20-15 14-13 14-22 16M472 712l3-12 2-6 14-26 23-26 16-20 20-20 12-11 19-15 19-16 26-27 13-15 47-46 24-22 42-44 24-21 26-20 19-11 18-14 6-6 17-20 8-12 5-6 65-57 12-13 14-18 14-20 10-12 27-44 12-16 5-6 12-9 16-12 25-15 16-12 7-7 13-17 9-9 16-14 23-15"/>
<path stroke="#5a3e9f" d="M1200 60l-13 16-7 7-10 10-15 11-5 5-16 22-9 15-10 16-7 9-12 12-6 5-35 22-40 28-20 16-25 22-18 20-24 30-18 15-16 11-26 25-12 17-11 20-16 18-16 20-31 30-20 18-16 17-16 18-30 28-14 15-30 27-28 35-6 8-18 19-16 15-12 13-23 17M167 106l5-1 6 1 12 5 8 6 3 3 2 4 6 20 0 4-3 10-2 12-1 4-4 6-3 3-6 3-18 4-4-1-2-1-4-4-4-6-8-14-2-8-1-6 0-14 2-6 7-13 4-6 4-4zM892 116l8-2 6 1 6 2 14 8 4 5 1 4 1 14-1 6-3 10-3 4-7 6-6 4-16 5-4 0-14-3-6-3-4-5-6-10-3-6-1-4 3-14 2-4 6-8 3-2 4-2zM591 120l5-1 6 1 10 4 5 4 3 6 2 4 1 12-1 4-1 4-5 7-4 4-4 3-6 2-4 0-4 0-13-8-5-5-3-7-1-12 2-8 3-4 5-5 6-4zM699 132l5-2 4 1 6 2 3 3 2 6 1 4 0 18-1 4-2 4-7 11-2 2-3 1-9 1-8-1-3-2-2-2-1-4-1-6-1-12 2-10 3-6 4-4zM205 270l5 0 4 1 2 1 2 4 0 4-3 6-8 14-13 15-18 13-6 3-6 2-4 0-2-1-1-4 2-6 7-12 7-10 17-20 10-8zM1046 274l14-1 18 4 4 2 3 3 6 10 2 6 1 6 0 4-1 4-3 4-5 6-13 9-10 3-6 1-16-2-4-2-6-5-7-8-4-6-2-6-1-6 1-4 3-6 4-4 6-5zM590 282l2-1 4-1 6 3 4 5 4 8 1 8-1 3-7 9-5 3-6 0-4-2-3-3-2-6-1-10 0-6 2-5zM219 372l11-1 10 2 14 6 6 4 9 11 3 6 2 12-1 6-1 6-3 6-7 7-10 5-14 6-6 1-14 1-22-2-6-1-6-4-12-17-1-4 0-4 2-8 3-6 10-14 6-6 10-7 10-3zM162 464l6-2 4 0 4 1 4 2 10 6 9 11 3 12 1 6-1 4-2 4-3 4-5 5-4 3-4 1-16 1-6 0-8-1-6-3-6-3-4-3-4-6 0-4 0-10 6-14 2-3 4-3zM1028 480l24-2 12 2 6 3 7 5 4 6 1 4 0 4-2 6-2 2-4 4-14 3-4 0-16-2-8-3-7-4-3-3-4-5-1-4 0-4 3-6 4-4zM180 580l6-1 6 2 8 5 5 6 1 4 0 4-2 8-4 6-6 5-12 2-6 0-8-4-3-5-4-12 2-6 2-4 5-5 4-3zM1051 580l9-1 8 2 8 3 7 6 3 6 1 6-2 6-5 6-6 4-8 3-20 1-6-1-4-2-6-3-5-4-3-4-1-8 0-4 2-4 3-3 10-5zM887 586l7-1 6-1 4 3 4 5 2 2 0 4-6 10-2 3-2 1-4 0-6-1-7-5-4-4-1-2 1-2 3-8 2-2zM474 712l1-10 2-6 15-28 20-22 19-24 21-21 8-8 20-15 21-18 25-26 12-14 48-47 23-21 26-28 19-19 26-22 22-17 6-4 14-8 14-10 8-7 18-21 12-18 20-18 21-18 25-24 5-8 21-26 10-14 12-12 4-5 16-24 9-15 8-12 9-11 10-8 18-13 26-16 16-12 6-6 14-18 8-8 18-15 14-10 8-5"/>
<path stroke="#7a429f" d="M1200 57l-13 17-7 7-10 10-20 16-16 22-21 33-6 8-9 9-10 9-36 22-40 28-18 14-26 24-18 20-19 24-5 6-16 13-16 11-17 16-9 9-6 7-8 12-9 18-17 19-17 21-23 22-27 26-16 16-17 19-27 25-15 15-32 30-26 32-8 11-16 18-18 16-10 11-26 19M165 112l5-1 6 0 12 3 8 6 3 4 3 6 3 10 1 6-4 20-1 4-4 6-3 3-4 2-16 3-4-1-2-1-6-6-10-18-2-8 1-16 1-4 6-10 4-5zM894 120l8-1 4 0 12 6 4 2 2 3 3 4 1 14-1 8-3 6-2 3-6 6-6 3-14 4-4 0-12-2-6-4-4-4-5-8-2-4 0-4 2-12 2-4 3-3 5-5 5-3zM592 124l8-1 6 2 4 2 4 4 3 7 2 12-2 6-3 6-4 4-4 3-4 2-6 0-9-5-7-6-3-6-1-10 0-4 2-4 3-4 4-4 3-2zM705 136l5 1 2 1 3 4 1 4 0 20-3 6-7 8-6 3-6 0-6-3-2-4-2-8 1-10 2-8 4-6 3-3 6-3zM204 274l4-1 2 1 3 2 1 2 0 4-2 4-8 14-10 12-6 5-16 10-4 1-4 0-1-2-1-2 1-4 4-8 8-12 17-18zM1053 276l5 0 6 1 12 3 4 2 3 4 5 8 2 6 0 4 0 4-3 6-5 6-6 5-8 4-14 3-12-2-8-5-7-7-3-4-3-6-1-6 1-4 1-4 4-4 6-5 12-7zM589 290l3-1 4 0 4 3 2 4 1 4-1 4-2 3-4 3-2 0-2 0-2-2-3-6-1-6 1-4zM219 374l13-1 8 2 6 2 6 3 4 2 6 6 5 6 2 4 2 6 1 8-1 6-2 6-3 6-4 4-4 3-8 4-16 5-10 2-10-1-18-3-5-2-5-4-7-10-3-6-1-4 1-4 4-10 7-10 5-7 8-6 10-5zM162 468l6-2 4 0 4 1 4 2 9 7 8 10 2 8 1 4-1 4-5 8-4 4-4 2-4 2-14 1-10 0-4-2-10-5-2-2-3-4-1-4 0-8 2-6 3-8 5-5zM1047 482l5 0 8 1 6 3 6 3 3 3 1 4 1 4-2 4-5 4-6 3-4 2-4 0-16-2-4-1-8-6-4-4-2-3 0-3 1-4 3-4 2-2 4-1zM1053 582l7-1 8 2 6 3 6 6 3 6 0 6-2 6-5 4-6 3-6 2-18 0-4 0-6-2-6-4-3-3-2-4-1-6 1-4 1-3 4-3 6-3 6-2zM178 584l6-2 6 2 7 4 4 6 1 6-1 6-3 6-6 4-8 2-6 0-4-2-3-2-3-4-2-8 0-6 4-6 4-4zM895 590l3 0 2 1 2 3 1 2-1 4-2 3-2 2-2-1-2-1-3-7 1-4zM476 712l1-8 2-8 13-26 22-25 17-21 21-21 10-9 20-16 22-18 24-26 12-14 46-45 24-22 26-28 19-19 23-20 24-19 6-4 13-7 17-12 7-6 19-23 9-13 3-4 18-16 23-20 25-24 18-22 19-26 13-14 29-46 7-10 8-9 10-8 14-10 31-19 13-10 6-6 16-20 8-9 16-13 16-11 9-5"/>
<path stroke="#a548a5" d="M1200 55l-15 19-5 6-10 9-17 13-5 5-16 22-21 33-4 6-9 9-10 9-35 22-43 30-16 12-26 23-18 21-24 30-16 13-18 13-18 16-6 7-6 7-8 12-7 14-4 6-34 40-21 21-28 26-17 17-16 18-26 24-15 15-32 30-26 32-8 11-18 20-16 14-12 12-26 20M168 118l4-1 6-1 6 1 4 2 4 3 3 4 3 5 3 7 1 6 0 4-4 18-2 4-4 4-2 2-4 1-8 1-8-3-4-4-7-9-4-8-1-6 1-14 6-10 3-4zM890 126l12-1 8 1 7 4 5 6 1 4 1 6-2 10-3 6-5 5-4 2-14 4-4 0-6-1-6-2-3-2-5-6-3-4-1-4 1-4 1-8 2-3 2-3 8-6 4-3zM594 128l6-1 6 2 4 4 3 7 1 10-1 6-2 4-3 3-6 4-4 0-6-2-8-7-3-6-1-6 2-7 5-7 3-2zM702 144l4-1 2 1 1 2 1 4 2 16-2 4-4 3-8 4-4 0-3-3-2-4-1-4 1-6 5-11 4-3zM201 280l5-1 2 1 1 4-3 8-6 10-7 8-5 5-14 7-2 1-3-1-1-2 1-4 3-6 5-8 15-16 4-3zM1051 280l5-1 4 0 6 2 8 3 5 4 6 10 2 4-1 4-4 8-6 6-8 5-14 2-4 0-6-2-6-3-4-3-5-5-3-5-1-5 0-4 1-3 2-3 10-8zM219 376l13-1 4 0 10 4 6 3 4 3 5 5 4 6 2 4 2 6 1 6-1 6-2 6-4 6-3 3-4 3-6 3-16 5-10 1-8 0-12-3-10-3-4-3-7-10-2-6 0-6 3-10 4-8 6-7 8-6 8-4zM163 472l7-2 4 1 4 2 5 3 4 4 7 10 2 6-1 4-5 8-6 5-8 2-12 1-4 0-4-2-8-5-5-5-1-4 0-6 2-6 3-6 5-5zM1047 486l5 0 4 0 9 6 4 4 0 2-2 4-7 5-2 1-4 0-12-1-4-1-5-4-4-4-1-4 0-2 2-2 4-2zM1057 584l5 0 6 2 4 2 4 4 2 4 2 6-1 4-3 4-4 3-6 3-4 1-6 1-8-1-6-1-6-3-5-3-2-4-1-4 0-4 2-4 4-3 6-3 10-3zM178 588l4-2 6 1 5 3 4 4 1 6-1 6-3 4-4 3-6 2-6-1-3-2-3-4-1-6 0-6 2-4zM478 712l0-8 2-6 13-26 6-8 17-19 16-19 21-22 9-9 20-15 22-18 24-26 14-16 44-43 24-23 27-28 20-20 19-16 28-23 17-9 21-16 8-8 16-19 7-11 5-6 18-16 20-17 25-23 13-15 27-37 13-15 27-43 8-10 7-9 10-8 16-12 28-17 16-12 6-6 14-18 8-9 16-13 16-11 11-7"/>
<path stroke="#c443a2" d="M1200 52l-15 20-5 6-14 12-18 14-18 26-19 30-11 13-12 11-38 24-40 28-16 12-22 20-12 12-36 44-14 12-17 12-25 22-6 8-10 15-9 17-36 42-19 19-30 28-33 35-25 23-14 15-32 29-28 35-8 10-16 18-18 16-10 10-28 22M175 122l3-1 4 0 5 3 4 4 3 4 3 8 0 4 0 6-3 12-3 6-5 3-4 1-4-1-4-1-4-3-8-9-3-6 0-12 1-6 2-4 4-4zM901 132l5 0 4 1 4 3 2 2 3 4 0 4-2 8-3 6-2 2-4 3-6 2-6 1-4 0-4-1-5-3-5-6-2-6 1-8 3-4 6-4 6-2zM594 134l4-1 4 0 3 3 2 4 1 8 0 6-2 5-4 3-4 0-4-2-6-6-2-4 0-4 0-2 4-6zM698 158l2-1 2 1 1 2 0 4-3 2-2 0-2-2 0-3zM1052 284l6-1 8 2 6 4 6 6 3 5 1 2 0 4-3 6-3 3-4 3-6 2-8 2-6 0-10-3-4-2-5-5-2-4-1-4 0-4 1-2 9-8zM196 288l4-1 1 1 1 2-2 6-4 6-4 6-4 3-8 4-4 1-1-2 0-2 4-8 7-8zM218 378l14-1 6 1 8 3 4 2 4 3 9 10 2 4 2 6 0 6 0 4-2 6-3 6-6 6-6 3-14 5-8 1-8 0-8-1-10-4-6-3-5-5-5-8-1-6 0-6 3-8 5-8 9-8 8-5zM168 476l6 1 6 4 6 5 4 8 0 4-2 4-6 6-4 3-10 1-8-1-10-7-2-4-1-4 0-4 1-4 3-4 3-3 4-2zM1046 494l2 0 4 0 2 2 1 2-3 2-8-2-1-2zM1050 588l6-1 6 0 4 1 4 3 3 3 2 6 0 4-2 4-3 3-4 2-8 2-6 0-7-1-5-2-4-2-2-2-2-4-1-4 2-4 3-3 4-2zM182 592l2-1 4 1 3 2 2 4 0 4-1 4-2 2-4 2-4 0-2-1-2-3-1-2 0-4 1-4 1-2zM480 712l0-8 2-6 9-20 4-6 6-8 19-21 13-17 21-21 14-13 14-10 24-20 37-40 21-21 22-22 26-25 26-27 20-20 18-16 28-22 6-4 10-5 12-8 12-10 6-6 16-19 9-13 5-6 16-15 21-17 25-23 12-13 29-40 11-13 29-45 7-10 7-8 11-9 14-10 27-17 17-12 6-6 15-20 9-9 14-12 18-12 12-7"/>
<path stroke="#d93a99" d="M1200 49l-4 7-18 22-16 14-12 8-4 4-18 26-19 30-10 12-7 7-6 4-36 23-42 30-16 12-20 18-10 10-14 16-24 30-16 13-15 11-25 22-8 10-8 12-7 14-4 6-36 42-18 18-30 28-33 35-25 23-13 14-32 29-10 12-28 35-14 16-30 28-29 22M173 130l5-2 4 1 4 3 5 6 1 6 0 8-2 6-2 3-2 2-4 1-8-2-5-4-4-6-1-6 1-8 3-5zM899 140l5-1 4 1 4 4 1 4-2 4-3 5-4 3-6 1-5-1-5-4-2-4-1-4 1-2 2-2zM597 146l1 0 2 2 0 4-2 1-2-3 0-2zM1058 288l6 2 6 4 6 8 0 4 0 2-4 4-8 3-12 1-4 0-4-1-3-3-3-4-1-4 1-4 3-4 6-4 5-3zM218 380l8-1 6 0 10 2 6 3 4 3 8 9 3 4 2 6 0 8-2 6-3 6-6 6-6 3-12 4-8 2-8 0-8-1-10-5-4-3-5-6-3-6-2-6 1-6 2-6 4-6 9-9 6-4zM160 484l6-2 4 1 6 2 4 3 2 4 1 4-1 4-3 4-5 3-6 0-6-2-4-3-3-4-1-6 2-5zM1055 590l7 0 4 3 3 3 1 6-1 4-1 2-6 4-6 0-10-1-6-3-3-4-1-4 1-2 5-4zM482 712l0-4 1-8 8-18 4-8 6-8 19-21 14-17 20-21 14-13 16-12 24-20 35-38 21-21 18-19 30-28 28-29 34-32 32-26 17-9 21-16 8-8 16-20 9-12 5-6 16-15 19-15 26-24 13-14 28-38 12-15 27-43 8-10 7-9 10-8 14-10 30-19 16-12 6-6 15-20 9-9 14-12 16-10 15-9"/>
<path stroke="#e5238a" d="M1200 46l-4 8-18 22-18 16-10 6-4 4-18 25-21 33-9 11-12 10-38 25-40 28-16 12-21 18-9 10-14 16-26 32-12 10-17 12-21 18-6 6-16 23-9 17-38 44-17 17-30 28-33 35-24 22-13 14-34 32-10 11-26 33-16 18-30 28-29 22M1058 298l4 0 2 2 0 2 0 1-2 1-5-2-1-2zM219 382l7-1 6 0 10 2 8 5 8 8 3 6 1 4 0 8-1 4-3 6-3 4-3 3-6 3-10 3-8 2-8 0-8-2-6-3-6-4-3-4-4-6-2-6 0-6 3-6 4-6 8-7 6-4zM169 492l1 0 3 2 0 2-1 1-2 1-3-2 0-2 1-2zM1055 594l5 1 2 1 2 2 1 4-2 4-3 2-4 1-5-1-5-2-2-2-1-2 1-2 2-2 3-2zM484 712l0-6 1-6 7-18 4-6 7-10 34-40 25-25 32-25 16-14 36-39 19-19 21-22 26-25 18-18 28-27 20-19 28-23 6-3 11-5 21-16 10-10 16-20 8-12 6-6 14-13 21-17 25-23 14-15 12-16 16-22 10-13 18-27 11-18 7-10 6-7 10-8 14-10 26-17 20-14 6-6 17-22 9-9 14-11 14-10 18-10"/>
<path stroke="#ec0f6c" d="M1200 43l-6 11-16 20-18 16-12 8-4 4-18 26-19 30-10 12-11 9-38 25-48 34-10 8-19 16-11 12-14 16-24 30-12 11-16 11-22 18-6 6-16 22-7 14-4 6-29 34-22 23-33 31-34 36-69 65-12 14-24 31-17 18-31 29-29 23M220 384l10-1 10 2 6 2 4 3 6 8 4 8 0 4 0 4-3 6-2 4-7 6-6 3-8 2-8 2-6-1-6-1-8-4-4-3-4-6-3-6-1-4 1-6 2-4 4-6 7-6 6-4zM486 712l0-6 1-6 6-16 4-8 8-10 35-40 24-24 32-26 16-14 35-38 19-19 18-19 74-72 20-19 28-23 4-3 14-6 22-17 8-8 16-20 9-12 7-8 14-13 19-15 25-23 14-15 12-15 15-21 15-20 16-24 9-16 13-16 10-9 10-8 33-21 20-14 5-6 6-8 11-14 7-7 10-9 20-13 19-11"/>
<path stroke="#ee1250" d="M1200 40l-7 12-17 22-18 15-10 7-5 4-6 10-13 18-19 30-10 12-11 9-42 27-45 32-27 23-10 10-14 16-26 33-10 9-18 13-20 16-7 6-17 24-5 12-4 6-28 32-24 26-19 19-14 13-34 35-70 66-12 14-24 31-16 17-30 28-32 25M221 386l9-1 10 2 8 5 7 8 2 8 0 4-1 4-5 8-7 5-6 3-6 2-8 0-6 0-6-2-4-3-4-3-4-6-2-6-1-4 1-4 2-4 3-4 7-6 6-4zM488 712l0-6 1-4 8-22 10-14 33-38 26-26 30-24 16-14 35-38 21-20 18-20 70-68 22-21 28-23 4-3 15-7 11-8 13-10 7-8 29-38 15-13 20-16 25-23 15-16 10-12 36-50 21-34 13-16 8-7 12-9 30-20 23-16 22-28 15-14 16-11 13-7 13-8"/>
<path stroke="#ee1c25" d="M1200 36l-9 16-15 20-18 15-12 8-4 3-7 12-13 18-17 26-5 8-6 6-10 9-44 29-43 30-27 22-11 12-13 14-23 30-5 6-10 9-17 11-22 18-5 5-16 22-7 15-3 5-27 31-26 28-33 32-33 34-70 66-13 15-23 29-16 18-31 29-33 25M223 388l9 0 6 1 4 2 4 2 4 5 3 4 1 4 1 4-1 4-4 7-4 4-4 2-8 4-6 1-6-1-6-1-4-2-4-2-4-4-3-8-1-4 1-4 4-6 9-8 4-2zM490 712l0-4 1-6 5-16 3-6 12-16 31-36 26-26 28-22 19-16 35-38 18-18 21-22 65-64 26-24 28-24 4-2 13-6 12-8 12-10 9-9 23-31 6-8 15-13 20-15 24-22 15-16 11-14 38-53 19-31 8-10 5-6 10-8 12-9 50-33 4-5 6-9 11-14 7-7 10-9 18-11 10-5 15-10"/>
<path stroke="#f15a22" d="M1200 31l-9 19-16 20-5 5-14 12-12 7-4 4-6 10-14 20-17 26-11 14-10 8-42 28-44 31-28 22-10 11-14 16-21 28-9 9-8 7-15 10-21 16-8 7-16 24-6 13-4 6-25 30-27 28-17 18-15 14-36 36-68 65-12 13-25 32-21 22-16 15-14 12-30 23M219 392l7-2 8 1 8 3 5 4 3 6 1 6-1 6-6 7-8 4-6 2-6 0-6-1-4-2-6-5-2-3-1-4-1-4 1-4 2-4 4-4zM493 712l0-4 1-6 3-14 4-8 14-18 28-32 25-25 31-25 17-15 36-39 18-18 23-24 51-51 36-33 28-24 4-3 17-7 16-12 9-7 7-9 22-30 7-8 12-11 20-15 18-16 9-8 15-17 10-12 15-23 21-28 21-34 12-14 7-7 14-10 52-34 4-5 6-10 11-14 5-5 10-9 18-11 12-6 18-11"/>
<path stroke="#f6861f" d="M1200 26l-9 20-11 16-7 8-5 5-14 11-11 6-5 4-5 10-11 16-17 26-7 10-7 8-11 9-44 29-43 30-27 22-10 10-14 17-20 27-10 11-8 7-16 10-22 15-5 5-17 25-5 13-3 6-26 30-28 30-33 32-35 36-18 16-50 48-14 16-24 30-20 22-30 27-26 20-7 3M222 394l8-1 6 1 6 4 4 5 2 5-1 6-3 4-6 5-8 3-8-1-8-3-4-5-1-3-1-4 2-6 5-6zM497 712l-1-4 0-6 3-14 3-6 16-20 27-32 25-25 32-25 16-14 37-40 17-17 23-25 51-50 38-35 26-22 6-4 14-5 20-14 6-5 8-10 19-29 7-8 12-11 22-16 20-17 9-8 13-15 10-13 14-22 24-33 17-27 13-17 10-9 12-9 52-33 3-4 6-10 10-14 7-7 10-8 10-7 10-5 26-12"/>
<path stroke="#faa21b" d="M1200 16l-1 4-7 20-4 8-7 10-9 10-6 6-14 11-10 5-5 4-7 12-27 42-7 10-8 8-10 9-42 27-28 19-17 11-28 20-10 10-31 44-12 14-6 5-10 6-16 9-6 2-2 0 0-2 2-6 8-14 6-10 6-8 14-12 20-13 23-17 10-10 21-29 13-21 25-36 15-24 13-16 12-10 12-9 36-23 14-8 2-3 6-11 12-16 8-8 10-7 16-10 18-7 4 0 2 0 2 2 0 2M847 362l3 0 0 4-8 16-5 14-3 5-13 15-36 40-17 18-19 18-37 37-16 15-51 48-13 15-25 31-12 14-17 16-18 16-30 23-6 3-6 1-12 1-4-2-2-4 0-12 2-6 2-6 15-18 22-26 17-18 14-14 30-24 17-14 38-42 41-42 50-49 38-36 26-22 6-2 12-4zM222 398l6-1 6 1 4 2 4 4 1 4 0 4-3 4-4 4-6 2-6 0-5-2-4-4-2-4 1-6 3-4z"/>
<path stroke="#fdb515" d="M1180 20l6-1 4 0 2 1 1 2 0 6-2 6-2 6-4 8-10 14-9 9-16 12-11 5-3 2-2 3-5 11-26 40-7 10-7 8-6 6-7 6-41 26-27 18-12 7-12 4-1-1 2-8 9-16 26-39 14-23 12-15 10-9 14-11 38-24 11-5 3-2 2-2 6-13 9-13 6-6 11-9 10-7zM925 282l5-2 2 2-1 4-6 12-12 16-7 7-10 6-8 3-4 1-2-1-1-4 2-6 4-8 5-6 6-6 8-7 10-6zM821 376l7-2 6 0 2 0 2 2 0 10-4 10-2 4-13 16-40 44-67 66-20 18-48 46-14 16-29 36-25 25-20 18-28 21-6 2-6 1-6-2-4-2-2-5-1-4 1-6 2-6 16-20 33-38 17-17 34-27 16-14 77-82 53-53 34-31 22-19 6-4zM223 404l5-2 4 1 2 2 2 2 0 3-1 4-3 2-4 1-3-1-3-2-2-4 1-4z"/>
<path stroke="#ffc20e" d="M1178 24l4-1 4 1 2 2 1 4-1 4-2 6-6 12-10 12-10 9-12 8-14 5-2 1-5 15-26 42-13 16-6 6-8 6-62 40-12 6-4 1-2 0-1-3 1-4 7-14 21-31 15-25 11-14 16-14 16-11 30-18 15-5 2-2 4-14 13-18 6-6 10-7 8-5zM915 292l5-1 1 1 0 2-3 8-6 9-6 6-6 4-6 3-5 0-1-2 0-4 2-4 4-6 10-9zM825 378l5 0 3 2 1 4 0 6-1 4-3 4-13 16-36 40-17 18-54 53-21 19-49 46-10 12-27 34-10 12-17 16-18 16-30 23-4 2-6 1-6-2-3-2-2-4-1-4 1-6 2-4 12-16 26-30 11-12 16-15 33-27 16-14 77-82 54-53 34-32 24-20 6-3z"/>
<path stroke="#ffc20e" d="M1170 30l6-2 4 1 2 1 2 4-2 8-8 14-10 11-17 11-3 1-4 1-5-2-2-4 0-6 2-4 7-12 5-6 7-6 8-5zM1111 88l3-1 4-1 4 1 2 1 2 4-1 6-5 10-18 30-7 10-7 9-10 9-14 10-44 26-8 4-6 2-2-2 0-2 4-10 29-48 11-14 10-10 12-9zM906 304l2 0 1 2-1 2-6 6-4 2-2-2 2-4 4-4zM824 382l4 1 2 3 0 4-1 4-12 16-12 14-39 42-34 34-24 23-32 29-38 36-10 12-28 36-11 12-15 14-18 16-28 20-4 3-4 1-4-1-4-2-2-5 0-4 5-8 7-10 25-30 13-15 16-15 34-26 16-14 19-20 18-20 39-42 54-54 34-31 20-16 8-6z"/>
<path stroke="#7ac143" d="M1168 36l6-2 3 2 1 2-3 8-5 10-6 6-8 6-12 6-2 0-2-1-2-3 0-2 4-8 5-8 3-4 6-5zM1110 94l6-2 2 1 1 1 1 2-2 6-11 22-9 14-6 10-8 9-6 6-6 4-20 12-16 9-14 6-2 1-3-1 0-2 0-2 3-6 15-28 8-14 8-10 11-10 12-9 18-10zM818 390l4-1 1 1 0 2-3 6-16 22-28 31-22 23-44 43-38 33-26 24-12 10-5 6-22 32-13 16-7 8-13 12-18 15-16 12-16 9-4 1-3-1 0-2 1-4 6-12 27-34 11-12 12-12 8-6 46-34 10-12 11-12 15-18 38-42 42-42 49-44 13-10z"/>
</g>
<g fill="none" stroke-linecap="butt"><rect x="31.3" y="13.7" width="600.0" height="355.7" fill="none" stroke="#231f20" stroke-width="2.2"/>
<rect x="31.3" y="402.2" width="600.0" height="355.7" fill="none" stroke="#231f20" stroke-width="2.2"/>
<rect x="670.0" y="13.7" width="600.0" height="355.7" fill="none" stroke="#231f20" stroke-width="2.2"/>
<rect x="670.0" y="402.2" width="600.0" height="355.7" fill="none" stroke="#231f20" stroke-width="2.2"/>
<path d="M32.8 3.5L32.8 15.0" stroke="#231f20" stroke-width="2.0" />
<path d="M32.8 368.0L32.8 379.0" stroke="#231f20" stroke-width="2.0" />
<path d="M32.8 392.5L32.8 403.5" stroke="#231f20" stroke-width="2.0" />
<path d="M32.8 756.5L32.8 767.6" stroke="#231f20" stroke-width="2.0" />
<path d="M91.6 3.5L91.6 15.0" stroke="#231f20" stroke-width="2.0" />
<path d="M91.6 368.0L91.6 379.0" stroke="#231f20" stroke-width="2.0" />
<path d="M91.6 392.5L91.6 403.5" stroke="#231f20" stroke-width="2.0" />
<path d="M91.6 756.5L91.6 767.6" stroke="#231f20" stroke-width="2.0" />
<path d="M150.4 3.5L150.4 15.0" stroke="#231f20" stroke-width="2.0" />
<path d="M150.4 368.0L150.4 379.0" stroke="#231f20" stroke-width="2.0" />
<path d="M150.4 392.5L150.4 403.5" stroke="#231f20" stroke-width="2.0" />
<path d="M150.4 756.5L150.4 767.6" stroke="#231f20" stroke-width="2.0" />
<path d="M278.5 3.5L278.5 15.0" stroke="#231f20" stroke-width="2.0" />
<path d="M278.5 368.0L278.5 379.0" stroke="#231f20" stroke-width="2.0" />
<path d="M278.5 392.5L278.5 403.5" stroke="#231f20" stroke-width="2.0" />
<path d="M278.5 756.5L278.5 767.6" stroke="#231f20" stroke-width="2.0" />
<path d="M337.1 3.5L337.1 15.0" stroke="#231f20" stroke-width="2.0" />
<path d="M337.1 368.0L337.1 379.0" stroke="#231f20" stroke-width="2.0" />
<path d="M337.1 392.5L337.1 403.5" stroke="#231f20" stroke-width="2.0" />
<path d="M337.1 756.5L337.1 767.6" stroke="#231f20" stroke-width="2.0" />
<path d="M395.7 -0.3L395.7 15.0" stroke="#231f20" stroke-width="2.0" />
<path d="M395.7 368.0L395.7 379.0" stroke="#231f20" stroke-width="2.0" />
<path d="M395.7 392.5L395.7 403.5" stroke="#231f20" stroke-width="2.0" />
<path d="M395.7 756.5L395.7 771.4" stroke="#231f20" stroke-width="2.0" />
<path d="M454.3 3.5L454.3 15.0" stroke="#231f20" stroke-width="2.0" />
<path d="M454.3 368.0L454.3 379.0" stroke="#231f20" stroke-width="2.0" />
<path d="M454.3 392.5L454.3 403.5" stroke="#231f20" stroke-width="2.0" />
<path d="M454.3 756.5L454.3 767.6" stroke="#231f20" stroke-width="2.0" />
<path d="M512.9 3.5L512.9 15.0" stroke="#231f20" stroke-width="2.0" />
<path d="M512.9 368.0L512.9 379.0" stroke="#231f20" stroke-width="2.0" />
<path d="M512.9 392.5L512.9 403.5" stroke="#231f20" stroke-width="2.0" />
<path d="M512.9 756.5L512.9 767.6" stroke="#231f20" stroke-width="2.0" />
<path d="M571.5 3.5L571.5 15.0" stroke="#231f20" stroke-width="2.0" />
<path d="M571.5 368.0L571.5 379.0" stroke="#231f20" stroke-width="2.0" />
<path d="M571.5 392.5L571.5 403.5" stroke="#231f20" stroke-width="2.0" />
<path d="M571.5 756.5L571.5 767.6" stroke="#231f20" stroke-width="2.0" />
<path d="M671.5 3.5L671.5 15.0" stroke="#231f20" stroke-width="2.0" />
<path d="M671.5 368.0L671.5 379.0" stroke="#231f20" stroke-width="2.0" />
<path d="M671.5 392.5L671.5 403.5" stroke="#231f20" stroke-width="2.0" />
<path d="M671.5 756.5L671.5 767.6" stroke="#231f20" stroke-width="2.0" />
<path d="M730.3 3.5L730.3 15.0" stroke="#231f20" stroke-width="2.0" />
<path d="M730.3 368.0L730.3 379.0" stroke="#231f20" stroke-width="2.0" />
<path d="M730.3 392.5L730.3 403.5" stroke="#231f20" stroke-width="2.0" />
<path d="M730.3 756.5L730.3 767.6" stroke="#231f20" stroke-width="2.0" />
<path d="M789.1 3.5L789.1 15.0" stroke="#231f20" stroke-width="2.0" />
<path d="M789.1 368.0L789.1 379.0" stroke="#231f20" stroke-width="2.0" />
<path d="M789.1 392.5L789.1 403.5" stroke="#231f20" stroke-width="2.0" />
<path d="M789.1 756.5L789.1 767.6" stroke="#231f20" stroke-width="2.0" />
<path d="M917.2 3.5L917.2 15.0" stroke="#231f20" stroke-width="2.0" />
<path d="M917.2 368.0L917.2 379.0" stroke="#231f20" stroke-width="2.0" />
<path d="M917.2 392.5L917.2 403.5" stroke="#231f20" stroke-width="2.0" />
<path d="M917.2 756.5L917.2 767.6" stroke="#231f20" stroke-width="2.0" />
<path d="M975.8 3.5L975.8 15.0" stroke="#231f20" stroke-width="2.0" />
<path d="M975.8 368.0L975.8 379.0" stroke="#231f20" stroke-width="2.0" />
<path d="M975.8 392.5L975.8 403.5" stroke="#231f20" stroke-width="2.0" />
<path d="M975.8 756.5L975.8 767.6" stroke="#231f20" stroke-width="2.0" />
<path d="M1034.4 -0.3L1034.4 15.0" stroke="#231f20" stroke-width="2.0" />
<path d="M1034.4 368.0L1034.4 379.0" stroke="#231f20" stroke-width="2.0" />
<path d="M1034.4 392.5L1034.4 403.5" stroke="#231f20" stroke-width="2.0" />
<path d="M1034.4 756.5L1034.4 771.4" stroke="#231f20" stroke-width="2.0" />
<path d="M1093.0 3.5L1093.0 15.0" stroke="#231f20" stroke-width="2.0" />
<path d="M1093.0 368.0L1093.0 379.0" stroke="#231f20" stroke-width="2.0" />
<path d="M1093.0 392.5L1093.0 403.5" stroke="#231f20" stroke-width="2.0" />
<path d="M1093.0 756.5L1093.0 767.6" stroke="#231f20" stroke-width="2.0" />
<path d="M1151.6 3.5L1151.6 15.0" stroke="#231f20" stroke-width="2.0" />
<path d="M1151.6 368.0L1151.6 379.0" stroke="#231f20" stroke-width="2.0" />
<path d="M1151.6 392.5L1151.6 403.5" stroke="#231f20" stroke-width="2.0" />
<path d="M1151.6 756.5L1151.6 767.6" stroke="#231f20" stroke-width="2.0" />
<path d="M1210.2 3.5L1210.2 15.0" stroke="#231f20" stroke-width="2.0" />
<path d="M1210.2 368.0L1210.2 379.0" stroke="#231f20" stroke-width="2.0" />
<path d="M1210.2 392.5L1210.2 403.5" stroke="#231f20" stroke-width="2.0" />
<path d="M1210.2 756.5L1210.2 767.6" stroke="#231f20" stroke-width="2.0" />
<path d="M17.2 74.0L33.3 74.0" stroke="#231f20" stroke-width="2.0" />
<path d="M629.8 74.0L645.5 74.0" stroke="#231f20" stroke-width="2.0" />
<path d="M655.0 74.0L671.5 74.0" stroke="#231f20" stroke-width="2.0" />
<path d="M1268.0 74.0L1283.8 74.0" stroke="#231f20" stroke-width="2.0" />
<path d="M17.2 132.7L33.3 132.7" stroke="#231f20" stroke-width="2.0" />
<path d="M629.8 132.7L645.5 132.7" stroke="#231f20" stroke-width="2.0" />
<path d="M655.0 132.7L671.5 132.7" stroke="#231f20" stroke-width="2.0" />
<path d="M1268.0 132.7L1283.8 132.7" stroke="#231f20" stroke-width="2.0" />
<path d="M17.2 191.3L33.3 191.3" stroke="#231f20" stroke-width="2.0" />
<path d="M629.8 191.3L645.5 191.3" stroke="#231f20" stroke-width="2.0" />
<path d="M655.0 191.3L671.5 191.3" stroke="#231f20" stroke-width="2.0" />
<path d="M1268.0 191.3L1283.8 191.3" stroke="#231f20" stroke-width="2.0" />
<path d="M17.2 249.9L33.3 249.9" stroke="#231f20" stroke-width="2.0" />
<path d="M629.8 249.9L645.5 249.9" stroke="#231f20" stroke-width="2.0" />
<path d="M655.0 249.9L671.5 249.9" stroke="#231f20" stroke-width="2.0" />
<path d="M1268.0 249.9L1283.8 249.9" stroke="#231f20" stroke-width="2.0" />
<path d="M17.2 308.6L33.3 308.6" stroke="#231f20" stroke-width="2.0" />
<path d="M629.8 308.6L645.5 308.6" stroke="#231f20" stroke-width="2.0" />
<path d="M655.0 308.6L671.5 308.6" stroke="#231f20" stroke-width="2.0" />
<path d="M1268.0 308.6L1283.8 308.6" stroke="#231f20" stroke-width="2.0" />
<path d="M17.2 367.2L33.3 367.2" stroke="#231f20" stroke-width="2.0" />
<path d="M629.8 367.2L645.5 367.2" stroke="#231f20" stroke-width="2.0" />
<path d="M655.0 367.2L671.5 367.2" stroke="#231f20" stroke-width="2.0" />
<path d="M1268.0 367.2L1283.8 367.2" stroke="#231f20" stroke-width="2.0" />
<path d="M17.2 462.5L33.3 462.5" stroke="#231f20" stroke-width="2.0" />
<path d="M629.8 462.5L645.5 462.5" stroke="#231f20" stroke-width="2.0" />
<path d="M655.0 462.5L671.5 462.5" stroke="#231f20" stroke-width="2.0" />
<path d="M1268.0 462.5L1283.8 462.5" stroke="#231f20" stroke-width="2.0" />
<path d="M17.2 521.1L33.3 521.1" stroke="#231f20" stroke-width="2.0" />
<path d="M629.8 521.1L645.5 521.1" stroke="#231f20" stroke-width="2.0" />
<path d="M655.0 521.1L671.5 521.1" stroke="#231f20" stroke-width="2.0" />
<path d="M1268.0 521.1L1283.8 521.1" stroke="#231f20" stroke-width="2.0" />
<path d="M17.2 579.8L33.3 579.8" stroke="#231f20" stroke-width="2.0" />
<path d="M629.8 579.8L645.5 579.8" stroke="#231f20" stroke-width="2.0" />
<path d="M655.0 579.8L671.5 579.8" stroke="#231f20" stroke-width="2.0" />
<path d="M1268.0 579.8L1283.8 579.8" stroke="#231f20" stroke-width="2.0" />
<path d="M17.2 638.5L33.3 638.5" stroke="#231f20" stroke-width="2.0" />
<path d="M629.8 638.5L645.5 638.5" stroke="#231f20" stroke-width="2.0" />
<path d="M655.0 638.5L671.5 638.5" stroke="#231f20" stroke-width="2.0" />
<path d="M1268.0 638.5L1283.8 638.5" stroke="#231f20" stroke-width="2.0" />
<path d="M17.2 697.1L33.3 697.1" stroke="#231f20" stroke-width="2.0" />
<path d="M629.8 697.1L645.5 697.1" stroke="#231f20" stroke-width="2.0" />
<path d="M655.0 697.1L671.5 697.1" stroke="#231f20" stroke-width="2.0" />
<path d="M1268.0 697.1L1283.8 697.1" stroke="#231f20" stroke-width="2.0" />
<path d="M17.2 755.8L33.3 755.8" stroke="#231f20" stroke-width="2.0" />
<path d="M629.8 755.8L645.5 755.8" stroke="#231f20" stroke-width="2.0" />
<path d="M655.0 755.8L671.5 755.8" stroke="#231f20" stroke-width="2.0" />
<path d="M1268.0 755.8L1283.8 755.8" stroke="#231f20" stroke-width="2.0" />
<path d="M206.6 22.9L220.6 4.5" stroke="#231f20" stroke-width="2.0" />
<path d="M218.7 22.9L232.7 4.5" stroke="#231f20" stroke-width="2.0" />
<path d="M206.6 411.4L220.6 393.0" stroke="#231f20" stroke-width="2.0" />
<path d="M218.7 411.4L232.7 393.0" stroke="#231f20" stroke-width="2.0" />
<path d="M845.3 22.9L859.3 4.5" stroke="#231f20" stroke-width="2.0" />
<path d="M857.4 22.9L871.4 4.5" stroke="#231f20" stroke-width="2.0" />
<path d="M845.3 411.4L859.3 393.0" stroke="#231f20" stroke-width="2.0" />
<path d="M857.4 411.4L871.4 393.0" stroke="#231f20" stroke-width="2.0" />
<path d="M205.8 360.4L220.5 378.9" stroke="#231f20" stroke-width="2.0" />
<path d="M217.9 360.4L232.6 378.9" stroke="#231f20" stroke-width="2.0" />
<path d="M205.8 748.9L220.5 767.4" stroke="#231f20" stroke-width="2.0" />
<path d="M217.9 748.9L232.6 767.4" stroke="#231f20" stroke-width="2.0" />
<path d="M844.5 360.4L859.2 378.9" stroke="#231f20" stroke-width="2.0" />
<path d="M856.6 360.4L871.3 378.9" stroke="#231f20" stroke-width="2.0" />
<path d="M844.5 748.9L859.2 767.4" stroke="#231f20" stroke-width="2.0" />
<path d="M856.6 748.9L871.3 767.4" stroke="#231f20" stroke-width="2.0" /></g>
<text x="29.8" y="806.6" font-size="42" text-anchor="middle" font-weight="normal" >190</text>
<text x="147.1" y="806.6" font-size="42" text-anchor="middle" font-weight="normal" >170</text>
<text x="280.3" y="806.6" font-size="42" text-anchor="middle" font-weight="normal" >70</text>
<text x="394.2" y="806.6" font-size="42" text-anchor="middle" font-weight="normal" >50</text>
<text x="514.5" y="806.6" font-size="42" text-anchor="middle" font-weight="normal" >30</text>
<text x="92.0" y="849" font-size="41.7"><tspan font-size="29.6" dy="-14.2">13</tspan><tspan dy="14.2">C NMR frequency (ppm)</tspan></text>
<text x="668.5" y="806.6" font-size="42" text-anchor="middle" font-weight="normal" >190</text>
<text x="785.8" y="806.6" font-size="42" text-anchor="middle" font-weight="normal" >170</text>
<text x="919.0" y="806.6" font-size="42" text-anchor="middle" font-weight="normal" >70</text>
<text x="1032.9" y="806.6" font-size="42" text-anchor="middle" font-weight="normal" >50</text>
<text x="1153.2" y="806.6" font-size="42" text-anchor="middle" font-weight="normal" >30</text>
<text x="730.7" y="849" font-size="41.7"><tspan font-size="29.6" dy="-14.2">13</tspan><tspan dy="14.2">C NMR frequency (ppm)</tspan></text>
<text x="1287.4" y="88.8" font-size="42" text-anchor="start" font-weight="normal" >20</text>
<text x="1287.4" y="206.1" font-size="42" text-anchor="start" font-weight="normal" >40</text>
<text x="1287.4" y="323.4" font-size="42" text-anchor="start" font-weight="normal" >60</text>
<text x="1287.4" y="477.3" font-size="42" text-anchor="start" font-weight="normal" >20</text>
<text x="1287.4" y="594.6" font-size="42" text-anchor="start" font-weight="normal" >40</text>
<text x="1287.4" y="711.9" font-size="42" text-anchor="start" font-weight="normal" >60</text>
<text transform="translate(1377.6,635.4) rotate(-90)" font-size="41.7"><tspan font-size="29.6" dy="-15">13</tspan><tspan dy="15">C NMR frequency (ppm)</tspan></text>
<text x="44.7" y="61.9" font-size="56" text-anchor="start" font-weight="bold" >a</text>
<text x="136.3" y="55.5" font-size="41.3">τ</text><text x="157.8" y="63" font-size="29" font-style="italic">e</text><text x="185" y="55.5" font-size="41.3">=</text><text x="221" y="55.5" font-size="41.3">0</text><text x="255.2" y="55.5" font-size="41.3">ms</text>
<text x="147.5" y="103.0" font-size="41.3" text-anchor="start" font-weight="normal" >(pH 12)</text>
<text x="813.0" y="57.2" font-size="41.3" text-anchor="start" font-weight="normal" >1.5 ms</text>
<text x="157.5" y="450.0" font-size="41.3" text-anchor="start" font-weight="normal" >400 ms</text>
<text x="792.5" y="449.8" font-size="41.3" text-anchor="start" font-weight="normal" >1.0 h</text>
<text x="1023.5" y="442.3" font-size="41.3" text-anchor="start" font-weight="normal" >V18</text>
<text x="821.5" y="544.0" font-size="41.3" text-anchor="start" font-weight="normal" >G33</text>
<text x="1130.0" y="607.0" font-size="41.3" text-anchor="start" font-weight="normal" >A30</text>
<text x="996.5" y="753.8" font-size="41.3" text-anchor="start" font-weight="normal" >V18</text>
<path d="M1081.0 449.4L1102.5 464.6" stroke="#231f20" stroke-width="3.6" fill="none"/><path d="M1111.5 471.0L1098.3 467.2L1103.5 459.8Z" fill="#231f20"/>
<path d="M833.0 553.0L796.2 590.6" stroke="#231f20" stroke-width="3.6" fill="none"/><path d="M788.5 598.5L794.4 586.1L800.8 592.4Z" fill="#231f20"/>
<path d="M1122.0 602.4L774.9 648.6" stroke="#231f20" stroke-width="3.6" fill="none"/><path d="M764.0 650.0L776.3 643.8L777.5 652.7Z" fill="#231f20"/>
<path d="M1164.6 612.5L1184.5 636.5" stroke="#231f20" stroke-width="3.6" fill="none"/><path d="M1191.5 645.0L1179.7 637.9L1186.7 632.1Z" fill="#231f20"/>
<path d="M989.0 734.5L782.9 704.9" stroke="#231f20" stroke-width="3.6" fill="none"/><path d="M772.0 703.3L785.5 700.7L784.2 709.6Z" fill="#231f20"/>
<path d="M1068.6 723.5L1096.0 710.7" stroke="#231f20" stroke-width="3.6" fill="none"/><path d="M1106.0 706.0L1096.1 715.6L1092.3 707.4Z" fill="#231f20"/>
<path d="M1071.4 738.6L1176.4 709.0" stroke="#231f20" stroke-width="3.6" fill="none"/><path d="M1187.0 706.0L1175.7 713.9L1173.3 705.2Z" fill="#231f20"/>
<rect x="147.2" y="880.5" width="96.3" height="90.3" fill="#b41f2b"/>
<rect x="243.2" y="880.5" width="96.3" height="90.3" fill="#f4cdb9"/>
<rect x="339.2" y="880.5" width="96.3" height="90.3" fill="#e8d8cf"/>
<rect x="435.2" y="880.5" width="96.3" height="90.3" fill="#e4d8d3"/>
<rect x="531.2" y="880.5" width="96.3" height="90.3" fill="#4556a6"/>
<rect x="147.2" y="970.5" width="96.3" height="90.3" fill="#f8b89c"/>
<rect x="243.2" y="970.5" width="96.3" height="90.3" fill="#d5dae6"/>
<rect x="339.2" y="970.5" width="96.3" height="90.3" fill="#e8d8cf"/>
<rect x="435.2" y="970.5" width="96.3" height="90.3" fill="#4556a6"/>
<rect x="531.2" y="970.5" width="96.3" height="90.3" fill="#e4d8d3"/>
<rect x="147.2" y="1060.4" width="96.3" height="90.3" fill="#d95547"/>
<rect x="243.2" y="1060.4" width="96.3" height="90.3" fill="#f8b89c"/>
<rect x="339.2" y="1060.4" width="96.3" height="90.3" fill="#4556a6"/>
<rect x="435.2" y="1060.4" width="96.3" height="90.3" fill="#e8d8cf"/>
<rect x="531.2" y="1060.4" width="96.3" height="90.3" fill="#e8d8cf"/>
<rect x="147.2" y="1150.4" width="96.3" height="90.3" fill="#f59d7d"/>
<rect x="243.2" y="1150.4" width="96.3" height="90.3" fill="#4556a6"/>
<rect x="339.2" y="1150.4" width="96.3" height="90.3" fill="#f8b89c"/>
<rect x="435.2" y="1150.4" width="96.3" height="90.3" fill="#d5dae6"/>
<rect x="531.2" y="1150.4" width="96.3" height="90.3" fill="#f4cdb9"/>
<rect x="147.2" y="1240.3" width="96.3" height="90.3" fill="#4556a6"/>
<rect x="243.2" y="1240.3" width="96.3" height="90.3" fill="#f59d7d"/>
<rect x="339.2" y="1240.3" width="96.3" height="90.3" fill="#d95547"/>
<rect x="435.2" y="1240.3" width="96.3" height="90.3" fill="#f8b89c"/>
<rect x="531.2" y="1240.3" width="96.3" height="90.3" fill="#b41f2b"/>
<rect x="738.7" y="880.7" width="96.6" height="90.4" fill="#cd4137"/>
<rect x="835.0" y="880.7" width="96.6" height="90.4" fill="#dcdcde"/>
<rect x="931.3" y="880.7" width="96.6" height="90.4" fill="#f1d3c5"/>
<rect x="1027.6" y="880.7" width="96.6" height="90.4" fill="#d4dbe8"/>
<rect x="1123.9" y="880.7" width="96.6" height="90.4" fill="#4556a6"/>
<rect x="738.7" y="970.8" width="96.6" height="90.4" fill="#f8b89c"/>
<rect x="835.0" y="970.8" width="96.6" height="90.4" fill="#d4dbe8"/>
<rect x="931.3" y="970.8" width="96.6" height="90.4" fill="#f6c3ab"/>
<rect x="1027.6" y="970.8" width="96.6" height="90.4" fill="#4556a6"/>
<rect x="1123.9" y="970.8" width="96.6" height="90.4" fill="#d4dbe8"/>
<rect x="738.7" y="1060.8" width="96.6" height="90.4" fill="#b41f2b"/>
<rect x="835.0" y="1060.8" width="96.6" height="90.4" fill="#f8b89c"/>
<rect x="931.3" y="1060.8" width="96.6" height="90.4" fill="#4556a6"/>
<rect x="1027.6" y="1060.8" width="96.6" height="90.4" fill="#f6c3ab"/>
<rect x="1123.9" y="1060.8" width="96.6" height="90.4" fill="#f1d3c5"/>
<rect x="738.7" y="1150.9" width="96.6" height="90.4" fill="#f4977a"/>
<rect x="835.0" y="1150.9" width="96.6" height="90.4" fill="#4556a6"/>
<rect x="931.3" y="1150.9" width="96.6" height="90.4" fill="#f8b89c"/>
<rect x="1027.6" y="1150.9" width="96.6" height="90.4" fill="#d4dbe8"/>
<rect x="1123.9" y="1150.9" width="96.6" height="90.4" fill="#dcdcde"/>
<rect x="738.7" y="1240.9" width="96.6" height="90.4" fill="#4556a6"/>
<rect x="835.0" y="1240.9" width="96.6" height="90.4" fill="#f4977a"/>
<rect x="931.3" y="1240.9" width="96.6" height="90.4" fill="#b41f2b"/>
<rect x="1027.6" y="1240.9" width="96.6" height="90.4" fill="#f8b89c"/>
<rect x="1123.9" y="1240.9" width="96.6" height="90.4" fill="#cd4137"/>
<path d="M195.2 1330.3v3.5" stroke="#231f20" stroke-width="1.6"/>
<path d="M147.2 925.5h-3.5" stroke="#231f20" stroke-width="1.6"/>
<path d="M291.2 1330.3v3.5" stroke="#231f20" stroke-width="1.6"/>
<path d="M147.2 1015.4h-3.5" stroke="#231f20" stroke-width="1.6"/>
<path d="M387.2 1330.3v3.5" stroke="#231f20" stroke-width="1.6"/>
<path d="M147.2 1105.4h-3.5" stroke="#231f20" stroke-width="1.6"/>
<path d="M483.2 1330.3v3.5" stroke="#231f20" stroke-width="1.6"/>
<path d="M147.2 1195.4h-3.5" stroke="#231f20" stroke-width="1.6"/>
<path d="M579.2 1330.3v3.5" stroke="#231f20" stroke-width="1.6"/>
<path d="M147.2 1285.3h-3.5" stroke="#231f20" stroke-width="1.6"/>
<path d="M786.9 1331.0v3.5" stroke="#231f20" stroke-width="1.6"/>
<path d="M738.7 925.7h-3.5" stroke="#231f20" stroke-width="1.6"/>
<path d="M883.2 1331.0v3.5" stroke="#231f20" stroke-width="1.6"/>
<path d="M738.7 1015.8h-3.5" stroke="#231f20" stroke-width="1.6"/>
<path d="M979.5 1331.0v3.5" stroke="#231f20" stroke-width="1.6"/>
<path d="M738.7 1105.9h-3.5" stroke="#231f20" stroke-width="1.6"/>
<path d="M1075.8 1331.0v3.5" stroke="#231f20" stroke-width="1.6"/>
<path d="M738.7 1195.9h-3.5" stroke="#231f20" stroke-width="1.6"/>
<path d="M1172.0 1331.0v3.5" stroke="#231f20" stroke-width="1.6"/>
<path d="M738.7 1286.0h-3.5" stroke="#231f20" stroke-width="1.6"/>
<defs><linearGradient id="cb" x1="0" y1="1" x2="0" y2="0"><stop offset="0" stop-color="#4556a6"/><stop offset="0.1" stop-color="#6278bb"/><stop offset="0.2" stop-color="#809bd0"/><stop offset="0.3" stop-color="#a3bce3"/><stop offset="0.4" stop-color="#c2d3ee"/><stop offset="0.5" stop-color="#dddcdc"/><stop offset="0.6" stop-color="#f3cbb7"/><stop offset="0.7" stop-color="#f5ad90"/><stop offset="0.8" stop-color="#ee8769"/><stop offset="0.9" stop-color="#d85646"/><stop offset="1" stop-color="#b41f2b"/></linearGradient></defs>
<rect x="1250.2" y="880.7" width="22.1" height="450.3" fill="url(#cb)"/>
<path d="M1272.3 1331.0h3.5" stroke="#231f20" stroke-width="1.6"/>
<text x="1284.5" y="1346.9" font-size="42.3" text-anchor="start" font-weight="normal" >0.0</text>
<path d="M1272.3 1240.9h3.5" stroke="#231f20" stroke-width="1.6"/>
<text x="1284.5" y="1256.8" font-size="42.3" text-anchor="start" font-weight="normal" >0.2</text>
<path d="M1272.3 1150.9h3.5" stroke="#231f20" stroke-width="1.6"/>
<text x="1284.5" y="1166.8" font-size="42.3" text-anchor="start" font-weight="normal" >0.4</text>
<path d="M1272.3 1060.8h3.5" stroke="#231f20" stroke-width="1.6"/>
<text x="1284.5" y="1076.7" font-size="42.3" text-anchor="start" font-weight="normal" >0.6</text>
<path d="M1272.3 970.8h3.5" stroke="#231f20" stroke-width="1.6"/>
<text x="1284.5" y="986.7" font-size="42.3" text-anchor="start" font-weight="normal" >0.8</text>
<path d="M1272.3 880.7h3.5" stroke="#231f20" stroke-width="1.6"/>
<text x="1284.5" y="896.6" font-size="42.3" text-anchor="start" font-weight="normal" >1.0</text>
<text transform="translate(1382.3,1086.5) rotate(-90)" font-size="41.8" text-anchor="middle">Normalized rmsd</text>
<text transform="translate(232.7,1354.3) rotate(-45)" font-size="32.6" text-anchor="end">0 ms</text>
<text transform="translate(139.2,1270.3) rotate(-45)" font-size="32.6" text-anchor="end">0 ms</text>
<text transform="translate(328.7,1354.3) rotate(-45)" font-size="32.6" text-anchor="end">1.5 ms</text>
<text transform="translate(139.2,1180.4) rotate(-45)" font-size="32.6" text-anchor="end">1.5 ms</text>
<text transform="translate(424.7,1354.3) rotate(-45)" font-size="32.6" text-anchor="end">23 ms</text>
<text transform="translate(139.2,1090.4) rotate(-45)" font-size="32.6" text-anchor="end">23 ms</text>
<text transform="translate(520.7,1354.3) rotate(-45)" font-size="32.6" text-anchor="end">400 ms</text>
<text transform="translate(139.2,1000.4) rotate(-45)" font-size="32.6" text-anchor="end">400 ms</text>
<text transform="translate(616.7,1354.3) rotate(-45)" font-size="32.6" text-anchor="end">1.0 h</text>
<text transform="translate(139.2,910.5) rotate(-45)" font-size="32.6" text-anchor="end">1.0 h</text>
<text x="283.5" y="1465.0" font-size="42" text-anchor="start" font-weight="normal" >Evolution time</text>
<text transform="translate(824.4,1355.0) rotate(-45)" font-size="32.6" text-anchor="end">0 ms</text>
<text transform="translate(730.7,1271.0) rotate(-45)" font-size="32.6" text-anchor="end">0 ms</text>
<text transform="translate(920.7,1355.0) rotate(-45)" font-size="32.6" text-anchor="end">1.5 ms</text>
<text transform="translate(730.7,1180.9) rotate(-45)" font-size="32.6" text-anchor="end">1.5 ms</text>
<text transform="translate(1017.0,1355.0) rotate(-45)" font-size="32.6" text-anchor="end">23 ms</text>
<text transform="translate(730.7,1090.9) rotate(-45)" font-size="32.6" text-anchor="end">23 ms</text>
<text transform="translate(1113.2,1355.0) rotate(-45)" font-size="32.6" text-anchor="end">400 ms</text>
<text transform="translate(730.7,1000.8) rotate(-45)" font-size="32.6" text-anchor="end">400 ms</text>
<text transform="translate(1209.5,1355.0) rotate(-45)" font-size="32.6" text-anchor="end">1.0 h</text>
<text transform="translate(730.7,910.7) rotate(-45)" font-size="32.6" text-anchor="end">1.0 h</text>
<text x="866.9" y="1465.0" font-size="42" text-anchor="start" font-weight="normal" >Evolution time</text>
<text transform="translate(33.5,1100) rotate(-90)" font-size="41.5" text-anchor="middle">Evolution time</text>
<text x="45.3" y="898.0" font-size="56" text-anchor="start" font-weight="bold" >b</text>
<text x="658.8" y="898.0" font-size="56" text-anchor="start" font-weight="bold" >c</text>
</svg></body></html>
